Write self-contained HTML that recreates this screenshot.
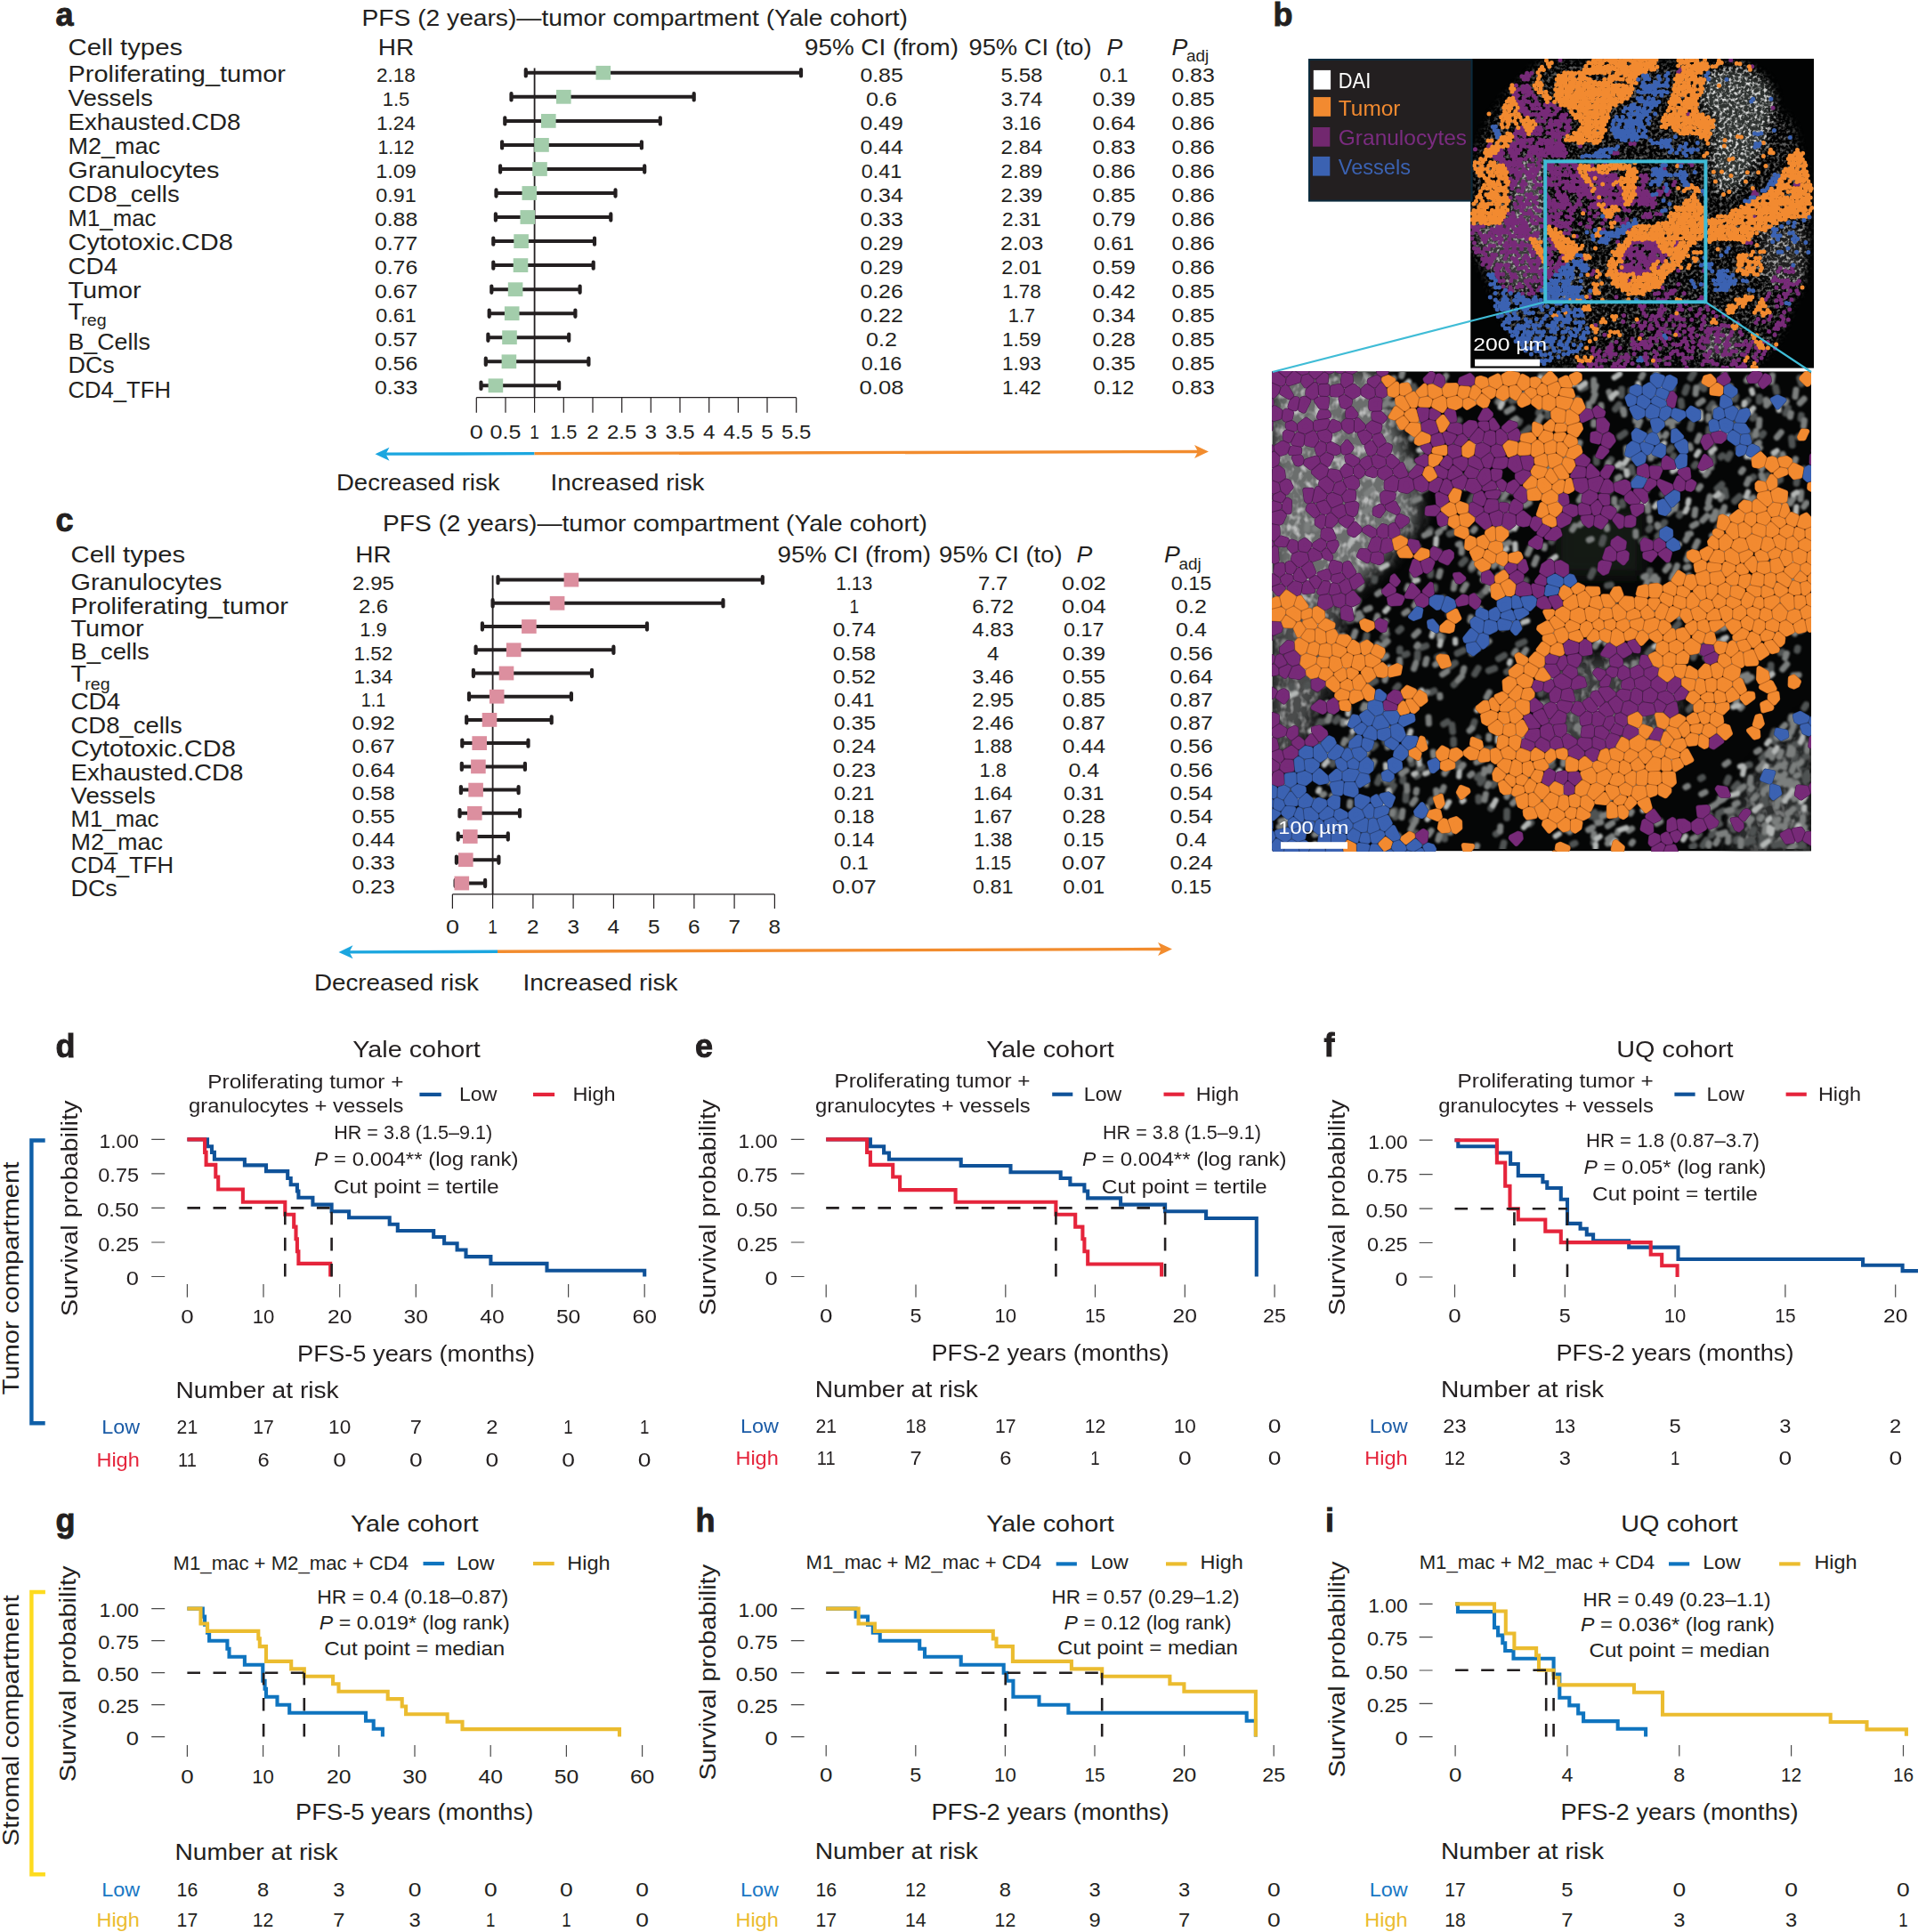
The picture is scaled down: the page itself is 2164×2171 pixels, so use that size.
<!DOCTYPE html><html><head><meta charset="utf-8"><title>Figure</title><style>html,body{margin:0;padding:0;background:#fff}svg{display:block}text{font-family:"Liberation Sans",sans-serif}</style></head><body>
<svg width="2164" height="2171" viewBox="0 0 2164 2171">
<rect width="2164" height="2171" fill="#fff"/>
<g fill="#231f20">
<g>
<text x="62.5" y="28.7" font-size="36.0" font-weight="bold" stroke="#231f20" stroke-width="0.9">a</text>
<text x="406.5" y="28.7" font-size="25.4" textLength="613.5" lengthAdjust="spacingAndGlyphs">PFS (2 years)—tumor compartment (Yale cohort)</text>
<text x="76.5" y="61.8" font-size="25.4" textLength="128.6" lengthAdjust="spacingAndGlyphs">Cell types</text>
<text x="424.8" y="61.8" font-size="25.4" textLength="40.4" lengthAdjust="spacingAndGlyphs">HR</text>
<text x="904.0" y="61.8" font-size="25.4" textLength="173.0" lengthAdjust="spacingAndGlyphs">95% CI (from)</text>
<text x="1088.5" y="61.8" font-size="25.4" textLength="138.0" lengthAdjust="spacingAndGlyphs">95% CI (to)</text>
<text x="1243.5" y="61.8" font-size="25.4" textLength="17.8" lengthAdjust="spacingAndGlyphs" font-style="italic">P</text>
<text x="1316.5" y="61.8" font-size="25.4" textLength="17.8" lengthAdjust="spacingAndGlyphs" font-style="italic">P</text>
<text x="1333.0" y="69.3" font-size="17.5" textLength="25.2" lengthAdjust="spacingAndGlyphs">adj</text>
<path d="M600.6 76.5V446.7" stroke="#231f20" stroke-width="1.8" fill="none"/>
<path d="M535.3 446.7H894.7M535.3 446.7v17.0M568.0 446.7v17.0M600.6 446.7v17.0M633.3 446.7v17.0M666.0 446.7v17.0M698.7 446.7v17.0M731.3 446.7v17.0M764.0 446.7v17.0M796.7 446.7v17.0M829.4 446.7v17.0M862.0 446.7v17.0M894.7 446.7v17.0" stroke="#231f20" stroke-width="1.2" fill="none"/>
<text x="527.8" y="492.7" font-size="22.5" textLength="15.0" lengthAdjust="spacingAndGlyphs">0</text>
<text x="550.6" y="492.7" font-size="22.5" textLength="34.8" lengthAdjust="spacingAndGlyphs">0.5</text>
<text x="595.3" y="492.7" font-size="22.5" textLength="10.6" lengthAdjust="spacingAndGlyphs">1</text>
<text x="618.1" y="492.7" font-size="22.5" textLength="30.4" lengthAdjust="spacingAndGlyphs">1.5</text>
<text x="659.2" y="492.7" font-size="22.5" textLength="13.5" lengthAdjust="spacingAndGlyphs">2</text>
<text x="682.0" y="492.7" font-size="22.5" textLength="33.3" lengthAdjust="spacingAndGlyphs">2.5</text>
<text x="724.6" y="492.7" font-size="22.5" textLength="13.5" lengthAdjust="spacingAndGlyphs">3</text>
<text x="747.4" y="492.7" font-size="22.5" textLength="33.3" lengthAdjust="spacingAndGlyphs">3.5</text>
<text x="789.9" y="492.7" font-size="22.5" textLength="13.5" lengthAdjust="spacingAndGlyphs">4</text>
<text x="812.7" y="492.7" font-size="22.5" textLength="33.3" lengthAdjust="spacingAndGlyphs">4.5</text>
<text x="855.3" y="492.7" font-size="22.5" textLength="13.5" lengthAdjust="spacingAndGlyphs">5</text>
<text x="878.1" y="492.7" font-size="22.5" textLength="33.3" lengthAdjust="spacingAndGlyphs">5.5</text>
<text x="76.5" y="91.6" font-size="25.4" textLength="244.5" lengthAdjust="spacingAndGlyphs">Proliferating_tumor</text>
<text x="423.0" y="91.6" font-size="22.5">2.18</text>
<text x="966.4" y="91.6" font-size="22.5" textLength="48.3" lengthAdjust="spacingAndGlyphs">0.85</text>
<text x="1124.6" y="91.6" font-size="22.5" textLength="46.8" lengthAdjust="spacingAndGlyphs">5.58</text>
<text x="1235.5" y="91.6" font-size="22.5" textLength="31.9" lengthAdjust="spacingAndGlyphs">0.1</text>
<text x="1316.4" y="91.6" font-size="22.5" textLength="48.3" lengthAdjust="spacingAndGlyphs">0.83</text>
<text x="76.5" y="118.6" font-size="25.4" textLength="95.3" lengthAdjust="spacingAndGlyphs">Vessels</text>
<text x="429.8" y="118.6" font-size="22.5" textLength="30.4" lengthAdjust="spacingAndGlyphs">1.5</text>
<text x="973.1" y="118.6" font-size="22.5" textLength="34.8" lengthAdjust="spacingAndGlyphs">0.6</text>
<text x="1124.6" y="118.6" font-size="22.5" textLength="46.8" lengthAdjust="spacingAndGlyphs">3.74</text>
<text x="1227.4" y="118.6" font-size="22.5" textLength="48.3" lengthAdjust="spacingAndGlyphs">0.39</text>
<text x="1316.4" y="118.6" font-size="22.5" textLength="48.3" lengthAdjust="spacingAndGlyphs">0.85</text>
<text x="76.5" y="145.7" font-size="25.4" textLength="194.0" lengthAdjust="spacingAndGlyphs">Exhausted.CD8</text>
<text x="423.0" y="145.7" font-size="22.5">1.24</text>
<text x="966.4" y="145.7" font-size="22.5" textLength="48.3" lengthAdjust="spacingAndGlyphs">0.49</text>
<text x="1126.0" y="145.7" font-size="22.5">3.16</text>
<text x="1227.4" y="145.7" font-size="22.5" textLength="48.3" lengthAdjust="spacingAndGlyphs">0.64</text>
<text x="1316.4" y="145.7" font-size="22.5" textLength="48.3" lengthAdjust="spacingAndGlyphs">0.86</text>
<text x="76.5" y="172.8" font-size="25.4" textLength="103.5" lengthAdjust="spacingAndGlyphs">M2_mac</text>
<text x="424.5" y="172.7" font-size="22.5" textLength="41.0" lengthAdjust="spacingAndGlyphs">1.12</text>
<text x="966.4" y="172.7" font-size="22.5" textLength="48.3" lengthAdjust="spacingAndGlyphs">0.44</text>
<text x="1124.6" y="172.7" font-size="22.5" textLength="46.8" lengthAdjust="spacingAndGlyphs">2.84</text>
<text x="1227.4" y="172.7" font-size="22.5" textLength="48.3" lengthAdjust="spacingAndGlyphs">0.83</text>
<text x="1316.4" y="172.7" font-size="22.5" textLength="48.3" lengthAdjust="spacingAndGlyphs">0.86</text>
<text x="76.5" y="199.8" font-size="25.4" textLength="170.0" lengthAdjust="spacingAndGlyphs">Granulocytes</text>
<text x="422.3" y="199.8" font-size="22.5" textLength="45.4" lengthAdjust="spacingAndGlyphs">1.09</text>
<text x="967.8" y="199.8" font-size="22.5" textLength="45.4" lengthAdjust="spacingAndGlyphs">0.41</text>
<text x="1124.6" y="199.8" font-size="22.5" textLength="46.8" lengthAdjust="spacingAndGlyphs">2.89</text>
<text x="1227.4" y="199.8" font-size="22.5" textLength="48.3" lengthAdjust="spacingAndGlyphs">0.86</text>
<text x="1316.4" y="199.8" font-size="22.5" textLength="48.3" lengthAdjust="spacingAndGlyphs">0.86</text>
<text x="76.5" y="226.8" font-size="25.4" textLength="125.2" lengthAdjust="spacingAndGlyphs">CD8_cells</text>
<text x="422.3" y="226.8" font-size="22.5" textLength="45.4" lengthAdjust="spacingAndGlyphs">0.91</text>
<text x="966.4" y="226.8" font-size="22.5" textLength="48.3" lengthAdjust="spacingAndGlyphs">0.34</text>
<text x="1124.6" y="226.8" font-size="22.5" textLength="46.8" lengthAdjust="spacingAndGlyphs">2.39</text>
<text x="1227.4" y="226.8" font-size="22.5" textLength="48.3" lengthAdjust="spacingAndGlyphs">0.85</text>
<text x="1316.4" y="226.8" font-size="22.5" textLength="48.3" lengthAdjust="spacingAndGlyphs">0.86</text>
<text x="76.5" y="253.9" font-size="25.4" textLength="99.0" lengthAdjust="spacingAndGlyphs">M1_mac</text>
<text x="420.9" y="253.8" font-size="22.5" textLength="48.3" lengthAdjust="spacingAndGlyphs">0.88</text>
<text x="966.4" y="253.8" font-size="22.5" textLength="48.3" lengthAdjust="spacingAndGlyphs">0.33</text>
<text x="1126.0" y="253.8" font-size="22.5">2.31</text>
<text x="1227.4" y="253.8" font-size="22.5" textLength="48.3" lengthAdjust="spacingAndGlyphs">0.79</text>
<text x="1316.4" y="253.8" font-size="22.5" textLength="48.3" lengthAdjust="spacingAndGlyphs">0.86</text>
<text x="76.5" y="280.9" font-size="25.4" textLength="185.4" lengthAdjust="spacingAndGlyphs">Cytotoxic.CD8</text>
<text x="420.9" y="280.9" font-size="22.5" textLength="48.3" lengthAdjust="spacingAndGlyphs">0.77</text>
<text x="966.4" y="280.9" font-size="22.5" textLength="48.3" lengthAdjust="spacingAndGlyphs">0.29</text>
<text x="1123.9" y="280.9" font-size="22.5" textLength="48.3" lengthAdjust="spacingAndGlyphs">2.03</text>
<text x="1228.8" y="280.9" font-size="22.5" textLength="45.4" lengthAdjust="spacingAndGlyphs">0.61</text>
<text x="1316.4" y="280.9" font-size="22.5" textLength="48.3" lengthAdjust="spacingAndGlyphs">0.86</text>
<text x="76.5" y="308.0" font-size="25.4" textLength="55.7" lengthAdjust="spacingAndGlyphs">CD4</text>
<text x="420.9" y="307.9" font-size="22.5" textLength="48.3" lengthAdjust="spacingAndGlyphs">0.76</text>
<text x="966.4" y="307.9" font-size="22.5" textLength="48.3" lengthAdjust="spacingAndGlyphs">0.29</text>
<text x="1125.3" y="307.9" font-size="22.5" textLength="45.4" lengthAdjust="spacingAndGlyphs">2.01</text>
<text x="1227.4" y="307.9" font-size="22.5" textLength="48.3" lengthAdjust="spacingAndGlyphs">0.59</text>
<text x="1316.4" y="307.9" font-size="22.5" textLength="48.3" lengthAdjust="spacingAndGlyphs">0.86</text>
<text x="76.5" y="335.1" font-size="25.4" textLength="82.2" lengthAdjust="spacingAndGlyphs">Tumor</text>
<text x="420.9" y="335.0" font-size="22.5" textLength="48.3" lengthAdjust="spacingAndGlyphs">0.67</text>
<text x="966.4" y="335.0" font-size="22.5" textLength="48.3" lengthAdjust="spacingAndGlyphs">0.26</text>
<text x="1126.0" y="335.0" font-size="22.5">1.78</text>
<text x="1227.4" y="335.0" font-size="22.5" textLength="48.3" lengthAdjust="spacingAndGlyphs">0.42</text>
<text x="1316.4" y="335.0" font-size="22.5" textLength="48.3" lengthAdjust="spacingAndGlyphs">0.85</text>
<text x="76.5" y="358.9" font-size="25.4" textLength="17.5" lengthAdjust="spacingAndGlyphs">T</text>
<text x="91.3" y="366.4" font-size="17.5" textLength="28.3" lengthAdjust="spacingAndGlyphs">reg</text>
<text x="422.3" y="362.0" font-size="22.5" textLength="45.4" lengthAdjust="spacingAndGlyphs">0.61</text>
<text x="966.4" y="362.0" font-size="22.5" textLength="48.3" lengthAdjust="spacingAndGlyphs">0.22</text>
<text x="1132.8" y="362.0" font-size="22.5" textLength="30.4" lengthAdjust="spacingAndGlyphs">1.7</text>
<text x="1227.4" y="362.0" font-size="22.5" textLength="48.3" lengthAdjust="spacingAndGlyphs">0.34</text>
<text x="1316.4" y="362.0" font-size="22.5" textLength="48.3" lengthAdjust="spacingAndGlyphs">0.85</text>
<text x="76.5" y="392.5" font-size="25.4" textLength="92.3" lengthAdjust="spacingAndGlyphs">B_Cells</text>
<text x="420.9" y="389.0" font-size="22.5" textLength="48.3" lengthAdjust="spacingAndGlyphs">0.57</text>
<text x="973.1" y="389.0" font-size="22.5" textLength="34.8" lengthAdjust="spacingAndGlyphs">0.2</text>
<text x="1126.0" y="389.0" font-size="22.5">1.59</text>
<text x="1227.4" y="389.0" font-size="22.5" textLength="48.3" lengthAdjust="spacingAndGlyphs">0.28</text>
<text x="1316.4" y="389.0" font-size="22.5" textLength="48.3" lengthAdjust="spacingAndGlyphs">0.85</text>
<text x="76.5" y="419.4" font-size="25.4" textLength="52.3" lengthAdjust="spacingAndGlyphs">DCs</text>
<text x="420.9" y="416.1" font-size="22.5" textLength="48.3" lengthAdjust="spacingAndGlyphs">0.56</text>
<text x="967.8" y="416.1" font-size="22.5" textLength="45.4" lengthAdjust="spacingAndGlyphs">0.16</text>
<text x="1126.0" y="416.1" font-size="22.5">1.93</text>
<text x="1227.4" y="416.1" font-size="22.5" textLength="48.3" lengthAdjust="spacingAndGlyphs">0.35</text>
<text x="1316.4" y="416.1" font-size="22.5" textLength="48.3" lengthAdjust="spacingAndGlyphs">0.85</text>
<text x="76.5" y="446.7" font-size="25.4" textLength="115.5" lengthAdjust="spacingAndGlyphs">CD4_TFH</text>
<text x="420.9" y="443.1" font-size="22.5" textLength="48.3" lengthAdjust="spacingAndGlyphs">0.33</text>
<text x="965.6" y="443.1" font-size="22.5" textLength="49.8" lengthAdjust="spacingAndGlyphs">0.08</text>
<text x="1126.0" y="443.1" font-size="22.5">1.42</text>
<text x="1228.8" y="443.1" font-size="22.5" textLength="45.4" lengthAdjust="spacingAndGlyphs">0.12</text>
<text x="1316.4" y="443.1" font-size="22.5" textLength="48.3" lengthAdjust="spacingAndGlyphs">0.83</text>
<path d="M590.8 81.8H900.0M574.5 108.8H779.7M567.3 135.9H741.8M564.1 162.9H720.9M562.1 190.0H724.2M557.5 217.0H691.5M556.9 244.0H686.3M554.3 271.1H668.0M554.3 298.1H666.7M552.3 325.2H651.6M549.7 352.2H646.4M548.4 379.2H639.2M545.8 406.3H661.4M540.5 433.3H628.1" stroke="#231f20" stroke-width="4" fill="none"/>
<path d="M590.8 78.2v7.2M900.0 78.2v7.2M574.5 105.2v7.2M779.7 105.2v7.2M567.3 132.3v7.2M741.8 132.3v7.2M564.1 159.3v7.2M720.9 159.3v7.2M562.1 186.4v7.2M724.2 186.4v7.2M557.5 213.4v7.2M691.5 213.4v7.2M556.9 240.4v7.2M686.3 240.4v7.2M554.3 267.5v7.2M668.0 267.5v7.2M554.3 294.5v7.2M666.7 294.5v7.2M552.3 321.6v7.2M651.6 321.6v7.2M549.7 348.6v7.2M646.4 348.6v7.2M548.4 375.6v7.2M639.2 375.6v7.2M545.8 402.7v7.2M661.4 402.7v7.2M540.5 429.7v7.2M628.1 429.7v7.2" stroke="#231f20" stroke-width="4.2" stroke-linecap="round" fill="none"/>
<g fill="#a3cdab"><rect x="669.5" y="73.9" width="16.6" height="15.8"/><rect x="625.0" y="100.9" width="16.6" height="15.8"/><rect x="608.0" y="128.0" width="16.6" height="15.8"/><rect x="600.2" y="155.0" width="16.6" height="15.8"/><rect x="598.2" y="182.1" width="16.6" height="15.8"/><rect x="586.5" y="209.1" width="16.6" height="15.8"/><rect x="584.5" y="236.1" width="16.6" height="15.8"/><rect x="577.3" y="263.2" width="16.6" height="15.8"/><rect x="576.7" y="290.2" width="16.6" height="15.8"/><rect x="570.8" y="317.3" width="16.6" height="15.8"/><rect x="566.9" y="344.3" width="16.6" height="15.8"/><rect x="564.2" y="371.3" width="16.6" height="15.8"/><rect x="563.6" y="398.4" width="16.6" height="15.8"/><rect x="548.6" y="425.4" width="16.6" height="15.8"/></g>
<g transform="rotate(-0.17 889.8 508.8)">
<path d="M429.5 508.8H600.5" stroke="#1ba6df" stroke-width="3.4"/>
<path d="M421.5 508.8l16 -7.5l-4 7.5l4 7.5z" fill="#1ba6df"/>
<path d="M600.5 508.8H1350.0" stroke="#f28c2e" stroke-width="3.4"/>
<path d="M1358.0 508.8l-16 -7.5l4 7.5l-4 7.5z" fill="#f28c2e"/>
</g>
<text x="378.0" y="551.4" font-size="25.4" textLength="183.5" lengthAdjust="spacingAndGlyphs">Decreased risk</text>
<text x="618.5" y="551.4" font-size="25.4" textLength="173.0" lengthAdjust="spacingAndGlyphs">Increased risk</text>
</g>
<g>
<text x="62.5" y="596.6" font-size="36.0" font-weight="bold" stroke="#231f20" stroke-width="0.9">c</text>
<text x="430.0" y="596.6" font-size="25.4" textLength="612.0" lengthAdjust="spacingAndGlyphs">PFS (2 years)—tumor compartment (Yale cohort)</text>
<text x="79.5" y="632.0" font-size="25.4" textLength="128.6" lengthAdjust="spacingAndGlyphs">Cell types</text>
<text x="399.3" y="632.0" font-size="25.4" textLength="40.4" lengthAdjust="spacingAndGlyphs">HR</text>
<text x="873.5" y="632.0" font-size="25.4" textLength="172.5" lengthAdjust="spacingAndGlyphs">95% CI (from)</text>
<text x="1055.0" y="632.0" font-size="25.4" textLength="138.5" lengthAdjust="spacingAndGlyphs">95% CI (to)</text>
<text x="1209.5" y="632.0" font-size="25.4" textLength="17.8" lengthAdjust="spacingAndGlyphs" font-style="italic">P</text>
<text x="1308.0" y="632.0" font-size="25.4" textLength="17.8" lengthAdjust="spacingAndGlyphs" font-style="italic">P</text>
<text x="1324.5" y="639.5" font-size="17.5" textLength="25.2" lengthAdjust="spacingAndGlyphs">adj</text>
<path d="M553.6 646.5V1004.9" stroke="#231f20" stroke-width="1.8" fill="none"/>
<path d="M508.4 1004.9H870.4M508.4 1004.9v16.0M553.6 1004.9v16.0M598.9 1004.9v16.0M644.1 1004.9v16.0M689.4 1004.9v16.0M734.6 1004.9v16.0M779.9 1004.9v16.0M825.1 1004.9v16.0M870.4 1004.9v16.0" stroke="#231f20" stroke-width="1.2" fill="none"/>
<text x="500.9" y="1049.0" font-size="22.5" textLength="15.0" lengthAdjust="spacingAndGlyphs">0</text>
<text x="548.3" y="1049.0" font-size="22.5" textLength="10.6" lengthAdjust="spacingAndGlyphs">1</text>
<text x="592.1" y="1049.0" font-size="22.5" textLength="13.5" lengthAdjust="spacingAndGlyphs">2</text>
<text x="637.4" y="1049.0" font-size="22.5" textLength="13.5" lengthAdjust="spacingAndGlyphs">3</text>
<text x="682.6" y="1049.0" font-size="22.5" textLength="13.5" lengthAdjust="spacingAndGlyphs">4</text>
<text x="727.9" y="1049.0" font-size="22.5" textLength="13.5" lengthAdjust="spacingAndGlyphs">5</text>
<text x="773.1" y="1049.0" font-size="22.5" textLength="13.5" lengthAdjust="spacingAndGlyphs">6</text>
<text x="818.4" y="1049.0" font-size="22.5" textLength="13.5" lengthAdjust="spacingAndGlyphs">7</text>
<text x="863.6" y="1049.0" font-size="22.5" textLength="13.5" lengthAdjust="spacingAndGlyphs">8</text>
<text x="79.5" y="662.8" font-size="25.4" textLength="170.0" lengthAdjust="spacingAndGlyphs">Granulocytes</text>
<text x="396.1" y="662.8" font-size="22.5" textLength="46.8" lengthAdjust="spacingAndGlyphs">2.95</text>
<text x="939.3" y="662.8" font-size="22.5" textLength="41.0" lengthAdjust="spacingAndGlyphs">1.13</text>
<text x="1099.1" y="662.8" font-size="22.5" textLength="33.3" lengthAdjust="spacingAndGlyphs">7.7</text>
<text x="1192.9" y="662.8" font-size="22.5" textLength="49.8" lengthAdjust="spacingAndGlyphs">0.02</text>
<text x="1315.8" y="662.8" font-size="22.5" textLength="45.4" lengthAdjust="spacingAndGlyphs">0.15</text>
<text x="79.5" y="689.7" font-size="25.4" textLength="244.5" lengthAdjust="spacingAndGlyphs">Proliferating_tumor</text>
<text x="402.9" y="689.0" font-size="22.5" textLength="33.3" lengthAdjust="spacingAndGlyphs">2.6</text>
<text x="954.5" y="689.0" font-size="22.5" textLength="10.6" lengthAdjust="spacingAndGlyphs">1</text>
<text x="1092.3" y="689.0" font-size="22.5" textLength="46.8" lengthAdjust="spacingAndGlyphs">6.72</text>
<text x="1192.9" y="689.0" font-size="22.5" textLength="49.8" lengthAdjust="spacingAndGlyphs">0.04</text>
<text x="1321.1" y="689.0" font-size="22.5" textLength="34.8" lengthAdjust="spacingAndGlyphs">0.2</text>
<text x="79.5" y="715.1" font-size="25.4" textLength="82.2" lengthAdjust="spacingAndGlyphs">Tumor</text>
<text x="404.3" y="715.2" font-size="22.5" textLength="30.4" lengthAdjust="spacingAndGlyphs">1.9</text>
<text x="935.7" y="715.2" font-size="22.5" textLength="48.3" lengthAdjust="spacingAndGlyphs">0.74</text>
<text x="1092.3" y="715.2" font-size="22.5" textLength="46.8" lengthAdjust="spacingAndGlyphs">4.83</text>
<text x="1195.1" y="715.2" font-size="22.5" textLength="45.4" lengthAdjust="spacingAndGlyphs">0.17</text>
<text x="1321.1" y="715.2" font-size="22.5" textLength="34.8" lengthAdjust="spacingAndGlyphs">0.4</text>
<text x="79.5" y="741.3" font-size="25.4" textLength="88.2" lengthAdjust="spacingAndGlyphs">B_cells</text>
<text x="397.5" y="741.5" font-size="22.5">1.52</text>
<text x="935.7" y="741.5" font-size="22.5" textLength="48.3" lengthAdjust="spacingAndGlyphs">0.58</text>
<text x="1108.9" y="741.5" font-size="22.5" textLength="13.5" lengthAdjust="spacingAndGlyphs">4</text>
<text x="1193.7" y="741.5" font-size="22.5" textLength="48.3" lengthAdjust="spacingAndGlyphs">0.39</text>
<text x="1314.4" y="741.5" font-size="22.5" textLength="48.3" lengthAdjust="spacingAndGlyphs">0.56</text>
<text x="79.5" y="765.6" font-size="25.4" textLength="17.5" lengthAdjust="spacingAndGlyphs">T</text>
<text x="95.3" y="774.7" font-size="17.5" textLength="28.3" lengthAdjust="spacingAndGlyphs">reg</text>
<text x="397.5" y="767.7" font-size="22.5">1.34</text>
<text x="935.7" y="767.7" font-size="22.5" textLength="48.3" lengthAdjust="spacingAndGlyphs">0.52</text>
<text x="1092.3" y="767.7" font-size="22.5" textLength="46.8" lengthAdjust="spacingAndGlyphs">3.46</text>
<text x="1193.7" y="767.7" font-size="22.5" textLength="48.3" lengthAdjust="spacingAndGlyphs">0.55</text>
<text x="1314.4" y="767.7" font-size="22.5" textLength="48.3" lengthAdjust="spacingAndGlyphs">0.64</text>
<text x="79.5" y="797.4" font-size="25.4" textLength="55.7" lengthAdjust="spacingAndGlyphs">CD4</text>
<text x="405.7" y="793.9" font-size="22.5" textLength="27.5" lengthAdjust="spacingAndGlyphs">1.1</text>
<text x="937.1" y="793.9" font-size="22.5" textLength="45.4" lengthAdjust="spacingAndGlyphs">0.41</text>
<text x="1092.3" y="793.9" font-size="22.5" textLength="46.8" lengthAdjust="spacingAndGlyphs">2.95</text>
<text x="1193.7" y="793.9" font-size="22.5" textLength="48.3" lengthAdjust="spacingAndGlyphs">0.85</text>
<text x="1314.4" y="793.9" font-size="22.5" textLength="48.3" lengthAdjust="spacingAndGlyphs">0.87</text>
<text x="79.5" y="823.6" font-size="25.4" textLength="125.2" lengthAdjust="spacingAndGlyphs">CD8_cells</text>
<text x="395.4" y="820.1" font-size="22.5" textLength="48.3" lengthAdjust="spacingAndGlyphs">0.92</text>
<text x="935.7" y="820.1" font-size="22.5" textLength="48.3" lengthAdjust="spacingAndGlyphs">0.35</text>
<text x="1092.3" y="820.1" font-size="22.5" textLength="46.8" lengthAdjust="spacingAndGlyphs">2.46</text>
<text x="1193.7" y="820.1" font-size="22.5" textLength="48.3" lengthAdjust="spacingAndGlyphs">0.87</text>
<text x="1314.4" y="820.1" font-size="22.5" textLength="48.3" lengthAdjust="spacingAndGlyphs">0.87</text>
<text x="79.5" y="849.7" font-size="25.4" textLength="185.4" lengthAdjust="spacingAndGlyphs">Cytotoxic.CD8</text>
<text x="395.4" y="846.3" font-size="22.5" textLength="48.3" lengthAdjust="spacingAndGlyphs">0.67</text>
<text x="935.7" y="846.3" font-size="22.5" textLength="48.3" lengthAdjust="spacingAndGlyphs">0.24</text>
<text x="1093.7" y="846.3" font-size="22.5">1.88</text>
<text x="1193.7" y="846.3" font-size="22.5" textLength="48.3" lengthAdjust="spacingAndGlyphs">0.44</text>
<text x="1314.4" y="846.3" font-size="22.5" textLength="48.3" lengthAdjust="spacingAndGlyphs">0.56</text>
<text x="79.5" y="877.0" font-size="25.4" textLength="194.0" lengthAdjust="spacingAndGlyphs">Exhausted.CD8</text>
<text x="395.4" y="872.6" font-size="22.5" textLength="48.3" lengthAdjust="spacingAndGlyphs">0.64</text>
<text x="935.7" y="872.6" font-size="22.5" textLength="48.3" lengthAdjust="spacingAndGlyphs">0.23</text>
<text x="1100.5" y="872.6" font-size="22.5" textLength="30.4" lengthAdjust="spacingAndGlyphs">1.8</text>
<text x="1200.4" y="872.6" font-size="22.5" textLength="34.8" lengthAdjust="spacingAndGlyphs">0.4</text>
<text x="1314.4" y="872.6" font-size="22.5" textLength="48.3" lengthAdjust="spacingAndGlyphs">0.56</text>
<text x="79.5" y="903.2" font-size="25.4" textLength="95.3" lengthAdjust="spacingAndGlyphs">Vessels</text>
<text x="395.4" y="898.8" font-size="22.5" textLength="48.3" lengthAdjust="spacingAndGlyphs">0.58</text>
<text x="937.1" y="898.8" font-size="22.5" textLength="45.4" lengthAdjust="spacingAndGlyphs">0.21</text>
<text x="1093.7" y="898.8" font-size="22.5">1.64</text>
<text x="1195.1" y="898.8" font-size="22.5" textLength="45.4" lengthAdjust="spacingAndGlyphs">0.31</text>
<text x="1314.4" y="898.8" font-size="22.5" textLength="48.3" lengthAdjust="spacingAndGlyphs">0.54</text>
<text x="79.5" y="929.3" font-size="25.4" textLength="99.0" lengthAdjust="spacingAndGlyphs">M1_mac</text>
<text x="395.4" y="925.0" font-size="22.5" textLength="48.3" lengthAdjust="spacingAndGlyphs">0.55</text>
<text x="937.1" y="925.0" font-size="22.5" textLength="45.4" lengthAdjust="spacingAndGlyphs">0.18</text>
<text x="1093.7" y="925.0" font-size="22.5">1.67</text>
<text x="1193.7" y="925.0" font-size="22.5" textLength="48.3" lengthAdjust="spacingAndGlyphs">0.28</text>
<text x="1314.4" y="925.0" font-size="22.5" textLength="48.3" lengthAdjust="spacingAndGlyphs">0.54</text>
<text x="79.5" y="955.1" font-size="25.4" textLength="103.5" lengthAdjust="spacingAndGlyphs">M2_mac</text>
<text x="395.4" y="951.2" font-size="22.5" textLength="48.3" lengthAdjust="spacingAndGlyphs">0.44</text>
<text x="937.1" y="951.2" font-size="22.5" textLength="45.4" lengthAdjust="spacingAndGlyphs">0.14</text>
<text x="1093.7" y="951.2" font-size="22.5">1.38</text>
<text x="1195.1" y="951.2" font-size="22.5" textLength="45.4" lengthAdjust="spacingAndGlyphs">0.15</text>
<text x="1321.1" y="951.2" font-size="22.5" textLength="34.8" lengthAdjust="spacingAndGlyphs">0.4</text>
<text x="79.5" y="981.3" font-size="25.4" textLength="115.5" lengthAdjust="spacingAndGlyphs">CD4_TFH</text>
<text x="395.4" y="977.4" font-size="22.5" textLength="48.3" lengthAdjust="spacingAndGlyphs">0.33</text>
<text x="943.8" y="977.4" font-size="22.5" textLength="31.9" lengthAdjust="spacingAndGlyphs">0.1</text>
<text x="1095.2" y="977.4" font-size="22.5" textLength="41.0" lengthAdjust="spacingAndGlyphs">1.15</text>
<text x="1192.9" y="977.4" font-size="22.5" textLength="49.8" lengthAdjust="spacingAndGlyphs">0.07</text>
<text x="1314.4" y="977.4" font-size="22.5" textLength="48.3" lengthAdjust="spacingAndGlyphs">0.24</text>
<text x="79.5" y="1006.7" font-size="25.4" textLength="52.3" lengthAdjust="spacingAndGlyphs">DCs</text>
<text x="395.4" y="1003.7" font-size="22.5" textLength="48.3" lengthAdjust="spacingAndGlyphs">0.23</text>
<text x="934.9" y="1003.7" font-size="22.5" textLength="49.8" lengthAdjust="spacingAndGlyphs">0.07</text>
<text x="1093.0" y="1003.7" font-size="22.5" textLength="45.4" lengthAdjust="spacingAndGlyphs">0.81</text>
<text x="1194.3" y="1003.7" font-size="22.5" textLength="46.9" lengthAdjust="spacingAndGlyphs">0.01</text>
<text x="1315.8" y="1003.7" font-size="22.5" textLength="45.4" lengthAdjust="spacingAndGlyphs">0.15</text>
<path d="M559.5 651.6H856.8M553.6 677.8H812.5M541.9 704.0H727.0M534.6 730.3H689.4M531.9 756.5H665.0M527.0 782.7H641.9M524.2 808.9H619.7M519.3 835.1H593.5M518.8 861.4H589.9M517.9 887.6H582.6M516.5 913.8H584.0M514.7 940.0H570.8M512.9 966.2H560.4M511.6 992.5H545.1" stroke="#231f20" stroke-width="4" fill="none"/>
<path d="M559.5 648.0v7.2M856.8 648.0v7.2M553.6 674.2v7.2M812.5 674.2v7.2M541.9 700.4v7.2M727.0 700.4v7.2M534.6 726.7v7.2M689.4 726.7v7.2M531.9 752.9v7.2M665.0 752.9v7.2M527.0 779.1v7.2M641.9 779.1v7.2M524.2 805.3v7.2M619.7 805.3v7.2M519.3 831.5v7.2M593.5 831.5v7.2M518.8 857.8v7.2M589.9 857.8v7.2M517.9 884.0v7.2M582.6 884.0v7.2M516.5 910.2v7.2M584.0 910.2v7.2M514.7 936.4v7.2M570.8 936.4v7.2M512.9 962.6v7.2M560.4 962.6v7.2M511.6 988.9v7.2M545.1 988.9v7.2" stroke="#231f20" stroke-width="4.2" stroke-linecap="round" fill="none"/>
<g fill="#dc8f9f"><rect x="633.6" y="643.7" width="16.6" height="15.8"/><rect x="617.8" y="669.9" width="16.6" height="15.8"/><rect x="586.1" y="696.1" width="16.6" height="15.8"/><rect x="568.9" y="722.4" width="16.6" height="15.8"/><rect x="560.7" y="748.6" width="16.6" height="15.8"/><rect x="549.9" y="774.8" width="16.6" height="15.8"/><rect x="541.7" y="801.0" width="16.6" height="15.8"/><rect x="530.4" y="827.2" width="16.6" height="15.8"/><rect x="529.1" y="853.5" width="16.6" height="15.8"/><rect x="526.3" y="879.7" width="16.6" height="15.8"/><rect x="525.0" y="905.9" width="16.6" height="15.8"/><rect x="520.0" y="932.1" width="16.6" height="15.8"/><rect x="515.0" y="958.3" width="16.6" height="15.8"/><rect x="510.5" y="984.6" width="16.6" height="15.8"/></g>
<g transform="rotate(-0.21 848.8 1068.2)">
<path d="M388.5 1068.2H559.0" stroke="#1ba6df" stroke-width="3.4"/>
<path d="M380.5 1068.2l16 -7.5l-4 7.5l4 7.5z" fill="#1ba6df"/>
<path d="M559.0 1068.2H1309.0" stroke="#f28c2e" stroke-width="3.4"/>
<path d="M1317.0 1068.2l-16 -7.5l4 7.5l-4 7.5z" fill="#f28c2e"/>
</g>
<text x="353.0" y="1113.3" font-size="25.4" textLength="185.0" lengthAdjust="spacingAndGlyphs">Decreased risk</text>
<text x="587.5" y="1113.3" font-size="25.4" textLength="174.0" lengthAdjust="spacingAndGlyphs">Increased risk</text>
</g>
<text x="1430.5" y="29.0" font-size="36.0" font-weight="bold" stroke="#231f20" stroke-width="0.9">b</text>
<g>
<defs><clipPath id="ct"><rect x="1652.3" y="66.0" width="385.7" height="347.6"/></clipPath>
<filter id="nzt" x="0" y="0" width="100%" height="100%" color-interpolation-filters="sRGB"><feTurbulence type="fractalNoise" baseFrequency="0.28" numOctaves="2" seed="2"/><feColorMatrix type="matrix" values="3.6 0 0 0 -1.65  3.6 0 0 0 -1.65  3.6 0 0 0 -1.65  0 0 0 0 1"/></filter>
<filter id="bl5" x="-20%" y="-20%" width="140%" height="140%"><feGaussianBlur stdDeviation="5"/></filter>
<mask id="mt" maskUnits="userSpaceOnUse" x="1652.3" y="66.0" width="385.7" height="347.6"><g filter="url(#bl5)"><polygon points="1734,69 1728,73 1697,102 1676,129 1662,160 1655,184 1655,288 1664,297 1664,297 1665,298 1665,298 1665,299 1679,333 1691,363 1706,383 1726,400 1726,401 1726,401 1735,411 1973,411 1992,389 2006,364 2014,338 2014,338 2014,337 2014,337 2015,337 2022,328 2025,298 2025,297 2025,297 2031,278 2028,269 2028,268 2028,268 2028,267 2028,267 2028,266 2032,248 2031,200 2022,169 2022,169 2018,149 2012,135 1999,126 1999,126 1999,126 1998,125 1998,125 1998,125 1997,124 1997,124 1993,110 1993,110 1989,97 1982,86 1972,78 1958,69 1734,69" fill="#5c5c5c"/>
<polygon points="1921,80 1954,75 1985,90 1995,111 1990,139 1983,162 1972,187 1954,214 1931,220 1923,189 1925,147 1927,133 1911,116 1913,94" fill="#d4d4d4"/>
<polygon points="1702,178 1733,178 1733,244 1697,244" fill="#a0a0a0"/>
<polygon points="1652,254 1734,236 1734,321 1704,329 1671,301" fill="#8c8c8c"/>
<polygon points="1975,252 2032,252 2027,319 1996,329 1975,309" fill="#a0a0a0"/>
<polygon points="1913,371 1954,371 1954,402 1913,402" fill="#888"/>
<polygon points="1736,298 1775,298 1785,340 1736,340" fill="#888"/>
</g></mask></defs>
<rect x="1652.3" y="66.0" width="385.7" height="347.6" fill="#020303"/>
<g clip-path="url(#ct)">
<g filter="url(#bl5)">
<polygon points="1923,82 1954,77 1983,92 1993,111 1987,139 1981,160 1970,183 1954,209 1933,215 1925,189 1927,147 1928,133 1913,116 1915,95" fill="#454847" opacity="0.7"/>
<polygon points="1704,180 1733,180 1733,244 1699,244" fill="#555" opacity="0.8"/>
<polygon points="1656,257 1733,238 1733,319 1704,327 1673,300" fill="#4a4a4a" opacity="0.8"/>
<polygon points="1980,257 2029,257 2025,315 1996,325 1980,307" fill="#262626" opacity="0.8"/>
<polygon points="1915,373 1952,373 1952,400 1915,400" fill="#444" opacity="0.8"/>
</g>
<rect x="1652.3" y="66.0" width="385.7" height="347.6" filter="url(#nzt)" mask="url(#mt)" style="mix-blend-mode:screen"/>
<path d="M0 0m1753 67.6h0m191.7-0.1h0m24 7.3h0m-80.2 3.4h0m-172.8 4.1h0m5.1-0h0m165.1-1h0m-176 4.4h0m3.5 0.4h0m4.7-0.8h0m-5.9 3.7h0m4.2-0.1h0m-12.9 7.1h0m7.9 0.9h0m4.4-0.7h0m-9.6 4.2h0m3.9 0.1h0m3.3-0.2h0m4.9-1h0m-14.9 3.5h0m8.1 0.7h0m4.1-0.7h0m4.5 0.8h0m-19.1 3.4h0m4.4 0.2h0m9.3 0.2h0m2.9-0.8h0m5.3 0.9h0m-19.8 3h0m8.9-0.3h0m13-0.2h0m-19.1 4.6h0m3.5-0h0m5.2-0.8h0m3.1 0.6h0m8.7 0h0m-18.5 2.8h0m3.6 0.2h0m9.2 0.7h0m4-0.5h0m4.3-0.2h0m7.3 0h0m5-0.3h0m3.5 0.7h0m-34.7 3.1h0m4 1.1h0m7.8-0.3h0m4.3 0.2h0m4.2-0h0m8.3-0.7h0m8.9 0h0m4.4 0.6h0m240.1-0.5h0m-284.4 3h0m3.9 1h0m4.7 0.3h0m16.9-0.7h0m3.2-0.2h0m4.2-0.1h0m8.8-0.3h0m-35.7 4.1h0m4.6 0.3h0m3.9-0.3h0m3.7 0.4h0m4.5-0.6h0m4 0.7h0m4.1 0.1h0m4.1 0.2h0m4-1.1h0m8.6 1.2h0m4.5-0.6h0m137.5-0.4h0m-168.3 3.7h0m7.5-0.2h0m17.4 0h0m3.9-0.1h0m-31.2 4.6h0m4.5-0.4h0m4 0.3h0m7.4-0.9h0m5.4 0.9h0m3-0h0m4.3-0.8h0m4.4 1.1h0m4-1.1h0m-22.1 3.4h0m3.5 1.2h0m4.7-0.5h0m3.2 0.4h0m8.8-0.2h0m-51.8 3.9h0m16.9-0.7h0m4.2 0.3h0m7.8-0.3h0m4.3-0.4h0m8.8-0.2h0m7.5 1h0m4.2 0.1h0m-59.5 3.2h0m4.3 0.1h0m2.9-0.4h0m13.4-0h0m4.6-0.1h0m2.9-0h0m12.4 0.6h0m5.4-0.5h0m11.9 1h0m-59.6 3h0m4-0.7h0m3.4 0.4h0m3.8 0.8h0m8.3-1.2h0m4.7 0.9h0m3.8-0.1h0m8.6-0.8h0m4.1 0.1h0m3.8 0.3h0m4.7-0.2h0m4.6 0.5h0m3.4 0.4h0m-56.4 3.7h0m9.6-1.3h0m32.5 0.5h0m4.1 0.4h0m3.6-0.1h0m-47.6 3.1h0m4.4 0.4h0m4.4-0h0m3.9 0.1h0m3.8-0.7h0m8.9 0.2h0m4 0.6h0m4.5 0.2h0m4.6-0.4h0m8.1 0.2h0m-77.3 3.8h0m25.2 0.2h0m4.2-0.6h0m4.4-0.2h0m4 0.3h0m7.4-0.8h0m8.4 0.4h0m4.1 0.8h0m5-0.6h0m4.2 0.2h0m3.2-0.5h0m4.6 0.6h0m4.1 0.4h0m78.7-0.1h0m4.4 0.1h0m-163.9 3h0m25.4-0.6h0m4.1 0.5h0m7.3-0.2h0m4.1 0.3h0m4.4 0.2h0m4.6 0.1h0m4-0.1h0m12.1 0.2h0m4.7-0.2h0m4.5 0h0m3.5-0.9h0m4.6-0.1h0m19.8 0.4h0m-118.1 3.5h0m29.3 0h0m9 0.5h0m3.3 0.3h0m5-0.6h0m4 0.4h0m12.5-0.5h0m4.4 0.1h0m3.4 0.1h0m3.9-0h0m5.2 0.2h0m3.6-0.7h0m4.3 0.3h0m3.8 0.4h0m4.5-0.6h0m3.9 0.2h0m-72.8 4.5h0m3.9-0.3h0m8.2-0.8h0m4.2 0.4h0m4.5 0.2h0m12.5-0.4h0m4.7 0.2h0m3.1 0.4h0m4.9-0.3h0m3.5-0.7h0m5.3 1h0m3.2-0.9h0m4.8 0.1h0m3.8 0.2h0m3.6 0.7h0m4.5-0.4h0m53.9 0.5h0m3.9-0.1h0m-138.8 3.6h0m4.9-0.4h0m3.3-0.1h0m12.1 0.1h0m4.1 0h0m13.7 0.3h0m3.5-0.3h0m8.3-0h0m3.9-0.7h0m3.9 0.3h0m8.6-0.2h0m4.6 0.3h0m4.3-0.2h0m3.6 0.6h0m-75.9 3.2h0m3.9 0.5h0m3.8-0.2h0m12 0.3h0m4.7-0h0m3.4-0.2h0m4.8-0.4h0m8.1 1h0m8.3-0.4h0m-43.7 3.8h0m4.9-0.5h0m4-0.5h0m4.4 1h0m3.3-0h0m4.5-0.7h0m20.5 0.7h0m13.2-0.9h0m3.4 0.8h0m8.5 0.3h0m3.6-0.8h0m5.1-0h0m3.8 0.6h0m3.8-0.9h0m33.9 1.1h0m65.3-1h0m17 0h0m3.9 0.2h0m8.3-0.1h0m-204.4 3.6h0m3.2-0.4h0m4.5 0.2h0m4.8 0.7h0m4.1 0h0m7.7-0.6h0m4.4-0.4h0m7.6 0.6h0m9-0.2h0m4.7 0.7h0m12.2-0.5h0m4.2-0h0m8 0.7h0m3.8-0.2h0m17-0.5h0m112.1-0.4h0m-206.2 3.9h0m4.6 0.7h0m4.7 0.1h0m8 0h0m8.5-0.1h0m3.6-0.8h0m4.5-0.4h0m8.5 0.2h0m3.3 0.6h0m4.3-0.7h0m3.8 0.1h0m4.4 0.2h0m9.3-0.3h0m7.4-0h0m100.3 0.4h0m-172.4 4.1h0m4.4-0.6h0m3.6 1h0m3.6-1h0m5.1 0.3h0m3.5 0.5h0m4.3-1.2h0m4.6 0h0m16.4 0.6h0m4.4-0.2h0m4.3 0.7h0m7.2-0.3h0m5.2-0.2h0m8.3 0.6h0m11.7-1h0m3.8-0.2h0m4.5 1.2h0m-88.9 2.4h0m4.2 1h0m8.6-1h0m3.9 1.2h0m4.5-1h0m19.8-0.1h0m4.5-0.1h0m4.8 0.4h0m3.9-0.4h0m3.3 0.5h0m5 0.8h0m3.7 0h0m4 0.1h0m13.4-1.1h0m2.9 0.6h0m4.7 0.4h0m4.2-0.1h0m3.7-0.9h0m4.9-0.1h0m3.9 0.3h0m3.5 0.1h0m29.2 0.5h0m5-0.2h0m-152.2 3.8h0m8.1-0.1h0m12.4-0.8h0m5.3-0.2h0m7.5 0.4h0m8.3 0.4h0m4.9 0.5h0m3.4-0.6h0m5-0.5h0m16.6 0.8h0m7.5-0.6h0m13.1-0.1h0m8.5 1h0m3.7-0.1h0m4.1-0.1h0m4.5-0.6h0m4.1 0h0m3.3 0.8h0m29.2-1.1h0m4.3 0.8h0m-151 2.9h0m3.1 0.5h0m8.6-0.4h0m12.7-0.1h0m13 0.5h0m4.1-0.7h0m11.7 1h0m4.3-0.4h0m3.7-0.2h0m5.4-0.1h0m4.2-0.2h0m3.2 0.5h0m4-0.2h0m12.7-0.5h0m4.7 1.3h0m3.7-0.3h0m4.1-0.5h0m4.8-0.3h0m4.2-0.2h0m33.4 0.3h0m3.7-0.3h0m32.7 1.1h0m-183.8 3.6h0m4-0.6h0m7.8-0.1h0m4.3-0.4h0m12.7 0.4h0m4.2 0.4h0m8.5-0.5h0m4 0.8h0m4.2-0.8h0m4.1-0.2h0m8 1.1h0m3.6 0.1h0m4.1-1.3h0m9.2 0.6h0m3.4 0.6h0m4.6-0.7h0m12.8-0.4h0m8 1.2h0m3.9-1.1h0m8.8 0.7h0m28.6 0.4h0m33.4-0.6h0m136.9 0.2h0m4.1-0.7h0m-322.1 4.6h0m12.3-0.6h0m12.8-0.1h0m12.5 0h0m12.4 0.6h0m8-0.3h0m4.1-0.2h0m5.1-0.1h0m3.5-0.1h0m4-0h0m4.6 0.9h0m3.4-0.8h0m5.3 0.6h0m7.6-0.5h0m4.2-0.5h0m4.9 0.1h0m2.9-0.2h0m4.7 0.6h0m7.8-0.3h0m21.6 0.6h0m4.5-0.6h0m24.7-0.1h0m-164.2 3.5h0m4.2 0.8h0m21.2 0.4h0m20-0h0m13-1h0m4.1 0.1h0m4.5 0.6h0m3.1-0.9h0m4.6 0.7h0m3.4-0.8h0m9.5 0.8h0m4.2-0.6h0m4.1-0h0m3.8 0.8h0m3.3 0h0m12.4-0.5h0m17.6 0.3h0m3.4 0.3h0m5.2-0.3h0m2.9 0.1h0m13.1 0h0m3.6 0.4h0m8.7-0.3h0m95.3-0.3h0m-255.5 3.8h0m4.6-0.5h0m17.2 0.1h0m11.9 0.7h0m3.7-0.3h0m5.1-0h0m16.1 0.4h0m4.6-0.6h0m3.9-0.5h0m3.8 0.3h0m8.1 0h0m4.6-0.6h0m3.7 1.4h0m4.7-1.1h0m4.1 0.3h0m3.4 0.1h0m4.4-0.6h0m21.3 0.4h0m4.5 0.2h0m4.3-0.5h0m3.4 1h0m12.1-0.5h0m8.7 0.2h0m96 0.3h0m4-0.8h0m-276.6 4.1h0m8-0.2h0m4.6 0.6h0m8.1-0.6h0m4.2-0h0m4.1-0.2h0m13.4-0.2h0m11.9 0.4h0m4-0.5h0m4.5 0.3h0m16-0.3h0m9.2-0h0m3.1 0.4h0m4.6 0.3h0m16.1 0.3h0m9.2 0.1h0m3.7 0.1h0m21.3-0.1h0m4.3-0.5h0m3.1 0.6h0m4.7-1.1h0m3.6 0.6h0m-151.1 3.8h0m7.7-0.3h0m8.3 0.5h0m17-0.7h0m5.1-0.5h0m8.3 0.1h0m4 0.3h0m3.1-0.2h0m12.7 0.6h0m21.7-0.2h0m2.8-0.3h0m5.4 0h0m3.4 0.1h0m3.7 0.5h0m5 0.3h0m3.4-0.7h0m4.8 0.7h0m11.9-0.3h0m4.8-0.3h0m3.7-0.4h0m4.3 0.8h0m4.3-0.1h0m3.7 0.2h0m-154.7 3.2h0m7.6-0.7h0m4.6 1h0m4.4-0.3h0m8-0.7h0m12.2 0h0m3.9 0.2h0m4.6-0h0m3.4 1.1h0m4.2-0.7h0m4.6 0.5h0m4-0.3h0m8.5-0h0m3.6 0.3h0m12.6 0h0m3.8-1h0m13.5 0.3h0m4.4 0.6h0m3.2 0.2h0m4.1-0.6h0m4.7 0.6h0m12.1-0.7h0m8.3 0.1h0m4.4-0.1h0m3.9 0.8h0m5.1-0.4h0m4.1-0.8h0m-156.8 4.5h0m4.3-0.6h0m4.8-0.2h0m12.4 1h0m15.7-1h0m5.3 0.1h0m3.8 0h0m4.6 1h0m3.3-0.1h0m8.3 0.1h0m4.7-1.3h0m15.7 1.1h0m5.2-0.3h0m3.4-0.4h0m9.2-0.3h0m20.5 0.3h0m32.7 0.1h0m-147.4 3.8h0m9.1 0.5h0m7.9-0.7h0m3.6 0.6h0m12.2-0h0m4.5-0.4h0m16.3-0.3h0m5.1-0.3h0m11.4 0.7h0m46.1-0.5h0m4.7 0.6h0m-135.8 3.2h0m5.2-0.3h0m12.6 0.1h0m3.9 0.4h0m4 0.1h0m16.7 0.2h0m11.9-0h0m4.7-0.6h0m11.8 0h0m20.6-0.2h0m9.3 0.3h0m53.6 0.5h0m4.5-0.2h0m7.5 0.1h0m4.4 0.3h0m-167.5 3.4h0m3.2-0.9h0m8.1 0.7h0m12.9-0.6h0m4 1h0m12.3-0.8h0m4.2-0.4h0m4 1h0m4.2-0.6h0m9.5 0.2h0m3.4 0.3h0m28.5-0.9h0m25 1h0m29.2-0.2h0m5 0.1h0m3.1-0.5h0m116.8 0.8h0m-279.8 3.3h0m3.8-0.5h0m4 0.4h0m3.8-0.1h0m4.9-0.6h0m4 0.7h0m8.7 0.4h0m8.1-0.7h0m4.2 0.2h0m4.1-0.7h0m4-0h0m8.2 0.8h0m17.2-0.8h0m19.4 0.3h0m17.8-0.4h0m12.1 0.9h0m3.7-0.7h0m8.4-0.2h0m-135.2 4.3h0m4.4 0.3h0m4.3-0.2h0m3.8-0.3h0m5.1-0h0m4-0h0m8.6 0.2h0m3.6 0.1h0m12.6-0.7h0m3.3 0.2h0m4.2 0.1h0m5.4-0.4h0m3.1 0.3h0m4.4-0h0m4.2 0.2h0m11.9 0.8h0m12.4-1.1h0m12.6 0.7h0m21.6 0.2h0m3.4-0.5h0m-171.5 3.9h0m3.3-0.1h0m4.8 0.2h0m4.3-0.8h0m16.4 0.7h0m3.4-0.4h0m8.4 0.1h0m5.1 0.6h0m8.3 0h0m3.7-0.2h0m3.6-0.6h0m16.7 0.1h0m17-0.4h0m4.6 1.2h0m4.4-0.7h0m3.1 0.5h0m21.8-0.3h0m3.2 0.5h0m-130.2 3.5h0m4 0h0m16.4-1h0m4.9 0.5h0m3.2-0h0m4.3 0.3h0m5-1h0m8.2 0.5h0m3.8 0h0m3.5 0.1h0m5-0.3h0m4.1 0.3h0m45.9-0.2h0m37.5 0.2h0m27.8 0.7h0m-175.4 3.4h0m8.5-0.1h0m11.3-0h0m5-0.9h0m4.2 0.9h0m4.5-0.6h0m3.6-0.2h0m4.3 1h0m7.9-1.1h0m4.5 0.8h0m4.1-0.7h0m3.8 0.1h0m9.1 1h0m2.9-0.5h0m29.9 0.4h0m4.6-0.2h0m-97.7 3.1h0m3.9-0.3h0m3.4 0.6h0m5.2 0.2h0m8.1-0.2h0m12.1-0.3h0m3.5 0.2h0m5.2 0.6h0m3-0.3h0m4.2-0.2h0m5.1-0.4h0m4.2-0.1h0m4.1 0.4h0m44.7 0.3h0m-117.6 2.6h0m12.6 1h0m3.5-0.9h0m9.1 0.3h0m3.8-0.3h0m4.7 0.7h0m8.3-0.1h0m19.6-0.2h0m20.9-0h0m4.7 0.2h0m-84.5 4.1h0m11.9-1.2h0m16.8 1.3h0m7.4-0.1h0m5.3-0.4h0m3.9-0.1h0m8.3 0.5h0m32.6-0.9h0m75-0.2h0m16.7 1.2h0m3.5-0.7h0m4.2-0.5h0m4.9 0.8h0m3.6-0.3h0m4.9-0.1h0m3.6 0.2h0m25.3-0.5h0m78.3 0.9h0m4.6-0.1h0m-293.1 3.4h0m4.3 0.2h0m12-0.4h0m4.5 0.3h0m4.8-0.5h0m3.7-0.4h0m4.7 1h0m3.7-0.8h0m3.9-0.1h0m4.3 0.9h0m25.7-0.2h0m86.3-0.1h0m17.4-0.7h0m3.6-0h0m3.5 0.9h0m5-0.3h0m20.7-0.2h0m-225.9 3.3h0m4.3 0.7h0m7.6-0.2h0m4 0.2h0m20.4 0.1h0m8.7-0.6h0m8.2 0.5h0m9.1 0.4h0m19.8-0.7h0m4.2 0.1h0m4.5 0.1h0m83.5 0.4h0m3.8-0.5h0m4.3-0.3h0m7.6 0.6h0m4.9-0.7h0m3.4-0h0m4.1 0.5h0m4.7-0.1h0m-205 3.9h0m4-0.4h0m3.7 0.4h0m21.1 0.1h0m3.3-1h0m5 1.1h0m3.8-0.9h0m4.5 0.7h0m16.4-0.3h0m4.4 0.2h0m16-0h0m86.9 0h0m4.7 0.1h0m7.9-0.1h0m4-0.4h0m13.3-0.4h0m3.2 0.1h0m4.2 0.5h0m-196.1 3h0m7.9 0.2h0m4 0.2h0m12.1 0.4h0m13.4 0.4h0m8.1-0.1h0m7.9-0.2h0m20.8-0.7h0m13.1 1h0m69.3-1h0m5.1 0.9h0m4.2-0.8h0m3.9-0.1h0m4.1 1h0m3.7-0h0m8.5-1.1h0m3.7 0.9h0m8.4-0.2h0m5.3-0.4h0m-206.6 4.4h0m4.2-1h0m4.9 0.8h0m3.6-1h0m12.7 0.9h0m8.1-0.4h0m3.9 0.7h0m9.1-0.4h0m4.5-0.6h0m11.8-0.2h0m8.9 0.1h0m2.9 0.2h0m12.8-0.3h0m25.7 0.6h0m45.3-0h0m8-0.2h0m8.6-0.1h0m4.7-0h0m3 0.1h0m5.2-0.1h0m3.5 0.1h0m4.5 0.7h0m3.9 0.1h0m3.7-0.2h0m-201.5 3.5h0m4.3-0.8h0m3.9 0.2h0m26.3 0.3h0m2.8 0.7h0m5.3-0.4h0m7.3-0.9h0m4.2 0.1h0m4.2 0.2h0m4.5 0.7h0m7.9-0.1h0m5.2 0.2h0m8.2 0h0m83.2-0.5h0m7.7-0.1h0m4.5 0.7h0m3.5-0.6h0m4.8-0.5h0m3.1 0.8h0m9.2-0.8h0m-201.8 3.9h0m8.1-0.2h0m8.4 0.4h0m4.1 0.3h0m5.1 0.1h0m2.9-0.1h0m9.5-0.7h0m15.7-0.2h0m8.5 0.2h0m8.8 0.1h0m4.4-0h0m8.4-0.3h0m3.6-0.1h0m4.3 0.5h0m65.5 0.7h0m4.8-0h0m4.2-1h0m8.9-0h0m7.7 1.1h0m3.5-0.8h0m-180.3 3.3h0m8.4 1.2h0m4.3-1h0m8.5 0.9h0m12.9 0.1h0m4.2-0.8h0m4-0.4h0m7.5-0.1h0m4.5-0h0m16.4 1.3h0m4.4-1.2h0m3.5 0.4h0m75.9 0.6h0m3.8-0.3h0m4.1-0.6h0m4.6-0.3h0m4 0.4h0m8.1 0.5h0m12.1-0.7h0m136.9 0.8h0m13.2-0.6h0m-330.9 3.9h0m12.6-0.5h0m21.1 0.4h0m4.5 0h0m3.7 0h0m4 0.6h0m3.9-1.1h0m4.8-0h0m4.5 0.3h0m7.9 0.1h0m41.3 0.3h0m28.5 0.3h0m4.8-0.1h0m4.1-0.7h0m4.5 1.1h0m4-0.6h0m3.9-0.6h0m4 0.3h0m3.9 0.4h0m4-0.6h0m33.2-0.3h0m28.9 0.3h0m83.3 0.8h0m8.1-0.5h0m4.3 0.8h0m4.2-0.1h0m-333.4 2.4h0m3.3 0.2h0m4.3 0.3h0m9.3 0.1h0m4 0.5h0m11.4 0.1h0m17.1-0.6h0m8.7-0.5h0m4.3 0.3h0m45.2 0.2h0m50.2-0.5h0m3.4-0h0m-159.5 3.6h0m16.4 0.2h0m4.5 0.2h0m20.6-0.1h0m8.7 0.5h0m7.8-0.2h0m253.2-0.2h0m-309 3.9h0m4.1-0.3h0m8.7 0.2h0m16.4 0.2h0m4.1-1h0m3.6 1.3h0m5.1-0.3h0m4.2-0.7h0m99.3 0.4h0m161.6 0.1h0m4.7-0.8h0m3.7 1.2h0m3.9-0.5h0m4.3-0.6h0m12.7 0.8h0m-313.9 3.5h0m8.4-0.4h0m17.3-0.3h0m152.7 1.1h0m29.6 0.1h0m90.6-1.3h0m5.1 0.6h0m3.5 0.7h0m4.5-1.2h0m-330.1 3.6h0m7.8 0.7h0m8.1-0.4h0m4.9-0.4h0m8.4 0.1h0m11.9 1h0m137.6 0.1h0m128.2 0.1h0m7.9-0.4h0m4.4-0.3h0m-312.4 4.1h0m2.9 0h0m22-1h0m7.5 0.4h0m149.5 0.8h0m3.8-0.5h0m129.8 0.4h0m7.5-0h0m-308.4 3.4h0m7.8-0h0m4.5-0.8h0m136.6 0.9h0m4.3-0.9h0m8.1 1.1h0m4.2-0.7h0m3.3-0.4h0m12.9 0.4h0m95.6 0h0m16.8 0.5h0m3.9-0.1h0m12-0.1h0m-234.4 3.3h0m29.9 0.3h0m57.1-0h0m38.6 0.3h0m74.7-0.9h0m12.5-0h0m7.4 0.6h0m-143.1 2.9h0m4.8 0.7h0m3 0.1h0m37.9 0h0m4.4-0.7h0m70.6-0.3h0m12 1.3h0m5-0.7h0m12.1-0.2h0m-126.4 4.3h0m7.7-0.2h0m107.5 0.2h0m-158.8 2.6h0m4.4 0.5h0m19.7-0.3h0m20.9-0.2h0m30 0.7h0m78.6-0.1h0m-151.4 3.1h0m19.8 0.8h0m5.2-0.4h0m15.6-0.1h0m4 0.4h0m9.4-0.8h0m11.3 0.3h0m8.6 0.4h0m91.6-0.2h0m-163.8 4.3h0m17.1-0.5h0m3.3-0.8h0m42 1.1h0m15.7-1.1h0m79.6 0h0m-180.1 3.7h0m24.9 0.5h0m7.2-0.1h0m5.2 0.7h0m3.8-1h0m12.3 0.9h0m4.8 0h0m2.9-0.1h0m20.8-0.8h0m8.5 0.9h0m13.4-0.1h0m8.4-0.9h0m52.6 0.7h0m12.4 0.4h0m-147.2 3.4h0m5.3-0.1h0m8.4-0.2h0m7.8 0.5h0m7.6-0.6h0m4.9-0h0m3.5 0.3h0m8.7 0.3h0m12.3-0.4h0m62.3-0.4h0m12.3 0.7h0m16.3-0.6h0m5.4 0.7h0m-185.5 2.4h0m16.7 0.1h0m8 0.9h0m12.9-0.1h0m53.5-0.2h0m37.4 0.5h0m20.6-0.3h0m8.9-1h0m16.2 1.2h0m4.8-0.4h0m-210 3.2h0m42.2 0.5h0m7.8 0.3h0m4.6-0.2h0m7-0.3h0m8.4-0.1h0m9-0.4h0m8.8 0.2h0m7.5-0h0m4.5 0.3h0m19.9-0.4h0m22.1-0h0m3.6 0.3h0m4.2 0.7h0m53.8-1.3h0m4.1 0.2h0m4.7 0.5h0m-160.4 3.2h0m8.7 0.5h0m3.2-0.2h0m9.4-0h0m3.5 0.3h0m17.3-0.5h0m11.4 0.9h0m4.3-0.8h0m9.2 0.2h0m7.7 0.2h0m4.2 0h0m4.2-0.5h0m4.5 0.1h0m62 0.1h0m3.4 0.1h0m-134.3 3.7h0m8.4-0.3h0m4.1 0.7h0m8.1-0.2h0m8.7-0.5h0m8.2 0.3h0m15.9-0.5h0m4.8 0.7h0m8.7 0.1h0m15.7-0.5h0m9.3 0.2h0m32.4-0.5h0m-184.8 3.6h0m41.8 0.1h0m17 0.5h0m4.4-0.9h0m20.8 0.5h0m12.3 0.3h0m7.6 0.2h0m12.1-0h0m8.9-0.8h0m3.7-0.2h0m4.6 0.9h0m8.8-0h0m12.1-0.7h0m37.2 0.2h0m-160 4.4h0m20.7-0.7h0m4.3 0h0m7.9 0.3h0m8.8 0.3h0m17.3-0.4h0m8-0.7h0m12 0h0m4.8 1.3h0m11.7-0.3h0m12.2-0.8h0m-125.7 4.5h0m19.6 0.2h0m9.1-0.2h0m3.7-0.4h0m5.1-0.4h0m8-0.1h0m8.1 0.5h0m20.8-0h0m4.4 0.4h0m7.4 0.2h0m8.4-1.3h0m5 0.9h0m3.5-0.1h0m9.1-0.7h0m3.4 0.5h0m8.7 0h0m21.2-0.4h0m7.4 1h0m12.5-0h0m4.7 0.1h0m-176.1 2.8h0m23.6-0.3h0m4.9 0.7h0m4.4-0.8h0m3.3 0.1h0m4.1 1.1h0m4.9-0.4h0m16.1-0.3h0m8.6-0.6h0m4.4 1.1h0m3.6-0.9h0m7.9 0.5h0m13.2 0.1h0m29.1-0.7h0m4.7 0.7h0m7.8 0.1h0m3.7 0.2h0m4.3-0.5h0m4.9 0.5h0m3.2 0h0m-176.7 3.5h0m17.3-0.9h0m3.7-0.1h0m9 0.6h0m15.9 0.7h0m5.2-0.2h0m7.4-0.8h0m3.8 0.4h0m12.6 0.6h0m29.7-0.6h0m7.8-0.6h0m9.1 0.1h0m3 0.4h0m13.8-0.4h0m11.2-0.2h0m25.1 1.2h0m8.3-1h0m21.5 0.7h0m-205.1 2.8h0m7.7 0.4h0m8.4-0h0m4.1-0.6h0m49.2 1.4h0m21.2-0.1h0m4.2-0.7h0m12.9-0.5h0m4.2 1.1h0m19.9-0h0m8.6-0.1h0m8.6-0.4h0m7.9 0.2h0m4.2 0.1h0m13-0h0m12.6-0.4h0m6.9-0.2h0m-192 4.6h0m4.3-1.1h0m7.6 1h0m4.9-1.1h0m3.5-0.1h0m3.8 0.5h0m12.4 0.6h0m8.5-0.9h0m12.9-0.2h0m12.8 0.4h0m15.8-0.3h0m8.3 0.7h0m4.5-0.2h0m25 0.7h0m4.8-1h0m16 1h0m3.7-0.7h0m4.2 0.2h0m13.3 0h0m3.3 0.5h0m12.3-0.9h0m8.7-0.2h0m-184.7 3.5h0m12.6 0.3h0m12.2 0h0m4.2-0.1h0m4 0h0m17.2 0.4h0m3.6-0.1h0m8.7-0.5h0m12.6 1h0m3.7-0.1h0m17 0.2h0m3.5 0h0m4.5-0.2h0m17.2-0.9h0m53.2 0.2h0m8 0.8h0m-184.7 2.8h0m4.9 0.3h0m4.4-0.4h0m15.8 0.6h0m9.1 0.2h0m20.4-0.8h0m12.4-0.2h0m3.5 0.1h0m26.1 0.2h0m24 0.8h0m4.1-0.1h0m4.3-0.2h0m24.5 0.2h0m5.3-1.1h0m20.5 0.6h0m-197.9 4.1h0m9.2-0.2h0m3.5 0.1h0m4.5-0h0m20.8-0.2h0m3.6-0.7h0m8.5 0.8h0m8.3-0.7h0m16.6 0.5h0m9 0.4h0m12.1-0.6h0m3.6 0.3h0m17.5-0.8h0m19.9 1.4h0m12.1-1h0m4.1 0.6h0m16.7 0.3h0m4.5-0.3h0m8.7-0.2h0m-185.2 2.9h0m4.5 0.8h0m8.5-0.4h0m7.4 0.7h0m5.1-0.8h0m12.7 0.4h0m3.4 0.3h0m5.1-0.7h0m3.9 0.7h0m16.6-0.4h0m20.7-0.7h0m33.3 1.1h0m40.9-0h0m4.4 0.3h0m11.9-0.3h0m4-0.9h0m4.6-0.2h0" fill="none" stroke="#772a78" stroke-width="5" stroke-linecap="round"/>
<path d="M0 0m1737.5 67.9h0m52.9 0.2h0m4.4-1.2h0m3.7 0.4h0m5 0.3h0m4.4 0.2h0m3.6 0h0m4.2 0h0m4.5 0.3h0m4.3-0.7h0m3.8-0.1h0m4.1 0.9h0m4.3-0.6h0m4.2-0.8h0m3.8 0.9h0m4.4-0.6h0m4.4 0.2h0m4.1 0.8h0m3.4-1.1h0m24.9 0.9h0m3.8 0.1h0m5-0.6h0m4.6 0.4h0m2.8-0.3h0m4.6 0.3h0m8.9-0.8h0m15.8 1.1h0m-192 3.3h0m3.9-0.9h0m41.6-0h0m3.3 0.6h0m4.5 0h0m4.5 0.1h0m3.2-0.5h0m9.6-0.2h0m4.2 0.2h0m3.5 1.1h0m4.3-0.8h0m3.5 0h0m9.5 0.4h0m3.9-0.1h0m3.8-0.1h0m4.7 0.5h0m3.4-0.4h0m3.7 0h0m4.7-0.6h0m29.3 0.1h0m4.2-0.3h0m3.6 0.1h0m9.2 0.4h0m3.4 0.7h0m4.1-0.8h0m4.4 0.6h0m13-0.2h0m3.9-0.8h0m16.9 0.8h0m3.8 0.4h0m-222.5 3.5h0m8.3-0.5h0m41.1-0.4h0m8.3 1h0m4.4-0h0m3.9-0.2h0m4.8 0.1h0m3.4-1h0m4.5 0.7h0m4.9-0.9h0m3.5 0.8h0m4.4-0.3h0m3.6 0.8h0m4.8-0.3h0m4.7 0.2h0m3.5 0.1h0m3.8-1.2h0m4.8 0.3h0m3.8 0.1h0m3.8-0.1h0m5.1 0.9h0m23.7-1.3h0m5.4 1.4h0m4.1-0.2h0m3.5-1h0m4.4 0.1h0m4.3 0.1h0m3.3 0.6h0m4.3-0.6h0m4.1 0.5h0m5.1-0.1h0m3.8-0.4h0m37.4 0.3h0m-235 3.5h0m4.1 0.4h0m45.8-0.4h0m4.4 0.4h0m3.5-0.5h0m4.7-0.1h0m4.7 0.4h0m3.6 0h0m4.8 0.3h0m3.4-0.7h0m4.8-0.4h0m3.4 1.3h0m4.6-1h0m3.6 0.4h0m4.6 0.4h0m4.6-0.7h0m4.2 0.7h0m3.6-0.6h0m3.7-0.1h0m3.9-0.3h0m5.2 0.6h0m3.1-0.4h0m33.2 0.7h0m5.1 0.4h0m3.9-0.7h0m4.5-0.3h0m4.4 0.1h0m3-0.3h0m4.6-0h0m49.1 0.5h0m-238.4 3.1h0m29.7 0.3h0m4.3-0h0m4 0.1h0m4 0.7h0m4.3-0.9h0m4.2 0.2h0m4.1 0h0m3.9 0.7h0m3.9-0.7h0m4.4-0.1h0m4.3-0.4h0m3.9 0.9h0m5-1h0m8.3 1.4h0m3.8-0h0m4.1-1.1h0m3.4 0.2h0m4.9 0.3h0m4.2 0.3h0m4.4 0.2h0m3.6-1.2h0m4.2 0.1h0m42 1.1h0m3.5-0.9h0m4.2 0.2h0m3.6 0.5h0m4.6-0.8h0m4.3-0h0m-181.1 4.1h0m21.3-0.6h0m3.6 0.5h0m4.2-0.3h0m5.3 0.9h0m2.9-0.6h0m8.3-0.6h0m4.1 1h0m29.4 0.1h0m4.2-0.2h0m3.8 0h0m8.8-0.8h0m4.7 0.3h0m3.7 0.6h0m3.6 0.1h0m46.9-1.2h0m3 0.2h0m4.2 0.9h0m4.1-1.1h0m4.8 0.5h0m3.8 0.7h0m-176.2 2.5h0m20.7 0.5h0m3.9 0.4h0m4.4-0.5h0m4.1 0.4h0m4.9-0h0m3.1 0.1h0m4.8-1h0m4.1 0.3h0m4.5-0.3h0m3.4 0.8h0m16.3 0h0m5.1-0.2h0m3.7 0.8h0m4.5-1.3h0m4.3 0.4h0m3-0h0m5.3 0.8h0m3.1-0.2h0m5-1.1h0m45.6 0.4h0m3.7 0.1h0m3.7-0.1h0m5.3 0.2h0m4 0.2h0m3.7-0.3h0m4.3 0.6h0m3.8-1.1h0m4 1.2h0m-187.8 3.2h0m3.8 0.5h0m20.1-0.6h0m3.9-0.3h0m4.2 0.6h0m5.3 0.3h0m3.4-0.3h0m4.8 0.3h0m3.1-0.8h0m5 0.8h0m3.9-0.2h0m4-1h0m3.7 0.1h0m4.9 0.9h0m4.3 0.1h0m4.1 0.1h0m3.9-1.3h0m20.6 0.1h0m4.2 0.7h0m4.1 0.4h0m46.2-0.8h0m3.7-0.3h0m4.2 0.8h0m4.8-0.1h0m7.5 0.1h0m4.5-0.4h0m4.2 0.6h0m-214.5 2.7h0m25.1 0.2h0m4.9-0.3h0m3.4-0.1h0m16.4-0h0m4.5 0.6h0m4.7 0.1h0m3.8 0.4h0m4.4-0.5h0m4.3 0.6h0m3.9 0h0m4.6-1h0m3.5 0.8h0m3.8-0h0m4-0.1h0m4.7-0.9h0m4.7 1.3h0m3.8-1.2h0m3.9 0.7h0m4.7-0.5h0m3.8 0.1h0m3.4-0.2h0m4.4 0.1h0m3.9 1h0m5.1-0.3h0m49.2-0.6h0m4.7 0.8h0m4.5-0.1h0m3.7-0.3h0m3.3 0.3h0m5.3-0.1h0m7.7-0.7h0m20.5 0.4h0m-233.9 3.2h0m3.4 0.6h0m24.9-0.3h0m5.1 0h0m16.7 0.6h0m3.9 0.1h0m3.3-0.7h0m5.1 0.5h0m4.2-0.4h0m3.1-0.6h0m5.2 0.7h0m3.4 0.3h0m3.8-0.9h0m5 0.1h0m4.6-0.1h0m4 1h0m3.3-0.4h0m4.7-0.4h0m4.2 0.8h0m3.6-0.3h0m4.6-0.6h0m4.4 0h0m4.2 1h0m3.8-0.9h0m4.3 0.8h0m3.7-0.6h0m46.6 0.2h0m3.6 0.2h0m4.3-0.2h0m3.9-0.7h0m4.7 0.5h0m3.1 0.6h0m4.6 0.1h0m4.8-0.1h0m3-0.8h0m-213.8 3.4h0m30.1 0.8h0m3.1-0.1h0m4.9-0.4h0m12.7 0.5h0m3.9-0.6h0m4 0h0m4.7-0.3h0m3.2-0.1h0m5.1 0.9h0m3.6-0.8h0m3.8 0.8h0m4.6-0.1h0m4.3-0.1h0m3.9 0.1h0m4.7-0.2h0m4 0.1h0m3.5 0.1h0m3.7-0.1h0m5 0.2h0m4.4-0.6h0m4-0.1h0m3.7-0h0m4.1 0.7h0m4.6 0.2h0m49.4-1.1h0m3.7 0.5h0m5.4 0.8h0m3.6-0.7h0m4.3-0.6h0m3.9 0.3h0m8.8 0.4h0m-176.9 4.2h0m3.5-0.1h0m9.6-0.5h0m3.9 0.1h0m3.2-0.3h0m5.1-0.4h0m3.9 0.7h0m4.3-0.3h0m3.8-0.1h0m4.2-0.4h0m4.2 0.7h0m4.4-0.7h0m3.6 0.8h0m4.3-0.8h0m3.8 0.7h0m4.8-0.4h0m4.4 0.8h0m3.9-0.3h0m3.4-0.8h0m5.4 0.1h0m3.3 0.3h0m3.6 0.2h0m5.4 0h0m48.9-0.3h0m4.5 0.9h0m4.8-1.1h0m3.9 0.2h0m8.2 0h0m4 0.1h0m4.5-0.3h0m-213.5 4.6h0m3.8-0.8h0m37.3 0.6h0m4.4-0.7h0m8.1 0.8h0m3.2 0.2h0m4.8-0.8h0m3.6-0.4h0m4.7 0.5h0m4.5-0.1h0m4.1-0.3h0m4.1 0.3h0m3.9 0.4h0m4.6-0.5h0m3.1-0.3h0m4.8 1.2h0m4.7 0h0m2.9-0.8h0m4.9 0.8h0m3.8 0h0m4.1-0.2h0m4.6-1h0m3.6 1.3h0m4.7-0.8h0m49.9 0.6h0m4.3-1.2h0m3.9 1.1h0m8.6-0.3h0m3.9 0.4h0m4.2-0h0m3.4-1h0m-213.3 4h0m4.2-0.2h0m3.8 0h0m37.3 0.5h0m8.1 0.1h0m5.4-0.4h0m4.2-0.1h0m3.5 0.1h0m3.6 0.1h0m4.6-0.4h0m4.1 0.3h0m4.3 0.3h0m4.1 0.1h0m4.1-0h0m4.7-0.9h0m3.6 1.1h0m4.2-1h0m3.8 0.9h0m4.5-0.5h0m4.3-0.2h0m3.9 0.3h0m3.9 0h0m4.6 0.1h0m53.8 0.4h0m4.2-0.6h0m3.9 0.1h0m3.8-0.2h0m5.3-0h0m3.9-0.1h0m4.4 0.6h0m3.6-0.6h0m-213.9 4.5h0m4.6-0h0m3.2-0.6h0m4.4-0.6h0m50.6 0.9h0m4.4 0.1h0m3.5 0.2h0m4.2-0.5h0m3.7 0.2h0m5.1 0.4h0m3.3-0.9h0m4.3-0.4h0m3.9 0.5h0m4.9 0.7h0m3.9-0.6h0m4 0.5h0m3.6-0.5h0m4.9 0.3h0m3.4-0.9h0m4.3 1.1h0m62.2-1h0m4 0.3h0m9-0.3h0m4.6 0.7h0m4.1-0.5h0m4.2-0.4h0m3.6 0.1h0m-217.2 3.8h0m3.5 0.1h0m4.5 0.5h0m7.5-0.6h0m58.1 0h0m4.3 0.1h0m4.4 0.2h0m4.6-0.5h0m4.1 0.7h0m3.5-0.1h0m3.9-0.6h0m4.3 0.8h0m4.2-0.5h0m4.5 0.6h0m4.2-0.6h0m3.6 0.3h0m67-0.4h0m4 1h0m4.8-1h0m3 0.5h0m4.7-0h0m4.8-0.6h0m3.2-0h0m4.9 0.5h0m-214.8 3.8h0m5.1-0.6h0m7.4 0.4h0m62.4 0.4h0m8.9-0.6h0m4.3-0.2h0m3.9 0.3h0m4.6 0.8h0m3.5-0h0m3.7-0.5h0m4.9-0.8h0m3.5 0.8h0m4.9-0.9h0m66.7 0h0m7.1 0.7h0m5.5 0.7h0m2.8-0.6h0m4.4-0.3h0m8.4 0h0m3.9 0h0m-233.4 3.2h0m16.5 1h0m3.8-0.4h0m4.3 0.6h0m3.8-0.6h0m4.9-0.2h0m61.4 0.2h0m4 0.5h0m4-0.4h0m5.1-0.6h0m3.4 0.6h0m4.9 0.3h0m3.9 0.1h0m3.3-0.5h0m4.2-0.2h0m5.4 0.1h0m65.5 0.6h0m5.1 0.2h0m2.9-0.9h0m4.6 0.3h0m4-0.8h0m4.3 0.8h0m8.4 0.1h0m3.8 0.5h0m4.3-0.4h0m4.1-0.2h0m-226.3 3h0m4.9 1h0m4-0.5h0m7.5-0.1h0m5-0.4h0m8.2 0.6h0m54.1 0.1h0m3.2-0.7h0m4.5-0.2h0m4.4 1.3h0m3.9-0.7h0m4.4-0.1h0m4-0.3h0m4.8 1.1h0m3.8-0.6h0m3.7-0.3h0m62.1 0.7h0m5-0.5h0m3.8 0.2h0m4.4 0.3h0m3.6-0.1h0m5-0h0m3.8-0.1h0m3.3 0.1h0m5.1 0.3h0m4.5 0.1h0m3.5-0.8h0m3.7 0.4h0m4.5-0.8h0m-230.9 3.9h0m5.3 0.8h0m3.1-0.9h0m4.9 0.7h0m8-0.8h0m3.7 0.1h0m4.4 0.3h0m4.6 0.4h0m53.4-0.8h0m5.1-0.2h0m4.2 1.1h0m3 0.1h0m4.7-0.5h0m4.6 0.5h0m3.9-0.7h0m3.4 0.3h0m63.3-0.3h0m3.2-0.5h0m4.4 0.4h0m4-0.2h0m4.5 0.6h0m3.8-0.8h0m4.7 0.7h0m3.9 0.2h0m4.1-0.2h0m4.9-0.8h0m3.4 1.3h0m4.3-0.3h0m3.9-0.2h0m4.8 0h0m3.3-0.5h0m-238 4.3h0m7.8-0.5h0m8.6-0.3h0m8.4 0.5h0m4.2 0.5h0m3.4-0.8h0m5.4 0.7h0m53.3-1h0m4.4 1h0m3.4-0.6h0m5.1 0.5h0m3.4-0.1h0m4.9 0.3h0m3.1 0.2h0m67.6-0.8h0m3.8 0.7h0m4.1-0.7h0m3.4-0.3h0m4.4 0.8h0m5-0h0m3.5-0.7h0m4.7-0.3h0m4.2-0.1h0m3.8 0.7h0m4.4 0.5h0m4.2-0.2h0m3.8-0h0m4.2-0.8h0m-235.3 4.1h0m5.2-0.4h0m12.2 1h0m8-1h0m4.4-0h0m3.9 0.9h0m54.5 0.1h0m3.8-0.1h0m4.3-0.5h0m3.9 0h0m4.9 0.5h0m2.8-0.1h0m4.2-0.6h0m66.6-0.4h0m4.5 0.9h0m8.5-0h0m3.9-0.1h0m3.8-0.6h0m5 1h0m4.4-0.7h0m3.2 0.4h0m3.8 0.1h0m5.2-1.1h0m3.4 0.5h0m4.1 0.3h0m4 0.5h0m4-1.1h0m-209.4 3.7h0m4.2 0.5h0m55-0.8h0m4.3 0.5h0m3.8 0.2h0m3.4-0.6h0m5.2 1.2h0m7.6-0.7h0m4.6-0.2h0m78.2-0.2h0m3.8 1.1h0m5.4-1.3h0m3.8 1.1h0m4.4 0.2h0m7.8-0h0m3.5-0.8h0m4.9 0.5h0m3.6-0.2h0m-225.2 3.4h0m3 0.7h0m20.8-0.4h0m51-0.8h0m3.4 0.2h0m4.1 0.8h0m4.8-0.7h0m4.2 0.7h0m4-1h0m4.3 0.5h0m2.9-0.2h0m4.2-0.4h0m87.5 0.3h0m4.1 0.4h0m4-0.4h0m5.3-0.3h0m3.9 0.4h0m4.1 0.6h0m3.7 0.3h0m3.5-0.7h0m5 0.1h0m-234.9 3.8h0m4-0.1h0m4.5 0.4h0m3.7-0.8h0m62.3-0.4h0m4.7 1.2h0m4.7-0.6h0m2.9 0.3h0m4.3-0.3h0m5.1-0.6h0m3.5 1h0m4-0.5h0m4.4-0.4h0m4.7 0.7h0m111.8 0.4h0m4.3-1.2h0m3.7 0.8h0m33-0.4h0m4.2 0.4h0m-284.5 4.1h0m4-0h0m8.9-0.4h0m4.5 0.4h0m3.3-0.2h0m4.1 0.1h0m62.7-0.7h0m4.2 0.4h0m4.2-0.3h0m4.6-0.2h0m4.1 0.3h0m3.9 0h0m4.7 0.4h0m3-0.3h0m4.8 0.2h0m4.3 0.2h0m120.1-1.1h0m20.6 0.8h0m-255.5 2.9h0m8.8 0.5h0m82.6-0.5h0m3.9-0.2h0m13.2 0.1h0m3.4-0.1h0m124.5 1h0m62.5-0.7h0m-304.6 4.3h0m4.5-0.7h0m3.1 0.9h0m4.6-0.4h0m4.8-0.8h0m243.6 0.1h0m-267.6 4.2h0m4.4 0.1h0m4.2-0.2h0m4.3 0.3h0m306.7-0.2h0m30.1 0.3h0m-350.9 3.1h0m3.7 0.1h0m4.3 0.1h0m3.6-0h0m237.7 0.4h0m70.6-0.6h0m3.7 0.2h0m25.1 0.5h0m3.3-0.2h0m5 0.2h0m-355 3h0m4.1-0.4h0m240 0.4h0m66.7 0.2h0m29.7-0.6h0m3.3-0h0m5.2 0.4h0m4.2-0.6h0m-360.1 3.9h0m4.9 0.5h0m274.3 0.1h0m4-0.9h0m62.4 0.1h0m3.7 0h0m4.3 0h0m4.3 0.5h0m3.8 0.4h0m-368 3.2h0m4.1 0.6h0m4.6-1.1h0m8.6 0.4h0m4.2 0.4h0m132-0.9h0m4.7 1.2h0m4.9-0.7h0m3.6-0.4h0m12.8 1h0m173.7-0h0m4.4-0.4h0m4.7 0.2h0m2.8-0.7h0m5.1 0.7h0m-371.1 3.3h0m8.2 0.3h0m8.1-0.1h0m4.2-0.2h0m3.4 0.4h0m4.2-0.6h0m4-0h0m87.3-0.2h0m4.9 0.9h0m4.1 0.1h0m11.6-0h0m4.4-0.2h0m4.1-0h0m4-1h0m4.8 0.5h0m3.4 0.2h0m4.1 0.2h0m5.1 0h0m4.2 0h0m54 0.1h0m99.4 0.1h0m29.4-0.7h0m2.9-0.4h0m5 0.9h0m4.1 0.1h0m3.4-0.7h0m-371 3.7h0m4.6 0h0m4 0.6h0m4.5-0.4h0m7.2 0.6h0m4.9-0.2h0m4.1-0.6h0m3.8-0h0m83.4 0.1h0m3.7-0.5h0m4.5 0.3h0m3.5 1h0m4.5-0.3h0m5 0.1h0m3.1-1.1h0m4.1 0.3h0m5.2 1h0m3.9-1.2h0m3.4-0.1h0m5.3 0.2h0m3.1 0.2h0m5-0.4h0m3.3 1.3h0m4.3-0.7h0m170 0.2h0m4.7-0.5h0m3.3 0.7h0m5.2-0.7h0m7.4-0.2h0m-366.7 4.4h0m4.1 0h0m7.8-0.6h0m4.4 0.1h0m4.9 0.8h0m3.4-1.3h0m3.9 0.8h0m4.4 0.1h0m82.7 0.1h0m5-0.9h0m16.4 0.2h0m3.5 1h0m4.9-0.2h0m24-0.4h0m4.5 0.1h0m4.7-0.5h0m86.6 0.4h0m9.2-0.4h0m28.8 0.8h0m12.3 0.1h0m28.6-1.1h0m5 0.1h0m3.5 1.1h0m4.3-0.8h0m4.3 0.8h0m3.9-1.1h0m4.4 0.2h0m-367.2 4.2h0m4 0h0m8-0.3h0m3.7 0.6h0m5.4 0.1h0m3-0.8h0m4.9-0h0m86.9 0.6h0m3.8-0.6h0m46.1-0.3h0m3.9-0.1h0m3.6 0.3h0m109.2 0.8h0m57.6-0.3h0m4.2-0.3h0m3.5 0.5h0m4.4-0.3h0m4.1 0.4h0m3.8-0.5h0m4.8-0.5h0m3.7 0.7h0m-362.7 2.9h0m3.9 0.9h0m12.7-0.9h0m3.7 0.3h0m4.3-0.4h0m87.8-0.1h0m3.8 0.8h0m7.6-0.4h0m29.9-0.2h0m4.4 0.8h0m3.5-0.5h0m5 0h0m3.9-0.5h0m161.6 0.6h0m4.6-0.4h0m7.9 0.7h0m4.1-0.9h0m3.6 0.3h0m4.5 0.9h0m4.4-0.7h0m-358.8 3.2h0m3.8 0.5h0m3.6 0.6h0m5.3-0.7h0m8.4 0.2h0m2.9 0h0m87.9-0.1h0m3.3-0.3h0m29.9 0.9h0m4.5-1.1h0m4.3 1h0m3.3-0.8h0m4.5 0.3h0m4.3-0.6h0m90.7 0.5h0m34 0.1h0m36.8-0.2h0m3.8 0.4h0m9-0.7h0m7.9 0.8h0m3.6-0.9h0m4.1-0.1h0m5.2 0.3h0m-364.1 4.4h0m4.7-1h0m4.5 1.2h0m4.2-0.9h0m3.8-0.2h0m8.9 0.1h0m94.4 0.5h0m12.5-0.8h0m12.3 0.3h0m8.7-0h0m8-0.1h0m4.9 0.9h0m65.9 0.1h0m96.1-1.2h0m4.1 1.1h0m4.3 0.2h0m3.4-1h0m16.5 0.8h0m4.4 0h0m4.5-0.4h0m-367.6 3.5h0m4.7 0.5h0m3.1-0.5h0m5.3-0.4h0m3.3 1.1h0m4-1.2h0m4.6-0.1h0m99.9 1.3h0m33.3-0.9h0m3.8-0.3h0m3.8 0.4h0m4.7-0.4h0m49 0.8h0m9.3-0.1h0m3-0.1h0m4.7-0.6h0m3.9 0.7h0m62.7 0.1h0m21 0.4h0m8-0.5h0m4.1 0.4h0m4.1-0.5h0m4.3-0.7h0m4.6 1h0m3.9 0.1h0m3.3-0.3h0m5.4-0.7h0m3.4 0.1h0m3.8 1h0m-371.7 3.2h0m12.5 0.3h0m4.5 0.1h0m3.8-1.2h0m4.5 0.1h0m4.4 0.6h0m96.1-0.3h0m36.7 0.7h0m3.7-0.3h0m5.3-0.3h0m57.2-0.1h0m13-0.1h0m4.1 0.2h0m33.5 0.7h0m45.8-0.6h0m2.8-0.5h0m4.6 0.2h0m3.8 1h0m9.3-0h0m4-0.4h0m3.8-0.8h0m4.5 1.2h0m3.7-0.3h0m3.7-1h0m5.2 0.1h0m-371.4 4.7h0m7.2-0.3h0m4.3-0.6h0m3.9 1h0m4.4-0.1h0m8.5-0.3h0m133.3-0.2h0m3.6 0.6h0m5.1-1.3h0m4 0.8h0m66.4 0.2h0m33.2-0.3h0m45.7 0.6h0m3.2-0.6h0m4.4-0.6h0m3.7 0.7h0m4.4-0.8h0m4.6 0.4h0m12.7 0.6h0m3.3-0.3h0m4.9-0.3h0m4.5-0.3h0m4 1.1h0m-372.2 2.5h0m4.2 0.8h0m8.6-0.3h0m3.5 0.5h0m4.7-0.9h0m4.5 0.9h0m4.2-0.2h0m3.3-0h0m104-0.5h0m28.9 0.7h0m5.1-1.1h0m3.4 0.5h0m67.1-0.4h0m3 0.6h0m71.3 0.6h0m4.1-0.8h0m4 0.1h0m4.7 0.4h0m3.2-0.2h0m4.8-0.6h0m3.7 0.8h0m4.8-0.1h0m3.4-0.1h0m5.1-0.5h0m4.1 0.1h0m3.1-0.2h0m4.5 0.8h0m4.4-0.2h0m4.8-0.1h0m-375.7 4h0m7.3 0.1h0m12.8-0.6h0m4.6-0.3h0m3.3 0.7h0m4-0.1h0m4.3-0.4h0m133.1 0h0m4.1 0.2h0m62.5-0.1h0m3.5-0.4h0m4.9 0.8h0m4-0.1h0m61.9-0.2h0m4.7-0.1h0m7.6 0.4h0m9.1-1h0m4.5 0.7h0m3.3 0.6h0m4.5-1.1h0m3.4-0h0m4.1 0.1h0m4.3 0.7h0m5-0.1h0m4.4 0.1h0m3.9-1h0m4.2 0.2h0m-375.9 3.8h0m7.8 0.6h0m4.6 0.2h0m4-0.7h0m3.7-0.1h0m5.1 0.5h0m3.3 0.1h0m8.6-0.8h0m103.4 1h0m5.3-0h0m24.6-0.2h0m3.4-0.1h0m62.8-0.8h0m4.3 1h0m4.5-0.1h0m2.9 0.1h0m5.1 0.1h0m53.8-1.1h0m4.2 0.7h0m3.9 0.3h0m3.8-0.7h0m4.6 0.1h0m4.4 0h0m4.5 0h0m4.1-0.2h0m3.4 0.9h0m4.6-0.5h0m4.3-0h0m4.1-0.7h0m3.8 0.6h0m4.4 0.6h0m4-0.3h0m4.2-0.3h0m4.3-0.1h0m3.7-0.3h0m-371.7 3.6h0m4.3 0.2h0m4.6-0.1h0m11.8 0.5h0m5.3 0.5h0m3.1-1.1h0m108.7-0.1h0m12.1 0.3h0m3.8-0.2h0m67.3 0.7h0m3.3 0.4h0m4.5-0.2h0m4.3 0h0m3.8-1h0m4.6-0h0m4.3 0.9h0m3.7-0.3h0m4.6-0.1h0m40.8-0.6h0m4.3 1.2h0m3.6-0.9h0m9.3-0.3h0m3.3 1h0m4.9-0.9h0m4 1h0m4.6-1h0m3.3 0.2h0m3.8 0.9h0m9.3 0.1h0m4.2-0.4h0m4.1-0.1h0m3.1-0.8h0m4.2 0.9h0m4.8 0.1h0m8.3 0.2h0m-379.7 3.1h0m4.2 0.3h0m3.4 0.1h0m4.1-0.7h0m8.8 0h0m4.9 0.3h0m3.5 0.4h0m3.9 0.1h0m4.9-1h0m107.1-0.1h0m4.8 0.7h0m3.3-0.4h0m4.9 0.2h0m4.6-0.3h0m66-0.3h0m4 0h0m4.1 0.9h0m4.6-1h0m3.7 0.1h0m3.5 0.9h0m5 0.3h0m3.7-0.3h0m33.7 0.2h0m3.7-1.1h0m3.9 1.2h0m4.3-0.8h0m4.2 0.4h0m4.2-0.6h0m3.8-0.1h0m5.3 1.2h0m2.8-1.1h0m4.5 0.1h0m4.3-0.2h0m4.2 0.7h0m3.6 0.3h0m5.2-0.9h0m3.8 0.5h0m4.5-0.3h0m3.8 0.1h0m4 0.7h0m4.6-1h0m3.9 0.6h0m3.4-0.5h0m5 0.5h0m-379.5 3.3h0m3.2-0h0m5-0.4h0m4.1 0.2h0m4.6-0.1h0m2.9 0.2h0m4.9 0.3h0m3.7 0.5h0m3.9 0h0m4-1.1h0m88.1 0.2h0m24.9-0.4h0m4 1.2h0m3.7-0.1h0m66.3-0.8h0m4.5 0.7h0m4.1-0h0m4.9 0.2h0m3.9-0.1h0m3.6-0.5h0m5 0.4h0m3 0.4h0m3.9-1.2h0m5.4 0.1h0m29 0.7h0m3.3-0.1h0m4.9-0.4h0m3.4 0.7h0m4.3-1.2h0m3.7 0.2h0m4.4 0.1h0m4.5-0.2h0m3.6 0.9h0m4.5-0.8h0m4-0.1h0m4.7 0.6h0m3.5-0h0m4.8 0.5h0m4.1-0.1h0m3.9-1h0m4.4 0.2h0m4.5-0.2h0m3.6 0.2h0m8.2 0.2h0m4.6 0.5h0m-375.7 3.9h0m4.3-0.4h0m3.9-0.6h0m4 0.6h0m4.9-0.1h0m3.9-0.2h0m3.3-0h0m5 0.4h0m4.2-0.5h0m116.1-0.1h0m4 0.1h0m65.8-0.2h0m5.1-0.2h0m4.1 0.1h0m4.2 0.8h0m3.9 0.2h0m3.8-0.5h0m4 0.5h0m4.8-0.9h0m3.1 0.7h0m5.2 0.1h0m16.7-0.8h0m3.7-0.1h0m4.4 0.1h0m4.5-0h0m2.8 0.4h0m5.2-0.6h0m4.3 0.1h0m3.3 1h0m4.8-0h0m4-1.2h0m8.7 1.3h0m3.2-0.8h0m4.8 0.7h0m4.1 0.1h0m4-0.3h0m3.6-0.1h0m4 0.3h0m5.2-0.9h0m3.7-0.2h0m4.4 1.1h0m3.5 0h0m4.7-0.8h0m4.4-0.1h0m3.4 0.2h0m-375.4 3.4h0m4 0.8h0m3.9-0.5h0m4.3 0.3h0m4.1-0.5h0m4.7 0.8h0m3.8-0.6h0m4.3-0.5h0m4 0.3h0m190.6 0.1h0m4.2-0.4h0m5 0.3h0m3.3 0.9h0m4.7-0.7h0m4.6 0.8h0m3.7-0.1h0m3.7-1.3h0m4.5 0.4h0m4.5 0.9h0m3.8 0.1h0m4.6-1.2h0m3.5 1.1h0m4.7-0.1h0m4.1 0.2h0m3.5-0.8h0m4.2 0.6h0m5-1h0m3.5 0.2h0m4.5 0.8h0m8.8-0.8h0m4.1-0h0m3.8-0.3h0m4.5 0.7h0m3.8-0.6h0m4.5 0.2h0m3.4 1h0m3.7-0.6h0m5.3-0.7h0m2.9 0.1h0m4.5 0.1h0m-350.3 4.2h0m8.1-0.4h0m4.9 0.1h0m3.7 0.7h0m3.8-1.1h0m4 0h0m4.4 0.1h0m125.3 0.4h0m3.7-0.5h0m49.4 0.6h0m5 0h0m3.8-0.7h0m4.4 0.1h0m3.2 0.5h0m5.1-0.2h0m4.1 0.5h0m3.6 0.2h0m4.6-0.9h0m4 1.1h0m3.2-0.5h0m5.3-0.1h0m3.9-0h0m7.6-0.2h0m4-0.2h0m4.3-0h0m4.2-0.3h0m8.7-0.1h0m4.6 0.2h0m3.5 0.9h0m3.7-0.9h0m4.6 1h0m5-0.9h0m3.4 0.2h0m3.7 0h0m5.1 0.5h0m3.1-0.3h0m4.6-0.1h0m8.8-0.3h0m3.8 0.3h0m-255.5 4.1h0m70.5 0.2h0m25.3-1.2h0m4.5 0.2h0m4.3-0.1h0m3.3 0.6h0m4.1-0.5h0m4.9 0.9h0m3.1-0.8h0m4.4 0.6h0m5.1-0.1h0m3.5-0.7h0m4.6 1.1h0m4.4-0.8h0m2.9 0.3h0m4.8 0.3h0m4.3 0.2h0m4-1.2h0m4.4 0.8h0m3.5-0.5h0m4.9 0.9h0m4.3-0.6h0m7.3 0.5h0m4.2-0.6h0m5.3 0.5h0m3.2-0.1h0m4.3-0.8h0m4.5 0.6h0m3.3 0.6h0m9.3-0.2h0m3.2-0.3h0m4.3-0.3h0m8.2 0.1h0m4.2-0.1h0m5.2 0.6h0m3.9 0h0m3.6-0.1h0m-250.2 3.2h0m3 0.2h0m5.2-0.6h0m49.3-0.3h0m37.7 0.5h0m3.2 0.5h0m5-0.2h0m3.2-0.8h0m4.2 0.4h0m5.3 0.8h0m4.1-0.1h0m3.6-0.7h0m3.7 0.6h0m5-0.7h0m3.6 0.8h0m4.4-0.3h0m4.2 0.5h0m3.6-0.1h0m4.7-0.7h0m3.5 0.4h0m5.1-0.3h0m3.2 0.1h0m4.2 0.5h0m4.2-0.1h0m8.4 0.1h0m4.5-0.7h0m3.5 0.2h0m4.4-0.2h0m4 0.6h0m4.3-0.9h0m5.1-0.1h0m3.4 0.2h0m4.5 0.1h0m3.5 0h0m4.8 0h0m4.4-0.4h0m3.2 0.4h0m4.6-0.4h0m4 0.5h0m3.9 0.9h0m-246.7 3.6h0m4.9-0h0m3.9-0.5h0m4 0.3h0m4-0.9h0m41.3 0.3h0m33.7-0.5h0m4.4 0.6h0m3.9-0.2h0m4.4 0.2h0m3.3-0.3h0m4.1 0.9h0m5.2-0.1h0m2.9 0.1h0m4.5-0.1h0m4.5-0.5h0m3.4 0.2h0m4.9-0.4h0m3.5-0.1h0m5.1 0.5h0m3.6-0.3h0m4.5 0.3h0m4-0.3h0m4.6 0.4h0m3.8-0.9h0m3.5 0h0m4 0.1h0m4.9 0.5h0m4-0.4h0m4.2 0.7h0m4.7-0.2h0m3.6-0.1h0m3.6-0.5h0m5.4 0.9h0m3.2-0.4h0m4.5-0.2h0m3.4-0.1h0m5.4-0h0m3.6-0.2h0m4.3 0.6h0m3.5 0.3h0m5.1 0.1h0m-230.8 2.6h0m3.8 0.7h0m4.1 0.4h0m4.5-0h0m13-0.6h0m24.2-0.5h0m4.5 0.1h0m33.8 0.5h0m4.1-0.7h0m4.1 0.8h0m4.2 0.4h0m3.7-0.2h0m3.7-0.5h0m5 0.3h0m3.4 0.4h0m4.2-0.6h0m4.5-0.3h0m7.5 0.1h0m5.1 0.9h0m3.7-1.1h0m8.7 0.7h0m3.3 0.1h0m4.3 0.1h0m3.9-0.5h0m5.3 0.4h0m4.1-0.3h0m7.7 0.4h0m3.9-0.4h0m4.4-0.5h0m4.3 0.8h0m3.5-0.2h0m5.1-0.7h0m4.3-0h0m3.7 0.3h0m3.9 0.4h0m4.2 0.1h0m4.6-0.6h0m4 0.1h0m-247.3 3.6h0m4.1 0.3h0m21.1 0.2h0m3.4-0.4h0m5.1-0.1h0m4.4 0.2h0m3.6-0.1h0m66.5 0.3h0m4-0.2h0m4.4 0.2h0m3.9-0.4h0m4.7 0.8h0m3.2-1.2h0m4.6 0.1h0m4 1h0m3.9-1.1h0m4.7 1.1h0m4.5-0.7h0m3.7-0.3h0m4.1-0.2h0m3.7 0.5h0m4.1-0.5h0m4-0h0m5.3 0h0m3.7 1h0m4.4-0.2h0m4.2-0.3h0m3.2-0.3h0m9.2 1.1h0m3.7-0.1h0m3.7-0.7h0m5-0.2h0m3.5-0.1h0m3.9 0.4h0m4.7-0.1h0m4.6-0.2h0m3.6 0.5h0m4.2 0.5h0m3.8-0.1h0m4.8-0.2h0m-242.9 3.6h0m4.2-0.8h0m4.6 0.2h0m16.6 0.2h0m4 0.1h0m4.2 0.5h0m4.3-1.2h0m3.4 0h0m3.8 0.9h0m58.8-0.7h0m4.5 1.1h0m32.4-1h0m4.7 0.5h0m3.9 0.4h0m4.1-0.4h0m4.8 0.1h0m7.6 0.4h0m3.7-0.5h0m5.2 0.5h0m3.2-0.3h0m3.9 0.2h0m16.7-1.2h0m38 0.3h0m-234.9 4.4h0m4.4-0.1h0m20.7-0.1h0m4.4-0.2h0m3.5 0.5h0m4.9-0.3h0m3.7 0.3h0m5-0.4h0m7.3 0.2h0m41.5-0.7h0m4.4 0.3h0m5 0h0m36 0.6h0m4.1-0.3h0m4.5-0.7h0m5.1-0.1h0m8.2 0.5h0m4.2 0.3h0m4 0.4h0m3.7-1h0m75.4 0h0m-247.5 4.2h0m4.7 0h0m20.5-1h0m3.8 0.5h0m4.4 0.2h0m4.1-0.1h0m4.3 0.3h0m4.4 0.3h0m3.5-0.7h0m16.3-0.4h0m25.6 0.9h0m3.9-0.9h0m3.6 0.3h0m41.5 0.1h0m4.5 0.3h0m4.5 0.5h0m4.2-0h0m3.6-1.1h0m3.7 0h0m5.4 0.4h0m3 0.4h0m34.2 0.3h0m-202.1 3.6h0m4.3-0.9h0m21.5-0.4h0m3.4 0.8h0m4.8-0.3h0m4.2 0.5h0m4.3 0.2h0m41.3-0.5h0m4.3 0.2h0m3.3-0.3h0m4-0.5h0m45.5 0.2h0m4.3-0.2h0m4.2 0.5h0m5.2-0.1h0m3.3 0h0m4.2 0.4h0m4-0.5h0m9.2 0.6h0m3.4 0.4h0m4.2-0.3h0m58.5-0.4h0m8.3-0h0m4.1-0.3h0m-250.9 3.9h0m29.2 0.1h0m4.2 0.2h0m3-0.9h0m13 0.9h0m4 0.4h0m29.7-0.9h0m4.1 0.4h0m3.6-0.2h0m53.8-0.5h0m4.9 0.4h0m4.3 0.4h0m3.2-0h0m4.3-0.8h0m4.3 1.2h0m57.6-0.1h0m4.1-0.9h0m4.1 0.4h0m5.2-0.2h0m-234.4 3.1h0m23.8 0.4h0m4.5 0.4h0m4.8 0h0m15.5 0.1h0m4.3-1h0m25.2 1.4h0m8.5-0h0m58.7-0.2h0m4-1h0m4 0.9h0m4.4-1.1h0m12.2 0.7h0m3.2 0.7h0m46.8-1.3h0m3.8 0.7h0m3.5-0.4h0m12.5-0h0m4.4-0.3h0m-243.1 4.2h0m25.9-0.6h0m48.7 0.8h0m4.1-0.4h0m5.2 0.1h0m3.9 0h0m40.7 0.1h0m9.1-0.5h0m7.9 1h0m4.8-0.5h0m3.5-0.7h0m16.6 0.1h0m49.4 0.2h0m4.2 0h0m5.1-0.2h0m3.4 1.3h0m4.4-0.4h0m4.6 0h0m-168.1 3.5h0m4.5-0.1h0m3.5-0.7h0m42.1 0.6h0m3.1-0.7h0m9.2 1.2h0m4-0.6h0m3.4 0.5h0m4 0.1h0m4.2-0.4h0m12.5 0.4h0m54.9-0.6h0m4.1 0.1h0m8-0.1h0m7.8-0.3h0m5.2 0.7h0m-168.5 3.6h0m4.7-0.9h0m7.7 0.1h0m33.7 1h0m3.5-0.6h0m8.3-0.2h0m3.6 0.3h0m4.1-0.2h0m5 0.5h0m8.6-0.7h0m8.2 0.2h0m57.3 0.6h0m8.9-0.8h0m3.8 0.8h0m3.7-0.4h0m8.7 0.1h0m-184.6 3.3h0m13.1 0.5h0m3-0.1h0m4.7-0.6h0m42.2 0h0m2.9 0.7h0m4.1-0.2h0m4.2-0.2h0m5.1 0.8h0m3.4-1.4h0m74.7 0.3h0m5.1-0.3h0m3.5 1.1h0m4.8-0.2h0m4.1 0.5h0m8.4-1.3h0m-194.2 4.6h0m13.5-0.8h0m8.2 0.8h0m4.2-0.1h0m3.8 0.1h0m3.6-0.8h0m4.4 0h0m4.1 0.9h0m4.7-0h0m4.4-1h0m12.6 0.5h0m3.6-0.3h0m3.6 0.8h0m4.2-0.9h0m5 0h0m4.3-0.1h0m4-0.1h0m86.6 0h0m4 0.6h0m8.5-0.4h0m3.6 0.5h0m-180.5 2.9h0m17.8 0.5h0m3.7-0.1h0m4.4 0.6h0m3.3-0h0m4.4-0.8h0m8.1-0.2h0m5.2 0.4h0m3.4 0.5h0m4-1h0m4.1 0.5h0m4.3 0.7h0m4-0.2h0m5.1-0.3h0m3.5-0.1h0m-56 4.3h0m3.8-0.7h0m4.8 0.7h0m4.3-0.5h0m8.1-0.3h0m3.5-0.1h0m4.5 0.8h0m4.3-1.1h0m4.3 0.3h0m3.2 0.2h0m4.4-0.5h0m4 1.1h0m4.8-0.1h0m-77 3h0m4 0.8h0m5-1.3h0m12.3 0.2h0m4 0.9h0m4.4-0.1h0m3.8-0.1h0m4.2 0.4h0m3.7-0.6h0m4.9 0.7h0m4.2-0.7h0m3.3 0.6h0m4.7-0.2h0m3.3-0.1h0m5-0.4h0m3.2 0.2h0m4.3-0.1h0m-72.4 4.1h0m24.9-1.2h0m5.1 0.4h0m2.8 0.9h0m4.5-0.6h0m5-0.4h0m3.9 0.4h0m4.1-0.7h0m3.8 0.9h0m4.8 0.4h0m3.8-0.4h0m4-0.3h0m4.4-0.1h0m161.4 0.5h0m-233.9 3.4h0m3.1 0.1h0m29.1-0.6h0m4.6 0.2h0m4-0.5h0m4.8 0.1h0m3.7 1h0m4.8-0.1h0m3.1-0.1h0m5-0.7h0m-61 3.7h0m4.1-0.2h0m33.3 1.1h0m4.5-0.8h0m3.9 0.1h0m4.3-0.4h0m3.9 1.1h0m-63.8 3.2h0m178.7-0.7h0m4.1 1.2h0m3.5-0.3h0m-205.5 3.1h0m8.6-0.4h0m3.7-0h0m24.8 0.6h0m29.3-0.6h0m54.5 0.1h0m3.6 0.6h0m62.9-0.4h0m3.7-0.2h0m4 0.4h0m4 0.3h0m4.4-0.7h0m13-0h0m-26.5 4.3h0m3.7-0.7h0m3.5 0.9h0m16.9-0.9h0m3.7 0.1h0m-200.9 4.6h0m4.6-0.7h0m157.8-0.5h0m3.5-0.1h0m4.3 1.2h0m7.9-0.6h0m17 0.6h0m4.7-1.1h0m3.3 0.3h0m-204.6 4.3h0m3.5-0.9h0m3.7 0.3h0m154.9 0.5h0m3.5-0.7h0m3.6-0.3h0m25.6 1.1h0m3.8-0.7h0m8.8 0.9h0m-227.1 2.8h0m124.8 0.7h0m58.6-0.5h0m4.3-0.4h0m24.7 0.1h0m8.6 0.1h0m3.6 0.8h0m4.6-1.1h0m-242.9 3.6h0m3.9-0.3h0m62.4 1.3h0m4.1-0h0m165.3-1h0m-180 4.1h0m12.8 0.3h0m25.3 0.1h0m86.4 0.1h0m-126.4 2.9h0m4.5-0.2h0m119.9 0.3h0m4.6 0.5h0m-139.6 3.7h0m158.4 0h0m4.2-0h0m-160.2 2.8h0m3.3 0.9h0m154.8-1.1h0m-156.1 4.3h0m16.6-0.6h0m4.6 0.7h0m3.7-0.4h0m-9.8 4.2h0m12-0.6h0m62.6-0.4h0m86.7-0.1h0m4.5 0.7h0m-181.1 4h0m49.6-0.4h0m128.3-0.7h0m-184.3 3.7h0m186.9 0.6h0m4.8 0.4h0m-2.2 3.1h0m4 0.5h0m15.9-1h0m-213.2 4h0m194.9-0.4h0m3.6 0.5h0m5.4-0h0m-214.6 10.1h0m9 0.2h0m7.5 0.3h0m175-0h0m-189.2 3h0m3.6 1h0m5-0.6h0m3.7 0.1h0m71-0h0m103.6 0h0m10.1 3.1h0m-2.1 3.9h0m4.2 0.8h0" fill="none" stroke="#f28a30" stroke-width="5" stroke-linecap="round"/>
<path d="M0 0m1874.1 82.2h0m45.1-0.2h0m-72.9 3h0m4.4-0.1h0m12.8 0.9h0m8.2-0.8h0m45.3 0h0m-76.2 4.3h0m7.7-0.6h0m4.4 0.3h0m11.9 0.3h0m9.1 0.3h0m45.8-0.6h0m20.3 0.3h0m-93.8 3.6h0m13.4-0.7h0m3.5 1h0m9.1-0.1h0m-27 3.6h0m4 0h0m4.1-0.5h0m4.1 0.3h0m3.3 0.3h0m4.3-0.6h0m3.9-0.1h0m4.7 0.4h0m-26.2 3.1h0m3.1 0.6h0m4.2-0.8h0m4.7 0.6h0m-18.7 2.7h0m4 1.2h0m3.8-0.3h0m4.2-0.4h0m4.5 0.5h0m4.4-0.3h0m3.2-0.4h0m4.3-0.2h0m4.1 1h0m-13.8 2.5h0m7.6 0.9h0m-26.9 3.4h0m4.1-0.5h0m8.3 0.1h0m4.9 1.1h0m112.3-0h0m20.2-0h0m-147.2 2.5h0m3.8 0.2h0m3.9 0.5h0m4.8 0.3h0m4.1-0h0m4.6-0.2h0m103.8-0.5h0m-134.8 4.4h0m3.1-1.1h0m12.4 0.7h0m4.5-0.8h0m4.9 0.4h0m2.9 0.3h0m-34.4 3.5h0m4.5 0.5h0m4.1-0.1h0m3.8-0.3h0m3.2-0.2h0m5.5 0.7h0m8.1-1.3h0m-31.4 4.3h0m8.6-0.6h0m7.6 0.6h0m5-0.3h0m4.1 0.9h0m3.8-1.3h0m-23.5 4h0m4.9-0.3h0m3.6 0.1h0m4.1 0.7h0m3.9 0.4h0m4.2-0.9h0m9.3-0.3h0m-43.5 3.5h0m7.2-0.1h0m8.2 0.6h0m9.1 0.2h0m4.2-0.1h0m8.4 0.2h0m-39.9 3.2h0m5-0.5h0m3.5 0.3h0m4.6 0.6h0m3.3-0.2h0m4.4-0.1h0m4.7-0.1h0m4.3 0.8h0m7.6-1.3h0m-38.8 4.5h0m7.6 0.2h0m8.7-0.6h0m4-0.5h0m3.7 0h0m4 0.7h0m4.4-0h0m8.3-0.6h0m-175.5 3.6h0m3.2-0.1h0m132.6 1.3h0m4.7-0.4h0m8.8-0.5h0m3.8-0.3h0m4.3 0.1h0m7.6 0h0m4.5 0.7h0m-167.4 3.1h0m3.7 0.8h0m128.3-1h0m4.5 0.5h0m4.1 0.5h0m3.6 0h0m4.4-0.1h0m3.8-0.4h0m4 0.2h0m5.5-0.1h0m7.9 0.4h0m144.4-0.5h0m-312.1 4h0m3 0.1h0m129.8-0.6h0m3.6 0.2h0m4 0.5h0m4-0.7h0m4.5 0.6h0m4.5-0.5h0m3.4 0.6h0m8.4-0.8h0m124.8 0h0m3.8 0.8h0m3.7-1.1h0m-296.7 4.5h0m133.4-0.4h0m3.8-0.2h0m4.7-0h0m3.6 0.6h0m4.6-0.8h0m4.1 0.9h0m4.2-0.3h0m4.5-0.8h0m4.2 0.6h0m33.1-0.1h0m129 0.7h0m-189.2 2.7h0m4 0.6h0m7.5-0.6h0m5.1 0h0m16 0.7h0m12.4 0.1h0m4.7-0.1h0m4.4-0.4h0m-19.1 3.3h0m4.4-0.2h0m3.6 0.6h0m4.8 0h0m4.4-0.7h0m19.9 1h0m13-0.9h0m65.5 0.9h0m4.3 0h0m-159.5 3.3h0m49.4 0.3h0m5.3-0.2h0m3.9-0.2h0m11.7-0.2h0m5 0.5h0m79 0.3h0m4.1-1.3h0m-177.4 4.8h0m4.6-0.5h0m4.2-0.6h0m3.8-0h0m4.3-0h0m63.1 1h0m8-0.8h0m8 0.7h0m4.2-0h0m3.6-0.7h0m5 0.4h0m-113.9 4.1h0m3.2-1h0m4.8 0.1h0m8.1-0.3h0m66.7-0.1h0m7.5 0.8h0m8-0.1h0m8.7-0.7h0m-122.5 4.9h0m4.2-1.2h0m3.7 0.5h0m4.7 0h0m4.6 0.7h0m3.8-0.2h0m4.5-0.5h0m3.9 0.8h0m87.1-1.3h0m-26.6 11.2h0m3.6-0.3h0m17.3 1.1h0m-31.4 3.7h0m3.6-0.6h0m5 0.2h0m-7.1 3.7h0m4.2-0.9h0m4.1-0.2h0m4.2 0.9h0m17-0.6h0m4.1 0.9h0m11.8-0.4h0m-47.4 3.1h0m4.9 0.2h0m4.1 0.1h0m3.2-0.4h0m4.2 0.2h0m4 0.5h0m5.2-0.8h0m3.3 0.1h0m4.9-0.1h0m4 0.5h0m99.4-0.5h0m4 1.1h0m-134.4 3.4h0m3.2 0.3h0m21.6-1.1h0m4.1-0.1h0m99.1 0.8h0m4.1-0.6h0m-139 4.2h0m4.1-0.6h0m4 0.5h0m25.8-0.5h0m3.5 0.7h0m95.4-0.7h0m5.2 0.6h0m-139.8 2.8h0m8.5 0.4h0m8.5-0.2h0m20.8 0.7h0m3.9-0.2h0m91.1-0.8h0m4.2 0.3h0m-118.8 4.6h0m112.5-0.6h0m-113.5 3.1h0m40.9 0.2h0m67-0.4h0m3-0h0m-126.2 4.5h0m4-0.6h0m54.5 0.4h0m51.9 3.6h0m3.5-0.3h0m-101.8 3.5h0m91.7 0.4h0m4.3 0.6h0m-89.1 3h0m-8.3 7.7h0m3.7-0.8h0m-70.7 6.8h0m232.4 1.1h0m-196.1 2.7h0m190 0.7h0m-197.3 3.7h0m5.4 0.1h0m3.2-0.9h0m171-0.1h0m7.1-0.1h0m-192.5 4.1h0m4.7 0.2h0m3.1-0.5h0m170.2 0.5h0m13.4-0.2h0m-223 4.3h0m25.4-0.6h0m4.4 0.3h0m3.6-0.4h0m166.8-0.3h0m3.7 0.4h0m-213.1 2.9h0m16.4 0.6h0m4.2-0.6h0m4.2 1h0m3.4-0.3h0m5.1 0.2h0m3.1 0.3h0m4.7-0.4h0m169.5 0.1h0m17.1 0.2h0m3.5-0.4h0m-224.9 3.3h0m15.8 0.7h0m4.9-0.6h0m3.1-0.1h0m4.7 0.8h0m174.3-1.1h0m4.6 0.6h0m3.4-0.4h0m16.6 0.9h0m-226.4 3.2h0m9.3-0.5h0m3.7 0.1h0m3.9 0.8h0m190.4-0.4h0m16.8-0.2h0m5.3-0.2h0m-222.3 3.3h0m4.2-0.1h0m3.4 1.2h0m186.7-1.2h0m24.8 0.1h0m12.4 0.7h0m-86.8 6.5h0m66.8 0.1h0m-69.1 3.6h0m58.3 0.6h0m3.7-0.1h0m16.9 0.1h0m13.1 0.1h0m-259.4 3.3h0m3.9 0.3h0m157.5-0.1h0m-18.9 2.8h0m-146.6 3.9h0m3.6 0.6h0m4.5-0.9h0m-15 4.3h0m8.2-0.3h0m4 0.2h0m4.6 0h0m3.9 0.5h0m129.3 0h0m3.6-0.9h0m4.7-0h0m3.3-0.3h0m91.8 1.3h0m-259 2.7h0m3.5-0.2h0m4.4 0.8h0m3.5-0.4h0m9.1-0.3h0m3.5-0h0m4.4 1h0m136.6-0.5h0m-167.9 2.9h0m5.3 0.8h0m3.6 0.5h0m4-0.3h0m12.2-1h0m3.8 0.1h0m142 0.5h0m7.9 0.3h0m4.2-0.7h0m4.7-0.1h0m-267.8 4.5h0m4.3-0.3h0m70.6 0.5h0m4.1 0.1h0m3.4-1.2h0m4.5 0.6h0m3.9-0.5h0m3.7 0.5h0m9.3 0.5h0m153.8-0.5h0m3.9-0.1h0m3.8 0.7h0m8.8-0.1h0m-271.7 2.8h0m3 0.5h0m74.6-0.6h0m8.3-0.4h0m5.3 1.2h0m165.1-0.8h0m4.2 0.7h0m5.1-1.1h0m3.2 0.5h0m-263.5 3.5h0m62.7-0.1h0m4.3 0.1h0m3.7 0.1h0m4.9 0.6h0m3.4 0.1h0m3.9-0.7h0m12.9 0.4h0m124.4-0.1h0m24.7-0.6h0m4.7-0h0m3.3 0.3h0m4.5 0.2h0m4.7 0.5h0m3.6-0.1h0m3.8-0.6h0m8.4 0h0m4.1 0.6h0m-287.7 3.6h0m3.8-0.5h0m58-0h0m3.9 0.3h0m4.7-0.9h0m3.5 0.3h0m8.8 0.9h0m4.7-1.2h0m140.5 0.7h0m8.5 0.5h0m16.2-0.1h0m4.1-0.6h0m4.6 0.5h0m4.4 0.2h0m3.2-0.3h0m5-0.5h0m-268.3 4.2h0m4.1-0.1h0m53.9-0.3h0m4 0.4h0m4.8 0h0m3.5 0.3h0m5.4-1h0m3.3-0.3h0m4.8 0.8h0m3.4 0h0m4.1 0.1h0m4.6 0.2h0m128.1-0.7h0m29.8 0.4h0m4.3-0.6h0m3.1 0.4h0m-250 3.3h0m40.5 0.4h0m4.7-0.6h0m4.6 0.4h0m3.6-0.1h0m4.5 0.4h0m3.4-0.5h0m5.1 0.3h0m4.2-0.4h0m3.3 1.1h0m3.9-1h0m4.4 0.8h0m13-0h0m141-0.9h0m4.4-0.2h0m4.4-0h0m3.2 0.5h0m25.4-0.5h0m4.6 1.2h0m-289.7 2.8h0m8.8-0.2h0m8.4 0.2h0m9 0.8h0m33.1-0.3h0m4-0.6h0m3.7 0.6h0m4.2 0.4h0m4.4-0h0m3.7-0.6h0m4.6-0.6h0m3.3 0.5h0m5-0.1h0m-98 4.3h0m16.7-0.5h0m12.7-0.5h0m3.7 0.9h0m3.9 0.2h0m13.6-0.2h0m12.1 0.1h0m3.3-0h0m5.2-0.5h0m3.4 0.6h0m12.5-0.7h0m4.9-0.2h0m3 0.3h0m4.4 0.1h0m4-0.2h0m-97.4 3.5h0m8.7-0.4h0m4.4 0.3h0m8.1 0.6h0m4 0.3h0m4.3-0.5h0m4.8 0h0m2.9 0.4h0m5.4-0.6h0m3.4 0.4h0m5-0.2h0m7.1 0.3h0m4.1-0.1h0m4.6-0.7h0m4.7 1h0m3.3-1.2h0m4.9-0h0m7.9 0.1h0m11.9 0.8h0m58.8-0.2h0m-155.9 2.8h0m4.8 0.2h0m4 0.2h0m3.7 0.6h0m9.1-0.3h0m7.9-0.5h0m4.4 0.1h0m3.7 0.2h0m4.5 0.7h0m4.3-0.3h0m3.5 0.1h0m16.3 0.2h0m4.4 0.1h0m253.8-0.8h0m3 0.7h0m-330 2.9h0m5.1 0.1h0m4.1 0.1h0m4.5-0.7h0m15.8 0.5h0m4.7-0.1h0m3.7 0.5h0m4.9-0.5h0m2.9-0.4h0m5.1 1.2h0m7.8-0.2h0m21.4-0h0m-77.9 3.1h0m5.3-0h0m3.4-0.4h0m4 0.7h0m8.8-0.3h0m7.9-0.4h0m4.1-0h0m17.1 0.9h0m11.9-1h0m12.3 1.3h0m4.6-0.7h0m8.5 0.1h0m4.1 0.3h0m-80.6 3.5h0m7.7 0.2h0m12.6-0.7h0m4.2 0.9h0m4.3-0.6h0m20.1 0h0m8.6-0.3h0m12.8-0.3h0m4.6 0h0m8.1-0.1h0m-93.3 4.9h0m4.1-1.3h0m8.4 0.9h0m7.2 0.2h0m34.5-0.6h0m15.8 0.2h0m8.4-0.1h0m7.7-0.6h0m4.1 0.3h0m4.7-0.1h0m-84.9 4.1h0m4.7-0.1h0m3.9-0.7h0m4.2 0.1h0m8.2 0.7h0m12-0.2h0m8.8-0.4h0m12.6-0h0m3.8 0.4h0m3.9 0.1h0m4.5 0.5h0m4.1-0.1h0m-73.4 3.3h0m4.9 0.3h0m20.5-0.9h0m3.5-0.1h0m12.7 0.5h0m12.4 0.3h0m4.2-0.5h0m8.7-0.1h0m4.6 0.2h0m8.3 0.5h0m4.1-0.6h0m4.4 0.1h0m-90.4 3.2h0m17.3 0.6h0m4.2 0.6h0m4.4-1h0m3 1h0m5.4-0.8h0m2.9-0.2h0m4.2 0.4h0m8.8-0h0m3.7 0.1h0m4.5-0.1h0m8.2-0h0m20.4 0.3h0m-84.1 2.8h0m3.8 0.2h0m8.4 0.1h0m4.5 0.1h0m4.2 0.3h0m12.2 0.1h0m20.1-0.4h0m5.1 0.3h0m12-0.7h0m7.8 1.2h0m5.1-0.4h0m8.5-0.9h0m-85.8 3.6h0m4.6 0.3h0m3.2 0.9h0m8.2-0.5h0m4.3 0h0m4.1 0.5h0m5.4-0.7h0m2.9 0h0m4.5-0.2h0m8.2-0.1h0m4.3 0.6h0m8.8 0.1h0m3.3-0.9h0m5.3 1h0m7.4-0.5h0m8.1 0.6h0m4.5 0.1h0m-85.2 3.7h0m4.8-0.9h0m7.3 0.2h0m5.3-0h0m2.9-0h0m13.6 0.1h0m33.1-0.3h0m3.9 0.8h0m8.9-1h0m91 0.9h0m-164.7 3.5h0m4.2-0.8h0m4.1 0.7h0m4.4-0.2h0m7.9-0.3h0m4.4-0.1h0m8.5-0h0m3.9-0.4h0m4.4 0.4h0m9-0.3h0m7.4 0.9h0m12.6-1h0m4 1.1h0m91.6-1.1h0m-168.6 3.9h0m4.4 0.2h0m4.9-0.4h0m3.3 0.6h0m8.8-0.5h0m3.9-0.2h0m8.4 0.7h0m4.4-0.1h0m3.6-0.2h0m8.3 0.3h0m9-0.4h0m-52 3.8h0m16.8 0.4h0m4.2-0.4h0m12.2 0h0m8.3-0.1h0m3.4 0.4h0m5.3-0.8h0m8.1 0.9h0m8.1-0h0m-65.2 3.8h0m5.1-0.2h0m3.7 0.3h0m4.6-0.8h0m12.6 0.2h0m8.3 0.5h0m12.4-0.3h0m3.6 0.5h0m12.7-0.2h0m-60.2 2.6h0m11.7 0.4h0m4.4 0.6h0m16.4-0.8h0m5.1 0.5h0m12 0.5h0m3.9-0.2h0m4.1-0.4h0m-51.3 3.5h0m11.6 0.5h0m4.2 0.2h0m5.3-1.2h0m15.4 0.3h0m4.9-0.3h0m-18.8 4.5h0m8-0.8h0m92.1 0.9h0m-111 3.3h0m4.6-0.4h0m4.7-0h0m99.3-0.1h0m3.7 0.1h0m-109.7 3.6h0" fill="none" stroke="#3b62b2" stroke-width="5" stroke-linecap="round"/>
</g>
<rect x="1657.1" y="403.7" width="73" height="7.8" fill="#fff"/>
<text x="1655.2" y="394.4" font-size="21.0" textLength="83.0" lengthAdjust="spacingAndGlyphs" fill="#fff">200 µm</text>
</g>
<rect x="1471" y="67" width="182.6" height="158.6" fill="#231f20" stroke="#0b2b3d" stroke-width="2"/>
<rect x="1475.8" y="78.9" width="19.3" height="21.7" fill="#fff"/>
<text x="1503.8" y="99.1" font-size="23.8" textLength="36.4" lengthAdjust="spacingAndGlyphs" fill="#fff">DAI</text>
<rect x="1475.8" y="109.1" width="19.3" height="21.7" fill="#f28a30"/>
<text x="1503.8" y="130.1" font-size="23.8" textLength="69.7" lengthAdjust="spacingAndGlyphs" fill="#f28a30">Tumor</text>
<rect x="1475.0" y="143.0" width="19.3" height="21.7" fill="#72286f"/>
<text x="1503.8" y="163.4" font-size="23.8" textLength="144.3" lengthAdjust="spacingAndGlyphs" fill="#7b2c80">Granulocytes</text>
<rect x="1475.0" y="175.9" width="19.3" height="21.7" fill="#3b62b2"/>
<text x="1503.8" y="195.6" font-size="23.8" textLength="81.1" lengthAdjust="spacingAndGlyphs" fill="#3b62b2">Vessels</text>
<g>
<defs><clipPath id="cb"><rect x="1429.7" y="417.5" width="605.3" height="538.7"/></clipPath>
<filter id="nzb" x="0" y="0" width="100%" height="100%" color-interpolation-filters="sRGB"><feTurbulence type="fractalNoise" baseFrequency="0.13 0.1" numOctaves="2" seed="5"/><feColorMatrix type="matrix" values="3.4 0 0 0 -1.55  3.4 0 0 0 -1.55  3.4 0 0 0 -1.55  0 0 0 0 1"/></filter>
<filter id="bl8" x="-20%" y="-20%" width="140%" height="140%"><feGaussianBlur stdDeviation="9"/></filter>
</defs>
<rect x="1429.7" y="417.5" width="605.3" height="538.7" fill="#050606"/>
<g clip-path="url(#cb)">
<g filter="url(#bl8)">
<polygon points="1430,417 1547,417 1582,516 1594,585 1547,639 1509,670 1430,670" fill="#777a79" opacity="0.9"/>
<polygon points="1430,670 1509,670 1497,748 1466,825 1430,875" fill="#5c5f5e" opacity="0.8"/>
<polygon points="1748,570 1845,570 1845,647 1748,647" fill="#1c241f" opacity="0.7"/>
<polygon points="1737,740 1883,740 1883,844 1737,844" fill="#4a4d4c" opacity="0.8"/>
<polygon points="1941,956 1961,883 2035,806 2035,956" fill="#3a3c3c" opacity="0.8"/>
</g>
<mask id="mbm" maskUnits="userSpaceOnUse" x="1429.7" y="417.5" width="605.3" height="538.7"><g filter="url(#bl8)">
<polygon points="1430,417 1547,417 1582,516 1594,585 1547,639 1509,670 1430,670" fill="#8a8a8a"/>
<polygon points="1430,670 1509,670 1497,748 1466,825 1430,875" fill="#777"/>
<polygon points="1737,740 1883,740 1883,844 1737,844" fill="#666"/>
<polygon points="1941,956 1961,883 2035,806 2035,956" fill="#555"/>
</g></mask>
<rect x="1429.7" y="417.5" width="605.3" height="538.7" filter="url(#nzb)" mask="url(#mbm)" style="mix-blend-mode:screen"/>
<filter id="bl1" x="0" y="0" width="100%" height="100%"><feGaussianBlur stdDeviation="1.3"/></filter>
<g filter="url(#bl1)" fill="none" stroke-linecap="round">
<path d="M0 0m1731.6 422.2l4.2-0.9m163.7 3.6l3.5-5.5m-295.8 16.9l3.4-5.7m252.5-0.8l3-3.4m44.2 8.1l4.7-4.8m109.1 1.6l-2-6.6m-435.9 10.6l2.2-1.2m0.8 6l4.5-0.9m60.5-1.5l2.9-6.1m-0.6 4.4l3.5-1.3m116.1 2.1l5.1-1.8m40.6 9.3l0.2-6.9m10.6 3.8l-0.2-2.5m24.9 5.1l-1-2.9m20.4 4.9l-1.9-7.2m4.4-1.2l-0-2.8m14 6.5l2.1-6m19.3 1.8l0.5-5.5m81.1 9.3l-1.2-5.3m-528.2 17.5l0.5-5.2m113.5-2.1l1.4-2.3m18.1 5.5l2.1-4.5m37.1 9.5l3.4-4.4m39.7 2.3l2.2-3.3m13.7 2l7.7-1.9m12.6-0.3l3.5-3.4m6.4 7.1l1.2-1.6m103.7-1l2.6-3.8m113.1 3.2l1.1-3.6m12.1 6.7l1.5-1.9m12.6 1.1l0.2-4.7m-248.1 17.9l2.5-6.1m83.7 1.6l4.2-5.1m70.3 1.6l-0.7-5.6m31.7 8.3l3.8-5.1m82.1 10.7l2.7-6.2m-497.7 11.2l-0.1-3.4m227.7 1.5l0.2-2.4m230.2 4.8l1.5-2.7m52.6 3.2l0.5-3.8m-389.2 9.2l4.7-3.6m62.7 5.1l1.8-4.8m2.3 2.7l1.2-2.1m191.8 8.2l1.2-5.3m48.5-0.1l6.2-3.8m-360.2 18.9l1.4-7.7m45 0.5l1.9-2.1m28.5 6.4l1.5-1.4m33.9 3.1l4.9-3.2m2.1-2.2l4.2-3.5m101.7 9.5l5.7-3.9m29-0.5l1.5-1.5m63.7 1.9l0.4-4.6m39 5.6l4.2-2.9m16 4.7l1.8-2.3m39.4 4l5-3.4m-428.5 9.6l1.9-2.5m19.3 0.3l3.5-3.4m10.4 10.9l3.3-4.5m61.9-0.6l6.4-4.6m6 7.2l3.7-5.2m1.3 4.2l1.6-1.5m207.8-0.9l0.8-2.5m40.6 0.5l3.4-5m44.6 10.5l-0.8-7.9m-353.1 10.8l1-1.9m9.1 7.5l7.7-1.4m178.6 1.9l1.6-2.1m2.1 4.6l1.3-3m13.9-2.5l2.8-2.7m-394.7 14.2l1-7.6m119.4 9.9l6.1-2.2m52.5 2.7l2.5-5.3m42.1 3.7l1.7-3.2m85.3 4.1l-0.1-4.9m14.9 4.9l1.6-3.3m68.6 0l1.6-4.4m44.1 6.8l-0.9-6.7m9.9 1.5l1.9-1.6m5.9 3.2l2.5-5.1m49.1 5.1l2.8-2.2m-345.1 10.4l3.4-2m100.5 7.6l3-4.4m76.7 6.3l-1.2-5.9m29 1.8l4-3.4m37.6 0.1l1.7-1.9m122.3 9.3l-0.9-4m-534.2 5.6l5-2.5m126.4 3.9l7-2.3m80.6 0.2l0.3-2.2m256.3 7.7l2-1.4m15.7 4l0-5.5m14.4 4.8l-1.2-6.7m-413.4 18.2l-0.8-5.5m57.6-0.1l1.1-4.5m117.4 5.2l4.7-3.7m51.7 5.7l-0.7-4.8m112.8 6.1l5.2-4.8m59-0.1l5.8-5.4m19 4.4l0.5-3.5m-318.6 12.9l5.2-3.7m25.3 7.5l2.5-4m73 1.1l2.6-2.1m59.1 3.8l4-4.4m10.1 5.1l0.4-2.2m56.6 4l-1.2-6.8m-286.1 12.4l3.2-5.6m28.2 12.3l2-6.1m5.2 3.9l3.6-2.6m44.6 3.9l4.1-6.2m80.5 4.7l-0.6-3.7m126.4-0.8l5.4-5m-324.6 15.6l6.5-3.4m9.1 5.9l3.3-5.2m1.3 2.9l1.8-3.4m29.1 3.7l5.1-1.5m244.7 5l2.9-2.3m68.9-5.4l3-1.2m-274.7 16.7l3.6-6.1m1.6 5.8l1.8-4m149-1.9l1.2-1.9m117.5 3.7l0.9-4.4m-401.3 20.8l1.9-2m245.5-0.4l1.5-2m14-2.7l2.3-3.5m59.4 6.7l3.3-5.1m-304.5 11.5l4.6-1.3m110.2 10.1l2.1-5.7m117-0.3l2.4-2.4m-201.9 14.2l3.2-6.6m133.7 2.9l1.9-6.4m42.6 3.6l4.2-2.2m10.4 5.6l1.1-1.7m157.9 2.4l6.5-4.3m-345 15l3.3-1.7m-40.5 12.1l3.9-4m54.9 3.3l6.3-2.6m282.8 8.6l1-7m1-0.9l5-2.6m-389.8 18l0.1-3.8m45.8-2.6l2.4-2.1m131.6 10.2l2.9-6.5m63.3 6.4l0.4-6.5m-334.4 6.9l2.6-2m22.2 6.5l0.4-2.3m140.9-3.4l2.5-2.5m20.3 11.4l6.2-3.5m211.8-5l5.7-3.8m-320.1 18.4l0.1-2.6m193.9-1.4l4.2-0.6m-296.5 16.8l3.2-1.6m101.5 1.1l3.4-1.6m41.6-2.6l4.4-4.7m19.9 1.4l1-2.3m257.6 9l7-2.1m-243.6 4.9l7.7-1.4m92.8 8.4l3.8-5.4m-185.9 13.3l2.6-3.2m167.7 1.1l1.5-4m95.6 0.9l5-1.3m124.6 5.4l0.8-2.4m-510.4 10.4l3.3-0.6m346.7-2.5l3.3-0.7m-433.4 18.9l4-2.9m132.1-0.6l2.6-2.4m132.4-1.9l0-2.2m175.2 3.2l4.3-4.7m42.3 7.2l4.2-1.6m45 0.8l2.2-2.7m10.1 5.1l4.3-3.6m-520.5 16.8l4.5-5.5m56.2 3.4l1.3-7.1m18.7 2.9l3.9-4.2m61.5 5.5l1.1-2.4m34.8 7.1l2.1-2.5m5.5-1.3l-0.4-6m82.8 6.9l1.6-2m39.1-2.9l0.2-4.3m-213.8 21.1l0.2-2.5m24.8-1.7l4.9-1.8m103.6-1.7l6.5-2.9m199.5 3.3l1.3-4m48.9 5.5l6.1-4.4m50.9 9.3l0.5-2.5m-486.6 10.5l5.2-2.8m2.9 5.5l4.1-2.1m33-3.7l2.6-1m11.5 5.1l0.2-5.7m22.1 4.3l7.2-2m15.4-2.2l6.8-3.4m39.6 9.4l6.4-3.7m57.3-1.2l2.6-5m65 10.6l0.7-5.2m35.5-1.3l3.6-4.6m47.6 9l1.4-4.6m52.6 1.8l2.4-4.8m41.6 2.3l2-0.8m-493.3 19.9l2.4-4.4m118.3 0.4l5.3-3.7m206 2l0.2-2.1m28.5 6.8l2.3-3.3m67.8 1.6l0.5-6m49 9.6l0.2-6.3m-332.8 10.4l4-6.7m11.7 2.7l6.8-2.4m13.4 3.8l2.3-1.3m36.7-0.5l3.6-3.6m25.3 9.7l1.7-5.6m-222.1 12.3l2-6.8m-1.9 8.8l5.2-2.8m87.9 4.3l1.9-1.9m66.9-3.1l4.8-1.1m69.5-0l4.8-1.2m47 3.6l0.5-5.1m7.9 4l1.8-1.7m9.6 0.6l5.4-3.9m93.9 9.7l0.2-7.8m-496.3 12.1l-0.5-3m17.2 0.9l1.1-1.8m60.5 4.8l0.2-2.5m2.3-0.5l3.5-0.7m32.5 2.7l2.8-2.8m36.8 7.2l3.8-1.9m119.4 3.6l0.5-3.6m27.5 3.3l1-2m20.7-5l0-3.5m113.7 5.7l2.3-0.7m40.5-0.6l2.9-1.8m-365.8 12.9l0.4-2.2m144.6 7l1.3-6.5m37.3-0.4l0-3m8.4 9.5l3.7-5.6m151 5.7l0.2-2.3m-184.3 6.2l1.2-3.4m76.8 11.5l4.4-5.9m54.5-1.7l5-4.9m18.8 9l4.3-4.5m125.2 2.8l2.3-3.7m-285.4 10.4l4.2-3.9m21.9 9.1l1-2.4m90.3-0.2l4-5.1m52 1.1l0.3-3.7m94.2 11.2l0.5-2.6m-531.6 10.1l2.5-5.4m4 0.3l4.8-1.7m8.5 1.3l2.5-3.5m118.8 6.7l4.3-2.7m28.4 6.6l2.1-6.7m46.5 5.6l0.2-5.8m39.5-0.5l4.6-3m11.8 11.7l3.8-3.7m38.3 2.9l6.1-4.5m30.4 5l2.8-2m85 0.9l1.8-4.9m-455.6 9.3l2.3-1.7m63.7 1l-0.1-2.4m94.4 3.4l-0.8-7.6m121.7 11.3l1.3-4.2m171 1.2l0.4-7.3m-0.4 8.7l3.9-1m62.4 3.9l1.9-5.6m14.4 3.9l2-1.7m-527.8 13l2.1-0.6m33.1-4l1.1-4.3m15.2 7l2.9-6m19.7 5.1l-0.6-4.5m77.5 6.8l-0.1-5m25.1 2.5l2.6-4.6m63.4 3.2l5.3-2.6m164.3 5.1l3.2-2m96.1 0.3l5.5-4.3m17.6 7.7l5.5-1.3m-513.2 10.7l5.7-3m27.8-2.7l3.2-2.9m37.3 3.7l0.4-4.7m9.9 10.2l-0.2-5m75.5 1.2l6.6-1.2m26.9 6l1.9-5.3m109.2 0.3l2.7-1m66.7-0.5l1.6-2.3m-417.4 15.1l1.6-7.5m50.9 8.3l2.4-6.9m2.2 8.5l0.4-2.4m163.2-1.5l4.3-2.2m162.8 3.1l1.7-4.4m15.9 5l5.1-5m102.7 3.4l5.1-5m31.9 3.9l0.6-2.3m11.1 1.6l2.3-1.1m-533.3 9.7l1.2-2.9m87.8 1.9l-0.4-2.4m9 8l3.1-1.6m11.1 2.3l-0.7-6m26.3 2.4l3.7-4.4m102.2 6.7l4-3.4m219.4 0.1l2-0.5m-438.8 8.8l5.8-2m58.4 6.1l1.8-0.9m66.8 2.8l2.5-3m23.2 2.5l3.6-2.5m35.4 0.1l2.2-2.4m48.9 4.8l3.8-1.8m131.3 3.1l2.2-1.2m115.8 1.2l2.3-6.9m-581.5 17.7l2.2-4.3m96-1.9l2.5-6.4m7.7 6.4l1.2-6.5m2.2 5.6l2.7-2.4m12.1 1.6l0.3-3.1m86.8 5l3-4.6m10.9 7.3l2.4-2.5m61.6 4l3.5-3.6m1.1 5.8l3.4-6.8m78.3 1l3.9-5.7m6.7 10l6.7-4m10.7 2.2l1.9-3m82.7-0.6l2-4.9m6.2 10.8l3.9-4m28.4 4.6l1.1-3.8m46.9-4.5l2.2-1m-577.3 19.1l1.7-3.8m107.7-3.4l3.2-5.4m75.2 11.5l-0.1-2.8m60.4 0.4l1.5-3.9m17 0.8l4.9-3.4m56.4 5.8l2.6-4.5m65.3 4.6l3.3-4.5m159.8 2.3l2.7-1.4m11.3 3l5.4-5.3m-486.1 14.3l2.3-2.9m31.4 2.1l0.5-7.7m27.5 9.7l1.2-2.1m52.8 1.1l-0.2-4m64 7.8l6.2-5m22.1 1.3l0.3-3.2m229.2 6.3l0.4-6.5m-519.4 17.5l0.4-3.3m64.2 0.2l3.7-5.5m142.8 2.9l1.6-2.8m89.8 6.1l3.2-7.2m161.3 9.1l4.8-2.4m8.7 4.4l4.1-6.6m5.4 4.7l5.8-2.6m61.2-3.6l0.1-2.1m-549.9 17.9l5.6-2.1m41.5 1.3l5.5-2m18.3 2l3.6-5.2m21.9 0.7l-0.3-7.4m19.5 12l3.4-3.6m102.8 0l0.1-7.9m94.4 5.9l4.3-4.4m1.4 8.3l5.1-6m17.8 3.9l1.3-3m93.6 5.8l4.5-2.5m1.6 0.3l4.2-3.8m8.8 6l0-4.8m-211.4 8.9l1.6-1.4m204.9 3.9l7.1-2.5m12 1.2l0.4-4.7m2.8 9.8l0.8-5.3m-508.5 8.3l2.3-3.3m3.7 6.7l4-1.7m97.7 4.9l0.5-7.5m43.4 4.5l-0.1-2.6m31.9 6.5l-0.7-7.1m58.2 1.7l4.3-2.8m222.6 4.7l1.5-1.7m13.6 1.2l3-4m43.4 1.4l1.6-3.9m8.4 7.9l4.2-1.6m-485.7 14.7l2.3-5.9m188.3 6.3l1.5-6.4m77.2 1.7l2.9-1.2m20.8-0.5l0.9-2m109.6 6.3l2.6-1.2m9.4 0l4.3-6.3m33.5-0.1l1.9-1.1m9.3 4l6.1-1.4m10.5 6.4l1-6.6m13.7 5l6.9-1.6m2.1 0.4l3.2-5m16.3 7.2l3.5-1.5" stroke="#505352" stroke-width="7.6"/>
<path d="M0 0m1574.7 422.7l1-3.8m268.2 5.3l2-3.4m14 1.2l1.5-2.2m77.9 7.7l-1.9-7.1m-374.4 6l3-1.2m46.9 3.5l2.3-1.8m5.7 1.1l3.9-5.7m47.2 10.9l1.8-2.6m67.6 0.9l5.6-4.4m43.7 7.6l0-7.7m171.8 0.5l1.4-2.2m11.8 6.4l-0.3-5m14.9 2.4l1.2-7.2m-373.2 17.1l5.4-5.8m167.2 6.8l2.2-6.7m112 9.3l0.7-6.9m111.2 10.1l1-7.7m-459.6 8.6l3-2.2m30.7 7.9l2.4-4.8m33.4 3l5-2.6m19 3.7l2.9-1.1m29.7 1.7l6.2-4.3m76.9 4l4.8-3.5m16.9 2.1l3-7.3m18.1 4.3l-2.6-7.3m53.8 7.2l-1-4.9m13.4 10.3l-1.5-4.4m35.9 5l4.7-3.3m29 1.4l0.7-7.2m42.1 10.6l-0.8-5.6m20.9 3.4l2.2-1.8m15.1 2l4.7-4.8m-471.8 6.8l3.6-2m5.4 1.5l6.2-1.9m122.7 9.9l6.1-3.6m38-0l3.6-1.1m21.1 1.6l4.5-5.9m18.9 5.4l-0.1-5.1m13.9 4l-0.2-2.6m24.6 6.9l0.2-2m41.9 0.4l-1.5-5.6m6.1 8.8l-0-7.4m56.7 7.4l0.3-5.3m13.2 4.9l2.2-2.5m9.8 1.1l-1-3.1m33.3-3.2l3.3-3.9m-515.4 18.6l1.6-2m90-3.2l3.9-1.4m131.7 9.3l3.7-2.5m24.4 2.5l3.3-4.6m93.5-2.7l-0.1-3.8m13 11.2l1.2-4.7m14.5 0.7l-0.5-2.3m31.5 6l1.9-4.9m33.5 4.2l0-4.6m91.8 0.8l0.8-3.9m-470.9 12.7l2.3-1.4m47.4 2.4l2.2-3.6m27.6 4.7l5.1-5m100.5 6.1l2-7.2m62.1 4.1l0.2-2.9m49.4 4.5l2.5-5.7m30.5 2.2l2.3-1.9m3.4 6.2l-0.1-6m97.5 5.3l0.5-7.2m49.7 7.3l0.9-6.5m-441.6 20l3.6-5.2m22.3 4.1l1.7-1.7m36.2 0l7.3-2.9m35.2 0.1l1.6-3.4m170 7.5l-1.9-5.7m8.8 4.7l1.5-2.5m79.4 5.4l0.9-4.7m20 1l0.6-4.8m23.4 7.1l4.8-5.8m-442.2 12.2l1.4-6.3m41.6 6.2l0.6-4m37.2 3.2l0.2-4.4m44.3 11l0.4-6.6m60.6 1l0-3.3m28.7 5.3l1-2.7m71.3 3.1l1.2-5.3m2 6.8l1.4-2.6m56.1-3.8l2.5-5.9m64.5 9.3l2.4-1.4m-492 12.6l2.8-1.9m8.1 2.7l2-1.2m222.6-3.5l1.8-3.9m106 8.1l-0.4-6.9m72.1 0.3l-0.9-3.3m54.9 3.8l0.5-2.7m22 2.8l1.6-1.3m-529.4 10l5.5-2.9m127.4 10.3l4-2.3m12.2-0.1l0.6-5m35.6-0.9l0.3-2m105.2 4.9l3.9-4.2m15.9 3.7l1.3-4.4m75.5 4.3l2.8-1.7m16.4 2.3l-0.2-3.9m149.1 1.9l-0.6-2.7m13.3 8.5l1.2-3.1m-432.7 10l4.5-2.1m147.3 7.3l4.5-5.3m64.5 2.3l1.2-7.8m15.4 4.8l-0.8-2.8m34.3 5.9l3-2.2m63.9-0.6l-0.6-2.7m34.4 7.8l2-2.7m20.8-1l1.8-4m18.3 7.1l2.3-2.1m7.8-3.2l5.6-3.4m-571.4 15.9l-0.6-7.7m126.5 10.3l1-4.8m44-2.9l3.2-1.6m131.1 9.3l2.7-3.6m65.7 1.4l2.6-1.5m16.7 4.6l3.2-3.7m76.6-3.2l2.6-3.2m60.9 6.5l-0.8-3.3m-415.8 17.6l3.2-5.1m114.2-0l6-2.4m29.5 6l1.4-2m38.7 1.5l2.3-1.5m39.4 2.2l1.5-4.4m49.6-3.4l-0.1-2.5m59.6 9.5l2-2.7m52-2.6l2.4-5.4m17.3 9.8l-0.6-7.5m-446.1 14.1l5.8-4.7m54.9 1.5l5.9-3m87 10.5l4-5.9m21 1.2l0.8-2m-1 2.3l3.9-4.6m23.3 7.6l0.7-5m7.5 6.6l1.4-2.5m36.8-4.4l0.9-3.4m38.1 4.1l1.9-1.5m21.8-0.8l0.7-2.2m132.6 3.8l-0.3-2.1m39.8 10.6l0.7-7.9m-434.9 9.6l6.1-2.4m118.7 7.7l4.8-3.1m37.6 4.1l0.7-2.8m17.6-3.8l3.3-5.1m36.1 7.3l0.1-3.8m105.5 4.8l1.8-7.7m12.2 3l1-3.1m32.5 4l3.2-2.4m19.1 5.4l6.8-2.3m6 1.4l4.2-3.5m5.3 5.3l3.6-6m11.8 9.7l2.9-4m-495.2 9.3l5.2-3.3m85.1 4.7l3.9-0.7m61.6 1.7l4-3.2m2.6-0.1l0.6-6.1m116.7 5.5l2.5-2.6m19.7 0.7l2.9-1.2m12.2 4l-0.3-6.2m23.3 8.8l5.2-4.6m2.4-0.2l0.9-4.9m20.9 12.1l0.9-6.3m13.2-1.2l3-1.9m14.5 7.1l2-6.8m33.9 4.6l1-1.8m16 4.2l0.9-3.8m-331.9 6l7.6-1.6m19.8 4.7l6.6-2.9m162.3 5.7l-0.2-3.1m59.5 3l5-5.3m6.1 4.2l1.2-4.6m0.8 3.1l1.3-7.6m28 5.4l1.3-2.9m37.6 7.9l4.6-3.2m-530.5 13l0.5-5m8.8 4l3.6-2.1m141.3 0.7l0.6-7.7m13.9 8.8l0.6-3m17.7 5.8l1.7-2.1m26.4-0.5l4.2-2.3m4.7 5.2l4.5-1.7m69.7 0.3l2.8-4.4m5.4-1.1l2.6-1.9m28.2 6.6l-0.4-2.9m57.6 0.6l-0.7-2.5m39.4 1.3l4.4-2.6m37 8.7l1.4-1.7m4.4-5.9l4.9-2.3m-414.9 14.6l4.4-1.9m57.2 1.7l6.1-2.7m9.1 0.1l2.4-2.1m28.6 4l0.5-3.5m138.2 9.5l3-1.1m49.7-3.5l-0.1-4.8m56.3 9.5l2.3-4.4m0-2.2l3.2-0.7m23.9 2.5l3.3-1.6m42.2 3.5l0.3-2.8m30.7 5.4l3.7-2.1m10.2-5.5l1.1-2.4m-423.5 19.7l1.4-2.3m45.4-2.4l2.1-0.7m35.3 0.4l1-5.1m8.6 4.9l-0.1-3.9m6.6 4.1l3.7-1.6m39.6 6.2l0.3-2.7m168.8 1.7l3.2-6.6m29.7 9.8l1.7-5.4m41.9-1.3l0.6-7.4m21 5.9l2.1-1.2m-465.4 16l1.4-6.1m74.3 6.3l2-5.1m25.5 1.2l0.2-4.9m32 5.5l0.8-3.3m41.2 4l3.1-7.1m175.7 13.6l2.5-6.7m34.3 0.5l4.1-2.5m-1.1 5.2l4.4-1m22.1-1.3l0.7-4.8m22.3 6.1l2.4-3m9.5-1.8l4.9-6m7.8 11.2l5.7-3.1m-361.6 15.3l3.1-5.1m21.9 4.1l3.3-4.4m6 5l2.2-3m34.1 0.3l2.7-7m168.7 1.5l7-1.7m74.6 7.3l1.6-6.3m-516.7 9.7l5.9-2.2m54.5 9.2l0-6.6m94.6 9.8l1.5-5.8m45.4 1.6l1.4-4m206.2 1.3l3.8-4.9m7.3 5.6l2.1-5.8m9.8 2.3l2.9-1m11.8 3.4l7.2-2.6m6.8 1.7l0.7-6.8m11.8 9.7l2.3-0.9m78.5-2.9l6.5-3.1m-0 7.8l2.2-5.8m-437.3 10l-0.2-3.1m112.6 9.8l5.1-5.9m141.5 0.2l2.4-1.3m8 4.4l2.6-3.9m1.4 9.7l1.4-6.4m16.1-0.7l1.4-4.3m13.8 4.1l4.1-3.3m23.2 2.7l0.7-2.4m43.7 9.6l1.1-4.5m12.5 1.2l4.1-2.4m6.8-0.7l0.8-6.4m23.7 8.5l3.3-2.4m5.4 2l2.7-1.1m-497.7 10.6l1.8-3.4m51 4.2l1.2-3.5m51.2 2.6l1.1-6.7m9.2 8.5l3.7-6.2m22 7.6l2.7-6m18.9 7.1l-0.4-7.9m158.1 3.4l2.1-7.5m59.7 8.9l1.8-1.2m27.6 1.3l4.4-3.3m2.4 5.1l3.3-2.3m25.1 2.9l1-5.2m14-0.9l2.6-4.3m-445.1 12.9l3.1-2.2m104.8 7.6l1.7-2.3m188.5-1.3l3.1-1.1m56.2 2.3l3.1-0.6m0.5 2.5l1.9-3.3m32.5 5.1l1.4-3.8m26.7 4.6l2.4-4.6m25.1 3.2l2.9-4.6m-0.4 3.4l4.5-1.3m-492 10.6l3.3-0.6m6.8-1.6l2.5-4.6m63 5.7l3.5-5.7m206.9 2.5l5.2-2.1m49.9 9.1l3.3-2.7m50.8-3.7l3.6-3.6m83.9 7.7l1.3-4.5m-472 12.5l1.9-0.9m7.4-4.2l4.4-1.6m38.7 5.7l3.6-2.3m185.3 5.7l3.4-6m54.2 6l2.1-1.5m21.2 2.2l0.5-3.2m4.9-1.3l2.9-0.6m30.4 5.1l0.2-4.4m69.8-1.3l3.1-3.7m29.4 7.9l2.4-1.5m21.2-2.7l2-6.7m-489.5 15l4.5-2.7m16.9 3.4l1.2-4.3m5.1 11.4l4.3-5.7m94.9-0.7l0.7-3.4m39.8 5.7l2.3-0.8m1.4 1.8l2-4.7m105.7 7.1l4.1-5.7m115.9-2.7l1.8-1.8m16.2 6.1l3.7-1.2m26.5 3.9l1.5-3.4m17.3 1.8l0.3-7.4m18.4 4.3l2.4-2.2m-530.4 14l0.2-2.2m74.9 3.8l0.6-2.5m31.8 6.4l4.5-4.4m95-4l3.5-2.6m52 9.9l4.6-5.2m14 5.8l3-3.4m77.1-2.9l3-1m16.8 6.4l2.2-4.2m37.8-0.9l3.7-1.7m14.6 7l1.1-3m14.8-4.1l5.1-4.1m74.7 10.3l3.1-6.8m3.3 3.7l3.9-2.6m-506.1 9.1l2.1-5.6m95.1 8.3l-0.3-4m52.3 8.6l3.3-2.3m179-6.7l0.8-1.9m58.4 3.5l1.9-2.7m18.1 8.4l5.6-1.3m12.4 1.5l2.5-2.3m-510.5 5.7l1.2-3.2m51.2 7.1l2.1-2.9m51.4 0.5l0.5-2.4m5.3 1.9l5.9-5m32.7 5.8l1.3-1.9m68.1 3l3.4-6m70.7 7.6l0.7-5.1m56.2 2.4l3.2-5.6m8.6 2.2l2.2-0.9m6.4 8.2l1.5-7.2m109.2 6.8l1.4-2.3m-461.5 11.6l6.3-4.3m54.9-1.5l1.3-1.9m28.8 7.7l3.3-2.2m95.7-2.7l0.5-2.2m47.3 2.3l1.9-2.9m7.5 5l4-6.3m15.3 10.7l5.9-4.7m29.6-2.5l2.2-0.8m38.7 4l3.9-0.9m106.2 3.4l5.2-4.4m84.1 4.4l1.8-5m-434.7 11.2l-0.2-4.4m16 10.3l2.2-6.4m10.7 1.2l1.4-5.8m9.8 6.3l6-3.7m89.3 6.1l1.8-1.1m112.4 4.5l4.2-4.5m9.5 2.1l0.2-5.3m15.6 3l2.3-2.2m91.4 2l3.1-5.8m54.3 10.2l5-5.8m-387.2 11.5l5.3-3.5m17.9 0.8l1.1-4.1m100.4 9.6l0.1-2.9m47.9 3.4l0.6-4.9m14.7 0.7l1.7-1.3m8 1.9l3.1-2.2m118.6 0.3l0.4-2.5m16 7.4l6.9-2.4m18.5-2.2l1.7-1.5m31.6 4.6l6-0.6m-528.4 8.3l0.7-7.7m62.6 5.3l2-6.8m80.2 6.9l4.3-4.6m226.5 4l3.1-2.2m17 4.4l0.1-5.5m13.9 5.4l4.3-2.4m55.2 1.4l5.4-3.7m-458.9 12.4l5.1-2m309.7-0.1l5.9-1.1m1.6 3.3l3.8-2.6m36.6 6.1l1.3-2.9m32.2 5.9l2.3-5m-365.4 13.8l7.1-1.7m49.7-3.9l4.4-5.5m14.6 5.7l-0.2-2.3m52.4 2.3l3.1-5.7m15.8 4.1l2.6-0.8m101.5 8.7l2.6-4.8m82.3 0.4l1.6-1.3m70.7 5.2l1.3-3.8m-420.4 10.7l1.8-4.2m3.9 7.7l0.6-7.1m16.7 5l0.9-2.5m147.2-1.2l2.1-7.4m26.1 5.6l1.9-1.3m44.9 8.5l5-4.8m53.6 3.2l1.7-6m117.7 4l1.7-1.8m-464.9 15.8l1.8-5.8m50.1 2.9l3.2-1.7m6.5 4.3l1.2-4.6m14.6-2.1l0.2-4.1m99.5 5.7l2.3-2.2m54.4 5.1l2.1-0.6m79.1-0.6l3.4-2.4m97.9 1.9l4.3-2.4m100.1 4.7l0.3-2.7m-504.2 7.9l0.5-2.7m37.3 6.9l-0.6-4.9m59.2 0.6l-0.4-7.1m166 12.4l2-2.5m17.9 0.3l2.2-0.9m47.3-3.1l2.3-0.8m159.8 6.6l3.2-3.2m8.3-1.1l2.1-1m11.2 5.1l1.7-2.8m-595.9 8.8l0.8-5.8m121.6 5.2l4.7-4.4m3.5 1.3l2.9-1.8m84.5 2.9l2.5-2.4m46.5 10.1l3.1-3.3m7.9 4.1l2.2-5.7m30.9 4.9l0.4-3.7m31.3-2.1l6.9-3.6m26.6 8.1l5.6-2.8m10-2.8l3-3.7m19.1 9.9l5.1-6m31.3 0.1l2-0.4m22.7 1l1-5.7m87 11.5l5.3-3.7m11.3-2.2l2.4-7.2m9.5 7.1l2.7-2.8m-517.8 15.8l1.6-4.1m161.6-1.3l0.1-3.1m66.3 2.7l5.4-3.4m11.6 5.1l1.9-1.5m44.3 5l3.7-3.6m7.3 4l0.7-2.1m44.3 3.8l3.3-6.2m6.1 5.7l2.2-0.4m13.5-0.1l1.1-5.4m118.9-1.1l6.9-1.7m-518.7 21.7l1.7-6.9m2.1-1.2l3.3-2.9m20.3 0.7l2.7-2.7m1.5 9.3l3.9-3m4.7 3.2l4.2-0.8m23-5.7l3.2-1.9m152.5 1.1l2-1.1m119.4 3.7l3.3-2.2m134.1 5.5l3.1-1.8m9.7 5.3l3-5.9m20.8 5.5l1.5-7.4m1.7 7.1l1.1-4.8m15.9 0.7l0.7-6.2m-520 16l2.3-1.1m20.1 1.7l0.3-2.3m50.6 1.4l2.7-5.4m23.6 1.8l-0.4-4.3m48.6 11.6l6.6-2.7m72.6 3.3l6-3.4m12.4 5l1-7.2m82.7 4.1l0.6-2.3m150.2-2.1l1-3.6m7.6 2.8l1.8-5.8m-564 15.4l2.4-3.1m25.6 4l2.5-1.9m73.1 2.4l2.9-5.8m97.3 7.4l2.9-3.6m29.6 6.8l0.7-4.3m30.8 2.8l3.9-2.1m79.6-2.6l2.9-3m12.4 2.7l5-5.9m33.1 12.2l0.6-4.7m95.3-2.3l3.7-2.6m34.2 7.3l5.5-5.8m14.9 4.5l3.3-2.6m3 1.2l3.1-3.2m7.6 8.1l2.6-6.2m6.2-1.8l2-2m-468.2 20l3.5-2.6m15.1-4.3l5.7-3.3m42.8 3.4l3.6-5.8m25 8l2.3-2m13.6-0.5l0.5-4.5m45.5 11.8l1.2-3.6m122.9 3.6l2.3-6.9m148.4 2.6l2.2-6.3m5.6 7.9l2.9-1.4m2.5 1.2l3.9-3.5m12.3 2.3l3.2-1.5m-578.6 13.7l0.2-6.3m51.4 1.1l3.9-5m37.3 7.3l0.6-8m135.2 10.2l1.6-3.2m157.3 5l5.8-2.3m58.4 1.4l2.3-1.2m69.7-2.9l1-6.6m19.6 12.6l2.5-3.5m9.6-2.4l7.1-3.3m0.1 4.3l5.3-3.7m0.4 5l7.4-2.8m-574.1 14.6l0.4-4.4m40.7 3.2l1.7-1.2m8.8 2.1l2.1-0.8m82.4-5.5l-0.4-5m10.5 7.6l0.5-2.9m22.7 6.8l-0.8-6.3m7 0.4l1.6-4m70.9 10.7l0.8-2.7m84.5-0.4l5.3-1.7m62.8 1.5l2-5.3m63.3 5.6l4.4-2.1m38.2-2.2l4.9-4m7.5 3.2l1.7-2m12.5 6.2l1.7-3.5m1.1-0.3l2.5-2m-548.8 11.4l5.9-2.5m28.7 6.7l4.5-1.2m40 5.6l0.4-4.4m70 1.8l3.3-4.6m77.9 0.5l1.3-6.6m30.2 10.5l2.9-2.9m67.2 2.5l3.6-1.5m8.2-2.3l3.3-1.4m146.1 3.6l5.7-3m-4.1-0.8l7.1-1.6m9.4 8.4l3.4-1.5m17.2-4.3l2.8-2.6m23.8 6.8l3.4-3.8m16.3-1l3.4-2.7m-542.2 16.2l2-0.4m16.7-0.5l1.4-3.4m53.3 2.8l1-4.6m12.6 9.9l0.4-2.7m38.7-2.8l-0.3-2.1m229.2 7l1.1-2.1m88.5-4.6l6.5-4m12.2 7.7l5-1.1m50.7-3.2l1.1-2.6m11.9 10.1l5.8-5.3m-575.9 13.7l5.7-1.3m13.3 2.9l2.8-2.4m114.1-3.4l1-7.3m14.6 12.4l0.7-3.1m209.3-3.3l5.3-2.4m138.7 7.5l2.8-1.8m11.9-0.1l3.8-3.5m2.2 6.4l2.9-3.1m9.7 0.1l1.7-2.3m14.6 5.9l4-3.3m9.2 1.4l1-1.7m16.6 4.9l0.8-6.5m-588.5 10.5l6.2-2.5m11.7 4.9l5.3-1.4m46.1-5l0.8-2.3m13.3 12.8l3.2-6.6m61.3 3.3l3.1-5.7m41.4 8.8l-1.2-6.9m57.1 5.3l0.3-5.1m64.6-2.8l0.1-2.6m8.8 8.9l5.9-1.5m19.4 1.8l5-2.8m5.4-4.9l3.8-0.8m7.6 4.2l5.2-3.4m18.5 8.5l3.5-2.3m27.9-5.6l4.2-2.5m57.5 7.5l0.6-5.8m59.1 10.2l0.8-6.8m13.2 1.8l3.6-1.9m4.8 2.4l0.3-2.8m21.5 5.9l0.5-3.7m-550.5 8.1l4.5-2m49.8 3.5l5.3-2.1m32.1 4.4l2.3-2.6m34.1-1l3-4.6m7.6 10.4l1.5-5.6m146.3-3.4l1.5-2m25.5 7.5l0.3-3.7m15.7 6.1l4.5-3m6.2-3.7l0.8-2.5m83.7 8.8l2.5-1.3m26.8-3.6l5.7-1.5m-2.7 1.8l4.6-2.3m91 2.6l2.5-1.1m-580 8.2l4.2-1.5m4 2.8l0.3-3.8m87.1 10.3l5.8-2.8m43.1-3.4l3.7-6.4m58.3 12.2l0.9-2.3m146.7-2.4l4.3-3.3m22.5 3.2l1.4-1.9m85.4 4.7l0.3-2.8m7.7 0.1l2-3.9m11.7 2.2l0.3-6.1m13.8 10.9l0.2-6.9m54.7 9.2l5.5-2.7" stroke="#7c7f7e" stroke-width="7"/>
<path d="M0 0m1813.7 424.3l6.2-4m-242.6 13.7l5.6-5.2m101.4 1l2.7-2.2m41.8-0.8l1.8-2.3m36.5 7.5l2.1-0.5m5.6 3.4l6.3-4.4m59.6 2.7l-0.1-2.4m-360.3 13.6l5.7-3.5m379.6-4l0.5-4.9m78.4 5.7l-0.2-3.7m24.8 8l-1-3.8m-310.6 12.7l2.5-5.5m51.6-0.4l0.7-2m98.4 3.2l5-4.6m-129.9 16.1l2.1-4.2m271.7 1.7l0.3-2.9m6.5 10.5l3.6-4m28.7 2l-0.4-7.1m-372 18.4l2.1-1.3m282.7-0.4l-0.6-7.2m-337.2 16.9l3.3-3.2m180.4 0.7l2.2-1.9m38.3 11.3l0.2-6.4m136.6 7.3l-1.8-7.6m8.3 8.1l-1.5-7.7m-281.9 18.8l3.4-2.6m5.2 2.2l3.6-2.7m69.7 0.3l3.8-0.7m121.4 7.2l5.4-5.2m-338 7.9l2.3-2.4m60.1 2.4l6.2-1.1m237.5 3.2l0.7-2.3m67.4 5.8l2.5-4.1m13.6 0.3l4.2-3.3m36.1 8.8l1.8-7.7m28.4 3.4l3.8-2.4m-171.1 14l3-4.4m138.9-2.6l2.8-3.6m-461.4 13l0.5-3.2m146.5 12.2l5.3-5.9m87.3-1.7l4.3-5.7m64.4 4.7l2.9-2.4m59.3 8.7l6.9-4m26.5 3.1l1.8-3.5m-274.7 12.5l2.8-2.2m13.7 0.5l0.6-4.3m58.1 5.3l3.2-1.8m109.9-1.3l-0.8-5.1m18.9 9.6l2.3-6.7m-202.2 16.2l5.5-2.8m16.3-0.8l3.1-3.1m57 5.9l6.2-1.8m52.7 1.4l0.5-5.3m-103.6 11.4l1.5-1.5m242.3 6.1l3.4-2.5m30.8 3.4l2.1-5.5m51.2 2.8l3.7-2.4m-398.7 15.9l1-2.8m129.8 0.3l1.1-5.2m93.3 4.8l4-4.3m9.9 7.4l2.6-3.3m34.7-0.2l0.7-3.9m-3.6 13.1l1.8-3.7m65.1 7.2l0.4-5.7m56.6 4l0.8-7.2m-80 13.5l3.9-3.3m-240.4 14.4l1.9-4.3m33.8-0.5l4.5-1.9m239.2 7.6l5.5-5.1m-306.4 13.3l4.4-4.2m-167.7 11.8l2.4-5.1m93.7 6.1l0.5-6.5m88.9 12.9l-0.3-7.2m180.8 2.3l3.4-1.6m-195.8 6.2l2.4-1.2m257.6 10l5.2-3.6m-213.6 6.3l5.6-4m266 7.9l4.2-4.2m-514.8 9.5l1.9-1.4m46.7 1l6.5-3.6m188.3 3.2l4.3-0.5m209.2 1.3l5.8-3.7m-376.7 18.1l3.6-1.2m73.1 0.1l0.6-1.9m17.1 3.2l-0.3-6.2m279.6 8.8l0.9-5.1m-287.4 12.2l2.4-1m213.9 14.9l7.1-2m-382.1 15.1l2.5-6.3m36 3.1l3-3.2m102.5 5.6l1.4-5.1m339.3 7.2l4.4-2m-295.4 10l4.8-1.6m109.8 3.1l2.5-3.5m-219.9 17.5l2-6m191.2 2.7l1.6-1.9m-298.7 6.5l4.4-1.5m126 8.1l-0.1-3.9m161.9 0.9l3.3-6.9m136 4.8l3.4-1.2m-414.1 11.7l5.3-4.1m86.9 1.2l0.9-4.3m240.2 5.4l6.3-2.8m127.7 1.6l4-2.9m-85.1 10.7l2.3-0.4m-218.2 13l0.8-2.7m-192.6 10.8l6.4-3.6m47 3.8l3.3-3.9m337 11.2l3-4.2m87.9 2.7l2.7-2.1m-473.6 17.1l3.6-4.6m73.6 8.5l2.3-2.8m285.2 3.3l3.7-1.8m65.4-2.2l3-1m-504.7 7.7l6.4-2.9m292.4 6.5l3.4-3.4m-262.3 9.9l1.5-1.9m168.1 8.2l1.7-1.4m84.9-2.1l1.6-4.9m16.2 6.2l2.7-2.1m28.8 7.4l1.6-6.5m133.3-2.6l4.4-1.4m12.5 3.7l6.3-1.7m-438.8 9.7l0.5-6.3m175 8.9l3.8-1.6m-180.4 8.7l5.2-2.4m169.5 6.9l4.2-1.2m189-0.7l3.9-0.9m-412.8 7.5l5.6-1.2m41.6 1.6l1.5-1.5m61.5 8.4l2.3-7.1m254.3 2.5l1.9-4.1m-275.1 11.4l-0.1-2.6m34.1 8.2l1.4-2.5m81.2-1.3l0.3-4.6m302.3 7.3l2.3-3.2m35.7 1.3l2.2-5.7m-283.3 17.1l0.5-6.1m251.4 5.2l2.5-4.5m-520.7 17.7l4.4-3.7m114.3 4.4l-0.3-5.2m118.4-3.5l5.5-2.6m68.5 9.8l2.6-3.6m89 3.4l1.4-2.1m-391.8 5l3.1-3.8m37.8 10.2l5.6-1.7m22.8-1l-0.2-3.8m397.9 1.9l2.9-0.7m25.5 4l1.7-3.8m-478.3 10.7l0.4-2m81.3 0.3l1.8-0.8m10.8 0.4l2.6-1.1m35.6 4.3l0.4-4.9m108.4 3.6l4.3-5.4m205.8 4.3l1.3-6.9m-164.2 16.3l5.8-5m-319.8 14.6l1.1-2.2m78.6 5.5l-0.8-4.7m196.7 2.7l0.5-7.1m65.2 11.4l0-6.1m123.1 4.8l6.6-1.8m57.8 2.6l4-6m-559.5 13.2l6.1-4.2m164.2 9.2l3.3-5.3m14.7-0.7l1.8-1.1m32.9 5.8l3.1-5.9m128.1-1.8l2-3.9m194.8 6.4l4.1-6.7m14 7.5l4.7-5.8m-474.7 12l1.3-1.9m164.9 6.6l2.1-2.7m124 1.7l2.5-1.5m122.9 1.3l6.4-4.8m49.5 4l0.2-2.8m-580.1 12.5l0.3-3.7m90.3 1.6l5.3-5.8m60.5 9.2l2.9-3.9m379.8 4.9l2.3-2.2m-276.7 10.4l5-5.1m103.6 7.6l6.6-2.2m160.6 4.2l0.3-4.8m30.6 0.8l2.1-2.6m-273.1 11.8l4.1-2.6m42.3 5.6l3.6-2.7m93.4 3.7l2.5-4.1m96.6-2.4l0.8-5.8m25.8 12.7l2.7-6.3m-542.2 13.4l0.2-2.7m13.2-3.5l1.6-1.9m12.4 7.5l6.2-4.3m281.8 6.7l0.2-3.9m19.1-0.5l3.2-3.9m165.9 5.1l6-4.7" stroke="#b4b7b6" stroke-width="6.2"/>
</g>
<g stroke-linejoin="round">



</g>
<path d="M1428.3 398.9l-7 -2.9l-4.5 1.4l-0.2 0.8l4.2 7.4l7.6 -2.8zM1434.3 398.6l0.1 5.5l1.8 3.3l7.6 -1.6l-2.9 -7.4l-5.7 -0.2zM1430 408.6l-7.9 2.9l-0.8 4.2l4.3 1.9l5.3 -3.8l0.5 -2.5zM1444.8 420.9l5.7 -6.2l-0.2 -2.2l-2.8 -1.4l-10.4 2.3l-0.2 1zM1463.2 418.6l4.8 -1.2l1.6 -5l-11.5 -2.7l-1.8 2l0.2 2.4zM1473.7 419.1l3.8 3.8l6.9 -6.2l-2.4 -6.5l-2.9 -1l-3 2.7zM1495.3 408l-4.2 -0.1l-3 1.5l2.2 6.1l3.2 1.8l3.1 -0.9zM1501.2 406.6l1.4 9.5l4.1 1l1 -0.6l-0.1 -6.8l-5.2 -3.8zM1524.3 414.5l1.4 -4.3l-5.6 -5l-6.5 4.5l0.1 6.2l5.9 1.6zM1558.9 410.9l-9.8 -2.6l-1.4 1.5l2 9.1l2.5 1.5l5 -1.9zM1416.9 432.9l1.6 0.8l5.6 -5.4l-0.8 -5.2l-5.6 -2.4l-2.9 0.9zM1441.9 426.3l-8.4 -7l-4.2 3.1l0.7 4.9l9.3 3.9l2.2 -1.2zM1459.4 423.3l-5.3 -3.6l-6.2 6.6l-0.4 3.9l1.1 0.6l10 -3.1zM1465.3 424.3l-0.9 5l2.8 3.9l6.5 -5.6l-4.3 -4.3zM1481.2 427.6l0.9 0.9l7.7 -0.2l0.3 -6l-1.8 -1.1zM1517.3 423l-6.1 -1.6l-1.3 0.8l-0.9 7.5l2.2 3l6.6 -4zM1548.9 425.5l-2 -1.3l-7.8 3.5l-0.3 1.3l5.5 3.9l4.7 -6zM1601.6 426.2l0.8 1.7l1.8 0.9l3.3 -0.3l2.4 -7.4l-1.8 -1.2zM1619.1 432.7l2.1 -3.1l-0.6 -4.4l-3.4 -2.8l-1.5 0.2l-2.3 7.2zM1652.6 431.1l1.3 -1l0.5 -5.2l-2.9 -2.9l-9.8 4.3l-0.9 3.4l0.3 0.6zM1931.4 426.3l0.3 1l5.2 3.4l4.3 -2.5l0.7 -1.6l-3.7 -5.6zM1966.2 428.1l6.6 -0.1l4.7 -7.2l-6 -2l-6.3 6.2zM1983.7 422.4l-5.6 8.4l2.7 3.3l6.9 -5.8l-0.4 -4zM1422.8 439.8l7.9 5l3.4 -3.8l1.7 -4.8l-7.8 -3.3l-5.6 5.4zM1446.1 436.3l-1.8 -1l-2.3 1.3l-1.6 4.7l8.1 4.9l2.2 -1.9zM1474.6 446.3l4 -2.6l-0.6 -10.8l-0.6 -0.6l-7.8 6.8l-0.2 3.9zM1491.1 442.5l0.2 -8.2l-0 -0l-7.2 0.1l0.5 7.9zM1497.1 443.1l5.3 0.4l4.8 -2.5l0.2 -3.4l-2.7 -3.7l-7.4 1.7zM1513.2 441.2l7.1 4.3l5.6 -2.9l-0.1 -4.6l-5 -4l-7.5 4.4zM1542.4 443.6l-0.4 -5l-6.3 -4.4l-3.9 3.7l0.1 4.7l5.7 3.1zM1555.9 443.2l-0.6 -5.6l-3.4 -4.7l-4 5l0.5 5.2l4.8 1.3zM1416.9 450.7l1.2 2.9l8.2 1.8l2.3 -1.8l-0.2 -3.2l-7.5 -4.8zM1449.6 456.9l5 2.3l0.6 -0.1l2.1 -10.6l-1.9 -0.3l-4 3.4zM1463.4 448.6l-2.2 11.2l3.6 1.6l5.3 -10.8l-4.3 -2.7zM1490.1 457.2l1 -8.7l-8.5 -0.2l-3.3 2.1l4.5 6.5zM1516.4 453.6l0.5 -3.2l-6.9 -4.1l-3.5 1.8l2.1 7.8l2.7 1.1zM1541.3 459.2l8.6 -0.1l0.5 -9.3l-4.6 -1.1l-5.3 2.3l0 7.6zM1878.5 442.3l-3.4 7.9l0.7 3.6l3.6 2l0.2 -0.1l2.2 -9.8l-2.8 -3.7zM1411.5 468.5l2.8 1.5l7.5 -2.7l1.6 -6.4l-6.1 -1.3zM1438.1 461.9l-6.1 -3.4l-2.3 1.8l-1.9 7.9l3.6 2.4l5.9 -1.7zM1449.8 469.7l1.1 -5.6l-5.2 -2.3l-1.6 0.6l-0.9 7.7l1.2 1.3zM1492.8 467.1l-0.2 -1.7l-1.5 -2.2l-6.9 -0.2l-2.2 5.5zM1523.1 466.4l0.2 -1l-4.8 -6l-4 2.6l-0.2 5.4l6.5 0.6zM1543.4 465.2l0.3 4.7l9 3.5l3.1 -3.7l-4.3 -4.7zM1594.8 460.6l2.8 11l4.7 -2.4l0.8 -8.2zM1608.4 468.8l3.5 0.7l4.1 -4.1l-7 -3.9zM1633.1 463.4l-5.8 -1.6l-1.8 2.7l5.3 7.8l3.6 -0.5zM1663.3 470.3l8.2 -0.4l3.4 -3.7l0 -1.1l-4 -4l-3 0.6zM1778.1 472.2l9.8 -4.5l-1.8 -5.2l-3.2 -0.7l-5.7 5.8zM1794 467l6.5 -1l0.7 -2.6l-6.8 -4.9l-2.5 2.3zM1418.8 479.5l5.7 5l2.7 -2.2l0.5 -6.9l-3.7 -2.5l-6.3 2.3zM1454.8 482.2l-0.3 -4.6l-2.7 -2.2l-5 1.5l0.3 3.1zM1460.8 482.9l5.3 1.8l6.6 -3.3l-0.3 -6l-4.9 -3.6l-7 5.6zM1488.8 479.6l2.6 -6.2l-12.8 1.5l-0.2 0.2l0.3 6.4l0.6 0.4zM1497.8 484l7 -3.1l-0.9 -4.3l-6.2 -2.7l-3.1 7.4zM1510.9 481.1l4.2 3.6l3.2 -0.9l0.3 -10l-6.3 -0.5l-2.5 2.3zM1524.3 483.3l7 -3.1l0.2 -1.7l-6.2 -6.4l-0.7 0.5zM1541.4 475.5l-3.9 3.4l-0.2 2l5.8 4.5l6.3 -2l0.8 -4.6zM1605.6 474.3l-6.3 3.2l0.5 4.6l8.3 3.8l5.5 -1.9l-3 -8.7zM1628.5 482.4l9.8 3.4l2.3 -0.9l-0.3 -6.2l-2.9 -1.2l-6.2 0.8zM1656.8 475.5l-5.7 -0.7l-4.8 3.4l0.3 7.3l3.3 3.2l8 -9.8zM1668.8 482l2 -0.6l-0.6 -5.4l-6.8 0.3l0.5 1.5zM1677.4 472.3l-1.4 1.6l0.8 6.9l3 0.5l2.5 -1.7zM1689.9 480.5l3.6 3.2l9 -5.6l-0 -1.3l-6.3 -1.9zM1796.7 482.3l4.2 2.3l3.9 -2l1.2 -5.8l-4.2 -4.9l-5.5 0.8zM1410.9 490.6l1.4 3.7l2.4 1.5l6.4 -2.8l0.2 -3.3l-5.1 -4.4zM1451.7 487.6l-6.4 -1.9l-1.5 1.7l0.2 5.3l4.1 2.1zM1453.4 497.7l8.7 1.5l-0 -0l1 -9.2l-5 -1.7zM1476.3 487.1l-0.7 -0.4l-6.5 3.2l-0.9 8.4l7 1.7l4 -5.7zM1494.1 488.7l-3.9 -3.3l-7.4 1.8l2.2 5.3l5.4 2.4l2.9 -1.1zM1532.3 496.7l6.2 -5.2l0.5 -1.7l-5.3 -4.1l-5.5 2.4zM1548.9 499.6l5.6 -3.6l-3.9 -6.7l-5.7 1.9l-0.5 1.6zM1617.8 489.1l-0.3 -0.1l-6.7 2.3l-0.4 5.2l1 2.5l9.3 -2zM1623.7 487.8l3.5 9.6l2.9 -1.1l3.7 -5.7l-9.4 -3.3zM1646.5 493.7l-3.5 -3.4l-2.5 1.1l-3.8 5.7l4.7 1.5zM1654.1 493l4.3 3.1l4.7 -1.6l1.7 -8l-3.2 -2.7zM1670.7 487.7l-1.7 7.5l6.2 3.1l2.7 -1.3l-0.4 -10l-3.2 -0.5zM1690.5 489.1l-4.9 -4.4l-2.1 1.3l0.4 10.5l3 0.7l4.5 -4.1zM1704.1 484.1l-7.5 4.8l0.6 2.7l7.4 1.6l1.1 -5.6zM1795.9 496.6l1.5 -7l-4.2 -2.3l-3.7 0.5l-0.3 7.2zM1803.5 490.1l-1.8 8l6.1 3.2l4.9 -6.1l-1.8 -4.7l-3.6 -2.4zM1919.2 490.1l-3.7 1.4l-2 4.7l3.4 6.8l5.9 -5.6zM1937.1 492.6l0.5 -3.4l-4.9 -2.4l-7.6 1.7l3.4 6.8l5.1 0.5zM1416.5 506.1l5.5 2.8l6.4 -4l-0.4 -2.6l-4.5 -3.8l-6.4 2.8zM1446.6 500.8l-5.4 -2.8l-7.1 4.3l0.4 2.7l4.7 4.7l4.9 -1.9zM1450.1 508.9l0.1 0.1l9.8 -1.1l0 -3l-8 -1.4zM1479.7 503.9l1.8 5.6l0.6 0.4l5 -3.6l0.2 -6.2l-3.7 -1.6zM1503.2 503.1l-7.4 -3.9l-2.5 1l-0.2 5.7l7 3.1l3.6 -1.4zM1509.1 502.1l0.7 5.8l0.6 0.4l5.7 -1.7l2.3 -3.6l-5 -6.3zM1539.9 509.7l3.5 -1.6l1.4 -4l-4.4 -6.4l-4.8 4l3 7.6zM1549.6 508.5l6.8 2.6l4.2 -3.7l1.2 -5.5l-3.1 -1.5l-8.1 5.3zM1605.6 500.7l-6.7 2.1l3.9 4.5l1.7 0.8l0.4 -0.3l1.5 -5.2zM1629.4 503l0.1 6.6l3.2 2.6l6.7 -2l-0.2 -6l-7 -2.3zM1663.3 512.2l8.4 -6.1l0.3 -2.7l-6.6 -3.3l-4.8 1.6l-1 8.1zM1680.6 511.2l8.4 -0.7l-3.4 -7.4l-4.3 -1.1l-3.3 1.6l-0.3 3.3zM1795.3 512.2l4 1.2l6 -6.6l-6.1 -3.3zM2037.6 506.6l10.3 2.7l2.1 -1.7l-0.3 -1.4l-4.7 -6.6l-6.7 3.6zM1435.3 514.3l-4.1 -4l-6.1 3.8l-0.1 7.1l4.2 1.7l5.1 -2.6zM1454 514.6l3 6.3l1.6 0.4l2.9 -1.2l0.8 -3.8l-1.2 -2.5zM1468.1 518.3l-0.7 2.8l5.3 4.2l7.7 -6.4l-0.8 -3.5l-1.1 -0.6zM1495.9 513.7l-5.5 -2.4l-4.8 3.5l0.8 3.4l5.5 3.4zM1514.3 518.1l6 3.5l4.1 -2.9l0.6 -1.5l-7.4 -4.7l-4.2 1.2zM1537.5 515.3l-0.8 -0.3l-5.5 3.2l-0.8 1.9l4.5 5l4.2 -3zM1543.6 514.7l1.6 7l3 2.3l6.4 -3l-0.4 -4.3l-8.2 -3.1zM1560.6 521.3l3.5 2.6l5.6 -5.1l-6.4 -5.8l-3.1 2.8zM1600.7 522l1.2 -0.7l0 -7.7l-1 -0.5l-8.6 4.1l1.2 1.7zM1626.6 524.6l2.6 -3.8l-0.1 -3.8l-3.1 -2.5l-0.5 0.3l-4.8 6.5zM1643.8 526.5l2.5 -4.5l0.2 -5l-4.1 -1.4l-7.3 2.2l0.1 2.3zM1663.8 524.5l-2.8 -6.7l-4.8 -3l-3.7 2l-0.1 4l10.5 4.4zM1673 523.5l2.8 -8.7l-1.9 -2.9l-6.8 4.9l2.5 6zM1679.3 523.7l9 0.6l2.5 -1.3l1 -6.8l-10.5 0.9zM1707.8 525.9l-3 -11.7l-0.1 -0.1l-6.9 2.5l-1.1 7.1l5.6 4.7zM1717.8 526.1l2.9 -5l-0.3 -5.4l-1.4 -1.1l-7.8 0.3l2.6 10.2zM1784.2 517.2l-5.6 -4.5l-6.5 4.9l1 2.8l8.2 1.3l2.7 -3.6zM1872.2 514.6l-2.2 2.2l-0.9 6.3l1.2 2l10 -0.5l-1.7 -5.8zM1915.6 513.1l-5.4 11.2l2.4 1.9l9.8 -4.8l-1.2 -3.7zM2035.9 512.4l-0.3 7.6l5.5 2l1.7 -0.3l2.1 -7zM1418.5 527.5l-1.2 6.2l8.5 3.3l0.4 -8.8l-4.4 -1.8zM1436.7 525.9l-4.5 2.2l-0.4 9.4l5 1.8l5 -3.4l-0.9 -6.8zM1482.1 536.5l6.2 -3.7l1.5 -5.5l-5.8 -3.6l-8 6.7l0 0.3zM1500.4 539.4l5.5 -2.1l-2.9 -6.6l-7.6 -1.1l-1.2 4.2zM1508.6 528.5l2.4 5.5l6.7 -2.2l-0.2 -4.9l-5.2 -3zM1530.5 532.5l0.7 -2.6l-4.8 -5.3l-2.9 2.1l0.2 5.6l3.6 2.7zM1543.4 534.2l1.3 -0.7l0.1 -4.5l-2.4 -1.9l-5.3 3.8l-0.3 1.3zM1557.4 526.3l-6.6 3.1l-0.1 4.4l4.2 2.8l7.2 -4.5l-0.5 -2.6zM1567.6 528.9l0.6 2.9l4.3 3l6.8 -1.9l-0 -0.4l-4.3 -10.4zM1597.1 527l-4.7 -2l-7.2 8.1l0 0.5l2.4 1.5l7.8 -3.9zM1623.2 535.1l1 -5l-8.1 -4.4l-1.8 0.8l3.5 7.1l4.4 1.7zM1629.1 536.2l0.7 0.4l10.7 -5l-7.5 -5.7l-2.7 3.8zM1647.9 531.6l2.6 2.8l6.4 0.1l2.3 -4.3l-8.6 -3.6zM1671.8 529.3l-3.6 -0.7l-2.4 2l-3.6 6.7l3.7 5.6l7 -4.8zM1677.9 529.6l0.9 8l1.2 0.5l4.7 -2.6l0.8 -5.3zM1709.2 541.7l8.1 -8.8l-0.3 -0.8l-5.4 -1.3l-6.8 3.1l0.1 2.8zM1767.1 534.6l11.9 -0.8l0.4 -6.3l-7.1 -1.2zM1784.9 534.9l10.1 -2.4l-0.1 -0.8l-7.8 -7.8l-1.6 2.2zM1803.5 535.2l2.5 -0.1l5.3 -9.3l-5.8 -0.9l-4.6 6.3l0.2 2zM1841.9 526.8l-0.1 4.8l8.9 2.8l-1.1 -9.9l-1.1 -1zM1864.2 526.6l-8.4 -0.4l1 8.6l4.4 1.6l1 -0.7l3.1 -7.3zM1897.3 535.8l-0.8 -7.9l-0.9 -0.4l-7.7 2.5l-0 0.9l6.6 6.4zM1420 547.8l2.8 -5.5l-8.4 -3.3l-1.7 1.2l-0.7 6.1l4.6 3.1zM1429.1 542.9l-3 6.2l4.6 3.1l5 -2.1l-1.1 -5.2zM1445.5 553.3l5 -6l-2.6 -5.5l-2.6 -1.1l-4.7 3.3l1.2 6.3zM1496.4 543.8l-5.9 -5.3l-6 3.5l-0.3 2.1l8.1 7.7l2 -1zM1502.2 545.1l-1.8 6.1l5.7 2.3l3.9 -4.7l-2.9 -5.5zM1512.1 540l3.4 6.4l7.2 1l2.1 -2.2l-0.4 -4.9l-4.1 -3.1zM1567.4 549.8l1.3 -10.3l-3.3 -2.3l-7.6 4.6l0 6.4zM1581.7 538.5l-7.1 1.9l-1.2 9.9l7.7 1.6l5.1 -3.2l-1.5 -8.3zM1597 537.1l-6.2 3.2l1.4 7.7l5.5 2.5l3.9 -1.7l0.9 -5.5zM1618 540.1l-2 -0.8l-7.6 4.8l-0.8 4.9l4.5 1.9l2 -0.8zM1625.2 540.8l-1.1 0.3l-3.8 9.7l5.6 2.5l3.7 -5.9l-2.3 -5.3zM1642.8 547.6l3 -9.4l-1.6 -1.7l-10.6 5l1.6 3.7zM1655.5 551.9l6.5 -3.1l0.1 -0.9l-5 -7.4l-5.7 -0.1l-2.6 8.1zM1668 549.1l11.4 -1.8l-1.6 -3.6l-1.5 -0.7l-8.2 5.7zM1684 542.8l2.2 5.1l2 1.9l0.2 -0l1.8 -6.1l-3.1 -2.7zM1696.2 544.7l-1.8 5.8l4.5 1.9l5.6 -7l-3.3 -3.7zM1782 548.5l-1.3 -8.7l-0 -0.1l-10.8 0.7l2.2 8.7l5 2.7zM1794.2 550.6l4.7 -11.4l-1.4 -1.2l-10.6 2.6l1.1 7.3zM1800.3 551.5l8 0.3l2.3 -1.2l-0.9 -6.5l-3.1 -3l-2.1 0.1zM1816.6 550.1l7.7 3.5l5.7 -5.3l-0.8 -4.8l-3.3 -2l-10.1 3.2zM1853.5 540.2l-3.8 7.8l2 1.7l6.9 -5.9l0 -2l-4.6 -1.7zM1876.9 546.1l-11.9 -5l-0.4 0.2l-0 3l6.3 9.3l6.7 -4.8zM1890.9 542.1l-5 -4.8l-3.2 7l0.8 3.5l4.6 1.8l2.1 -0.7zM1903.4 543.3l-3.2 -2.2l-3.3 1.8l-0.7 6l3.4 0.9l1.7 -1.3zM1426.7 560.9l0.4 -3.8l-5.1 -3.6l-2.8 1.3l-0.2 3.9l4.9 4.7zM1432.8 560.2l6.5 1.7l2.6 -3.8l-3.3 -2.7l-5.5 2.3zM1466.5 550.9l1.4 10.7l1.4 1.6l1.9 -0.6l2.5 -11.8zM1477.4 562.4l10 -3.4l0.9 -2.7l-7.6 -7.2l-0.6 0.5zM1504.7 559.4l-7.8 -3.2l-2.7 1.4l-1.2 3.4l4.1 6.5l9.1 -4.1zM1512 561.8l8.8 -1.5l-0 -7.1l-6 -0.8l-4.3 5.3zM1555.3 564.5l9.8 -4.9l0.7 -3.9l-10.1 -1.8l-2.5 2l0.8 7.7zM1625.2 562.6l-0.8 -3.4l-8 -3.5l-1.1 0.4l0.8 9.1l2.7 2.1zM1664.2 554.4l-6 2.9l-0.9 4.5l7.9 4.3l2.1 -5.5zM1681.3 558l2.3 -4.3l-0.9 -0.8l-11.6 1.8l1.4 2.8zM1709.3 549l-6.1 7.6l0.5 1.1l7.9 4.9l1.6 -1.2l-0.8 -9.7zM1756.5 556.6l-2.7 1.2l-0.3 4.7l3.1 3.4l4 -1.8l-0.9 -6.5zM1792.5 556.4l-6.9 -3l-5.5 3.7l-0.6 5.2l6.4 2.2l6.5 -5.6zM1798.5 557.4l-0.1 2l4.1 6.1l3.8 -0.4l-0.2 -7.4zM1827.8 560.9l3.6 3.1l8.6 -0.8l-7.7 -8.9l-4.4 4.1zM1837.9 551.7l9.6 11.1l1.9 -1.6l-0.6 -6l-4 -3.5zM1410.3 574l10.8 -3l-0.1 -2.1l-5.4 -5.1l-6.8 4.6zM1430.4 565.7l-3.4 3.1l0.2 3.1l0.7 0.7l9.4 -2.4l0.1 -2.6zM1448.4 575l0.5 -11.7l-2.2 -1.5l-3.2 4.5l-0.2 5l4 3.9zM1474 568l-3.2 1l-1.1 3.4l7.3 6.8l3.2 -2.4l-4.6 -8.5zM1481.9 567.2l4.1 7.7l3.6 0.5l3.1 -1.9l0.2 -1.5l-4.4 -7zM1508 569.2l-9.3 4.2l-0.1 0.7l5.7 5.4l5.3 -2.8zM1520.9 577.9l1.9 -2.2l1.5 -8.2l-1.5 -1.5l-9.1 1.5l1.9 8.5zM1554 573.2l-1.4 -3.2l-1.6 -1.2l-5.9 3.4l-0.3 4.9l4.9 2zM1570.3 574.9l0.3 -2.1l-4 -7.2l-7.7 3.8l0.9 1.9l9.1 4.4zM1615.7 572.9l-0 -0.4l-3.3 -2.5l-8.4 1.3l-0.5 5.6l8.7 0.4zM1664.2 573.5l-0.1 -1.2l-9.8 -5.3l-1 0.8l-0.2 6.7l4.6 3.5zM1670.2 572.9l2.5 1.1l8.5 -3l-0.3 -6.6l-0.1 -0.4l-8.2 -0.5l-2.7 7.3zM1687 567.1l0.2 4.3l2.7 1.8l2 -0.4l1.2 -5.1zM1702.9 575.4l5.4 -4.3l0.3 -3.3l-6.7 -4.1l-2.3 2.8l-1.7 7zM1770.2 576.9l-0.4 -6.6l-5.6 -1.3l-5.6 2.6l-0.3 1.8l9.1 4.9zM1776.2 576.3l9.2 -0.8l-1.4 -5.3l-7 -2.4l-1.2 1.2zM1789.9 569l1.9 7.4l0.3 0.2l3.4 -1.1l2.2 -6.3l-2.9 -4.4zM1803.3 571.5l-1.8 5l7.7 4.7l4.3 -6.2l-0.1 -1.7l-4.6 -2.5zM1844.3 573.8l0.3 -5l-10.4 1l1.7 6.4l2.7 1.6zM1424.1 577.3l-0.8 -0.7l-10.1 2.8l2.4 8.7l5.3 2.2l4 -3.3zM1442.7 579.2l-3.4 -3.3l-9.1 2.3l0.6 7.6l7 1.4l1.6 -0.7zM1484.8 580.8l-5 3.8l0.1 3.9l4.3 3l1.6 -0.8l1.1 -9.6zM1500.7 584.4l-5.6 -5.4l-2.1 1.3l-1.1 9.5l4.4 0.4l4.3 -4.4zM1518.9 583.5l-5.6 -2l-6.6 3.6l-0 0.7l6.2 4.8zM1573.3 580.1l-1.7 1l-1.5 4.5l3.8 5.5l6.9 -5l-0.3 -2.8zM1617.8 587.8l1.3 1.2l4.6 -1.5l0.7 -5.1l-5.2 -4.2l-2.4 3zM1667.8 578.4l-7.4 5l-0.2 1.2l8.8 7.7l4.2 -2.7l-3.1 -10.2zM1676.3 579.1l2.9 9.4l1.1 0.3l4.3 -0.6l1.5 -10.3l-2.2 -1.5zM1700.4 580.9l-6.3 -2.4l-2.1 0.4l-1.5 10.6l4.9 3.2l5.2 -3.9zM1706.4 580.2l0.2 7.8l5.1 1.5l4.2 -0.8l2 -6.6l-6.8 -5.6zM1721.6 590.5l3.8 3.8l4.6 -6.9l-0.6 -2.8l-4.3 -1.6l-1.3 0.5zM1752.3 589.3l1.6 1.3l8.2 -4.4l1.3 -3.2l-7.8 -4.3l-4.1 4.1zM1788.3 581.3l-9.7 0.9l1.7 4.6l4.9 3.6l2.2 -1.4l1 -7.6zM1797.5 581.1l-3.1 1.1l-0.9 7l5.4 2.8l5.4 -6.8zM1817.6 579.6l-3.2 4.6l5.6 7.3l1.7 -0.7l0.6 -9.1zM1835.3 588.7l0.4 -5.7l-2.9 -1.6l-4.5 0.9l-0.5 7.5l5.2 0.1zM1431.3 604.9l4.3 -4.9l-0.3 -7.2l-6.5 -1.2l-4.2 3.5l0.1 3.1zM1486.9 596.9l-0.4 5.7l4.9 3l7.1 -1.5l-3.1 -7.9l-6.2 -0.6zM1527.1 596.1l0.3 -2l-5.1 -5.3l-5.9 6.9l0.4 3.2l4.6 2.2zM1543.8 596.2l-6.4 -3.6l-4.1 2.3l-0.1 1.3l7.8 5.3l3 -1.2zM1557 601.7l-0.1 -9.6l-3.4 -0.9l-3.7 4.2l0.3 5l3.4 1.8zM1563 602.2l0.5 0.3l6.9 -3.4l-0.2 -2.8l-4.3 -6.3l-3 1.6zM1729.5 599l3.2 1.8l6.2 -6.8l-4.6 -2.2zM1738.2 603.7l8.2 1.4l6.1 -4.3l-1.5 -4.8l-2.1 -1.7l-3.4 1.3zM1424.2 615.6l4.4 -4.2l-0.1 -0.7l-6.7 -7l-5 5l1.7 5.5zM1434.6 610.5l2.5 1.2l6.2 0.4l2.3 -5.4l-6 -2.1l-5.1 5.6zM1448.7 614.8l3.5 4.3l3.5 -1.6l-0.2 -7.3l-4.2 -1.6zM1466 607.1l-4.5 2.7l0.2 7l6.2 1l3 -4.2l0.3 -2.2zM1487.6 613.1l0.1 -2.6l-4.3 -2.8l-6.2 4.2l-0.2 1.2l6.7 3.6zM1497.8 619.1l3.9 -6.6l-0.7 -2.8l-7.3 1.6l-0.1 2.2zM1547.8 617l1.8 -10l-2.6 -1.5l-4 1.7l-3.4 8.4l2.2 2.2zM1559.7 607.3l-4.2 0.7l-1.8 10.3l1.7 1.2l7.6 -3.1l-1.9 -8.5zM1584.8 608.3l-0.4 2.9l4.4 7.9l4.4 -4.9l-1.1 -4.4zM1731 606.7l-4.3 -2.4l-6.8 5.6l-0.1 1.1l8.1 3.9l2.3 -0.8zM1817.5 604.9l-4.9 3.6l-0.4 3l5.4 5.4l6.6 -1.6l0.7 -5.6zM1846.1 616.9l8.6 -1.7l0 -5.5l-6.9 -2.9l-2.3 3.2zM1869 613.2l-0.1 -2.1l-5 -3.8l-3.2 2l-0 6.9l1.9 1.4zM1410.4 625.3l3.2 4.7l9 -2.8l-0.4 -5.9l-5.4 -1.4zM1428.7 627.9l3.4 2.9l2.4 -1l-1 -13.1l-1.1 -0.6l-4.3 4zM1460.4 634.6l7.5 -5.7l-1.2 -5.2l-7.5 -1.2l-5.3 2.4l-0.8 3.4l6.1 6.3zM1482.8 625.9l-1.2 -3.4l-6.9 -3.8l-2.3 3l1.5 6.4l1 0.5zM1494 627.6l1 -0.6l0.1 -1.5l-4.9 -6.6l-2.6 2.4l1.4 4.2zM1536.2 630.1l1.3 -8.1l-2.7 -2.7l-5.3 -0.2l-2.5 5.6zM1552.1 624.5l-2.5 -1.7l-6.3 0.8l-1 6.2l7.2 2.2l2.9 -2.1zM1613.3 627.2l4.2 -7.2l-6.5 -3.1l-1.5 1.7l0.2 5.8zM1619 629.2l7.2 3.1l4.7 -6.4l0.1 -3.8l-2.5 -2.1l-4.8 1.3zM1803.2 626.6l8.7 1.5l1.4 -0.6l0.3 -6.2l-5 -4.9l-2.6 1.6zM1824 632.3l3.4 -4.4l0.5 -5.5l-1.7 -1.4l-6.6 1.6l-0.4 5.7zM1859.7 622.9l-2.8 -2l-8.7 1.7l0.2 3.1l6.4 3.3l4.9 -6zM1865.9 622.6l7.4 6.8l0.6 -0.1l2.1 -7.9l-4.1 -2.9zM1433.4 642.5l4.3 2.9l3.7 -2.6l-0.5 -7.9l-2.7 -0.1l-3.9 1.6zM1451.2 642.5l2.9 -4.6l-5 -5.1l-2.2 1l0.4 7.9zM1470.5 647l5.5 -3.5l0.1 -0.1l-3.9 -9.4l-0.7 -0.4l-6.2 4.8zM1505.1 640.8l0.5 -6.5l-7.3 -2.3l-1.5 0.9l-1.3 4.9l2.2 4.8zM1514.7 647.5l6.3 -4.6l-6 -9.8l-0.6 -0l-2.8 1.1l-0.6 8.1l3.6 5.1zM1589.3 630.9l-3.3 9.8l3.6 5.4l6.3 -3.6l-3 -9.7zM1609.5 631.9l-3.2 -2.5l-7.3 3l2.8 9l1.5 0.4l3.4 -2.4zM1693.1 637.9l2.9 4.2l5.9 -4l0.1 -1.8l-6.5 -1.3zM1712.3 631l-4.2 4.2l-0.2 3.1l4.6 3.4l2.3 -2.3zM1732.3 642.2l5.7 3.4l6.1 -3.2l-0.8 -10.3l-1.8 -1.4l-7.2 4.8zM1749.4 632.9l0.7 9.4l6.4 3.4l3.7 -2.7l-0.2 -6.8l-6.7 -4.1zM1798.3 633.5l-0.8 6.6l4.2 3.7l3.6 -1.5l2.9 -8.8l-8.2 -1.3zM1426.5 657l9.6 -3.5l-0.9 -2.5l-5.2 -3.5l-4.9 2.8l-1.1 5.9zM1442.4 653.7l2.6 2.6l5.4 -5.2l-0.4 -2.7l-4.8 -1l-3.9 2.8zM1465.5 650.2l-6 -9.6l-0 -0l-3.7 5.9l0.5 3.3l7 2zM1473.9 651.9l4.9 7.1l3.3 -5.9l-3.9 -3.8zM1482.6 645.2l4.5 4.4l5.1 0.3l0.7 -3.5l-2.1 -4.5zM1498 651.7l5.3 1l5.2 -3.5l-1.8 -2.6l-8.1 1.9zM1521.6 659.8l8.7 -6.2l-3.6 -6.7l-0.8 -0.1l-7 5.1zM1564 652.9l4.3 3.6l2.5 -3.2l-4.5 -5.7l-1.5 1.2zM1635 646.2l2.6 6.9l2.5 0.5l4.3 -3.3l-0 -0.5l-4.9 -4.1zM1667 652.3l7 2.5l2.3 -1.5l-0.1 -5.3l-3.6 -4.7l-5.5 2.2zM1709.7 647l-4.9 -3.5l-6.4 4.2l0 0.6l5.7 5l5.1 -2.5zM1730.7 648.2l-3.7 5.1l7.9 2l0 0l0 -4.6zM1431.6 661.5l4.6 5.6l0.2 0l5.1 -5.8l-2.5 -2.5zM1448.9 660.9l8.5 5.9l1.6 -0.6l1.4 -9l-5.9 -1.7zM1465.3 665l9.6 -1.1l-6 -8.7l-2.3 1.6zM1482.3 665.2l0.7 0.7l7.1 -1.3l1.9 -8.7l-4.4 -0.3zM1501.6 658.5l-3.8 -0.8l-1.8 8.2l0.2 0.2l7.4 -1.8zM1513.1 653.4l-5.6 3.7l2.4 7.1l1.7 0.7l4.3 -3zM1555 664.8l3.1 2.8l7.8 -3.7l-0.1 -1.6l-4.8 -4.1l-6 6zM1586.6 657.8l-5.9 11.8l0.1 0.2l6.5 0.7l5.8 -5.5zM1600.8 664.4l5.2 3.7l2.8 -1.6l-1 -9.7l-0.2 -0.1zM1717 658.6l-5 -2.4l-5.6 2.7l-1.2 7.4l2.6 1l10.8 -1zM1723.1 658.5l1.9 8.7l2.5 2.1l4.6 -2.1l0.9 -6.1zM1495.2 679.5l-2.2 -8.4l-1.1 -0.7l-7.5 1.4l-1.3 7.3l5.7 3.9zM1505.4 680.2l3.4 -2.3l0.1 -7.6l-1.7 -0.8l-7.9 2l1.8 7.2zM1520 666.4l-5.1 3.5l-0.1 7.6l4.5 1.6l6.2 -3l0.8 -2.2zM1561.9 677.6l1.2 0.8l10 -0.6l2.4 -5.3l-0.4 -0.8l-6 -2.7l-8.1 3.9zM1597.2 669.3l-5.3 5.1l1.7 4l5.7 1.6l3.2 -2.1l0.2 -4.8zM1638 675.1l1.1 3.7l8.1 -1.5l-0 -6.1l-3.4 -0.7zM1661.5 675.6l-5.6 -6.4l-2.7 1.4l-0 7.7l4.7 3.7l2.1 -2zM1734.9 672.5l-5.1 2.3l-0.7 4.6l3.4 2.3l8 -0.3l-4.6 -8.6zM1742.6 672.5l5.1 9.6l5.4 -3l-0.1 -2.7l-3.6 -5.1zM1508.8 685.1l0.4 8.5l7.4 2.2l2 -0.8l-1.8 -10.5l-4.6 -1.6zM1430.8 711.3l6.9 -2.9l0.9 -2.7l-1.5 -4.3l-7.5 -0.4l-2.4 7.5zM1556.5 700l-6.5 -2.7l-2.6 2.5l0.4 4.8l4.6 3.4l2.9 -0.3zM1427.3 717.8l-0 -1.6l-4.3 -3.4l-6.5 1.4l-1.6 5.2l7 2.6zM1451.8 728.2l-0.3 -5.2l-4.5 -0.8l-6.8 6.7l0.1 3.2l0.6 0.2zM1760.9 733l10.1 -1.6l0.4 -7l-8.5 -2.8l-3.7 3.2zM1780.9 720.9l-3.5 2.8l-0.5 9.1l1.9 1.7l7.9 -1.3l-1 -9.3zM1807.5 736.8l6.1 -4.5l-0.3 -3.7l-5.2 -3.3l-0.9 0.1l-6 9.5zM1824.1 736.8l6.9 -4l-5.5 -8l-6.2 3.6l0.3 4zM1840.6 731.5l0.2 -3.2l-5.1 -7.1l-4.4 1.5l5.7 8.3zM1914.1 726.4l-1.4 6.9l1.3 1.1l9.5 -4.2l-0.6 -2.8zM1429.9 738.6l-4.7 -1.5l-5.6 2.8l-1.3 6.7l2.7 1.3l7.7 -4.7zM1443.1 744.8l-4.1 -6.8l-1.3 -0.4l-1.6 0.9l-1.5 5.8l2.8 3zM1449.6 743.9l2.9 1.6l5.1 -1.3l0.8 -6.2l-4.3 -4.3l-8.7 3.3zM1738.8 743.2l7.9 0.1l1.9 -3.7l-7.4 -2l-2.5 1.9zM1752 746.3l2.4 4.3l4.2 -5.4l-1.3 -6.1l-2.1 0.9zM1774.1 742.7l0.5 -3.8l-1.8 -1.7l-9.4 1.5l1.1 5.2l6.8 3.3zM1821.1 745.4l-0.4 -3.4l-4.2 -4.3l-5.3 3.9l0.3 4.5l6.6 1.2zM1853.3 746.6l-4.2 -7.8l-3.2 -0.3l-1.4 6.7l3.4 3.5zM1921.4 744l5.5 -2.2l1.2 -5l-1.7 -1.4l-9.4 4.3l0.9 2.8zM1434.1 756.3l-0.3 -4.1l-3 -3.2l-5.8 3.5l2 4.9zM1443.9 759.8l4.3 -9.8l-0.9 -0.5l-7.5 3.3l0.4 4.4zM1464.4 757.6l-0.7 -3.5l-4.3 -4.2l-5.2 1.4l-3.6 8.2l8.8 1.4zM1738.3 749.2l6.7 9.6l5.1 -3.7l-3.3 -5.8zM1769.9 757.2l-0.4 -4.1l-6.8 -3.4l-4.2 5.5l7.8 4.8zM1792.8 755l-0.5 1l4.8 5.9l4.6 -5.4l-0.2 -0.9l-6.7 -2.4zM1815.2 752.9l-5.5 -1l-2.4 2.3l0.4 1.3l4 3.1l2.4 -0.4zM1824.2 750.5l-2.8 1.8l-1.4 7.2l2.5 1.9l6.4 -2.6l-0.7 -5.5zM1844 753.4l-3.3 -3.5l-6.4 3.4l0.7 5.8l1.4 1.2l7.6 -3.1zM1857.5 751.4l-7.5 2.9l-0 3.4l5 3.7l4.8 -4.1l0.9 -4.7zM1486.5 769.4l-0 -2l-5.9 -2.8l-4.9 1.1l0.2 6.5l4.3 2.5zM1730.7 774l0.8 -5.6l-6.1 -1.5l-1.5 4.8l2.3 3.4zM1736.7 774.5l2.7 1.1l4.5 -5.3l-1.3 -3.9l-5 1.9zM1762.2 770.1l0.9 -5l-8.9 -5.5l-6.1 4.4l1.7 4.9l5.5 2.8zM1768.6 772.3l11.6 -2.6l-1.9 -6.4l-4.6 -1.4l-4.5 3.4l-1.2 6.4zM1806 768.7l1.6 -5.7l-2.1 -1.7l-5.4 6.4l0.1 1.4zM1834 771.2l-0.9 -5.9l-1.5 -1.2l-6.8 2.9l-0.7 4.3l8.2 1.3zM1839.9 770.4l5.9 2.8l6 -3.1l0.2 -3.5l-5.4 -4l-7.4 3zM1862.6 762.8l-4.6 3.9l-0.2 3.9l5.9 4.8l6 -2.1l0.6 -4.7zM1886 764.8l-3.4 -1.5l-6.3 5.4l-0.6 5.4l3.7 2.5l6.7 -7.5zM1430.1 782l2.3 -5l-4.3 -2.6l-3.8 4l3.1 5.2l-0 -0zM1436.1 783.3l6.4 5.1l3.7 -5.2l-0.6 -4.6l-3.1 -2.3l-4 1.7zM1571.1 778.9l-4.3 -1.2l-5.5 4.7l-0.8 2l9.5 4.2l3.6 -3.8zM1747.5 787.2l2.6 -2.3l1.5 -8.3l-3.6 -1.9l-4.6 5.4l0.9 6.1zM1767.2 786l-2.5 -8.9l-1 -1.2l-6.2 1.5l-1.1 6.7zM1799.9 788.1l-6.3 -9.5l-2.7 0.7l-1.5 2.7l7.1 9.2zM1805.5 785.6l7.5 -5.9l-0 -0.2l-5.7 -4.9l-8.5 0.6l-0.1 0.2zM1825 785.3l3.6 -0.8l1.1 -6.3l-8 -1.2l-2.7 2.5l-0 0.4zM1834.5 785.6l5.7 3.5l2.2 -1.9l0.3 -8.8l-5 -2.4l-1.8 1.4zM1856.6 787.1l2.4 -3.3l0.8 -3.9l-5.5 -4.4l-5.6 2.9l-0.3 7.6zM1865.2 783.6l8 5l5.7 -2.8l-1.5 -3.3l-5.3 -3.6l-6.4 2.1zM1885 784.9l6 -1.6l3.2 -5.3l-4.7 -3.7l-6.1 6.8zM1425.1 789.5l-9.5 3.7l1.1 3.4l7.4 2.5l1.8 -0.9zM1483.1 788.8l-7.5 6.2l0 0.2l10.7 4.7l1.7 -1.1l-0.7 -8.2zM1502.3 797.1l-1.4 -8l-2.4 -2.3l-5.2 3.3l0.7 8.2l4.4 1.6zM1557.5 795.9l9.8 -0.2l0.2 -1.7l-10.3 -4.5l-0.4 0.4zM1722 797.7l9.3 -4.4l0 -0.1l-7 -6l-2.4 2zM1741.2 804.4l6.2 -7.6l-1.5 -3.8l-4 -1.3l-4.6 2.6l-0.4 1zM1760.4 798.6l1.4 -0.9l2.6 -6.1l-10.6 -1.9l-2.1 1.7l1.5 3.8zM1771.2 791.2l-3.2 7.3l5.9 3.5l4.8 -4.3l-3.6 -6.3l-3.5 -0.6zM1780.9 789.6l3.8 6.4l4.4 2.1l3.5 -1.9l0.1 -0.2l-7.4 -9.6zM1798.6 797.4l6.4 5.2l5.6 -1.4l-5.8 -9.4l-6.2 5.5zM1816.1 798.8l2.4 -0.8l2.2 -8.5l-4.9 -4.4l-5.5 4.3zM1828.6 801.3l8.7 -4.1l0.2 -2.7l-6.9 -4.2l-4.1 0.8l-2 7.9zM1846.9 802.2l10.2 -2.2l0.1 -0.1l-1.7 -6.8l-9.2 -1.4l-2.8 2.6l-0.2 3.8zM1861.2 791l1.6 6.7l4.1 0l2.3 -4.5l-6.6 -4.2zM1875.3 794.3l-2.8 5.7l4.1 3.7l6.6 -3.8l-1.5 -8.9zM1420.2 812.2l1 -7.7l-5.6 -1.9l-3.3 4.9l-0.9 4.9l0.9 0.6zM1428.4 815.4l6.3 -4.3l0.2 -6.3l-5.5 -1.7l-2.2 1.2l-1.1 9.3zM1714.3 806.6l5.2 9.6l8.4 -0.7l-8.9 -10.8zM1737.4 810.2l-5.1 -10.7l-7.1 3.3l7.7 9.4zM1743.7 810.8l1 0.6l11.8 -1.2l0.9 -6.4l-5.8 -2.7zM1777.5 806.9l0.7 5.9l7.4 -1.5l0.5 -8l-3 -1.4zM1792.2 803.3l-0.6 9.1l1 1l5.8 -0.6l2.3 -6l-6 -4.9zM1806.5 808.4l-2.3 6.1l3.4 2.8l4.1 -6.3l-0.5 -3.7zM1817 804.8l0.6 5.1l6.8 3.6l1.4 -1.2l-0.3 -5.9l-4.9 -2.7zM1425.4 820.7l-3.4 -2.7l-6.9 0.7l0.8 5l9.8 -0.1zM1431.4 820.5l0.6 5l3.1 1.3l7.1 -2.1l1.2 -4.7l-5.8 -3.7zM1449.4 820.7l-1.4 5.4l2.8 2.9l5.3 -4.2l0 -6.1l-1.5 -0.7zM1483.2 830.6l6.2 -5.6l-0.6 -2.3l-6.4 -5.2l-6.4 1.5l0.2 2.6zM1723.8 831l3.9 -4.3l-0.3 -5.1l-7.9 0.6l-3.8 5.3zM1740.1 815.6l-6.1 2.6l-0.7 1l0.4 6.7l6.7 3.5l3.5 -3.5l-2.5 -9.5zM1747.8 817.1l2 7.3l3.8 1.1l4.1 -3.4l-0.2 -6zM1787.6 817l-7.9 1.6l-1 7.1l9.2 0.6l0.4 -0.4l0.3 -8.1zM1794.6 819.2l-0.2 6l7.7 2.9l3.2 -5l-5.6 -4.4zM1812.3 821.1l7.8 2.6l1.3 -5l-5.6 -3zM1827.6 818.8l-1.8 6.9l4.5 2.5l8.2 -4.8l-0.2 -2.6l-8.8 -3.7zM1856 828.4l7.4 1.2l2.8 -8l-4.2 -1.6l-0.9 0.4zM1413.2 834.8l8.6 -1.3l2.8 -3.9l-9.3 0.1zM1430.7 831.4l-3.7 5.1l2.5 5l4.7 -1.8l-1.8 -7.5zM1462.9 833.3l-3.8 -3.2l-5.2 4.1l0.2 0.8l5.1 4.3l3.9 -3.2zM1468.9 832.7l0.1 2.3l5.8 1.1l3.5 -2.1l-5.1 -6.5zM1712.4 832.6l-1 5.5l7.8 2.9l2.7 -2.9l-0.1 -1.5zM1738.9 839.8l-0.7 -4.7l-6.7 -3.6l-3.8 4.1l0.2 1.8l7.9 5zM1744.7 838.6l2.5 0.6l6.3 -1.3l-1.7 -6.6l-3.7 -1.1l-4 4zM1759.7 838.1l1.6 0.9l7.9 -4.7l0.2 -1.7l-8.4 -5.5l-3.3 2.9zM1781.1 840.6l4.9 -2.7l-0 -5.7l-9.6 -0.6l-0.9 0.9l-0.4 2.5zM1800.7 833.9l-8.7 -3.2l-0 0l-0 6.9l6.1 2.4l3.2 -1.5zM1806.5 832.4l0.9 6.1l0.4 0.2l4.5 -1.2l4.9 -8.5l-7.1 -2.3zM1928.5 827.7l-5.1 3.5l-0.4 7.2l2.3 1l9 -6.4zM2043.3 834.2l-7.4 -5.1l-0.4 0.3l-1.2 8.8l4.5 1.3l4.6 -3.9zM1421.8 839.5l-6.2 1l1.4 7.3l3.3 1.9l3.5 -1.6l1 -2.6zM1437.4 844.8l-7 2.8l-0.6 1.5l8.1 5.2l2 -2.1l-1.8 -6.9zM1456 847.5l0.1 -3l-5 -4.2l-7 4.4l1.4 5.4l6.9 0.2zM1777.6 845.7l-6.1 -5.8l-7 4.2l0.2 3l8.8 3.6l4.2 -3.4zM1783.7 846.1l-0 1.2l6.5 5.8l1.4 -0.8l2.7 -7.4l-5.1 -1.9zM1435.1 859.6l-9.2 -5.9l-2.7 1.3l0 5l7.4 4.5l4.1 -2.1zM1451.6 864.6l-0.9 -8.4l-6.3 -0.1l-3.2 3.4l-0.5 3.7l2.9 2.5zM1422.3 878.4l1.2 -0.5l3.2 -8.7l-6.3 -3.9l-5 3.9zM1437 868l-4.2 2.1l-3.1 8.4l5.9 2.5l4.8 -1.3l-0.6 -9.4zM1745.1 868.9l-4.3 -2.7l-3 2.3l-2.8 9.3l4.6 2.5l4.1 -4.3zM1758.7 868.9l-0.7 -0.4l-7 1.4l-1.1 5.9l6 2.8l2.6 -3zM1764.7 870.2l-0.2 5.3l5 4.1l4.8 -4.6l-2.2 -5.4zM1761.8 881l-2.2 2.4l0.1 7l2.4 0.6l4.2 -1.3l0.3 -4.7zM1929.7 886.5l4.4 7.2l7.5 -0.1l-2.6 -7.1l-8.4 -1.3zM2019 892.8l4.5 3.6l7.7 -5.2l-1.7 -5.7l-9 -0.9zM2037.1 890.3l0.7 0.3l7.7 -0.2l1 -6.9l-9 -3.1l-2.3 3zM1857.7 911.9l-6.1 4.9l-0.3 1.1l6.9 4.5l5.4 -2.5zM1912.7 916.8l5.7 -4.6l0.3 -4.5l-1 -0.7l-9.3 0.7l1 8.6zM1959.2 920.2l5.4 -7.3l-0.1 -0.7l-2.1 -1l-2.2 0.9l-3.8 5.3zM1848 922.9l-0.7 0.5l-1.8 8.1l6.8 3.9l3.1 -1.8l-0.3 -6.1zM1875.5 923.4l-0.3 8.8l0.2 0.1l6.4 -2.1l-1.3 -8.4l-1.4 -0.8zM1891.9 922.7l-5.2 0.1l1.2 8l3 2.9l6.4 -2.8l-0.3 -5.1zM1911.6 922.7l-4.1 -0.6l-4.5 3.4l0.3 5.9l4 3.6l7.7 -4.4zM1917.3 920.8l3.7 8.3l0.5 0.2l6 -2.9l1 -2.6l-7.2 -6.2zM1956.8 929.2l-0.2 -3.1l-5.2 -5.2l-4.7 0.4l4.4 9.7l2.6 1.3zM1602.4 936.1l-3.2 -2.2l-6.3 4.3l0.3 1.7l6.1 6l2.1 -1.3zM1698.1 940.4l-0.4 1.2l6 6.4l5.1 -5.8l-0.6 -4.7l-2.7 -0.8zM1855.7 948.5l7.4 -4.3l-0.6 -4.1l-3.7 -1.5l-3.6 2.1l-0.7 6.3zM1872.8 937.7l-0.6 -0.4l-3.7 2.2l0.7 4.6l3.3 2.4l4.4 -0.6zM1879.3 937.3l3.5 6.9l2.5 -2.5l1.5 -3.7l-2.5 -2.3zM2003 939l4.4 6.8l6.4 -0.9l-3.9 -10.9l-7.2 3.9zM2015.9 933l3.9 10.8l2.4 -1.1l3.1 -8l-2.3 -2.9zM2030.8 937.1l-2.5 6.5l9.3 5.3l2.7 -3.3l0.7 -5.7l-7.2 -3zM1864.4 959.8l0.2 -0.1l3.5 -8.9l-1.9 -1.4l-8.2 4.7l0.1 1.3zM1880.6 951.4l-6.7 1l-2.9 7.5l7.5 1.6l4.3 -4.6zM1869 973.6l7.7 -6.3l-0 -0l-9.5 -2.1l-0.5 0.2l-0.2 1.5zM2015.2 967.2l9.5 0.8l1.4 -1.7l-5.8 -4.5l-4.9 3.5z" fill="#4e1a50" stroke="#4e1a50" stroke-width="6.2" stroke-linejoin="round"/>
<path d="M1428.3 398.9l-7 -2.9l-4.5 1.4l-0.2 0.8l4.2 7.4l7.6 -2.8zM1434.3 398.6l0.1 5.5l1.8 3.3l7.6 -1.6l-2.9 -7.4l-5.7 -0.2zM1430 408.6l-7.9 2.9l-0.8 4.2l4.3 1.9l5.3 -3.8l0.5 -2.5zM1444.8 420.9l5.7 -6.2l-0.2 -2.2l-2.8 -1.4l-10.4 2.3l-0.2 1zM1463.2 418.6l4.8 -1.2l1.6 -5l-11.5 -2.7l-1.8 2l0.2 2.4zM1473.7 419.1l3.8 3.8l6.9 -6.2l-2.4 -6.5l-2.9 -1l-3 2.7zM1495.3 408l-4.2 -0.1l-3 1.5l2.2 6.1l3.2 1.8l3.1 -0.9zM1501.2 406.6l1.4 9.5l4.1 1l1 -0.6l-0.1 -6.8l-5.2 -3.8zM1524.3 414.5l1.4 -4.3l-5.6 -5l-6.5 4.5l0.1 6.2l5.9 1.6zM1558.9 410.9l-9.8 -2.6l-1.4 1.5l2 9.1l2.5 1.5l5 -1.9zM1416.9 432.9l1.6 0.8l5.6 -5.4l-0.8 -5.2l-5.6 -2.4l-2.9 0.9zM1441.9 426.3l-8.4 -7l-4.2 3.1l0.7 4.9l9.3 3.9l2.2 -1.2zM1459.4 423.3l-5.3 -3.6l-6.2 6.6l-0.4 3.9l1.1 0.6l10 -3.1zM1465.3 424.3l-0.9 5l2.8 3.9l6.5 -5.6l-4.3 -4.3zM1481.2 427.6l0.9 0.9l7.7 -0.2l0.3 -6l-1.8 -1.1zM1517.3 423l-6.1 -1.6l-1.3 0.8l-0.9 7.5l2.2 3l6.6 -4zM1548.9 425.5l-2 -1.3l-7.8 3.5l-0.3 1.3l5.5 3.9l4.7 -6zM1601.6 426.2l0.8 1.7l1.8 0.9l3.3 -0.3l2.4 -7.4l-1.8 -1.2zM1619.1 432.7l2.1 -3.1l-0.6 -4.4l-3.4 -2.8l-1.5 0.2l-2.3 7.2zM1652.6 431.1l1.3 -1l0.5 -5.2l-2.9 -2.9l-9.8 4.3l-0.9 3.4l0.3 0.6zM1931.4 426.3l0.3 1l5.2 3.4l4.3 -2.5l0.7 -1.6l-3.7 -5.6zM1966.2 428.1l6.6 -0.1l4.7 -7.2l-6 -2l-6.3 6.2zM1983.7 422.4l-5.6 8.4l2.7 3.3l6.9 -5.8l-0.4 -4zM1422.8 439.8l7.9 5l3.4 -3.8l1.7 -4.8l-7.8 -3.3l-5.6 5.4zM1446.1 436.3l-1.8 -1l-2.3 1.3l-1.6 4.7l8.1 4.9l2.2 -1.9zM1474.6 446.3l4 -2.6l-0.6 -10.8l-0.6 -0.6l-7.8 6.8l-0.2 3.9zM1491.1 442.5l0.2 -8.2l-0 -0l-7.2 0.1l0.5 7.9zM1497.1 443.1l5.3 0.4l4.8 -2.5l0.2 -3.4l-2.7 -3.7l-7.4 1.7zM1513.2 441.2l7.1 4.3l5.6 -2.9l-0.1 -4.6l-5 -4l-7.5 4.4zM1542.4 443.6l-0.4 -5l-6.3 -4.4l-3.9 3.7l0.1 4.7l5.7 3.1zM1555.9 443.2l-0.6 -5.6l-3.4 -4.7l-4 5l0.5 5.2l4.8 1.3zM1416.9 450.7l1.2 2.9l8.2 1.8l2.3 -1.8l-0.2 -3.2l-7.5 -4.8zM1449.6 456.9l5 2.3l0.6 -0.1l2.1 -10.6l-1.9 -0.3l-4 3.4zM1463.4 448.6l-2.2 11.2l3.6 1.6l5.3 -10.8l-4.3 -2.7zM1490.1 457.2l1 -8.7l-8.5 -0.2l-3.3 2.1l4.5 6.5zM1516.4 453.6l0.5 -3.2l-6.9 -4.1l-3.5 1.8l2.1 7.8l2.7 1.1zM1541.3 459.2l8.6 -0.1l0.5 -9.3l-4.6 -1.1l-5.3 2.3l0 7.6zM1878.5 442.3l-3.4 7.9l0.7 3.6l3.6 2l0.2 -0.1l2.2 -9.8l-2.8 -3.7zM1411.5 468.5l2.8 1.5l7.5 -2.7l1.6 -6.4l-6.1 -1.3zM1438.1 461.9l-6.1 -3.4l-2.3 1.8l-1.9 7.9l3.6 2.4l5.9 -1.7zM1449.8 469.7l1.1 -5.6l-5.2 -2.3l-1.6 0.6l-0.9 7.7l1.2 1.3zM1492.8 467.1l-0.2 -1.7l-1.5 -2.2l-6.9 -0.2l-2.2 5.5zM1523.1 466.4l0.2 -1l-4.8 -6l-4 2.6l-0.2 5.4l6.5 0.6zM1543.4 465.2l0.3 4.7l9 3.5l3.1 -3.7l-4.3 -4.7zM1594.8 460.6l2.8 11l4.7 -2.4l0.8 -8.2zM1608.4 468.8l3.5 0.7l4.1 -4.1l-7 -3.9zM1633.1 463.4l-5.8 -1.6l-1.8 2.7l5.3 7.8l3.6 -0.5zM1663.3 470.3l8.2 -0.4l3.4 -3.7l0 -1.1l-4 -4l-3 0.6zM1778.1 472.2l9.8 -4.5l-1.8 -5.2l-3.2 -0.7l-5.7 5.8zM1794 467l6.5 -1l0.7 -2.6l-6.8 -4.9l-2.5 2.3zM1418.8 479.5l5.7 5l2.7 -2.2l0.5 -6.9l-3.7 -2.5l-6.3 2.3zM1454.8 482.2l-0.3 -4.6l-2.7 -2.2l-5 1.5l0.3 3.1zM1460.8 482.9l5.3 1.8l6.6 -3.3l-0.3 -6l-4.9 -3.6l-7 5.6zM1488.8 479.6l2.6 -6.2l-12.8 1.5l-0.2 0.2l0.3 6.4l0.6 0.4zM1497.8 484l7 -3.1l-0.9 -4.3l-6.2 -2.7l-3.1 7.4zM1510.9 481.1l4.2 3.6l3.2 -0.9l0.3 -10l-6.3 -0.5l-2.5 2.3zM1524.3 483.3l7 -3.1l0.2 -1.7l-6.2 -6.4l-0.7 0.5zM1541.4 475.5l-3.9 3.4l-0.2 2l5.8 4.5l6.3 -2l0.8 -4.6zM1605.6 474.3l-6.3 3.2l0.5 4.6l8.3 3.8l5.5 -1.9l-3 -8.7zM1628.5 482.4l9.8 3.4l2.3 -0.9l-0.3 -6.2l-2.9 -1.2l-6.2 0.8zM1656.8 475.5l-5.7 -0.7l-4.8 3.4l0.3 7.3l3.3 3.2l8 -9.8zM1668.8 482l2 -0.6l-0.6 -5.4l-6.8 0.3l0.5 1.5zM1677.4 472.3l-1.4 1.6l0.8 6.9l3 0.5l2.5 -1.7zM1689.9 480.5l3.6 3.2l9 -5.6l-0 -1.3l-6.3 -1.9zM1796.7 482.3l4.2 2.3l3.9 -2l1.2 -5.8l-4.2 -4.9l-5.5 0.8zM1410.9 490.6l1.4 3.7l2.4 1.5l6.4 -2.8l0.2 -3.3l-5.1 -4.4zM1451.7 487.6l-6.4 -1.9l-1.5 1.7l0.2 5.3l4.1 2.1zM1453.4 497.7l8.7 1.5l-0 -0l1 -9.2l-5 -1.7zM1476.3 487.1l-0.7 -0.4l-6.5 3.2l-0.9 8.4l7 1.7l4 -5.7zM1494.1 488.7l-3.9 -3.3l-7.4 1.8l2.2 5.3l5.4 2.4l2.9 -1.1zM1532.3 496.7l6.2 -5.2l0.5 -1.7l-5.3 -4.1l-5.5 2.4zM1548.9 499.6l5.6 -3.6l-3.9 -6.7l-5.7 1.9l-0.5 1.6zM1617.8 489.1l-0.3 -0.1l-6.7 2.3l-0.4 5.2l1 2.5l9.3 -2zM1623.7 487.8l3.5 9.6l2.9 -1.1l3.7 -5.7l-9.4 -3.3zM1646.5 493.7l-3.5 -3.4l-2.5 1.1l-3.8 5.7l4.7 1.5zM1654.1 493l4.3 3.1l4.7 -1.6l1.7 -8l-3.2 -2.7zM1670.7 487.7l-1.7 7.5l6.2 3.1l2.7 -1.3l-0.4 -10l-3.2 -0.5zM1690.5 489.1l-4.9 -4.4l-2.1 1.3l0.4 10.5l3 0.7l4.5 -4.1zM1704.1 484.1l-7.5 4.8l0.6 2.7l7.4 1.6l1.1 -5.6zM1795.9 496.6l1.5 -7l-4.2 -2.3l-3.7 0.5l-0.3 7.2zM1803.5 490.1l-1.8 8l6.1 3.2l4.9 -6.1l-1.8 -4.7l-3.6 -2.4zM1919.2 490.1l-3.7 1.4l-2 4.7l3.4 6.8l5.9 -5.6zM1937.1 492.6l0.5 -3.4l-4.9 -2.4l-7.6 1.7l3.4 6.8l5.1 0.5zM1416.5 506.1l5.5 2.8l6.4 -4l-0.4 -2.6l-4.5 -3.8l-6.4 2.8zM1446.6 500.8l-5.4 -2.8l-7.1 4.3l0.4 2.7l4.7 4.7l4.9 -1.9zM1450.1 508.9l0.1 0.1l9.8 -1.1l0 -3l-8 -1.4zM1479.7 503.9l1.8 5.6l0.6 0.4l5 -3.6l0.2 -6.2l-3.7 -1.6zM1503.2 503.1l-7.4 -3.9l-2.5 1l-0.2 5.7l7 3.1l3.6 -1.4zM1509.1 502.1l0.7 5.8l0.6 0.4l5.7 -1.7l2.3 -3.6l-5 -6.3zM1539.9 509.7l3.5 -1.6l1.4 -4l-4.4 -6.4l-4.8 4l3 7.6zM1549.6 508.5l6.8 2.6l4.2 -3.7l1.2 -5.5l-3.1 -1.5l-8.1 5.3zM1605.6 500.7l-6.7 2.1l3.9 4.5l1.7 0.8l0.4 -0.3l1.5 -5.2zM1629.4 503l0.1 6.6l3.2 2.6l6.7 -2l-0.2 -6l-7 -2.3zM1663.3 512.2l8.4 -6.1l0.3 -2.7l-6.6 -3.3l-4.8 1.6l-1 8.1zM1680.6 511.2l8.4 -0.7l-3.4 -7.4l-4.3 -1.1l-3.3 1.6l-0.3 3.3zM1795.3 512.2l4 1.2l6 -6.6l-6.1 -3.3zM2037.6 506.6l10.3 2.7l2.1 -1.7l-0.3 -1.4l-4.7 -6.6l-6.7 3.6zM1435.3 514.3l-4.1 -4l-6.1 3.8l-0.1 7.1l4.2 1.7l5.1 -2.6zM1454 514.6l3 6.3l1.6 0.4l2.9 -1.2l0.8 -3.8l-1.2 -2.5zM1468.1 518.3l-0.7 2.8l5.3 4.2l7.7 -6.4l-0.8 -3.5l-1.1 -0.6zM1495.9 513.7l-5.5 -2.4l-4.8 3.5l0.8 3.4l5.5 3.4zM1514.3 518.1l6 3.5l4.1 -2.9l0.6 -1.5l-7.4 -4.7l-4.2 1.2zM1537.5 515.3l-0.8 -0.3l-5.5 3.2l-0.8 1.9l4.5 5l4.2 -3zM1543.6 514.7l1.6 7l3 2.3l6.4 -3l-0.4 -4.3l-8.2 -3.1zM1560.6 521.3l3.5 2.6l5.6 -5.1l-6.4 -5.8l-3.1 2.8zM1600.7 522l1.2 -0.7l0 -7.7l-1 -0.5l-8.6 4.1l1.2 1.7zM1626.6 524.6l2.6 -3.8l-0.1 -3.8l-3.1 -2.5l-0.5 0.3l-4.8 6.5zM1643.8 526.5l2.5 -4.5l0.2 -5l-4.1 -1.4l-7.3 2.2l0.1 2.3zM1663.8 524.5l-2.8 -6.7l-4.8 -3l-3.7 2l-0.1 4l10.5 4.4zM1673 523.5l2.8 -8.7l-1.9 -2.9l-6.8 4.9l2.5 6zM1679.3 523.7l9 0.6l2.5 -1.3l1 -6.8l-10.5 0.9zM1707.8 525.9l-3 -11.7l-0.1 -0.1l-6.9 2.5l-1.1 7.1l5.6 4.7zM1717.8 526.1l2.9 -5l-0.3 -5.4l-1.4 -1.1l-7.8 0.3l2.6 10.2zM1784.2 517.2l-5.6 -4.5l-6.5 4.9l1 2.8l8.2 1.3l2.7 -3.6zM1872.2 514.6l-2.2 2.2l-0.9 6.3l1.2 2l10 -0.5l-1.7 -5.8zM1915.6 513.1l-5.4 11.2l2.4 1.9l9.8 -4.8l-1.2 -3.7zM2035.9 512.4l-0.3 7.6l5.5 2l1.7 -0.3l2.1 -7zM1418.5 527.5l-1.2 6.2l8.5 3.3l0.4 -8.8l-4.4 -1.8zM1436.7 525.9l-4.5 2.2l-0.4 9.4l5 1.8l5 -3.4l-0.9 -6.8zM1482.1 536.5l6.2 -3.7l1.5 -5.5l-5.8 -3.6l-8 6.7l0 0.3zM1500.4 539.4l5.5 -2.1l-2.9 -6.6l-7.6 -1.1l-1.2 4.2zM1508.6 528.5l2.4 5.5l6.7 -2.2l-0.2 -4.9l-5.2 -3zM1530.5 532.5l0.7 -2.6l-4.8 -5.3l-2.9 2.1l0.2 5.6l3.6 2.7zM1543.4 534.2l1.3 -0.7l0.1 -4.5l-2.4 -1.9l-5.3 3.8l-0.3 1.3zM1557.4 526.3l-6.6 3.1l-0.1 4.4l4.2 2.8l7.2 -4.5l-0.5 -2.6zM1567.6 528.9l0.6 2.9l4.3 3l6.8 -1.9l-0 -0.4l-4.3 -10.4zM1597.1 527l-4.7 -2l-7.2 8.1l0 0.5l2.4 1.5l7.8 -3.9zM1623.2 535.1l1 -5l-8.1 -4.4l-1.8 0.8l3.5 7.1l4.4 1.7zM1629.1 536.2l0.7 0.4l10.7 -5l-7.5 -5.7l-2.7 3.8zM1647.9 531.6l2.6 2.8l6.4 0.1l2.3 -4.3l-8.6 -3.6zM1671.8 529.3l-3.6 -0.7l-2.4 2l-3.6 6.7l3.7 5.6l7 -4.8zM1677.9 529.6l0.9 8l1.2 0.5l4.7 -2.6l0.8 -5.3zM1709.2 541.7l8.1 -8.8l-0.3 -0.8l-5.4 -1.3l-6.8 3.1l0.1 2.8zM1767.1 534.6l11.9 -0.8l0.4 -6.3l-7.1 -1.2zM1784.9 534.9l10.1 -2.4l-0.1 -0.8l-7.8 -7.8l-1.6 2.2zM1803.5 535.2l2.5 -0.1l5.3 -9.3l-5.8 -0.9l-4.6 6.3l0.2 2zM1841.9 526.8l-0.1 4.8l8.9 2.8l-1.1 -9.9l-1.1 -1zM1864.2 526.6l-8.4 -0.4l1 8.6l4.4 1.6l1 -0.7l3.1 -7.3zM1897.3 535.8l-0.8 -7.9l-0.9 -0.4l-7.7 2.5l-0 0.9l6.6 6.4zM1420 547.8l2.8 -5.5l-8.4 -3.3l-1.7 1.2l-0.7 6.1l4.6 3.1zM1429.1 542.9l-3 6.2l4.6 3.1l5 -2.1l-1.1 -5.2zM1445.5 553.3l5 -6l-2.6 -5.5l-2.6 -1.1l-4.7 3.3l1.2 6.3zM1496.4 543.8l-5.9 -5.3l-6 3.5l-0.3 2.1l8.1 7.7l2 -1zM1502.2 545.1l-1.8 6.1l5.7 2.3l3.9 -4.7l-2.9 -5.5zM1512.1 540l3.4 6.4l7.2 1l2.1 -2.2l-0.4 -4.9l-4.1 -3.1zM1567.4 549.8l1.3 -10.3l-3.3 -2.3l-7.6 4.6l0 6.4zM1581.7 538.5l-7.1 1.9l-1.2 9.9l7.7 1.6l5.1 -3.2l-1.5 -8.3zM1597 537.1l-6.2 3.2l1.4 7.7l5.5 2.5l3.9 -1.7l0.9 -5.5zM1618 540.1l-2 -0.8l-7.6 4.8l-0.8 4.9l4.5 1.9l2 -0.8zM1625.2 540.8l-1.1 0.3l-3.8 9.7l5.6 2.5l3.7 -5.9l-2.3 -5.3zM1642.8 547.6l3 -9.4l-1.6 -1.7l-10.6 5l1.6 3.7zM1655.5 551.9l6.5 -3.1l0.1 -0.9l-5 -7.4l-5.7 -0.1l-2.6 8.1zM1668 549.1l11.4 -1.8l-1.6 -3.6l-1.5 -0.7l-8.2 5.7zM1684 542.8l2.2 5.1l2 1.9l0.2 -0l1.8 -6.1l-3.1 -2.7zM1696.2 544.7l-1.8 5.8l4.5 1.9l5.6 -7l-3.3 -3.7zM1782 548.5l-1.3 -8.7l-0 -0.1l-10.8 0.7l2.2 8.7l5 2.7zM1794.2 550.6l4.7 -11.4l-1.4 -1.2l-10.6 2.6l1.1 7.3zM1800.3 551.5l8 0.3l2.3 -1.2l-0.9 -6.5l-3.1 -3l-2.1 0.1zM1816.6 550.1l7.7 3.5l5.7 -5.3l-0.8 -4.8l-3.3 -2l-10.1 3.2zM1853.5 540.2l-3.8 7.8l2 1.7l6.9 -5.9l0 -2l-4.6 -1.7zM1876.9 546.1l-11.9 -5l-0.4 0.2l-0 3l6.3 9.3l6.7 -4.8zM1890.9 542.1l-5 -4.8l-3.2 7l0.8 3.5l4.6 1.8l2.1 -0.7zM1903.4 543.3l-3.2 -2.2l-3.3 1.8l-0.7 6l3.4 0.9l1.7 -1.3zM1426.7 560.9l0.4 -3.8l-5.1 -3.6l-2.8 1.3l-0.2 3.9l4.9 4.7zM1432.8 560.2l6.5 1.7l2.6 -3.8l-3.3 -2.7l-5.5 2.3zM1466.5 550.9l1.4 10.7l1.4 1.6l1.9 -0.6l2.5 -11.8zM1477.4 562.4l10 -3.4l0.9 -2.7l-7.6 -7.2l-0.6 0.5zM1504.7 559.4l-7.8 -3.2l-2.7 1.4l-1.2 3.4l4.1 6.5l9.1 -4.1zM1512 561.8l8.8 -1.5l-0 -7.1l-6 -0.8l-4.3 5.3zM1555.3 564.5l9.8 -4.9l0.7 -3.9l-10.1 -1.8l-2.5 2l0.8 7.7zM1625.2 562.6l-0.8 -3.4l-8 -3.5l-1.1 0.4l0.8 9.1l2.7 2.1zM1664.2 554.4l-6 2.9l-0.9 4.5l7.9 4.3l2.1 -5.5zM1681.3 558l2.3 -4.3l-0.9 -0.8l-11.6 1.8l1.4 2.8zM1709.3 549l-6.1 7.6l0.5 1.1l7.9 4.9l1.6 -1.2l-0.8 -9.7zM1756.5 556.6l-2.7 1.2l-0.3 4.7l3.1 3.4l4 -1.8l-0.9 -6.5zM1792.5 556.4l-6.9 -3l-5.5 3.7l-0.6 5.2l6.4 2.2l6.5 -5.6zM1798.5 557.4l-0.1 2l4.1 6.1l3.8 -0.4l-0.2 -7.4zM1827.8 560.9l3.6 3.1l8.6 -0.8l-7.7 -8.9l-4.4 4.1zM1837.9 551.7l9.6 11.1l1.9 -1.6l-0.6 -6l-4 -3.5zM1410.3 574l10.8 -3l-0.1 -2.1l-5.4 -5.1l-6.8 4.6zM1430.4 565.7l-3.4 3.1l0.2 3.1l0.7 0.7l9.4 -2.4l0.1 -2.6zM1448.4 575l0.5 -11.7l-2.2 -1.5l-3.2 4.5l-0.2 5l4 3.9zM1474 568l-3.2 1l-1.1 3.4l7.3 6.8l3.2 -2.4l-4.6 -8.5zM1481.9 567.2l4.1 7.7l3.6 0.5l3.1 -1.9l0.2 -1.5l-4.4 -7zM1508 569.2l-9.3 4.2l-0.1 0.7l5.7 5.4l5.3 -2.8zM1520.9 577.9l1.9 -2.2l1.5 -8.2l-1.5 -1.5l-9.1 1.5l1.9 8.5zM1554 573.2l-1.4 -3.2l-1.6 -1.2l-5.9 3.4l-0.3 4.9l4.9 2zM1570.3 574.9l0.3 -2.1l-4 -7.2l-7.7 3.8l0.9 1.9l9.1 4.4zM1615.7 572.9l-0 -0.4l-3.3 -2.5l-8.4 1.3l-0.5 5.6l8.7 0.4zM1664.2 573.5l-0.1 -1.2l-9.8 -5.3l-1 0.8l-0.2 6.7l4.6 3.5zM1670.2 572.9l2.5 1.1l8.5 -3l-0.3 -6.6l-0.1 -0.4l-8.2 -0.5l-2.7 7.3zM1687 567.1l0.2 4.3l2.7 1.8l2 -0.4l1.2 -5.1zM1702.9 575.4l5.4 -4.3l0.3 -3.3l-6.7 -4.1l-2.3 2.8l-1.7 7zM1770.2 576.9l-0.4 -6.6l-5.6 -1.3l-5.6 2.6l-0.3 1.8l9.1 4.9zM1776.2 576.3l9.2 -0.8l-1.4 -5.3l-7 -2.4l-1.2 1.2zM1789.9 569l1.9 7.4l0.3 0.2l3.4 -1.1l2.2 -6.3l-2.9 -4.4zM1803.3 571.5l-1.8 5l7.7 4.7l4.3 -6.2l-0.1 -1.7l-4.6 -2.5zM1844.3 573.8l0.3 -5l-10.4 1l1.7 6.4l2.7 1.6zM1424.1 577.3l-0.8 -0.7l-10.1 2.8l2.4 8.7l5.3 2.2l4 -3.3zM1442.7 579.2l-3.4 -3.3l-9.1 2.3l0.6 7.6l7 1.4l1.6 -0.7zM1484.8 580.8l-5 3.8l0.1 3.9l4.3 3l1.6 -0.8l1.1 -9.6zM1500.7 584.4l-5.6 -5.4l-2.1 1.3l-1.1 9.5l4.4 0.4l4.3 -4.4zM1518.9 583.5l-5.6 -2l-6.6 3.6l-0 0.7l6.2 4.8zM1573.3 580.1l-1.7 1l-1.5 4.5l3.8 5.5l6.9 -5l-0.3 -2.8zM1617.8 587.8l1.3 1.2l4.6 -1.5l0.7 -5.1l-5.2 -4.2l-2.4 3zM1667.8 578.4l-7.4 5l-0.2 1.2l8.8 7.7l4.2 -2.7l-3.1 -10.2zM1676.3 579.1l2.9 9.4l1.1 0.3l4.3 -0.6l1.5 -10.3l-2.2 -1.5zM1700.4 580.9l-6.3 -2.4l-2.1 0.4l-1.5 10.6l4.9 3.2l5.2 -3.9zM1706.4 580.2l0.2 7.8l5.1 1.5l4.2 -0.8l2 -6.6l-6.8 -5.6zM1721.6 590.5l3.8 3.8l4.6 -6.9l-0.6 -2.8l-4.3 -1.6l-1.3 0.5zM1752.3 589.3l1.6 1.3l8.2 -4.4l1.3 -3.2l-7.8 -4.3l-4.1 4.1zM1788.3 581.3l-9.7 0.9l1.7 4.6l4.9 3.6l2.2 -1.4l1 -7.6zM1797.5 581.1l-3.1 1.1l-0.9 7l5.4 2.8l5.4 -6.8zM1817.6 579.6l-3.2 4.6l5.6 7.3l1.7 -0.7l0.6 -9.1zM1835.3 588.7l0.4 -5.7l-2.9 -1.6l-4.5 0.9l-0.5 7.5l5.2 0.1zM1431.3 604.9l4.3 -4.9l-0.3 -7.2l-6.5 -1.2l-4.2 3.5l0.1 3.1zM1486.9 596.9l-0.4 5.7l4.9 3l7.1 -1.5l-3.1 -7.9l-6.2 -0.6zM1527.1 596.1l0.3 -2l-5.1 -5.3l-5.9 6.9l0.4 3.2l4.6 2.2zM1543.8 596.2l-6.4 -3.6l-4.1 2.3l-0.1 1.3l7.8 5.3l3 -1.2zM1557 601.7l-0.1 -9.6l-3.4 -0.9l-3.7 4.2l0.3 5l3.4 1.8zM1563 602.2l0.5 0.3l6.9 -3.4l-0.2 -2.8l-4.3 -6.3l-3 1.6zM1729.5 599l3.2 1.8l6.2 -6.8l-4.6 -2.2zM1738.2 603.7l8.2 1.4l6.1 -4.3l-1.5 -4.8l-2.1 -1.7l-3.4 1.3zM1424.2 615.6l4.4 -4.2l-0.1 -0.7l-6.7 -7l-5 5l1.7 5.5zM1434.6 610.5l2.5 1.2l6.2 0.4l2.3 -5.4l-6 -2.1l-5.1 5.6zM1448.7 614.8l3.5 4.3l3.5 -1.6l-0.2 -7.3l-4.2 -1.6zM1466 607.1l-4.5 2.7l0.2 7l6.2 1l3 -4.2l0.3 -2.2zM1487.6 613.1l0.1 -2.6l-4.3 -2.8l-6.2 4.2l-0.2 1.2l6.7 3.6zM1497.8 619.1l3.9 -6.6l-0.7 -2.8l-7.3 1.6l-0.1 2.2zM1547.8 617l1.8 -10l-2.6 -1.5l-4 1.7l-3.4 8.4l2.2 2.2zM1559.7 607.3l-4.2 0.7l-1.8 10.3l1.7 1.2l7.6 -3.1l-1.9 -8.5zM1584.8 608.3l-0.4 2.9l4.4 7.9l4.4 -4.9l-1.1 -4.4zM1731 606.7l-4.3 -2.4l-6.8 5.6l-0.1 1.1l8.1 3.9l2.3 -0.8zM1817.5 604.9l-4.9 3.6l-0.4 3l5.4 5.4l6.6 -1.6l0.7 -5.6zM1846.1 616.9l8.6 -1.7l0 -5.5l-6.9 -2.9l-2.3 3.2zM1869 613.2l-0.1 -2.1l-5 -3.8l-3.2 2l-0 6.9l1.9 1.4zM1410.4 625.3l3.2 4.7l9 -2.8l-0.4 -5.9l-5.4 -1.4zM1428.7 627.9l3.4 2.9l2.4 -1l-1 -13.1l-1.1 -0.6l-4.3 4zM1460.4 634.6l7.5 -5.7l-1.2 -5.2l-7.5 -1.2l-5.3 2.4l-0.8 3.4l6.1 6.3zM1482.8 625.9l-1.2 -3.4l-6.9 -3.8l-2.3 3l1.5 6.4l1 0.5zM1494 627.6l1 -0.6l0.1 -1.5l-4.9 -6.6l-2.6 2.4l1.4 4.2zM1536.2 630.1l1.3 -8.1l-2.7 -2.7l-5.3 -0.2l-2.5 5.6zM1552.1 624.5l-2.5 -1.7l-6.3 0.8l-1 6.2l7.2 2.2l2.9 -2.1zM1613.3 627.2l4.2 -7.2l-6.5 -3.1l-1.5 1.7l0.2 5.8zM1619 629.2l7.2 3.1l4.7 -6.4l0.1 -3.8l-2.5 -2.1l-4.8 1.3zM1803.2 626.6l8.7 1.5l1.4 -0.6l0.3 -6.2l-5 -4.9l-2.6 1.6zM1824 632.3l3.4 -4.4l0.5 -5.5l-1.7 -1.4l-6.6 1.6l-0.4 5.7zM1859.7 622.9l-2.8 -2l-8.7 1.7l0.2 3.1l6.4 3.3l4.9 -6zM1865.9 622.6l7.4 6.8l0.6 -0.1l2.1 -7.9l-4.1 -2.9zM1433.4 642.5l4.3 2.9l3.7 -2.6l-0.5 -7.9l-2.7 -0.1l-3.9 1.6zM1451.2 642.5l2.9 -4.6l-5 -5.1l-2.2 1l0.4 7.9zM1470.5 647l5.5 -3.5l0.1 -0.1l-3.9 -9.4l-0.7 -0.4l-6.2 4.8zM1505.1 640.8l0.5 -6.5l-7.3 -2.3l-1.5 0.9l-1.3 4.9l2.2 4.8zM1514.7 647.5l6.3 -4.6l-6 -9.8l-0.6 -0l-2.8 1.1l-0.6 8.1l3.6 5.1zM1589.3 630.9l-3.3 9.8l3.6 5.4l6.3 -3.6l-3 -9.7zM1609.5 631.9l-3.2 -2.5l-7.3 3l2.8 9l1.5 0.4l3.4 -2.4zM1693.1 637.9l2.9 4.2l5.9 -4l0.1 -1.8l-6.5 -1.3zM1712.3 631l-4.2 4.2l-0.2 3.1l4.6 3.4l2.3 -2.3zM1732.3 642.2l5.7 3.4l6.1 -3.2l-0.8 -10.3l-1.8 -1.4l-7.2 4.8zM1749.4 632.9l0.7 9.4l6.4 3.4l3.7 -2.7l-0.2 -6.8l-6.7 -4.1zM1798.3 633.5l-0.8 6.6l4.2 3.7l3.6 -1.5l2.9 -8.8l-8.2 -1.3zM1426.5 657l9.6 -3.5l-0.9 -2.5l-5.2 -3.5l-4.9 2.8l-1.1 5.9zM1442.4 653.7l2.6 2.6l5.4 -5.2l-0.4 -2.7l-4.8 -1l-3.9 2.8zM1465.5 650.2l-6 -9.6l-0 -0l-3.7 5.9l0.5 3.3l7 2zM1473.9 651.9l4.9 7.1l3.3 -5.9l-3.9 -3.8zM1482.6 645.2l4.5 4.4l5.1 0.3l0.7 -3.5l-2.1 -4.5zM1498 651.7l5.3 1l5.2 -3.5l-1.8 -2.6l-8.1 1.9zM1521.6 659.8l8.7 -6.2l-3.6 -6.7l-0.8 -0.1l-7 5.1zM1564 652.9l4.3 3.6l2.5 -3.2l-4.5 -5.7l-1.5 1.2zM1635 646.2l2.6 6.9l2.5 0.5l4.3 -3.3l-0 -0.5l-4.9 -4.1zM1667 652.3l7 2.5l2.3 -1.5l-0.1 -5.3l-3.6 -4.7l-5.5 2.2zM1709.7 647l-4.9 -3.5l-6.4 4.2l0 0.6l5.7 5l5.1 -2.5zM1730.7 648.2l-3.7 5.1l7.9 2l0 0l0 -4.6zM1431.6 661.5l4.6 5.6l0.2 0l5.1 -5.8l-2.5 -2.5zM1448.9 660.9l8.5 5.9l1.6 -0.6l1.4 -9l-5.9 -1.7zM1465.3 665l9.6 -1.1l-6 -8.7l-2.3 1.6zM1482.3 665.2l0.7 0.7l7.1 -1.3l1.9 -8.7l-4.4 -0.3zM1501.6 658.5l-3.8 -0.8l-1.8 8.2l0.2 0.2l7.4 -1.8zM1513.1 653.4l-5.6 3.7l2.4 7.1l1.7 0.7l4.3 -3zM1555 664.8l3.1 2.8l7.8 -3.7l-0.1 -1.6l-4.8 -4.1l-6 6zM1586.6 657.8l-5.9 11.8l0.1 0.2l6.5 0.7l5.8 -5.5zM1600.8 664.4l5.2 3.7l2.8 -1.6l-1 -9.7l-0.2 -0.1zM1717 658.6l-5 -2.4l-5.6 2.7l-1.2 7.4l2.6 1l10.8 -1zM1723.1 658.5l1.9 8.7l2.5 2.1l4.6 -2.1l0.9 -6.1zM1495.2 679.5l-2.2 -8.4l-1.1 -0.7l-7.5 1.4l-1.3 7.3l5.7 3.9zM1505.4 680.2l3.4 -2.3l0.1 -7.6l-1.7 -0.8l-7.9 2l1.8 7.2zM1520 666.4l-5.1 3.5l-0.1 7.6l4.5 1.6l6.2 -3l0.8 -2.2zM1561.9 677.6l1.2 0.8l10 -0.6l2.4 -5.3l-0.4 -0.8l-6 -2.7l-8.1 3.9zM1597.2 669.3l-5.3 5.1l1.7 4l5.7 1.6l3.2 -2.1l0.2 -4.8zM1638 675.1l1.1 3.7l8.1 -1.5l-0 -6.1l-3.4 -0.7zM1661.5 675.6l-5.6 -6.4l-2.7 1.4l-0 7.7l4.7 3.7l2.1 -2zM1734.9 672.5l-5.1 2.3l-0.7 4.6l3.4 2.3l8 -0.3l-4.6 -8.6zM1742.6 672.5l5.1 9.6l5.4 -3l-0.1 -2.7l-3.6 -5.1zM1508.8 685.1l0.4 8.5l7.4 2.2l2 -0.8l-1.8 -10.5l-4.6 -1.6zM1430.8 711.3l6.9 -2.9l0.9 -2.7l-1.5 -4.3l-7.5 -0.4l-2.4 7.5zM1556.5 700l-6.5 -2.7l-2.6 2.5l0.4 4.8l4.6 3.4l2.9 -0.3zM1427.3 717.8l-0 -1.6l-4.3 -3.4l-6.5 1.4l-1.6 5.2l7 2.6zM1451.8 728.2l-0.3 -5.2l-4.5 -0.8l-6.8 6.7l0.1 3.2l0.6 0.2zM1760.9 733l10.1 -1.6l0.4 -7l-8.5 -2.8l-3.7 3.2zM1780.9 720.9l-3.5 2.8l-0.5 9.1l1.9 1.7l7.9 -1.3l-1 -9.3zM1807.5 736.8l6.1 -4.5l-0.3 -3.7l-5.2 -3.3l-0.9 0.1l-6 9.5zM1824.1 736.8l6.9 -4l-5.5 -8l-6.2 3.6l0.3 4zM1840.6 731.5l0.2 -3.2l-5.1 -7.1l-4.4 1.5l5.7 8.3zM1914.1 726.4l-1.4 6.9l1.3 1.1l9.5 -4.2l-0.6 -2.8zM1429.9 738.6l-4.7 -1.5l-5.6 2.8l-1.3 6.7l2.7 1.3l7.7 -4.7zM1443.1 744.8l-4.1 -6.8l-1.3 -0.4l-1.6 0.9l-1.5 5.8l2.8 3zM1449.6 743.9l2.9 1.6l5.1 -1.3l0.8 -6.2l-4.3 -4.3l-8.7 3.3zM1738.8 743.2l7.9 0.1l1.9 -3.7l-7.4 -2l-2.5 1.9zM1752 746.3l2.4 4.3l4.2 -5.4l-1.3 -6.1l-2.1 0.9zM1774.1 742.7l0.5 -3.8l-1.8 -1.7l-9.4 1.5l1.1 5.2l6.8 3.3zM1821.1 745.4l-0.4 -3.4l-4.2 -4.3l-5.3 3.9l0.3 4.5l6.6 1.2zM1853.3 746.6l-4.2 -7.8l-3.2 -0.3l-1.4 6.7l3.4 3.5zM1921.4 744l5.5 -2.2l1.2 -5l-1.7 -1.4l-9.4 4.3l0.9 2.8zM1434.1 756.3l-0.3 -4.1l-3 -3.2l-5.8 3.5l2 4.9zM1443.9 759.8l4.3 -9.8l-0.9 -0.5l-7.5 3.3l0.4 4.4zM1464.4 757.6l-0.7 -3.5l-4.3 -4.2l-5.2 1.4l-3.6 8.2l8.8 1.4zM1738.3 749.2l6.7 9.6l5.1 -3.7l-3.3 -5.8zM1769.9 757.2l-0.4 -4.1l-6.8 -3.4l-4.2 5.5l7.8 4.8zM1792.8 755l-0.5 1l4.8 5.9l4.6 -5.4l-0.2 -0.9l-6.7 -2.4zM1815.2 752.9l-5.5 -1l-2.4 2.3l0.4 1.3l4 3.1l2.4 -0.4zM1824.2 750.5l-2.8 1.8l-1.4 7.2l2.5 1.9l6.4 -2.6l-0.7 -5.5zM1844 753.4l-3.3 -3.5l-6.4 3.4l0.7 5.8l1.4 1.2l7.6 -3.1zM1857.5 751.4l-7.5 2.9l-0 3.4l5 3.7l4.8 -4.1l0.9 -4.7zM1486.5 769.4l-0 -2l-5.9 -2.8l-4.9 1.1l0.2 6.5l4.3 2.5zM1730.7 774l0.8 -5.6l-6.1 -1.5l-1.5 4.8l2.3 3.4zM1736.7 774.5l2.7 1.1l4.5 -5.3l-1.3 -3.9l-5 1.9zM1762.2 770.1l0.9 -5l-8.9 -5.5l-6.1 4.4l1.7 4.9l5.5 2.8zM1768.6 772.3l11.6 -2.6l-1.9 -6.4l-4.6 -1.4l-4.5 3.4l-1.2 6.4zM1806 768.7l1.6 -5.7l-2.1 -1.7l-5.4 6.4l0.1 1.4zM1834 771.2l-0.9 -5.9l-1.5 -1.2l-6.8 2.9l-0.7 4.3l8.2 1.3zM1839.9 770.4l5.9 2.8l6 -3.1l0.2 -3.5l-5.4 -4l-7.4 3zM1862.6 762.8l-4.6 3.9l-0.2 3.9l5.9 4.8l6 -2.1l0.6 -4.7zM1886 764.8l-3.4 -1.5l-6.3 5.4l-0.6 5.4l3.7 2.5l6.7 -7.5zM1430.1 782l2.3 -5l-4.3 -2.6l-3.8 4l3.1 5.2l-0 -0zM1436.1 783.3l6.4 5.1l3.7 -5.2l-0.6 -4.6l-3.1 -2.3l-4 1.7zM1571.1 778.9l-4.3 -1.2l-5.5 4.7l-0.8 2l9.5 4.2l3.6 -3.8zM1747.5 787.2l2.6 -2.3l1.5 -8.3l-3.6 -1.9l-4.6 5.4l0.9 6.1zM1767.2 786l-2.5 -8.9l-1 -1.2l-6.2 1.5l-1.1 6.7zM1799.9 788.1l-6.3 -9.5l-2.7 0.7l-1.5 2.7l7.1 9.2zM1805.5 785.6l7.5 -5.9l-0 -0.2l-5.7 -4.9l-8.5 0.6l-0.1 0.2zM1825 785.3l3.6 -0.8l1.1 -6.3l-8 -1.2l-2.7 2.5l-0 0.4zM1834.5 785.6l5.7 3.5l2.2 -1.9l0.3 -8.8l-5 -2.4l-1.8 1.4zM1856.6 787.1l2.4 -3.3l0.8 -3.9l-5.5 -4.4l-5.6 2.9l-0.3 7.6zM1865.2 783.6l8 5l5.7 -2.8l-1.5 -3.3l-5.3 -3.6l-6.4 2.1zM1885 784.9l6 -1.6l3.2 -5.3l-4.7 -3.7l-6.1 6.8zM1425.1 789.5l-9.5 3.7l1.1 3.4l7.4 2.5l1.8 -0.9zM1483.1 788.8l-7.5 6.2l0 0.2l10.7 4.7l1.7 -1.1l-0.7 -8.2zM1502.3 797.1l-1.4 -8l-2.4 -2.3l-5.2 3.3l0.7 8.2l4.4 1.6zM1557.5 795.9l9.8 -0.2l0.2 -1.7l-10.3 -4.5l-0.4 0.4zM1722 797.7l9.3 -4.4l0 -0.1l-7 -6l-2.4 2zM1741.2 804.4l6.2 -7.6l-1.5 -3.8l-4 -1.3l-4.6 2.6l-0.4 1zM1760.4 798.6l1.4 -0.9l2.6 -6.1l-10.6 -1.9l-2.1 1.7l1.5 3.8zM1771.2 791.2l-3.2 7.3l5.9 3.5l4.8 -4.3l-3.6 -6.3l-3.5 -0.6zM1780.9 789.6l3.8 6.4l4.4 2.1l3.5 -1.9l0.1 -0.2l-7.4 -9.6zM1798.6 797.4l6.4 5.2l5.6 -1.4l-5.8 -9.4l-6.2 5.5zM1816.1 798.8l2.4 -0.8l2.2 -8.5l-4.9 -4.4l-5.5 4.3zM1828.6 801.3l8.7 -4.1l0.2 -2.7l-6.9 -4.2l-4.1 0.8l-2 7.9zM1846.9 802.2l10.2 -2.2l0.1 -0.1l-1.7 -6.8l-9.2 -1.4l-2.8 2.6l-0.2 3.8zM1861.2 791l1.6 6.7l4.1 0l2.3 -4.5l-6.6 -4.2zM1875.3 794.3l-2.8 5.7l4.1 3.7l6.6 -3.8l-1.5 -8.9zM1420.2 812.2l1 -7.7l-5.6 -1.9l-3.3 4.9l-0.9 4.9l0.9 0.6zM1428.4 815.4l6.3 -4.3l0.2 -6.3l-5.5 -1.7l-2.2 1.2l-1.1 9.3zM1714.3 806.6l5.2 9.6l8.4 -0.7l-8.9 -10.8zM1737.4 810.2l-5.1 -10.7l-7.1 3.3l7.7 9.4zM1743.7 810.8l1 0.6l11.8 -1.2l0.9 -6.4l-5.8 -2.7zM1777.5 806.9l0.7 5.9l7.4 -1.5l0.5 -8l-3 -1.4zM1792.2 803.3l-0.6 9.1l1 1l5.8 -0.6l2.3 -6l-6 -4.9zM1806.5 808.4l-2.3 6.1l3.4 2.8l4.1 -6.3l-0.5 -3.7zM1817 804.8l0.6 5.1l6.8 3.6l1.4 -1.2l-0.3 -5.9l-4.9 -2.7zM1425.4 820.7l-3.4 -2.7l-6.9 0.7l0.8 5l9.8 -0.1zM1431.4 820.5l0.6 5l3.1 1.3l7.1 -2.1l1.2 -4.7l-5.8 -3.7zM1449.4 820.7l-1.4 5.4l2.8 2.9l5.3 -4.2l0 -6.1l-1.5 -0.7zM1483.2 830.6l6.2 -5.6l-0.6 -2.3l-6.4 -5.2l-6.4 1.5l0.2 2.6zM1723.8 831l3.9 -4.3l-0.3 -5.1l-7.9 0.6l-3.8 5.3zM1740.1 815.6l-6.1 2.6l-0.7 1l0.4 6.7l6.7 3.5l3.5 -3.5l-2.5 -9.5zM1747.8 817.1l2 7.3l3.8 1.1l4.1 -3.4l-0.2 -6zM1787.6 817l-7.9 1.6l-1 7.1l9.2 0.6l0.4 -0.4l0.3 -8.1zM1794.6 819.2l-0.2 6l7.7 2.9l3.2 -5l-5.6 -4.4zM1812.3 821.1l7.8 2.6l1.3 -5l-5.6 -3zM1827.6 818.8l-1.8 6.9l4.5 2.5l8.2 -4.8l-0.2 -2.6l-8.8 -3.7zM1856 828.4l7.4 1.2l2.8 -8l-4.2 -1.6l-0.9 0.4zM1413.2 834.8l8.6 -1.3l2.8 -3.9l-9.3 0.1zM1430.7 831.4l-3.7 5.1l2.5 5l4.7 -1.8l-1.8 -7.5zM1462.9 833.3l-3.8 -3.2l-5.2 4.1l0.2 0.8l5.1 4.3l3.9 -3.2zM1468.9 832.7l0.1 2.3l5.8 1.1l3.5 -2.1l-5.1 -6.5zM1712.4 832.6l-1 5.5l7.8 2.9l2.7 -2.9l-0.1 -1.5zM1738.9 839.8l-0.7 -4.7l-6.7 -3.6l-3.8 4.1l0.2 1.8l7.9 5zM1744.7 838.6l2.5 0.6l6.3 -1.3l-1.7 -6.6l-3.7 -1.1l-4 4zM1759.7 838.1l1.6 0.9l7.9 -4.7l0.2 -1.7l-8.4 -5.5l-3.3 2.9zM1781.1 840.6l4.9 -2.7l-0 -5.7l-9.6 -0.6l-0.9 0.9l-0.4 2.5zM1800.7 833.9l-8.7 -3.2l-0 0l-0 6.9l6.1 2.4l3.2 -1.5zM1806.5 832.4l0.9 6.1l0.4 0.2l4.5 -1.2l4.9 -8.5l-7.1 -2.3zM1928.5 827.7l-5.1 3.5l-0.4 7.2l2.3 1l9 -6.4zM2043.3 834.2l-7.4 -5.1l-0.4 0.3l-1.2 8.8l4.5 1.3l4.6 -3.9zM1421.8 839.5l-6.2 1l1.4 7.3l3.3 1.9l3.5 -1.6l1 -2.6zM1437.4 844.8l-7 2.8l-0.6 1.5l8.1 5.2l2 -2.1l-1.8 -6.9zM1456 847.5l0.1 -3l-5 -4.2l-7 4.4l1.4 5.4l6.9 0.2zM1777.6 845.7l-6.1 -5.8l-7 4.2l0.2 3l8.8 3.6l4.2 -3.4zM1783.7 846.1l-0 1.2l6.5 5.8l1.4 -0.8l2.7 -7.4l-5.1 -1.9zM1435.1 859.6l-9.2 -5.9l-2.7 1.3l0 5l7.4 4.5l4.1 -2.1zM1451.6 864.6l-0.9 -8.4l-6.3 -0.1l-3.2 3.4l-0.5 3.7l2.9 2.5zM1422.3 878.4l1.2 -0.5l3.2 -8.7l-6.3 -3.9l-5 3.9zM1437 868l-4.2 2.1l-3.1 8.4l5.9 2.5l4.8 -1.3l-0.6 -9.4zM1745.1 868.9l-4.3 -2.7l-3 2.3l-2.8 9.3l4.6 2.5l4.1 -4.3zM1758.7 868.9l-0.7 -0.4l-7 1.4l-1.1 5.9l6 2.8l2.6 -3zM1764.7 870.2l-0.2 5.3l5 4.1l4.8 -4.6l-2.2 -5.4zM1761.8 881l-2.2 2.4l0.1 7l2.4 0.6l4.2 -1.3l0.3 -4.7zM1929.7 886.5l4.4 7.2l7.5 -0.1l-2.6 -7.1l-8.4 -1.3zM2019 892.8l4.5 3.6l7.7 -5.2l-1.7 -5.7l-9 -0.9zM2037.1 890.3l0.7 0.3l7.7 -0.2l1 -6.9l-9 -3.1l-2.3 3zM1857.7 911.9l-6.1 4.9l-0.3 1.1l6.9 4.5l5.4 -2.5zM1912.7 916.8l5.7 -4.6l0.3 -4.5l-1 -0.7l-9.3 0.7l1 8.6zM1959.2 920.2l5.4 -7.3l-0.1 -0.7l-2.1 -1l-2.2 0.9l-3.8 5.3zM1848 922.9l-0.7 0.5l-1.8 8.1l6.8 3.9l3.1 -1.8l-0.3 -6.1zM1875.5 923.4l-0.3 8.8l0.2 0.1l6.4 -2.1l-1.3 -8.4l-1.4 -0.8zM1891.9 922.7l-5.2 0.1l1.2 8l3 2.9l6.4 -2.8l-0.3 -5.1zM1911.6 922.7l-4.1 -0.6l-4.5 3.4l0.3 5.9l4 3.6l7.7 -4.4zM1917.3 920.8l3.7 8.3l0.5 0.2l6 -2.9l1 -2.6l-7.2 -6.2zM1956.8 929.2l-0.2 -3.1l-5.2 -5.2l-4.7 0.4l4.4 9.7l2.6 1.3zM1602.4 936.1l-3.2 -2.2l-6.3 4.3l0.3 1.7l6.1 6l2.1 -1.3zM1698.1 940.4l-0.4 1.2l6 6.4l5.1 -5.8l-0.6 -4.7l-2.7 -0.8zM1855.7 948.5l7.4 -4.3l-0.6 -4.1l-3.7 -1.5l-3.6 2.1l-0.7 6.3zM1872.8 937.7l-0.6 -0.4l-3.7 2.2l0.7 4.6l3.3 2.4l4.4 -0.6zM1879.3 937.3l3.5 6.9l2.5 -2.5l1.5 -3.7l-2.5 -2.3zM2003 939l4.4 6.8l6.4 -0.9l-3.9 -10.9l-7.2 3.9zM2015.9 933l3.9 10.8l2.4 -1.1l3.1 -8l-2.3 -2.9zM2030.8 937.1l-2.5 6.5l9.3 5.3l2.7 -3.3l0.7 -5.7l-7.2 -3zM1864.4 959.8l0.2 -0.1l3.5 -8.9l-1.9 -1.4l-8.2 4.7l0.1 1.3zM1880.6 951.4l-6.7 1l-2.9 7.5l7.5 1.6l4.3 -4.6zM1869 973.6l7.7 -6.3l-0 -0l-9.5 -2.1l-0.5 0.2l-0.2 1.5zM2015.2 967.2l9.5 0.8l1.4 -1.7l-5.8 -4.5l-4.9 3.5z" fill="#772a78" stroke="#772a78" stroke-width="5" stroke-linejoin="round"/>
<path d="M1565.2 426.9l-5.6 -2.8l-4.6 1.7l-0 1.1l3.8 5.3zM1659.9 430.3l4.6 3.7l5.5 -2.3l-0.9 -5l-5.5 -1.7l-3.2 1zM1682.8 422.5l-7.7 3.7l0.9 5.3l5.5 2.7l4 -3.2l-2.2 -8.1zM1689.5 422.6l1.9 7.2l3.5 1.3l6.6 -1.6l3.6 -8.3l-9.5 -2zM1707.2 431.4l4.2 4.6l4.6 -2.7l-0.1 -7.6l-5.1 -2.7zM1725.6 426.2l-3.7 0.4l0.1 6.1l3 1l3.9 -4.8l-0.3 -1.2zM1741.7 419.5l-7.2 7l0.3 1.2l3.6 2.3l9.1 -4.1zM1755.9 432.5l8.1 0.5l-4.1 -8.5l-0.6 -0l-5.5 2.8l0 0.1zM1771.5 420.4l-5.6 2.7l3.4 7.2l5.5 -4.4l-0.1 -4.1zM1925.2 426.9l-3.7 -4l-5.4 1.6l-1.5 4.6l5.7 3.1l5.4 -4zM2030.7 431.7l1.1 -0.5l3.8 -7.8l-5.7 -3.8l-5.5 5.3l-0.1 0.6zM2045.9 434l2.7 -3.4l-0.2 -3.9l-3.3 -1.9l-3.7 0.4l-3.1 6.5zM1569.1 431.5l-7.7 6.3l0.5 4.9l4.4 1.1l3 -1.6l-0 -10.5zM1575.3 433.3l-0 8.2l1.9 0.4l6.5 -3.7l-2.5 -5.6zM1593.7 440.3l2.3 3.3l5.3 -1l-0.6 -8.8l-0.1 -0.1zM1617.3 438.5l-8.1 -4.2l-2.4 0.3l0.6 8.8l3 2l7.5 -3.1zM1634.4 441.8l1.7 -8.2l-0.3 -0.5l-9.9 0.2l-2.7 4l0.8 5.3l1.7 1.2zM1643.9 445.3l3.6 -1.3l2.1 -7.1l-7.9 -0.6l-1.4 6.6zM1656.2 436l-2.7 8.8l3.4 1.8l4.6 -6.2l-0.2 -1.2l-4.5 -3.7zM1667.5 439.4l7.7 6.1l2.1 -1.5l1.1 -4.7l-5.1 -2.4l-5.9 2.4zM1692 436.4l-2.5 -0.9l-4.9 3.9l-1.2 4.9l5.5 3.3l4.1 -2.6zM1702.6 435.4l-4.5 1.1l0.9 8.1l4 2.4l4.1 -7zM1719.4 438.2l-3.5 2.1l4.7 4.7l3.5 -2.8l-0.6 -2.7zM1729.3 437.9l0.7 3.2l2.9 1.1l3.5 -1.3l-1 -5.7l-2.5 -1.6zM1748 442.7l2.7 -7.3l-1.6 -3.6l-7.6 3.4l1 5.7l4.9 2.5zM1767.1 444.5l-1.7 -5.4l-9.5 -0.6l-1.3 3.6zM1929.3 432.9l-5.7 4.4l-0.1 4.2l8.4 1l1.5 -1.3l0.3 -5.4zM1572.8 447.1l-2.8 1.6l0.5 4.4l7.9 6.2l2.6 -1.9l-5.3 -9.7zM1586.7 455.4l3.1 0.2l1.7 -8l-3.4 -4.9l-6.4 3.5zM1605.1 455.1l1.5 -5l-2.7 -1.8l-6.7 1.2l-1.1 5.2zM1620.6 461.1l2.4 -3.5l-0.9 -8.9l-1.3 -1.1l-8.3 3.5l-1.3 4.7zM1640.5 450.2l-4.1 -2.7l-8.2 1.9l0.7 6.6l6.5 1.9l4.9 -2.5zM1646.5 450.8l-0.2 5.2l2 1.8l7.5 -4.4l-0.3 -0.7l-5.8 -3.2zM1665.3 445.4l-4.1 5.5l0.8 1.7l4.6 3.2l3.1 -0.6l1.9 -4.9zM1707.3 451.5l0.5 2l2.2 1.7l7 -3.1l0.3 -2l-5.8 -5.8zM1727.9 446.7l-4.7 3.9l-0.2 2.2l6.2 4.8l0.5 -0.1l0.2 -10zM1745 448.9l-5.5 -2.8l-3.6 1.4l-0.2 10.1l5.5 1.4l3.9 -3.2zM1764.6 450.1l-13 -2.5l-0.7 0.7l0.2 6.7l8.3 2.7l2 -0.7zM1778.5 457.8l-3.3 -7.8l-3.5 -0.6l-0.3 0.3l-4 8.7l6.2 4.3zM1562.8 468.2l4 1.3l7.9 -5.1l0.1 -0.3l-6.4 -5zM1585.8 461.3l-4.9 3.6l-0.3 0.8l5 5.9l5.9 0.2l-2.7 -10.3zM1755.6 472.4l0.7 -9.4l-7.5 -2.5l-3.7 3.1l0.3 5l3.5 3.7zM1763.2 462.8l-0.9 0.3l-0.8 11.2l0.5 0.6l9.9 -3l-0.6 -3.6zM1580.2 474.6l-3.6 -4.3l-5.4 3.6l3.3 6.3l1.1 -0zM1593.4 477.9l-7.9 -0.3l-4.1 5l7.6 5.5l4.8 -5zM1616.3 473.5l3.4 9.8l2.1 -1.4l4 -6.4l-4.7 -6.8zM1724.3 476.7l-0.2 7.5l3.1 3.6l4.1 -5.8l-0.3 -2.3zM1743.2 482.5l1.2 -6.2l-2.1 -2.2l-5.4 4.7l0.3 1.7zM1749.2 483.1l8.6 -0.9l0.2 -2.8l-0.9 -1l-7 -0zM1763.6 484.5l0.1 0.1l7.6 4l4.7 -7l-1.2 -4.1l-0.1 -0.1l-10.8 3.2zM1597.7 487.8l-5.5 5.7l-0.6 3.2l2.3 1.3l10.6 -3.2l0.3 -3.9zM1711.4 489.9l-0.7 3.5l9.2 1.8l3.5 -2.6l-3.5 -4.1zM1731.4 492.3l3.6 2.7l7.4 -3l0.1 -3.5l-6.9 -2.2zM1756.9 488.4l-8.4 0.8l-0.2 3.4l1.7 1.2l4 -0.3zM1762.5 490.7l-3 5.2l3.7 4.1l6.9 -2.9l-0.5 -2.6zM2025.4 484.4l-3.3 6.7l0.5 1.4l3.9 -0l3.6 -7.7zM1623.4 502.6l-11.5 2.4l-0.5 2.1l11.9 2.1l0.2 -0.1zM1654.7 500.8l-3.9 -2.8l-5.6 5.3l0.2 7l3.9 1.4l4.3 -2.3zM1695.8 510.9l6.2 -2.2l1 -9.7l-7.4 -1.6l-4.2 3.8zM1708 509.1l9.1 -0.5l0.4 -7.7l-8.5 -1.7zM1723.8 510.7l8.6 -3.5l-0.7 -7.2l-4.2 -3l-3.9 3l-0.6 10.1zM1746 498.3l-1.2 -0.9l-7 2.9l0.7 7.2l0.2 0.2l7 -1.1zM1754.5 499.4l-2.5 0.2l-0.3 7.9l4.7 3l2.5 -6.3zM1774.1 503.2l-1.1 -0.8l-8.3 3.4l-2.2 5.7l5.5 1.7l7.3 -5.5zM1614.2 519.9l4.1 -5.5l-9.9 -1.7l-0.5 0.4l0 7.9l2.2 0.9zM1726.7 519.5l10 2.6l-1.4 -9.5l-0.1 -0.1l-8.8 3.6zM1743 523.1l0.4 0l8.7 -4.3l1 -3.2l-5.2 -3.3l-6.5 1zM1759.1 516.7l-1.2 3.7l5.7 8.5l3.9 -6.2l-1.3 -3.8zM1977.9 510.3l-7.4 5.5l0.8 7l4.7 0.8l3.9 -1.4l2.2 -7.6zM1990.7 528.2l5.7 -4.5l-2.5 -7.4l-2.6 -1l-3.5 0.9l-2.1 7.4zM2011 517.4l-3.9 -2.4l-6.8 1.4l1.9 5.7l5.5 1l3.5 -4.9zM1603.3 527.4l-2.1 5.4l5 5.6l5.6 -3.5l-3.8 -7.4l-2.9 -1.2zM1722.6 529.8l0.7 1.9l4.6 3.3l5.2 -1.7l2.6 -5.2l-10.5 -2.8zM1741.9 529l-3.1 6.2l5.6 5.7l3.4 -2.7l-5.6 -9.1zM1753.4 535.8l4.8 -0.1l2.1 -1l-6.7 -9.9l-5.4 2.6zM2000.7 527.9l-5.2 4.2l2.4 2.5l8.4 -3.3l-0.2 -2.3zM2015.4 522.7l-3.4 4.6l0.4 4.7l3.5 4.1l6.5 -1.2l1.4 -8.2zM1724 544.8l0.3 -5l-3.1 -2.2l-7.1 7.6l2 1.7zM1740.9 545.9l-6.6 -6.7l-4.1 1.4l-0.3 5.7l3.8 5.2l7 -3.8zM1746.9 546.5l-0.3 1.9l4.8 3.8l2.3 -0.9l1.7 -9.5l-2.6 0.1zM1759.8 551.4l2.2 0.6l4.1 -2.3l-2.6 -9.9l-1.9 0.9zM1976.1 542.7l-1.6 1.6l0.1 4.4l1.3 1.7l7.1 -1.5l-1.5 -5zM1987.1 541.7l2 6.7l5.3 -3.1l-0.2 -5.9l-3.6 -3.8zM2033.4 544.7l-0.2 3.8l3.3 1.9l8.6 -1.4l-1.3 -3.9l-5.7 -1.9zM1639.6 552.9l-5.3 -1.7l-4.1 6.4l1 4l3.3 1.2l3.2 -1.9zM1728.6 559.6l0.9 -3.6l-3.8 -5.4l-7.2 1.9l0.5 7.3zM1743.1 553.2l-7.7 4.2l-1 3.8l4.1 2.8l9.1 -2.7l0.2 -4.2zM1977.2 556.3l-0.5 2.2l9.1 7.8l2.8 -2.9l-2.1 -9.2zM2005.5 561.8l0.6 -8.1l-8.4 -3.3l-5.2 3l1.8 8.2l8.1 1zM1621.7 572.6l6.5 5.1l6 -2.1l-1.9 -7.2l-3.2 -1.2zM1640.2 574.8l6.9 -1.3l0.2 -5l-6.7 -2.4l-2.3 1.5zM1732.5 567.2l-3.6 10.8l2.8 1l5.6 -2.9l-1.9 -7zM1747.8 578l4.4 -4.4l0.5 -3.1l-3.2 -3.5l-7.9 2.3l1.8 6.3zM1965.7 565.8l-5.7 -1.4l-4 3.6l0.1 1.7l5.5 4.1l3.9 -1.4zM1973.3 563.5l-1.6 1.4l-0.2 7.9l2.5 1.4l8.6 -2.7zM1993 567.5l-4.3 4.4l-0.3 1.4l3 4.8l4.8 -0.9l2.6 -9zM2005.1 568.1l-3 10l2.7 1.1l3.6 -5.2l-2.1 -6.2zM1629.7 588.3l4.3 2.8l3.4 -2.2l-1.1 -7.7l-6 2.1zM1654.4 583.1l-5.1 -4l-7.1 1.5l1.1 7.4l5.7 1.7l5.2 -5.3zM1746.2 588.9l-0.6 -5.3l-4.8 -2.6l-5.4 2.9l0.4 2l8.1 3.8zM1941.4 586l-1.6 -3.3l-4.6 -2.1l-2 0.7l-1.6 10l5.5 2.1zM1952.5 585.8l4 -1.9l1.2 -5.5l-4.4 -3.3l-7.6 6.1l1.2 2.5zM1967.7 588.6l2.9 -2.7l0.1 -6.7l-2.5 -1.3l-4.6 1.6l-1.1 5.2zM1976.6 585l7 2.3l3.1 -3.4l0.2 -1.8l-3 -4.7l-7.2 2.2zM1992.7 584l-0 0l7.4 6.5l3.9 -2.9l-0.6 -2.5l-5.2 -2.2zM2009.1 583.5l0.9 3.1l6 2.5l2.6 -8.4l-5.8 -2.5zM2035.7 588.4l-0.3 -2.8l-6 -6.9l-4.6 2.4l-2.7 8.6l5.7 1.9zM1647.8 599.9l-0.7 -4.5l-6 -1.8l-4.3 2.8l-0.2 3l8.4 3.4zM1677.2 594.2l-5.9 3.7l-0.4 1.4l4.5 6.5l2.2 -0.5zM1692.5 600.9l-0 -2.9l-6 -4l-3.3 0.5l0.4 10.7l3.8 0.9zM1930.8 602.3l3.6 -3.5l-5.9 -2.3l-1.6 0.9l-0.2 1.7zM1941.8 597.2l6.4 6.4l2.6 -1.3l-1 -11.1l-3.7 -1.4zM1956.7 601.4l3.6 0.4l4.9 -3.7l-0.1 -4l-6.3 -4.6l-3 1.4zM1971.2 597.5l9.3 3.5l0.5 -0.2l0.4 -7.9l-7 -2.3l-3.4 3.2zM1987 600.3l3.8 0.9l5.2 -3.1l0.6 -2.6l-6.9 -6.1l-2.3 2.5zM2007.9 592.3l-5.3 3.8l-0.5 2.5l5.3 3.3l4.5 -2.1l1.1 -5.4zM2019 595l-1.2 6l3.5 3.8l3.8 -2.3l-0.1 -5.5zM2040.4 603.2l-1.1 -8.1l-1.2 -1.2l-7.1 2.9l0.1 5.5l6.7 3.4zM1567.1 607.4l1.9 8.2l9.5 -5.7l0.5 -2.7l-5.6 -2.9zM1649.9 615.8l6.5 -4.2l-0.5 -5.2l-4.3 -1.9l-3 3.1l-0.5 7.4zM1668.8 614.2l1.9 -4.6l-4 -5.8l-4.8 2.3l0.5 5zM1674.7 615.5l6.8 4.1l4.6 -2.5l-0.5 -5.3l-4.9 -1.2l-4.4 1.2zM1921.1 608.8l0.5 2.5l5.6 3.5l1.3 -0.1l-0.4 -6.9l-4 -3.1zM1934.6 615.4l2.4 1l5 -3l2.1 -5.5l-5.2 -5.1l-4.8 4.6zM1953.9 618.2l7.8 -2.7l-2.8 -7.8l-4.4 -0.6l-4.5 2.3l-1.9 4.9zM1971.3 617.7l3.8 -2.3l2.1 -9.2l-8.4 -3.2l-4.1 3l3.3 9.5zM1981.3 615.6l4 1.8l6.3 -3.9l-2.5 -6.6l-4.8 -1.1l-0.9 0.5zM1997.6 612.6l5 2.6l0.4 -0.1l1 -8.2l-5.4 -3.4l-3.6 2.2zM2013.8 605.5l-3.9 1.8l-0.9 8.1l4 1.4l4.7 -2.5l0.1 -4.5zM2034.8 610.9l-6.6 -3.3l-4.4 2.7l-0.1 3.9l6.8 3l3.2 -1.8zM2044.3 607.8l-3.3 3.1l-1.2 5l6.4 4l3.1 -3.9l-2.4 -7.3zM1574.2 624.1l10.7 0.2l-4.8 -8.4l-7.7 4.7zM1591.3 625.3l4.2 2.1l8.1 -3.4l-0.1 -4.1l-6 -1.6zM1665.3 619.2l-5.5 -2.7l-5.9 3.9l3.3 7.3l6 -3.3zM1671.2 620.4l-2 5.1l7.3 5.1l0.9 -0.4l0.8 -5.6zM1689 633.4l2.3 -2.8l0.2 -6.9l-2.3 -1.5l-5 2.8l-0.8 5.5zM1708.5 626.3l-1.5 -3.5l-1.3 -0.6l-8.2 2.2l-0.1 4.8l6.8 1.4zM1901.7 619.9l-3.9 2.1l0 3.6l5 4l5.7 -2.9l-2 -5.3zM1912.5 620.3l2.2 5.9l2.4 1.4l5.2 -8.8l-3.4 -2.2zM1928.1 620.7l-4.8 8.3l10.8 1.4l0.8 -1.2l-0.5 -7.3l-3.2 -1.3zM1950.8 623.3l-6.4 -4.3l-4 2.4l0.5 6.6l9.5 4.1l1.7 -1zM1958 629.9l9 -7.8l-2 -1.4l-8.1 2.8zM1974.4 622.8l2.2 5.2l8.4 -0.6l-1.7 -4.3l-5.3 -2.4zM1989.3 622l1.4 3.6l6.3 -1.7l1.6 -4l-3.2 -1.7zM2006.3 633.6l5.1 -3.4l-1 -7.9l-4.7 -1.8l-1.1 0.4l-2.1 5.3zM2016.4 621.8l1 7.7l5.3 2.1l4 -2.1l0.8 -7.1l-6.7 -3zM2043.3 625.2l-7 -4.4l-2.8 1.6l-0.8 7.5l5.9 3.9zM1659.2 633.5l0.2 0.8l5.5 5.6l6.5 -2.5l1 -2.3l-7 -5zM1906.7 640.8l7.8 -2.6l0.4 -5l-2.7 -1.6l-6.5 3.2zM1920.8 634.7l-0.4 4.5l1.2 1.1l9.8 -1.6l0.5 -2.6zM1937.2 640.7l2.6 4.5l7.2 -5.2l0.4 -2.7l-8.4 -3.5l-0.7 1zM1962.1 642l-5 -6l-1.2 -0.2l-2.5 1.5l-0.4 3.3l2.6 2.6zM1969.2 641.1l1.6 -0.7l0.8 -8.8l-1.7 -4l-7 6zM1976.8 640.4l5.6 1.9l4 -1.4l-0.6 -7.5l-8.4 0.6zM1991.7 631.5l0.7 9.3l3 1l5.9 -2.1l0.6 -1.5l-4.2 -8.3zM2007.2 641.3l6.3 5.7l6.1 -7.4l0.2 -2.7l-4.8 -1.9l-7.3 5zM2029.3 634.9l-3.5 1.9l-0.2 2.6l4.9 4.3l4.7 -5zM2043.6 637.3l0.9 0.7l7 -0.8l1.4 -5.7l-4.7 -2.9zM1692.4 647.2l-2.9 -3.9l-7.3 5.2l0.1 3.9l2.2 0.3l7.9 -4.6zM1880.6 651.9l4.8 3.7l3.3 -0.5l2.4 -8.2l-5 -3.3zM1900.3 660.4l3.7 -3.9l-2.2 -8.4l-4.9 0.3l-2.3 8.1zM1907.7 646.8l2 7.9l5.5 0.9l3.3 -1.7l-0.8 -9l-1.2 -1.1zM1923.8 646l0.7 7.5l5.3 1.9l6 -3.3l0 -1.7l-3.3 -5.8zM1945.6 655l4.7 -0.1l1.1 -7.4l-1.9 -1.9l-7.7 5.6l-0 1.1zM1964.9 647.6l-7.6 1.4l-1.2 7.1l4.5 2.3l2.5 -2.7zM1971.3 646.7l-1.9 8.1l8.8 1.6l0.6 -0.6l0.5 -8.2l-5.6 -1.9zM1989.6 646.2l-4.3 1.4l-0.4 7.6l5.9 2.6l2 -5.3l-0.3 -5.3zM1998.5 647.1l0.3 4.1l9.3 5.8l2.2 -4.8l-7.3 -6.7zM2018.7 650.1l3.8 1.4l5.2 -1.3l0 -1l-4.8 -4.2zM2037.8 655l3.6 -1.1l-0.6 -11.2l-0.7 -0.5l-6.4 7l-0.1 2.1zM1681.7 671.6l6.4 -3l-4.9 -10.1l-3.2 -0.4l-2.5 1.6l0.6 9.6zM1700.4 658l-5.2 -4.6l-6.1 3.6l5 10.2l3.3 0.3l1.7 -1.1zM1757.5 660.2l-1.7 1.8l-1.7 5.5l2.6 3.8l7.5 -4.9l-2.1 -3.4zM1768.2 661.4l2.2 3.4l0.7 0.3l7 -4.1l0.2 -1l-5.2 -2.5zM1795 661.9l-10.9 -0.2l-0.1 0.4l4.8 5.7l6.7 -1.7zM1811.6 667.2l5.2 6.9l4.7 -5.5l-2.6 -7.1l-4.3 0.5zM1849.2 659.3l-6.8 1.7l-1.6 6.3l8.9 1.6zM1855.7 668.9l6.5 0.1l2.8 -4.9l-0 -4.7l-2.8 -1.5l-7.1 0.8zM1880.4 666.7l1 -6.6l-4.8 -3.8l-5.6 3.1l-0 3.4zM1886.5 666.3l7.1 2.2l2.6 -3.6l-5.8 -3.9l-3.2 0.4zM1911.5 671.4l2.8 -1l-1.2 -9.1l-4.7 -0.7l-3.3 3.5zM1920.3 670.2l2.1 0.8l4.5 -5.3l0.2 -5l-5.2 -1.8l-2.9 1.5zM1940.8 668.3l0.8 -8.8l-3 -2.1l-5.5 3l-0.1 4.8l6.5 4.1zM1946.8 667.7l7.9 3l3.4 -6.8l-6 -3.1l-4.6 0.2zM1965.1 662.4l8 5.5l2.8 -0.4l0.2 -5.4l-9.2 -1.7zM1982.4 660.7l-0.3 0.3l-0.2 7.7l0.3 0.2l8.5 -2.5l-0.7 -2.4zM1997.3 657.4l-1.7 4.5l1.4 4.5l2.8 1.8l6.4 -4.1l0.1 -1.1zM2012.4 662.2l-0.2 1.9l3.9 1.9l4.8 -0.4l-1.2 -8.7l-4.2 -1.6zM2033.5 659.2l-3.8 -3.4l-4 1.1l1.3 9.3l0.9 0.4l3.8 -3zM2039.3 660.8l-1.4 3.6l5.6 4l3.7 -3.5l-2.8 -5.6zM1424.3 677.1l4.4 4.2l7.8 -1.9l-1.5 -6.4l-0.2 -0.1zM1445.1 681.7l5.9 -3l2.5 -7.4l-8 -5.5l-4.7 5.4l2 8.7zM1460.8 671.9l-1.4 0.5l-2.4 7.2l5.4 3.5l4.9 -1.9zM1768.7 670.6l-9.7 6.4l0.1 2.2l5.7 3.6l5.8 -2.5zM1780.1 666.8l-5.4 3.1l1.9 10l3 1l2.8 -1.6l2 -7.4zM1798.3 681.3l-2.6 -9l-5.5 1.3l-1.6 5.6l8.8 2.7zM1801.4 670.3l2.7 9.4l5.6 0.3l2.4 -2.1l-5.6 -7.5zM1821.6 677.8l6.8 6.2l5.5 -2.6l-0.7 -8.2l-7 -0.8zM1839.2 673.1l0.7 8.4l2.4 1.5l6 -5.2l0.5 -3zM1854.8 674.9l-0.5 3.5l4.3 4.5l4.1 -6.6l-0.6 -1.3zM1877.7 672.1l-8.4 -3.5l-1.9 3.5l1.1 2.3l7.4 4.4l0.7 -0.2zM1883.9 671.7l-0.1 0.1l-1.1 7.1l6.4 2.6l2.6 -0.9l0.1 -6.4zM1901 668.5l-3.2 4.5l-0.1 7.9l1.5 0.7l6.6 -3l1.3 -3.1zM1912.9 677.3l-1.1 2.7l6.5 5.5l4.6 -3.6l-1.9 -5.1l-3.5 -1.2zM1930.5 670.8l-3.8 4.3l2.1 5.4l1.8 0.6l5.6 -2.9l0.4 -3.6zM1944.3 673.2l-1.7 1.4l-0.4 3.8l4.8 2.6l6.4 -3.3l-0.1 -1.2zM1968.8 672.2l-6.1 -4.2l-3.5 7l0.2 3l3.2 2.6l3.8 -1.6zM1978.7 673.8l-0.6 -0.5l-3.5 0.4l-2.1 5.8l5.4 2.1l1.1 -0.8zM1997 675.6l-0.1 -2.1l-2.9 -1.8l-9.2 2.6l0.2 6l4.9 2zM2003 675.7l6.9 7.7l3.3 -1.2l-0.6 -11.2l-3.3 -1.7l-6.4 4.1zM2019.2 681.7l2.1 0.4l5.4 -4.1l-1 -5.8l-1.9 -0.8l-5.1 0.4zM2034.3 669.2l-2.7 2.1l1 6.1l3.3 1.6l4.9 -1.5l-0.1 -3.7zM2046.7 673.5l0.1 4.3l4.1 2l11.3 -5.2l-10.8 -5.4zM1415.4 686.5l0.5 4.5l7.3 1l1.3 -6.4l-4.2 -4zM1441.7 686.6l-2.3 -1.7l-9.1 2.2l-1.6 7.5l0.3 0.4l8.7 0.4l3.9 -6.1zM1458.8 695.4l0.3 -7.4l-5.8 -3.7l-5.6 2.8l-0.1 1.6l10.1 7zM1471.5 686l-6.5 2.5l-0.1 4.9l6.4 -2zM1486.1 692.7l-0.4 -4.6l-6.1 -4.1l-2 0.9l-0.4 7.7l3.9 5.1zM1635.3 697.8l4 -3l-3.7 -8.2l-7.5 4.3l0.4 2.8zM1739.3 693.9l4.3 -4.2l0.5 -2.4l-7.8 0.3zM1756 684.3l-5.9 3.3l-0.4 2.3l8.9 6.8l2.1 -2.1l0.7 -6.9zM1774.1 685.4l-6.8 2.8l-0.5 5.9l8.8 3.8l3.4 -2.2l-1.7 -9.2zM1794.6 687.3l-9.3 -2.8l-2 1.2l1.7 9.3l3.2 1.4l5.6 -3.8zM1808.2 685.9l-5.6 -0.3l-1.9 1.4l-0.9 5.9l2.4 1.4l7 -1.8zM1816.9 681.6l-2.9 2.6l1.4 9.2l1.6 1.8l7.1 -2.8l0.5 -3.7zM1840.9 691.6l-0.9 -2.9l-3.2 -2.1l-6.2 2.9l-0.6 3.9l0.9 0.8zM1850.8 683.5l-4.8 4.2l1.4 4.4l1.4 1.5l7.5 -2.2l-0.2 -2.3zM1862.1 688.6l0.2 3.2l3.6 1.8l2.3 -0.3l3.7 -9.9l-4.8 -2.8zM1879.2 684l-1.3 0.5l-3.9 10.4l2.5 1.7l7.8 -6.1l1.1 -4zM1894.5 686.1l-3.1 0.9l-1.2 4.6l4.5 6l4.4 -2.7l-2.4 -7.8zM1914.2 693l0.6 -2.5l-7.2 -6.2l-4.8 2.3l2.4 7.7l1.9 1zM1920.3 694.6l10.6 -0.6l-2.4 -7.3l-1.4 -0.4l-6.3 4.8l-0.8 3.3zM1938.9 696.5l4.6 -3l0.4 -7.3l-4.9 -2.7l-4.5 2.3l3.1 9.3zM1954.5 694.3l5.1 -4.5l-0.4 -4.2l-3 -2.6l-6.3 3.3l-0.3 6.6zM1968.8 684.5l-3.5 1.5l0.3 3.4l6.1 4l2 -0.7l1.1 -5.9zM1982.4 685.7l-1.4 1l-1.3 6.6l4.1 2.1l4.8 -2.2l-0.8 -5.3zM1999.8 681.2l-6 5.7l0.8 6.2l5.5 2.9l4 -1.9l1.6 -6.3zM2011.5 689.2l-1.4 5.8l4.2 2.8l7.1 -4.3l-1.7 -5.6l-3.1 -0.6zM2032.8 684.1l-2.6 -1.2l-4.7 3.5l1.9 6.4l0.5 0.3l5.6 -2.2zM2043.6 682.9l-4.8 1.4l0.7 6.9l4.7 3.2l2.1 -2.4l1.3 -7.2zM1453.1 699.7l-7.7 -5.2l-2.8 4.3l1.4 4l7 0.3zM1459.1 713.4l5 -6.8l-3.7 -5.4l-1.4 0.3l-3 4.9zM1466.3 699.3l3.1 4.4l7.2 0.3l0.8 -0.8l0.1 -0.3l-4.4 -5.8zM1483.8 703.3l6 3.2l7.5 -2.7l0.3 -2.1l-7.9 -4.1zM1533.3 697.8l-3.1 1.8l1.5 5.3l4.7 2.8l5.4 -3.2l-0.3 -3.7zM1631.3 707.8l0.8 -4.9l-6 -3.6l-5.9 5.4l-0.2 2.9l8.4 1.4zM1733.5 710.8l9.8 -2.4l0.1 -0.1l-4.9 -8.1l-0.3 -0l-8.6 4.8l-0.4 1.6zM1746.7 695.1l-2.7 2.6l4.1 6.8l7.2 -2.8zM1761.4 702.2l-0.3 1.3l2.5 4.1l8.5 -2.7l0.4 -1.8l-8.3 -3.5zM1781.1 713.3l6 -7.9l-1.1 -3.4l-3.4 -1.5l-4 2.6l-0.7 3.7zM1793 703.9l3.5 2l3.2 -1.4l-0.8 -5.2l-2.2 -1.4l-4.7 3.1zM1812.6 703.9l0.4 -4.1l-1.5 -1.7l-6.4 1.7l0.6 4.3l4.7 1.6zM1818.6 703.9l5.3 3.2l4.7 -3.3l-1.2 -4.7l-1.2 -1.1l-7.3 2.9zM1841.5 706.2l1.6 -0.6l1.5 -7.7l-0.8 -0.8l-10 2.6l0.7 3.2zM1852.1 709.1l7.8 -4l1.9 -6.8l-2.7 -1.4l-8.6 2.4l-1.5 7.3zM1875.2 704.1l-0.9 -1.8l-4.6 -3.1l-2 0.3l-2 7l3 3.5zM1900.5 710.7l3.8 -4.1l-0.4 -6.2l-1.1 -0.6l-6.6 3.8l-0.3 0.5zM1910.2 705.6l6.5 2.8l2 -0.9l-2.3 -8.3l-0.5 -0.5l-6 2zM1923 700.5l1.8 6.4l1.2 0.4l9.2 -6l-1.4 -1.5zM1953.8 704l-1 -3.9l-5.9 -1.7l-5.6 3.7l-0 0.1l5.5 7.7zM1959.8 703l6.2 3l1.9 -7.9l-4.9 -3.2l-4.3 3.8zM1976.1 698.2l-2.3 0.8l-2 8.5l4.7 2.4l3.8 -4.1l0.3 -5.3zM1996.6 701l-4.8 -2.7l-5.2 2.4l-0.2 4.2l8.3 2.5l0.8 -0.5zM2002.6 701.4l-1.1 6.3l5.5 4.7l6.7 -3.2l-2 -5.9l-5.3 -3.6zM2017.8 702.7l2 5.9l1.2 0.6l6.1 -1.4l-2 -9.5l-0.1 -0zM2033.2 707.7l0.5 0.2l8.1 -6.6l-0 -1.3l-5.5 -3.8l-5.1 2zM1474.6 709.9l-5.4 -0.2l-4.3 5.9l6.5 3.8l3 -1zM1480.6 708.5l-0.2 10.4l3.2 2l3.8 -0.8l-0.7 -8.4zM1493.4 720.4l2.4 0.9l2.1 -1.2l2.8 -7.1l-1.9 -3.3l-6 2.1zM1504.1 720.6l7.6 3.5l4 -6l-2.6 -2.4l-7 0zM1735.7 718.2l6.7 4.4l3.9 -2.2l-2.6 -5.9l-8.1 2zM1756.6 707.7l-7.6 2.8l-0.2 0.5l3.5 8.2l3 1l4 -3.3l-0 -4.9zM1773.9 718.9l2.3 -1.9l-3 -6.1l-7.9 2.5l-0 2.7zM1788.8 718.9l5.6 -2.1l-0.8 -5.7l-2.3 -1.3l-5.4 7.2zM1805.9 719.6l0.3 -0.1l1.4 -8.5l-4.5 -1.5l-3.5 1.6l0.8 5.7zM1812.1 720.7l4.1 2.6l6.6 -3.8l-1.5 -6.9l-5.7 -3.5l-1.9 1.6zM1828.4 717.3l6.4 -2.1l2.4 -4.4l-4.9 -2.3l-5 3.5zM1849.8 716.8l-0.7 -2.4l-3.9 -3.2l-1.7 0.6l-3.1 5.6l3.8 5.4zM1855.8 715.7l5.4 4l4.1 -2.1l0.1 -2.2l-3.7 -4.5l-6.4 3.3zM1879 708.7l-7.6 7l-0.1 1.9l3.5 1.7l5.8 -2.7l-1.1 -7.6zM1896.4 715.5l-5.2 -7.7l-5.6 1.7l1 7l4.8 2.9zM1904.1 715.6l6.8 4.6l2.2 -6.8l-5 -2.1zM1919.2 713.9l-2.1 6.8l6.9 0.8l1.6 -2.3l-1.7 -6.3l-1.5 -0.5zM1957.7 708.6l-8.4 7l0.1 1.5l1.2 0.7l9.3 -2.4l2.5 -4.5zM1968.4 712.5l-3 5.3l4.8 7.4l5.9 -5.2l-1.4 -4.3zM1981.7 717.7l7.7 -1.8l1.5 -3.3l-6.8 -2.1l-3.5 3.8zM2000.3 724.2l2.4 -2.4l0.6 -4.6l-5.4 -4.7l-0.5 0.3l-2.4 5.2zM1462.2 733.3l2.8 -1.5l2.5 -7.7l-7.5 -4.4l-0.9 0.2l-1.6 1.7l0.3 7.3zM1478.3 734.1l1.4 -8.5l-2.7 -1.7l-3.5 1.2l-2.2 6.8zM1490.4 725.6l-4.8 1l-1.3 8l8.9 1.1l0.6 -0.5l-0.6 -8.5zM1499.2 726.2l0.5 8l5.9 1.7l4.9 -4.3l-0.3 -1.6l-9.8 -4.5zM1520.5 721.7l-4.5 6.9l0.4 2.1l5 2.5l4.7 -0.8l-1.2 -7.9zM1540.4 725.1l-4.5 -3.5l-4.9 2.6l1.3 8.7l1 0.6l3.6 -1.7zM1553.5 730.5l-7.2 -3.7l-0 0l-3.2 6l8.5 4.5l2.1 -4.6zM1728.7 730.1l6.7 4.4l2.5 -1.9l1.1 -5.1l-5.5 -3.6zM1744.1 732.2l8.7 2.3l2.1 -0.9l-1.6 -7.7l-2.9 -1l-5.4 3.2zM1872.2 730.7l-0.3 -6.2l-3.6 -1.7l-4.6 2.3l-0.5 4.9l4.8 3.7zM1878.2 730.1l4.8 1.9l5.9 -3.6l-0.2 -3.6l-5 -3l-5.8 2.6zM1900.1 720.2l-5.4 4.2l0.2 4.3l4.9 4.4l7.1 -1.4l1.3 -6.1zM1928.6 725.3l1.1 5l2.4 2.1l3.6 -1l2.3 -7.2l-7.7 -1.2zM1944.4 723.7l-2.8 9.1l3.1 2.4l6.1 -5l-3 -7.1l-1.3 -0.8zM1958.6 729.8l6 -2.3l-4 -6.1l-6.3 1.7l2.5 5.8zM1979.3 725.2l-5.5 4.8l4 9.3l7.4 -5.1zM1996.8 729.4l-6.4 -7.6l-5.3 1.3l5.9 9l0.7 0l4.8 -1.4zM1476.1 743.8l0.7 -3.9l-9 -2.7l-3.4 1.7l-1 6.6l3.5 3.4zM1482.8 740.4l-0.7 4.2l3.5 3.1l4.7 -0.3l0.6 -5.9zM1499.1 752.4l6.3 -3.9l-1.6 -6.8l-6.2 -1.9l-0.6 0.5l-0.8 8.9zM1509.6 740.3l1.8 7.3l1 0.3l3.1 -0.6l2.1 -9.3l-3.4 -1.7zM1521.4 748.1l6.3 3l3.4 -3.7l-0.8 -8.7l-1.3 -0.7l-5.5 0.9zM1536.3 738.7l0.7 7.4l4.6 1.2l7.1 -4.7l-9.7 -5.2zM1616.3 740.3l4.5 8.4l7.1 -2.1l-2.5 -8.2l-7.4 -0.7l-1.7 1.2zM1706.3 736l-1.8 1.2l2 5.7l5.1 1.9l2.6 -2.4l0.2 -1.4zM1732.9 745.6l-0.2 -5.8l-7.2 -4.6l-5.1 5.5l-0.1 1.5l9.6 5.5l2.4 -1zM1865.4 746.2l-0.4 -7.3l-5.2 -4l-4.7 2.4l4.5 8.5l4.1 1.5zM1879.8 745.3l0.4 -8l-4.5 -1.7l-4.6 3.3l0.2 6.4l6.7 1.7zM1885.9 743.6l8.3 -0.1l1.4 -6.1l-4 -3.6l-5.4 3.3zM1937.6 747.3l5.1 -2.9l-0.7 -3.7l-4.6 -3.5l-3.5 0.9l-1.1 4.8zM1956.4 747.8l0.7 -0.4l-1.4 -12.4l-0.8 -0.4l-6.9 5.7l0.7 3.6zM1968.4 732.5l-6.7 2.6l1.2 10.7l9.7 -0.3l0.4 -0.2l0.3 -1.2zM1481.1 751.7l-2.6 -2.3l-8.7 4.8l0.6 3.2l3 2.6l5.3 -1.1zM1495.2 757l-3.4 -3.7l-5 0.3l-2.2 6.3l4.4 2.1zM1501.6 757.9l4.6 5.5l4.4 -2.7l-1.1 -7.4l-0.3 -0.1zM1518.4 760.9l5.4 -5.1l-6.2 -2.9l-2 0.5l1 6.7zM1531.8 755.5l5.1 8.9l6.3 -4.6l-3.2 -6.7l-4.8 -1.3zM1554.2 758.9l2.1 -0.7l0.5 -7.6l-3.8 -3.6l-7.1 4.6l3.2 6.5zM1562.3 758.3l9.4 -2l1.3 -6.8l-3 -1.4l-7.3 3.3zM1704.7 748.6l-7 5.8l0.3 2.8l4.6 1.9l6.4 -4.4l0.2 -4.4zM1715.3 749.7l-0.3 4.9l7 3.8l3.6 -6.3l-8.1 -4.6zM1727.3 761.2l7.4 1.8l4.7 -1.8l-6 -8.4l-1.6 0.6zM1878.6 758.8l-2 -5.9l-7.6 -1.9l-2.2 1.5l-1 5.2l7.5 5.7zM1889.7 759.2l2.6 -9.7l-8.4 0.1l-1.6 1.6l2.2 6.4l4.4 1.9zM1898.2 750.7l-2.2 8.2l9 1.5l0.1 -0.1l-0.2 -5.5zM1920.8 759.1l-2 -9.7l-2.6 -1.1l-5.4 5.9l0.3 5.1l4.3 1.1zM1929.1 760.1l3.5 -1.7l1.4 -6.3l-5.1 -4.7l-4 1.7l2 10.1zM1938.7 758.8l7.8 3.7l5.6 -3.7l1.1 -5.9l-7.1 -3.6l-6.2 3.6zM1976.5 751.2l-0.5 11.8l1.6 3l8.3 -4.1l-1.2 -6zM1499.5 775.1l3.4 -3.1l-0.3 -3.6l-4.8 -5.8l-5.3 4.3l0 2.5zM1508.8 771.1l8 2.6l0.7 -0.4l-1.2 -6.8l-2.2 -0.9l-5.4 3.3zM1523.4 772.3l4.6 0.6l3.9 -5.2l-4.2 -7.3l-5.5 5zM1695.5 762.7l-4.9 3.2l0.7 9l2.7 1.8l7.6 -8.5l-1.1 -3.5zM1718.3 769.4l1.7 -5.2l-7.9 -4.4l-5.6 3.9l1 3.3l4.6 3.3zM1892.6 764.5l-0.6 0.2l0.1 4.1l6.6 5.1l2.3 -0.7l1.3 -7.2zM1908.9 765l-0.4 0.2l-1.6 9.2l3.9 3.4l3.3 -1.8l-1.4 -10.1zM1926.1 765.3l-2.1 -0.8l-5.3 1.3l1.2 9l4.4 0.3l1.7 -1.6zM1932.1 765.3l-0.1 7.5l5.5 2.2l6.2 -5.4l0 -1.8l-8.4 -4zM1949.7 769.9l6.1 7.9l4 -2.6l-4.1 -10l-1.1 -0.9l-4.9 3.2zM1993.6 773.9l-3.5 -6.4l-0.9 -0.5l-10.3 5.1l-0 0.1l7.4 4zM2011.9 762.1l-0.3 7.9l4.2 1.6l3.5 -1.8l1.6 -3.8l-5.5 -5.3zM1502.3 780.6l-0.2 1.4l2.5 2.4l8.3 -1.1l0.8 -4.3l-7 -2.3zM1519.9 788.1l9.3 -4.4l-2 -4.9l-5.8 -0.7l-1.6 0.8l-1.2 6.7zM1535.5 783.3l2.1 1.8l3.7 -1.1l1 -7.9l-5.6 -4.8l-4 5.2zM1579.1 782.4l5.9 -0.4l4.1 -5.6l-8 -3.7l-4.3 4.3zM1595.3 778.1l-4.9 6.6l5.6 6.5l5.6 -4.2l-1.1 -5.4zM1681.6 782.6l4.1 5.8l6.1 -5.8l-3.7 -2.7zM1697.9 781.3l4.9 3.7l2.9 -1.6l2.2 -8.7l-2.5 -1.8zM1711.9 783.1l6.2 1.4l3.3 -2.7l0.3 -2.6l-2.5 -3.8l-5.5 0.8zM1907.5 782.9l-4.6 -4l-2.8 0.9l-3.1 5.2l5 3.5l5.5 -5.1zM1918 780.6l-4.5 2.7l-0 0.1l3 3.1l6.7 -0.1l-0.5 -5.4zM1929.4 787.5l7.5 -1.3l-1.3 -5.5l-5.9 -2.4l-1.1 1.1zM1941.5 779.5l1.8 7.2l0.2 0.1l8.2 -3.9l0.1 -0.5l-5.6 -7.1zM1961.8 789.6l7.7 -5.9l-0.4 -3.8l-4.8 -0.4l-6.6 4.2l-0.2 0.6zM1996.4 779.3l-7.6 2.4l-0.2 3l4.9 4.8l3.6 -4.2zM1508.2 795.7l6.7 0.9l0.5 -4.1l-1.7 -3.2l-6.5 0.8zM1576.6 790.4l-3 3.2l-0.6 4.5l1.6 2.9l6.4 -1.6zM1585.3 788l-3.1 0.2l5.2 10.6l1.3 0.3l3.4 -3.2zM1671.5 796l-1.5 -6.2l-2.3 -0l-7 5.4l0 0.7l2.9 2.9zM1681.7 796.9l0.5 -3.2l-5.1 -7.1l-1.4 1.2l1.9 7.7zM1694 797.1l5.7 -3.4l-0.1 -3.5l-3.9 -3l-7.6 7.2l-0.4 2.5zM1712.6 800.8l3.5 -1.4l-0.2 -9.2l-7.1 -1.7l-3.2 1.8l0.1 3.8zM1910.4 788.9l-5 4.7l0.1 4.2l1.3 0.4l4.9 -1.4l0.4 -6.2zM1924.6 792.4l-6.6 0.1l-0.3 4.9l3.8 2l2.4 -1.7zM1940.7 795.5l-0.3 -3.5l-0.4 -0.3l-9.5 1.6l-0.6 4.4l5.7 2.8zM1981.3 798.4l8.8 -2.6l0.3 -1l-5.6 -5.4l-4.6 2.2zM1667.2 810.8l3.6 2l9 -6.6l0.3 -3.5l-5 -1.7l-8.9 3.3zM1686.1 802.8l-0.4 3.8l4.6 4.4l3.5 -1l-1.4 -6.9zM1708.4 805.2l-6.1 -6.1l-4.1 2.5l1.7 8.1l2.1 0.7zM1831.8 811.5l8.3 3.5l2 -2.9l0.6 -5.6l-3.2 -3.6l-8 3.6zM1862 803.6l2.5 10.9l5.2 1.9l2.3 -2.4l1 -5.5l-5.4 -4.8zM1884.1 815l7.4 -7.3l-0 -0.1l-4.9 -2.7l-7.6 4.3l-0.8 4.1zM1907 810.2l-2.6 -6.5l-1.3 -0.4l-5.6 3.8l0 0.6l2.5 3.8zM1913.6 810.5l1.2 0.8l3.2 -1.3l0.6 -5.4l-4.4 -2.3l-3.5 1zM1934.2 811l-0.7 -4.9l-6.5 -3.2l-2.4 1.7l-0.6 6.1l5 3.5zM1974.3 805.6l-2.5 8.5l5.2 2.1l2.8 -3l-2.3 -8.4zM1682.9 824l2.4 -0.9l1 -7.6l-3.9 -3.8l-7.8 5.8l1.1 3zM1699.8 816l-2.5 -0.8l-5.1 1.5l-0.9 6.6l4.3 1.7l4.8 -1.4zM1709.7 825.6l4.6 -6.5l-4.2 -7.6l-4.4 3.5l0.7 8.9zM1846.2 816.7l-1.9 2.9l0.2 3.9l5.1 3.7l4.9 -7.6zM1875 819.5l7.4 8.2l3.7 -0.8l-3.2 -6l-7.2 -2.1zM1892.3 825.8l3.7 -3.7l-0.4 -6.4l-1.4 -2.2l-5.5 5.4zM1902 820.8l6.9 1.2l0.2 -0.1l1.8 -6l-0.4 -0.2l-8.8 1.5zM1925.8 822.3l0.1 -3l-5.5 -3.7l-3.5 1.3l-1.8 5.9l5.3 3.2zM1941.5 817.2l-3.7 -1.4l-5.9 3.7l-0.1 3.1l6.8 6.3l5.3 -4.7zM1965.1 820.9l6.3 7.6l3.9 -1.1l-0.4 -5.6l-6.5 -2.6zM1597 829.7l-2.9 8.3l4.2 4.1l3.1 -1.8l-2.8 -9.9zM1654.8 830.8l-0.8 5.4l8.5 3.7l1.4 -1.2l-0.7 -4.3zM1684.3 838.5l1.3 0.9l6.4 -3.5l0.3 -5.7l-4.3 -1.7l-2.5 1zM1703.4 840.7l1.8 -2l1.4 -7.9l-3.3 -1.8l-5 1.5l-0.3 5.8zM1823 830.9l-4.5 7.9l6.5 3.4l3.1 -2.5l-0.6 -6.2zM1833.5 833.3l0.5 5.7l6.5 3.1l5.3 -3.6l0.8 -6l-5.2 -3.9zM1852.4 833.9l-0.6 4.9l2.9 2.3l7.9 -5.5zM1871.5 824.6l-2.9 8.2l0.8 1.6l3.5 3.1l0.5 -0.2l4.1 -6zM1887.7 842.2l4.6 -4.1l-2 -5.9l-7.2 1.5l-3.3 4.9zM1904.9 835.2l1 -7.6l-5.8 -1.1l-4 4l1.7 5.3zM1911.9 827.8l-1.1 8.6l4.1 2.5l2.1 -0.8l0.4 -6.9zM1593.3 851.7l1.3 -4.9l-4.4 -4.2l-4.8 2.7l0 2zM1615.9 846.1l0.5 3.5l2.5 2.8l5.7 -2.1l1.3 -7l-5.3 -2.8zM1640.7 845.9l-4.3 -3.1l-4.5 1.3l-1.3 6.8l4.2 2.2l6.3 -5.3zM1646.7 845.4l0.4 1.9l5.5 4.2l4.9 -0.4l1.9 -6.1l-8.2 -3.4zM1671.6 853.2l-0.4 -8.9l-3.4 -1l-2.2 1.8l-2.4 7.9l0.9 1zM1685.3 851.3l-2.4 -6.4l-2.3 -1.7l-3.4 1l0.5 9.9l2.7 1.7zM1699 851l0.9 -0.4l0.6 -4.5l-5.9 -4.8l-5.5 3l1.9 5.2zM1705.9 851.1l4.7 2.7l5.8 -1.5l0.4 -5.8l-7.9 -3l-2.3 2.7zM1722.4 852.5l10.1 -2.7l0.3 -2.2l-7.3 -4.6l-2.6 2.8zM1742.8 844.3l-4 3.4l-0.4 3.7l2.3 3.6l5.1 -4l-1.3 -6.3zM1750.6 844.6l1.1 5.2l5.6 1.4l1.5 -2.7l-0.3 -4.2l-1.9 -1zM1804.5 843.7l-4 1.7l-2.6 7.1l6.5 2.3l2.4 -2.7l-2 -8.2zM1822 847.4l-8 -4.1l-2.9 0.8l1.5 6.5l7.1 2.2l1.4 -0.9zM1828.1 847.4l-0.9 4.7l3.8 2l6.9 -5.1l-0.1 -1.5l-6.2 -3zM1853.6 849.5l-1.4 -2.8l-3.7 -2.8l-4.7 3.2l0.1 2.3l4.6 6.1zM1865.8 849l1.5 -1.2l1.5 -5.9l-2.1 -1.9l-8.2 5.7l0.7 1.6zM1878 850.4l6.8 -1.7l0.1 -1.1l-9.7 -4.5l-0.5 0.1l-1.2 4.7zM1894 857.2l6.3 -3.3l-5.4 -10l-3.9 3.3l-0.4 3.3zM1620.7 862.3l3.5 1.7l8.2 -2.7l-0.1 -2.7l-5.2 -2.8l-6.2 2.3zM1684.9 859.8l8.1 6.5l2.6 -9.8l-5.9 -1.1zM1701.8 856.3l-3 11.6l4.1 1.9l4.6 -2.3l-0.3 -8.7l-4.8 -2.7zM1713.3 859.3l0.2 8.4l4.1 2.4l3.6 -6.1l-2.1 -6.1l-0.2 -0.1zM1737.2 860.5l-3.3 -4.9l-8.5 2.3l1.4 3.8l7.7 1.7l2.8 -2.1zM1770.9 856.1l-7.7 -3.1l-1.4 2.4l-0.1 8.3l0.9 0.6l7.7 -0.5zM1776.3 863.4l10 -4l0.3 -1.5l-6 -5.3l-3.7 3.1zM1802.4 860.4l-8 -2.8l-1.9 1.1l-0.4 2.3l2.8 4.3l7.5 -3.6zM1808.3 859.3l0.1 3l4.1 4.3l3.5 -1.2l0.8 -7.2l-5.8 -1.9zM1830.5 864.3l-1.6 -4.6l-4.9 -2.5l-1.1 0.7l-0.9 8.2l2.8 1.7zM1838.7 863.8l6.7 -2.2l0 -0.3l-5.1 -6.7l-5.4 4.1l1.6 4.4zM1863.2 863.4l0.3 -8.8l-5.2 -1.3l-6.9 8.1l0 1l1.6 1.5zM1869.2 863.7l6.7 -0.2l-1 -8l-4.6 -2.4l-0.8 0.7zM1882.1 864.3l0.3 0.2l6.5 -4.1l-2.9 -5.8l-5 1.3zM1689.1 870.9l-7.3 -5.9l-2.5 4.7l0.6 5.3l2.5 1.2l5 -2.9zM1700 875.1l-4.9 -2.3l-0 0l-1.8 2.5l5.8 6l1 -1.3zM1710.4 872.8l-4.4 2.2l0 3.6l4.7 1.2l3.2 -4.9zM1722.7 873.2l5.2 3.8l1.2 -0.2l2.3 -7.9l-5.4 -1.2zM1780.2 873.7l7.7 4.4l2.9 -1l0.1 -7l-3.1 -4.8l-9.4 3.8zM1804.8 867.2l-8 3.9l-0 6.2l6 2.7l1.9 -1.1l3.5 -8.2zM1814 872.4l-2.8 6.6l6.6 1.7l5.1 -3.4l-0.8 -4.1l-3.7 -2.3zM1835.6 869.2l-1 -0.4l-6.4 4l0.7 4.1l6 3.8l0.2 -0.1zM1841.6 869.2l-0.4 10.3l6.6 0.4l0.2 -0.2l0.8 -11.5l-1 -1zM1863.7 869.4l-9 0.4l-0.6 8.6l7.8 1l2.2 -1.4zM1869.8 869.7l0.3 8l8 4.1l2.8 -2.7l-1 -9.2l-1.1 -0.4zM1649.4 889.4l-0.3 -1.5l-7.5 -2.9l-2.7 5.3l3.3 5.4zM1688.9 879.4l-2.9 1.7l1.8 7.3l2.5 2.1l5 -0.5l0.7 -3.2zM1709.6 885.8l-5.3 -1.4l-2.2 2.8l-1 4.3l1 0.7l8.4 -3.2zM1719.1 877.9l-3.9 5.9l1.4 4.7l0.5 0.2l3.7 -1.1l2.7 -6.4zM1737.6 886.1l-6.6 -3.6l-1.6 0.3l-2.8 6.5l6 6.1l5.8 -6.5zM1743.5 884.9l0.8 2.6l8 3.8l1.4 -0.6l-0.1 -6.6l-6.4 -3zM1772.6 885l-0.3 5.1l4 1.9l4.2 -1.4l3.3 -7.9l-5.5 -3.2zM1793.6 882.4l-3.8 1.4l-3.5 8.4l4.3 3.8l9.7 -9l-0.1 -1.6zM1806.3 887.3l4.9 8.7l5.9 -4.6l-1.3 -5l-8.2 -2.2l-1.4 0.9zM1826.3 882.3l-4.6 3l1.3 4.8l6.4 1.8l0.7 -0.3l1.3 -6zM1846.4 885.8l-7.7 -0.4l-1.3 0.8l-1.5 6.8l4.1 3.9l7.7 -3.6zM1852.2 884.3l1.5 8.9l0.4 0.2l5.6 -2.1l-0.1 -6.1zM1875.3 889.5l0.1 -2.3l-8.1 -4.2l-1.7 1.1l0.1 7.4l5.6 2.7zM1617.8 906.2l2.9 -3.4l-1.8 -8.1l-5.9 2.7l3 8.4zM1707.4 905l3 1.5l3.9 -1.9l-0.2 -10.6l-8.8 3.5zM1720.1 894.1l0.2 9.6l2.4 0.3l5.6 -4.3l-6.1 -6.3zM1736.6 899.9l6 6.6l4.1 -1.6l2 -8.7l-6.2 -2.9zM1756.9 895.9l-2.2 0.8l-2 9l4.6 2.9l3.1 -3.1l-1 -9zM1765.4 896.2l0.9 7.8l5.2 0.7l0.8 -0.5l0.7 -7.2l-4 -1.9zM1788.1 901.7l-6.1 -5.3l-3 1.1l-0.6 6.9l7.5 4.9l2.7 -5.8zM1802.6 893l-8.5 7.9l0 0.1l9.7 1l2.5 -2.5zM1817.9 902.1l4.5 -0.8l2.6 -4.4l-3.9 -1.1l-5.5 4.3zM1830.9 907.3l5.4 -5.3l0 -0.3l-4.4 -4.3l-0.4 0.1l-3.5 6.2zM1842.5 902.3l6.9 8.5l4.2 -3.3l-2.4 -8.8l-0.3 -0.3zM1617.8 917.9l-1.4 -5.8l-2.6 -0.7l-6.3 1.7l-1.5 3.2l9.4 3.9zM1713.7 911.6l0.5 4.1l2.1 2.8l8.3 -1.4l-3.1 -7.2l-3.6 -0.4zM1731.2 917.4l1.9 1.2l3.2 -1.6l2.1 -6.2l-6.1 -6.6l-5.1 3.9zM1744.2 912.3l-1.9 5.6l6.7 4.1l6.7 -5.2l-0.6 -2.5l-6.1 -3.8zM1761 913.3l0.7 2.7l3.1 1.8l2.9 -0.8l1.1 -6.6l-4.2 -0.6zM1784.5 916.2l-0.1 -0.8l-9.2 -5.9l-0.2 0.1l-1.3 7.9l5 1.9zM1810.5 903.7l-2.6 2.7l-0 10.5l0.4 0.2l6.8 -0.9l-0.9 -9.4zM1826.6 916.1l0.8 -3.6l-4.3 -5.2l-2.8 0.5l0.9 9l2.6 1.3zM1623.9 922.8l-2 -0.5l-3.1 2.9l-1 5.3l3 2.9l6.4 -0.5zM1635.4 934.3l4.9 -3.9l-0.2 -7l-4 -3.3l-6.1 2.1l3.7 11.3zM1735.6 924.1l-0.5 2.5l5.5 6.9l6 -5.1l-0.2 -1l-7.8 -4.8zM1761.4 922.8l-2.1 -1.2l-6.9 5.3l0.2 1.3l4.3 4.1l4.5 -1zM1774.5 930.2l1 -5.6l-5.3 -2l-2.8 0.7l0 8.8l2.4 1.5zM1583.7 937l-7.2 5l-0.3 0.8l3.5 3.4l7.5 -6l-0.3 -1.4zM1513.1 959.2l8.2 -1.8l-0.2 -7.5l-6.5 -3.1l-3.4 5.2zM1551.5 948.3l4.5 5.4l4.3 -2.3l1.5 -4.4l-5 -3.9zM1649.9 956.1l3.8 -4.1l0.3 -1.2l-9.2 -0.8l1.1 4.6zM1761.6 952.6l-8.5 -3.8l-2.7 1.3l-0.6 3.6l6.9 5.5l4.9 -5.6zM1815.5 946.2l-0.9 0.6l-1.9 7.7l4.4 4.7l5 -3.3l0.7 -3.8zM1522.3 972.9l3.9 -1l-1 -8.3l-1.2 -0.6l-9.8 2.1l0.1 3.7zM1754.2 965.8l-0 -1l-7.9 -6.2l-0.2 0.2l-1.8 10.9l1.6 0.4zM1930.7 962.1l-4.4 8.7l1.8 1.5l8.3 -3.9l0.1 -2.5z" fill="#b9631f" stroke="#b9631f" stroke-width="6.2" stroke-linejoin="round"/>
<path d="M1565.2 426.9l-5.6 -2.8l-4.6 1.7l-0 1.1l3.8 5.3zM1659.9 430.3l4.6 3.7l5.5 -2.3l-0.9 -5l-5.5 -1.7l-3.2 1zM1682.8 422.5l-7.7 3.7l0.9 5.3l5.5 2.7l4 -3.2l-2.2 -8.1zM1689.5 422.6l1.9 7.2l3.5 1.3l6.6 -1.6l3.6 -8.3l-9.5 -2zM1707.2 431.4l4.2 4.6l4.6 -2.7l-0.1 -7.6l-5.1 -2.7zM1725.6 426.2l-3.7 0.4l0.1 6.1l3 1l3.9 -4.8l-0.3 -1.2zM1741.7 419.5l-7.2 7l0.3 1.2l3.6 2.3l9.1 -4.1zM1755.9 432.5l8.1 0.5l-4.1 -8.5l-0.6 -0l-5.5 2.8l0 0.1zM1771.5 420.4l-5.6 2.7l3.4 7.2l5.5 -4.4l-0.1 -4.1zM1925.2 426.9l-3.7 -4l-5.4 1.6l-1.5 4.6l5.7 3.1l5.4 -4zM2030.7 431.7l1.1 -0.5l3.8 -7.8l-5.7 -3.8l-5.5 5.3l-0.1 0.6zM2045.9 434l2.7 -3.4l-0.2 -3.9l-3.3 -1.9l-3.7 0.4l-3.1 6.5zM1569.1 431.5l-7.7 6.3l0.5 4.9l4.4 1.1l3 -1.6l-0 -10.5zM1575.3 433.3l-0 8.2l1.9 0.4l6.5 -3.7l-2.5 -5.6zM1593.7 440.3l2.3 3.3l5.3 -1l-0.6 -8.8l-0.1 -0.1zM1617.3 438.5l-8.1 -4.2l-2.4 0.3l0.6 8.8l3 2l7.5 -3.1zM1634.4 441.8l1.7 -8.2l-0.3 -0.5l-9.9 0.2l-2.7 4l0.8 5.3l1.7 1.2zM1643.9 445.3l3.6 -1.3l2.1 -7.1l-7.9 -0.6l-1.4 6.6zM1656.2 436l-2.7 8.8l3.4 1.8l4.6 -6.2l-0.2 -1.2l-4.5 -3.7zM1667.5 439.4l7.7 6.1l2.1 -1.5l1.1 -4.7l-5.1 -2.4l-5.9 2.4zM1692 436.4l-2.5 -0.9l-4.9 3.9l-1.2 4.9l5.5 3.3l4.1 -2.6zM1702.6 435.4l-4.5 1.1l0.9 8.1l4 2.4l4.1 -7zM1719.4 438.2l-3.5 2.1l4.7 4.7l3.5 -2.8l-0.6 -2.7zM1729.3 437.9l0.7 3.2l2.9 1.1l3.5 -1.3l-1 -5.7l-2.5 -1.6zM1748 442.7l2.7 -7.3l-1.6 -3.6l-7.6 3.4l1 5.7l4.9 2.5zM1767.1 444.5l-1.7 -5.4l-9.5 -0.6l-1.3 3.6zM1929.3 432.9l-5.7 4.4l-0.1 4.2l8.4 1l1.5 -1.3l0.3 -5.4zM1572.8 447.1l-2.8 1.6l0.5 4.4l7.9 6.2l2.6 -1.9l-5.3 -9.7zM1586.7 455.4l3.1 0.2l1.7 -8l-3.4 -4.9l-6.4 3.5zM1605.1 455.1l1.5 -5l-2.7 -1.8l-6.7 1.2l-1.1 5.2zM1620.6 461.1l2.4 -3.5l-0.9 -8.9l-1.3 -1.1l-8.3 3.5l-1.3 4.7zM1640.5 450.2l-4.1 -2.7l-8.2 1.9l0.7 6.6l6.5 1.9l4.9 -2.5zM1646.5 450.8l-0.2 5.2l2 1.8l7.5 -4.4l-0.3 -0.7l-5.8 -3.2zM1665.3 445.4l-4.1 5.5l0.8 1.7l4.6 3.2l3.1 -0.6l1.9 -4.9zM1707.3 451.5l0.5 2l2.2 1.7l7 -3.1l0.3 -2l-5.8 -5.8zM1727.9 446.7l-4.7 3.9l-0.2 2.2l6.2 4.8l0.5 -0.1l0.2 -10zM1745 448.9l-5.5 -2.8l-3.6 1.4l-0.2 10.1l5.5 1.4l3.9 -3.2zM1764.6 450.1l-13 -2.5l-0.7 0.7l0.2 6.7l8.3 2.7l2 -0.7zM1778.5 457.8l-3.3 -7.8l-3.5 -0.6l-0.3 0.3l-4 8.7l6.2 4.3zM1562.8 468.2l4 1.3l7.9 -5.1l0.1 -0.3l-6.4 -5zM1585.8 461.3l-4.9 3.6l-0.3 0.8l5 5.9l5.9 0.2l-2.7 -10.3zM1755.6 472.4l0.7 -9.4l-7.5 -2.5l-3.7 3.1l0.3 5l3.5 3.7zM1763.2 462.8l-0.9 0.3l-0.8 11.2l0.5 0.6l9.9 -3l-0.6 -3.6zM1580.2 474.6l-3.6 -4.3l-5.4 3.6l3.3 6.3l1.1 -0zM1593.4 477.9l-7.9 -0.3l-4.1 5l7.6 5.5l4.8 -5zM1616.3 473.5l3.4 9.8l2.1 -1.4l4 -6.4l-4.7 -6.8zM1724.3 476.7l-0.2 7.5l3.1 3.6l4.1 -5.8l-0.3 -2.3zM1743.2 482.5l1.2 -6.2l-2.1 -2.2l-5.4 4.7l0.3 1.7zM1749.2 483.1l8.6 -0.9l0.2 -2.8l-0.9 -1l-7 -0zM1763.6 484.5l0.1 0.1l7.6 4l4.7 -7l-1.2 -4.1l-0.1 -0.1l-10.8 3.2zM1597.7 487.8l-5.5 5.7l-0.6 3.2l2.3 1.3l10.6 -3.2l0.3 -3.9zM1711.4 489.9l-0.7 3.5l9.2 1.8l3.5 -2.6l-3.5 -4.1zM1731.4 492.3l3.6 2.7l7.4 -3l0.1 -3.5l-6.9 -2.2zM1756.9 488.4l-8.4 0.8l-0.2 3.4l1.7 1.2l4 -0.3zM1762.5 490.7l-3 5.2l3.7 4.1l6.9 -2.9l-0.5 -2.6zM2025.4 484.4l-3.3 6.7l0.5 1.4l3.9 -0l3.6 -7.7zM1623.4 502.6l-11.5 2.4l-0.5 2.1l11.9 2.1l0.2 -0.1zM1654.7 500.8l-3.9 -2.8l-5.6 5.3l0.2 7l3.9 1.4l4.3 -2.3zM1695.8 510.9l6.2 -2.2l1 -9.7l-7.4 -1.6l-4.2 3.8zM1708 509.1l9.1 -0.5l0.4 -7.7l-8.5 -1.7zM1723.8 510.7l8.6 -3.5l-0.7 -7.2l-4.2 -3l-3.9 3l-0.6 10.1zM1746 498.3l-1.2 -0.9l-7 2.9l0.7 7.2l0.2 0.2l7 -1.1zM1754.5 499.4l-2.5 0.2l-0.3 7.9l4.7 3l2.5 -6.3zM1774.1 503.2l-1.1 -0.8l-8.3 3.4l-2.2 5.7l5.5 1.7l7.3 -5.5zM1614.2 519.9l4.1 -5.5l-9.9 -1.7l-0.5 0.4l0 7.9l2.2 0.9zM1726.7 519.5l10 2.6l-1.4 -9.5l-0.1 -0.1l-8.8 3.6zM1743 523.1l0.4 0l8.7 -4.3l1 -3.2l-5.2 -3.3l-6.5 1zM1759.1 516.7l-1.2 3.7l5.7 8.5l3.9 -6.2l-1.3 -3.8zM1977.9 510.3l-7.4 5.5l0.8 7l4.7 0.8l3.9 -1.4l2.2 -7.6zM1990.7 528.2l5.7 -4.5l-2.5 -7.4l-2.6 -1l-3.5 0.9l-2.1 7.4zM2011 517.4l-3.9 -2.4l-6.8 1.4l1.9 5.7l5.5 1l3.5 -4.9zM1603.3 527.4l-2.1 5.4l5 5.6l5.6 -3.5l-3.8 -7.4l-2.9 -1.2zM1722.6 529.8l0.7 1.9l4.6 3.3l5.2 -1.7l2.6 -5.2l-10.5 -2.8zM1741.9 529l-3.1 6.2l5.6 5.7l3.4 -2.7l-5.6 -9.1zM1753.4 535.8l4.8 -0.1l2.1 -1l-6.7 -9.9l-5.4 2.6zM2000.7 527.9l-5.2 4.2l2.4 2.5l8.4 -3.3l-0.2 -2.3zM2015.4 522.7l-3.4 4.6l0.4 4.7l3.5 4.1l6.5 -1.2l1.4 -8.2zM1724 544.8l0.3 -5l-3.1 -2.2l-7.1 7.6l2 1.7zM1740.9 545.9l-6.6 -6.7l-4.1 1.4l-0.3 5.7l3.8 5.2l7 -3.8zM1746.9 546.5l-0.3 1.9l4.8 3.8l2.3 -0.9l1.7 -9.5l-2.6 0.1zM1759.8 551.4l2.2 0.6l4.1 -2.3l-2.6 -9.9l-1.9 0.9zM1976.1 542.7l-1.6 1.6l0.1 4.4l1.3 1.7l7.1 -1.5l-1.5 -5zM1987.1 541.7l2 6.7l5.3 -3.1l-0.2 -5.9l-3.6 -3.8zM2033.4 544.7l-0.2 3.8l3.3 1.9l8.6 -1.4l-1.3 -3.9l-5.7 -1.9zM1639.6 552.9l-5.3 -1.7l-4.1 6.4l1 4l3.3 1.2l3.2 -1.9zM1728.6 559.6l0.9 -3.6l-3.8 -5.4l-7.2 1.9l0.5 7.3zM1743.1 553.2l-7.7 4.2l-1 3.8l4.1 2.8l9.1 -2.7l0.2 -4.2zM1977.2 556.3l-0.5 2.2l9.1 7.8l2.8 -2.9l-2.1 -9.2zM2005.5 561.8l0.6 -8.1l-8.4 -3.3l-5.2 3l1.8 8.2l8.1 1zM1621.7 572.6l6.5 5.1l6 -2.1l-1.9 -7.2l-3.2 -1.2zM1640.2 574.8l6.9 -1.3l0.2 -5l-6.7 -2.4l-2.3 1.5zM1732.5 567.2l-3.6 10.8l2.8 1l5.6 -2.9l-1.9 -7zM1747.8 578l4.4 -4.4l0.5 -3.1l-3.2 -3.5l-7.9 2.3l1.8 6.3zM1965.7 565.8l-5.7 -1.4l-4 3.6l0.1 1.7l5.5 4.1l3.9 -1.4zM1973.3 563.5l-1.6 1.4l-0.2 7.9l2.5 1.4l8.6 -2.7zM1993 567.5l-4.3 4.4l-0.3 1.4l3 4.8l4.8 -0.9l2.6 -9zM2005.1 568.1l-3 10l2.7 1.1l3.6 -5.2l-2.1 -6.2zM1629.7 588.3l4.3 2.8l3.4 -2.2l-1.1 -7.7l-6 2.1zM1654.4 583.1l-5.1 -4l-7.1 1.5l1.1 7.4l5.7 1.7l5.2 -5.3zM1746.2 588.9l-0.6 -5.3l-4.8 -2.6l-5.4 2.9l0.4 2l8.1 3.8zM1941.4 586l-1.6 -3.3l-4.6 -2.1l-2 0.7l-1.6 10l5.5 2.1zM1952.5 585.8l4 -1.9l1.2 -5.5l-4.4 -3.3l-7.6 6.1l1.2 2.5zM1967.7 588.6l2.9 -2.7l0.1 -6.7l-2.5 -1.3l-4.6 1.6l-1.1 5.2zM1976.6 585l7 2.3l3.1 -3.4l0.2 -1.8l-3 -4.7l-7.2 2.2zM1992.7 584l-0 0l7.4 6.5l3.9 -2.9l-0.6 -2.5l-5.2 -2.2zM2009.1 583.5l0.9 3.1l6 2.5l2.6 -8.4l-5.8 -2.5zM2035.7 588.4l-0.3 -2.8l-6 -6.9l-4.6 2.4l-2.7 8.6l5.7 1.9zM1647.8 599.9l-0.7 -4.5l-6 -1.8l-4.3 2.8l-0.2 3l8.4 3.4zM1677.2 594.2l-5.9 3.7l-0.4 1.4l4.5 6.5l2.2 -0.5zM1692.5 600.9l-0 -2.9l-6 -4l-3.3 0.5l0.4 10.7l3.8 0.9zM1930.8 602.3l3.6 -3.5l-5.9 -2.3l-1.6 0.9l-0.2 1.7zM1941.8 597.2l6.4 6.4l2.6 -1.3l-1 -11.1l-3.7 -1.4zM1956.7 601.4l3.6 0.4l4.9 -3.7l-0.1 -4l-6.3 -4.6l-3 1.4zM1971.2 597.5l9.3 3.5l0.5 -0.2l0.4 -7.9l-7 -2.3l-3.4 3.2zM1987 600.3l3.8 0.9l5.2 -3.1l0.6 -2.6l-6.9 -6.1l-2.3 2.5zM2007.9 592.3l-5.3 3.8l-0.5 2.5l5.3 3.3l4.5 -2.1l1.1 -5.4zM2019 595l-1.2 6l3.5 3.8l3.8 -2.3l-0.1 -5.5zM2040.4 603.2l-1.1 -8.1l-1.2 -1.2l-7.1 2.9l0.1 5.5l6.7 3.4zM1567.1 607.4l1.9 8.2l9.5 -5.7l0.5 -2.7l-5.6 -2.9zM1649.9 615.8l6.5 -4.2l-0.5 -5.2l-4.3 -1.9l-3 3.1l-0.5 7.4zM1668.8 614.2l1.9 -4.6l-4 -5.8l-4.8 2.3l0.5 5zM1674.7 615.5l6.8 4.1l4.6 -2.5l-0.5 -5.3l-4.9 -1.2l-4.4 1.2zM1921.1 608.8l0.5 2.5l5.6 3.5l1.3 -0.1l-0.4 -6.9l-4 -3.1zM1934.6 615.4l2.4 1l5 -3l2.1 -5.5l-5.2 -5.1l-4.8 4.6zM1953.9 618.2l7.8 -2.7l-2.8 -7.8l-4.4 -0.6l-4.5 2.3l-1.9 4.9zM1971.3 617.7l3.8 -2.3l2.1 -9.2l-8.4 -3.2l-4.1 3l3.3 9.5zM1981.3 615.6l4 1.8l6.3 -3.9l-2.5 -6.6l-4.8 -1.1l-0.9 0.5zM1997.6 612.6l5 2.6l0.4 -0.1l1 -8.2l-5.4 -3.4l-3.6 2.2zM2013.8 605.5l-3.9 1.8l-0.9 8.1l4 1.4l4.7 -2.5l0.1 -4.5zM2034.8 610.9l-6.6 -3.3l-4.4 2.7l-0.1 3.9l6.8 3l3.2 -1.8zM2044.3 607.8l-3.3 3.1l-1.2 5l6.4 4l3.1 -3.9l-2.4 -7.3zM1574.2 624.1l10.7 0.2l-4.8 -8.4l-7.7 4.7zM1591.3 625.3l4.2 2.1l8.1 -3.4l-0.1 -4.1l-6 -1.6zM1665.3 619.2l-5.5 -2.7l-5.9 3.9l3.3 7.3l6 -3.3zM1671.2 620.4l-2 5.1l7.3 5.1l0.9 -0.4l0.8 -5.6zM1689 633.4l2.3 -2.8l0.2 -6.9l-2.3 -1.5l-5 2.8l-0.8 5.5zM1708.5 626.3l-1.5 -3.5l-1.3 -0.6l-8.2 2.2l-0.1 4.8l6.8 1.4zM1901.7 619.9l-3.9 2.1l0 3.6l5 4l5.7 -2.9l-2 -5.3zM1912.5 620.3l2.2 5.9l2.4 1.4l5.2 -8.8l-3.4 -2.2zM1928.1 620.7l-4.8 8.3l10.8 1.4l0.8 -1.2l-0.5 -7.3l-3.2 -1.3zM1950.8 623.3l-6.4 -4.3l-4 2.4l0.5 6.6l9.5 4.1l1.7 -1zM1958 629.9l9 -7.8l-2 -1.4l-8.1 2.8zM1974.4 622.8l2.2 5.2l8.4 -0.6l-1.7 -4.3l-5.3 -2.4zM1989.3 622l1.4 3.6l6.3 -1.7l1.6 -4l-3.2 -1.7zM2006.3 633.6l5.1 -3.4l-1 -7.9l-4.7 -1.8l-1.1 0.4l-2.1 5.3zM2016.4 621.8l1 7.7l5.3 2.1l4 -2.1l0.8 -7.1l-6.7 -3zM2043.3 625.2l-7 -4.4l-2.8 1.6l-0.8 7.5l5.9 3.9zM1659.2 633.5l0.2 0.8l5.5 5.6l6.5 -2.5l1 -2.3l-7 -5zM1906.7 640.8l7.8 -2.6l0.4 -5l-2.7 -1.6l-6.5 3.2zM1920.8 634.7l-0.4 4.5l1.2 1.1l9.8 -1.6l0.5 -2.6zM1937.2 640.7l2.6 4.5l7.2 -5.2l0.4 -2.7l-8.4 -3.5l-0.7 1zM1962.1 642l-5 -6l-1.2 -0.2l-2.5 1.5l-0.4 3.3l2.6 2.6zM1969.2 641.1l1.6 -0.7l0.8 -8.8l-1.7 -4l-7 6zM1976.8 640.4l5.6 1.9l4 -1.4l-0.6 -7.5l-8.4 0.6zM1991.7 631.5l0.7 9.3l3 1l5.9 -2.1l0.6 -1.5l-4.2 -8.3zM2007.2 641.3l6.3 5.7l6.1 -7.4l0.2 -2.7l-4.8 -1.9l-7.3 5zM2029.3 634.9l-3.5 1.9l-0.2 2.6l4.9 4.3l4.7 -5zM2043.6 637.3l0.9 0.7l7 -0.8l1.4 -5.7l-4.7 -2.9zM1692.4 647.2l-2.9 -3.9l-7.3 5.2l0.1 3.9l2.2 0.3l7.9 -4.6zM1880.6 651.9l4.8 3.7l3.3 -0.5l2.4 -8.2l-5 -3.3zM1900.3 660.4l3.7 -3.9l-2.2 -8.4l-4.9 0.3l-2.3 8.1zM1907.7 646.8l2 7.9l5.5 0.9l3.3 -1.7l-0.8 -9l-1.2 -1.1zM1923.8 646l0.7 7.5l5.3 1.9l6 -3.3l0 -1.7l-3.3 -5.8zM1945.6 655l4.7 -0.1l1.1 -7.4l-1.9 -1.9l-7.7 5.6l-0 1.1zM1964.9 647.6l-7.6 1.4l-1.2 7.1l4.5 2.3l2.5 -2.7zM1971.3 646.7l-1.9 8.1l8.8 1.6l0.6 -0.6l0.5 -8.2l-5.6 -1.9zM1989.6 646.2l-4.3 1.4l-0.4 7.6l5.9 2.6l2 -5.3l-0.3 -5.3zM1998.5 647.1l0.3 4.1l9.3 5.8l2.2 -4.8l-7.3 -6.7zM2018.7 650.1l3.8 1.4l5.2 -1.3l0 -1l-4.8 -4.2zM2037.8 655l3.6 -1.1l-0.6 -11.2l-0.7 -0.5l-6.4 7l-0.1 2.1zM1681.7 671.6l6.4 -3l-4.9 -10.1l-3.2 -0.4l-2.5 1.6l0.6 9.6zM1700.4 658l-5.2 -4.6l-6.1 3.6l5 10.2l3.3 0.3l1.7 -1.1zM1757.5 660.2l-1.7 1.8l-1.7 5.5l2.6 3.8l7.5 -4.9l-2.1 -3.4zM1768.2 661.4l2.2 3.4l0.7 0.3l7 -4.1l0.2 -1l-5.2 -2.5zM1795 661.9l-10.9 -0.2l-0.1 0.4l4.8 5.7l6.7 -1.7zM1811.6 667.2l5.2 6.9l4.7 -5.5l-2.6 -7.1l-4.3 0.5zM1849.2 659.3l-6.8 1.7l-1.6 6.3l8.9 1.6zM1855.7 668.9l6.5 0.1l2.8 -4.9l-0 -4.7l-2.8 -1.5l-7.1 0.8zM1880.4 666.7l1 -6.6l-4.8 -3.8l-5.6 3.1l-0 3.4zM1886.5 666.3l7.1 2.2l2.6 -3.6l-5.8 -3.9l-3.2 0.4zM1911.5 671.4l2.8 -1l-1.2 -9.1l-4.7 -0.7l-3.3 3.5zM1920.3 670.2l2.1 0.8l4.5 -5.3l0.2 -5l-5.2 -1.8l-2.9 1.5zM1940.8 668.3l0.8 -8.8l-3 -2.1l-5.5 3l-0.1 4.8l6.5 4.1zM1946.8 667.7l7.9 3l3.4 -6.8l-6 -3.1l-4.6 0.2zM1965.1 662.4l8 5.5l2.8 -0.4l0.2 -5.4l-9.2 -1.7zM1982.4 660.7l-0.3 0.3l-0.2 7.7l0.3 0.2l8.5 -2.5l-0.7 -2.4zM1997.3 657.4l-1.7 4.5l1.4 4.5l2.8 1.8l6.4 -4.1l0.1 -1.1zM2012.4 662.2l-0.2 1.9l3.9 1.9l4.8 -0.4l-1.2 -8.7l-4.2 -1.6zM2033.5 659.2l-3.8 -3.4l-4 1.1l1.3 9.3l0.9 0.4l3.8 -3zM2039.3 660.8l-1.4 3.6l5.6 4l3.7 -3.5l-2.8 -5.6zM1424.3 677.1l4.4 4.2l7.8 -1.9l-1.5 -6.4l-0.2 -0.1zM1445.1 681.7l5.9 -3l2.5 -7.4l-8 -5.5l-4.7 5.4l2 8.7zM1460.8 671.9l-1.4 0.5l-2.4 7.2l5.4 3.5l4.9 -1.9zM1768.7 670.6l-9.7 6.4l0.1 2.2l5.7 3.6l5.8 -2.5zM1780.1 666.8l-5.4 3.1l1.9 10l3 1l2.8 -1.6l2 -7.4zM1798.3 681.3l-2.6 -9l-5.5 1.3l-1.6 5.6l8.8 2.7zM1801.4 670.3l2.7 9.4l5.6 0.3l2.4 -2.1l-5.6 -7.5zM1821.6 677.8l6.8 6.2l5.5 -2.6l-0.7 -8.2l-7 -0.8zM1839.2 673.1l0.7 8.4l2.4 1.5l6 -5.2l0.5 -3zM1854.8 674.9l-0.5 3.5l4.3 4.5l4.1 -6.6l-0.6 -1.3zM1877.7 672.1l-8.4 -3.5l-1.9 3.5l1.1 2.3l7.4 4.4l0.7 -0.2zM1883.9 671.7l-0.1 0.1l-1.1 7.1l6.4 2.6l2.6 -0.9l0.1 -6.4zM1901 668.5l-3.2 4.5l-0.1 7.9l1.5 0.7l6.6 -3l1.3 -3.1zM1912.9 677.3l-1.1 2.7l6.5 5.5l4.6 -3.6l-1.9 -5.1l-3.5 -1.2zM1930.5 670.8l-3.8 4.3l2.1 5.4l1.8 0.6l5.6 -2.9l0.4 -3.6zM1944.3 673.2l-1.7 1.4l-0.4 3.8l4.8 2.6l6.4 -3.3l-0.1 -1.2zM1968.8 672.2l-6.1 -4.2l-3.5 7l0.2 3l3.2 2.6l3.8 -1.6zM1978.7 673.8l-0.6 -0.5l-3.5 0.4l-2.1 5.8l5.4 2.1l1.1 -0.8zM1997 675.6l-0.1 -2.1l-2.9 -1.8l-9.2 2.6l0.2 6l4.9 2zM2003 675.7l6.9 7.7l3.3 -1.2l-0.6 -11.2l-3.3 -1.7l-6.4 4.1zM2019.2 681.7l2.1 0.4l5.4 -4.1l-1 -5.8l-1.9 -0.8l-5.1 0.4zM2034.3 669.2l-2.7 2.1l1 6.1l3.3 1.6l4.9 -1.5l-0.1 -3.7zM2046.7 673.5l0.1 4.3l4.1 2l11.3 -5.2l-10.8 -5.4zM1415.4 686.5l0.5 4.5l7.3 1l1.3 -6.4l-4.2 -4zM1441.7 686.6l-2.3 -1.7l-9.1 2.2l-1.6 7.5l0.3 0.4l8.7 0.4l3.9 -6.1zM1458.8 695.4l0.3 -7.4l-5.8 -3.7l-5.6 2.8l-0.1 1.6l10.1 7zM1471.5 686l-6.5 2.5l-0.1 4.9l6.4 -2zM1486.1 692.7l-0.4 -4.6l-6.1 -4.1l-2 0.9l-0.4 7.7l3.9 5.1zM1635.3 697.8l4 -3l-3.7 -8.2l-7.5 4.3l0.4 2.8zM1739.3 693.9l4.3 -4.2l0.5 -2.4l-7.8 0.3zM1756 684.3l-5.9 3.3l-0.4 2.3l8.9 6.8l2.1 -2.1l0.7 -6.9zM1774.1 685.4l-6.8 2.8l-0.5 5.9l8.8 3.8l3.4 -2.2l-1.7 -9.2zM1794.6 687.3l-9.3 -2.8l-2 1.2l1.7 9.3l3.2 1.4l5.6 -3.8zM1808.2 685.9l-5.6 -0.3l-1.9 1.4l-0.9 5.9l2.4 1.4l7 -1.8zM1816.9 681.6l-2.9 2.6l1.4 9.2l1.6 1.8l7.1 -2.8l0.5 -3.7zM1840.9 691.6l-0.9 -2.9l-3.2 -2.1l-6.2 2.9l-0.6 3.9l0.9 0.8zM1850.8 683.5l-4.8 4.2l1.4 4.4l1.4 1.5l7.5 -2.2l-0.2 -2.3zM1862.1 688.6l0.2 3.2l3.6 1.8l2.3 -0.3l3.7 -9.9l-4.8 -2.8zM1879.2 684l-1.3 0.5l-3.9 10.4l2.5 1.7l7.8 -6.1l1.1 -4zM1894.5 686.1l-3.1 0.9l-1.2 4.6l4.5 6l4.4 -2.7l-2.4 -7.8zM1914.2 693l0.6 -2.5l-7.2 -6.2l-4.8 2.3l2.4 7.7l1.9 1zM1920.3 694.6l10.6 -0.6l-2.4 -7.3l-1.4 -0.4l-6.3 4.8l-0.8 3.3zM1938.9 696.5l4.6 -3l0.4 -7.3l-4.9 -2.7l-4.5 2.3l3.1 9.3zM1954.5 694.3l5.1 -4.5l-0.4 -4.2l-3 -2.6l-6.3 3.3l-0.3 6.6zM1968.8 684.5l-3.5 1.5l0.3 3.4l6.1 4l2 -0.7l1.1 -5.9zM1982.4 685.7l-1.4 1l-1.3 6.6l4.1 2.1l4.8 -2.2l-0.8 -5.3zM1999.8 681.2l-6 5.7l0.8 6.2l5.5 2.9l4 -1.9l1.6 -6.3zM2011.5 689.2l-1.4 5.8l4.2 2.8l7.1 -4.3l-1.7 -5.6l-3.1 -0.6zM2032.8 684.1l-2.6 -1.2l-4.7 3.5l1.9 6.4l0.5 0.3l5.6 -2.2zM2043.6 682.9l-4.8 1.4l0.7 6.9l4.7 3.2l2.1 -2.4l1.3 -7.2zM1453.1 699.7l-7.7 -5.2l-2.8 4.3l1.4 4l7 0.3zM1459.1 713.4l5 -6.8l-3.7 -5.4l-1.4 0.3l-3 4.9zM1466.3 699.3l3.1 4.4l7.2 0.3l0.8 -0.8l0.1 -0.3l-4.4 -5.8zM1483.8 703.3l6 3.2l7.5 -2.7l0.3 -2.1l-7.9 -4.1zM1533.3 697.8l-3.1 1.8l1.5 5.3l4.7 2.8l5.4 -3.2l-0.3 -3.7zM1631.3 707.8l0.8 -4.9l-6 -3.6l-5.9 5.4l-0.2 2.9l8.4 1.4zM1733.5 710.8l9.8 -2.4l0.1 -0.1l-4.9 -8.1l-0.3 -0l-8.6 4.8l-0.4 1.6zM1746.7 695.1l-2.7 2.6l4.1 6.8l7.2 -2.8zM1761.4 702.2l-0.3 1.3l2.5 4.1l8.5 -2.7l0.4 -1.8l-8.3 -3.5zM1781.1 713.3l6 -7.9l-1.1 -3.4l-3.4 -1.5l-4 2.6l-0.7 3.7zM1793 703.9l3.5 2l3.2 -1.4l-0.8 -5.2l-2.2 -1.4l-4.7 3.1zM1812.6 703.9l0.4 -4.1l-1.5 -1.7l-6.4 1.7l0.6 4.3l4.7 1.6zM1818.6 703.9l5.3 3.2l4.7 -3.3l-1.2 -4.7l-1.2 -1.1l-7.3 2.9zM1841.5 706.2l1.6 -0.6l1.5 -7.7l-0.8 -0.8l-10 2.6l0.7 3.2zM1852.1 709.1l7.8 -4l1.9 -6.8l-2.7 -1.4l-8.6 2.4l-1.5 7.3zM1875.2 704.1l-0.9 -1.8l-4.6 -3.1l-2 0.3l-2 7l3 3.5zM1900.5 710.7l3.8 -4.1l-0.4 -6.2l-1.1 -0.6l-6.6 3.8l-0.3 0.5zM1910.2 705.6l6.5 2.8l2 -0.9l-2.3 -8.3l-0.5 -0.5l-6 2zM1923 700.5l1.8 6.4l1.2 0.4l9.2 -6l-1.4 -1.5zM1953.8 704l-1 -3.9l-5.9 -1.7l-5.6 3.7l-0 0.1l5.5 7.7zM1959.8 703l6.2 3l1.9 -7.9l-4.9 -3.2l-4.3 3.8zM1976.1 698.2l-2.3 0.8l-2 8.5l4.7 2.4l3.8 -4.1l0.3 -5.3zM1996.6 701l-4.8 -2.7l-5.2 2.4l-0.2 4.2l8.3 2.5l0.8 -0.5zM2002.6 701.4l-1.1 6.3l5.5 4.7l6.7 -3.2l-2 -5.9l-5.3 -3.6zM2017.8 702.7l2 5.9l1.2 0.6l6.1 -1.4l-2 -9.5l-0.1 -0zM2033.2 707.7l0.5 0.2l8.1 -6.6l-0 -1.3l-5.5 -3.8l-5.1 2zM1474.6 709.9l-5.4 -0.2l-4.3 5.9l6.5 3.8l3 -1zM1480.6 708.5l-0.2 10.4l3.2 2l3.8 -0.8l-0.7 -8.4zM1493.4 720.4l2.4 0.9l2.1 -1.2l2.8 -7.1l-1.9 -3.3l-6 2.1zM1504.1 720.6l7.6 3.5l4 -6l-2.6 -2.4l-7 0zM1735.7 718.2l6.7 4.4l3.9 -2.2l-2.6 -5.9l-8.1 2zM1756.6 707.7l-7.6 2.8l-0.2 0.5l3.5 8.2l3 1l4 -3.3l-0 -4.9zM1773.9 718.9l2.3 -1.9l-3 -6.1l-7.9 2.5l-0 2.7zM1788.8 718.9l5.6 -2.1l-0.8 -5.7l-2.3 -1.3l-5.4 7.2zM1805.9 719.6l0.3 -0.1l1.4 -8.5l-4.5 -1.5l-3.5 1.6l0.8 5.7zM1812.1 720.7l4.1 2.6l6.6 -3.8l-1.5 -6.9l-5.7 -3.5l-1.9 1.6zM1828.4 717.3l6.4 -2.1l2.4 -4.4l-4.9 -2.3l-5 3.5zM1849.8 716.8l-0.7 -2.4l-3.9 -3.2l-1.7 0.6l-3.1 5.6l3.8 5.4zM1855.8 715.7l5.4 4l4.1 -2.1l0.1 -2.2l-3.7 -4.5l-6.4 3.3zM1879 708.7l-7.6 7l-0.1 1.9l3.5 1.7l5.8 -2.7l-1.1 -7.6zM1896.4 715.5l-5.2 -7.7l-5.6 1.7l1 7l4.8 2.9zM1904.1 715.6l6.8 4.6l2.2 -6.8l-5 -2.1zM1919.2 713.9l-2.1 6.8l6.9 0.8l1.6 -2.3l-1.7 -6.3l-1.5 -0.5zM1957.7 708.6l-8.4 7l0.1 1.5l1.2 0.7l9.3 -2.4l2.5 -4.5zM1968.4 712.5l-3 5.3l4.8 7.4l5.9 -5.2l-1.4 -4.3zM1981.7 717.7l7.7 -1.8l1.5 -3.3l-6.8 -2.1l-3.5 3.8zM2000.3 724.2l2.4 -2.4l0.6 -4.6l-5.4 -4.7l-0.5 0.3l-2.4 5.2zM1462.2 733.3l2.8 -1.5l2.5 -7.7l-7.5 -4.4l-0.9 0.2l-1.6 1.7l0.3 7.3zM1478.3 734.1l1.4 -8.5l-2.7 -1.7l-3.5 1.2l-2.2 6.8zM1490.4 725.6l-4.8 1l-1.3 8l8.9 1.1l0.6 -0.5l-0.6 -8.5zM1499.2 726.2l0.5 8l5.9 1.7l4.9 -4.3l-0.3 -1.6l-9.8 -4.5zM1520.5 721.7l-4.5 6.9l0.4 2.1l5 2.5l4.7 -0.8l-1.2 -7.9zM1540.4 725.1l-4.5 -3.5l-4.9 2.6l1.3 8.7l1 0.6l3.6 -1.7zM1553.5 730.5l-7.2 -3.7l-0 0l-3.2 6l8.5 4.5l2.1 -4.6zM1728.7 730.1l6.7 4.4l2.5 -1.9l1.1 -5.1l-5.5 -3.6zM1744.1 732.2l8.7 2.3l2.1 -0.9l-1.6 -7.7l-2.9 -1l-5.4 3.2zM1872.2 730.7l-0.3 -6.2l-3.6 -1.7l-4.6 2.3l-0.5 4.9l4.8 3.7zM1878.2 730.1l4.8 1.9l5.9 -3.6l-0.2 -3.6l-5 -3l-5.8 2.6zM1900.1 720.2l-5.4 4.2l0.2 4.3l4.9 4.4l7.1 -1.4l1.3 -6.1zM1928.6 725.3l1.1 5l2.4 2.1l3.6 -1l2.3 -7.2l-7.7 -1.2zM1944.4 723.7l-2.8 9.1l3.1 2.4l6.1 -5l-3 -7.1l-1.3 -0.8zM1958.6 729.8l6 -2.3l-4 -6.1l-6.3 1.7l2.5 5.8zM1979.3 725.2l-5.5 4.8l4 9.3l7.4 -5.1zM1996.8 729.4l-6.4 -7.6l-5.3 1.3l5.9 9l0.7 0l4.8 -1.4zM1476.1 743.8l0.7 -3.9l-9 -2.7l-3.4 1.7l-1 6.6l3.5 3.4zM1482.8 740.4l-0.7 4.2l3.5 3.1l4.7 -0.3l0.6 -5.9zM1499.1 752.4l6.3 -3.9l-1.6 -6.8l-6.2 -1.9l-0.6 0.5l-0.8 8.9zM1509.6 740.3l1.8 7.3l1 0.3l3.1 -0.6l2.1 -9.3l-3.4 -1.7zM1521.4 748.1l6.3 3l3.4 -3.7l-0.8 -8.7l-1.3 -0.7l-5.5 0.9zM1536.3 738.7l0.7 7.4l4.6 1.2l7.1 -4.7l-9.7 -5.2zM1616.3 740.3l4.5 8.4l7.1 -2.1l-2.5 -8.2l-7.4 -0.7l-1.7 1.2zM1706.3 736l-1.8 1.2l2 5.7l5.1 1.9l2.6 -2.4l0.2 -1.4zM1732.9 745.6l-0.2 -5.8l-7.2 -4.6l-5.1 5.5l-0.1 1.5l9.6 5.5l2.4 -1zM1865.4 746.2l-0.4 -7.3l-5.2 -4l-4.7 2.4l4.5 8.5l4.1 1.5zM1879.8 745.3l0.4 -8l-4.5 -1.7l-4.6 3.3l0.2 6.4l6.7 1.7zM1885.9 743.6l8.3 -0.1l1.4 -6.1l-4 -3.6l-5.4 3.3zM1937.6 747.3l5.1 -2.9l-0.7 -3.7l-4.6 -3.5l-3.5 0.9l-1.1 4.8zM1956.4 747.8l0.7 -0.4l-1.4 -12.4l-0.8 -0.4l-6.9 5.7l0.7 3.6zM1968.4 732.5l-6.7 2.6l1.2 10.7l9.7 -0.3l0.4 -0.2l0.3 -1.2zM1481.1 751.7l-2.6 -2.3l-8.7 4.8l0.6 3.2l3 2.6l5.3 -1.1zM1495.2 757l-3.4 -3.7l-5 0.3l-2.2 6.3l4.4 2.1zM1501.6 757.9l4.6 5.5l4.4 -2.7l-1.1 -7.4l-0.3 -0.1zM1518.4 760.9l5.4 -5.1l-6.2 -2.9l-2 0.5l1 6.7zM1531.8 755.5l5.1 8.9l6.3 -4.6l-3.2 -6.7l-4.8 -1.3zM1554.2 758.9l2.1 -0.7l0.5 -7.6l-3.8 -3.6l-7.1 4.6l3.2 6.5zM1562.3 758.3l9.4 -2l1.3 -6.8l-3 -1.4l-7.3 3.3zM1704.7 748.6l-7 5.8l0.3 2.8l4.6 1.9l6.4 -4.4l0.2 -4.4zM1715.3 749.7l-0.3 4.9l7 3.8l3.6 -6.3l-8.1 -4.6zM1727.3 761.2l7.4 1.8l4.7 -1.8l-6 -8.4l-1.6 0.6zM1878.6 758.8l-2 -5.9l-7.6 -1.9l-2.2 1.5l-1 5.2l7.5 5.7zM1889.7 759.2l2.6 -9.7l-8.4 0.1l-1.6 1.6l2.2 6.4l4.4 1.9zM1898.2 750.7l-2.2 8.2l9 1.5l0.1 -0.1l-0.2 -5.5zM1920.8 759.1l-2 -9.7l-2.6 -1.1l-5.4 5.9l0.3 5.1l4.3 1.1zM1929.1 760.1l3.5 -1.7l1.4 -6.3l-5.1 -4.7l-4 1.7l2 10.1zM1938.7 758.8l7.8 3.7l5.6 -3.7l1.1 -5.9l-7.1 -3.6l-6.2 3.6zM1976.5 751.2l-0.5 11.8l1.6 3l8.3 -4.1l-1.2 -6zM1499.5 775.1l3.4 -3.1l-0.3 -3.6l-4.8 -5.8l-5.3 4.3l0 2.5zM1508.8 771.1l8 2.6l0.7 -0.4l-1.2 -6.8l-2.2 -0.9l-5.4 3.3zM1523.4 772.3l4.6 0.6l3.9 -5.2l-4.2 -7.3l-5.5 5zM1695.5 762.7l-4.9 3.2l0.7 9l2.7 1.8l7.6 -8.5l-1.1 -3.5zM1718.3 769.4l1.7 -5.2l-7.9 -4.4l-5.6 3.9l1 3.3l4.6 3.3zM1892.6 764.5l-0.6 0.2l0.1 4.1l6.6 5.1l2.3 -0.7l1.3 -7.2zM1908.9 765l-0.4 0.2l-1.6 9.2l3.9 3.4l3.3 -1.8l-1.4 -10.1zM1926.1 765.3l-2.1 -0.8l-5.3 1.3l1.2 9l4.4 0.3l1.7 -1.6zM1932.1 765.3l-0.1 7.5l5.5 2.2l6.2 -5.4l0 -1.8l-8.4 -4zM1949.7 769.9l6.1 7.9l4 -2.6l-4.1 -10l-1.1 -0.9l-4.9 3.2zM1993.6 773.9l-3.5 -6.4l-0.9 -0.5l-10.3 5.1l-0 0.1l7.4 4zM2011.9 762.1l-0.3 7.9l4.2 1.6l3.5 -1.8l1.6 -3.8l-5.5 -5.3zM1502.3 780.6l-0.2 1.4l2.5 2.4l8.3 -1.1l0.8 -4.3l-7 -2.3zM1519.9 788.1l9.3 -4.4l-2 -4.9l-5.8 -0.7l-1.6 0.8l-1.2 6.7zM1535.5 783.3l2.1 1.8l3.7 -1.1l1 -7.9l-5.6 -4.8l-4 5.2zM1579.1 782.4l5.9 -0.4l4.1 -5.6l-8 -3.7l-4.3 4.3zM1595.3 778.1l-4.9 6.6l5.6 6.5l5.6 -4.2l-1.1 -5.4zM1681.6 782.6l4.1 5.8l6.1 -5.8l-3.7 -2.7zM1697.9 781.3l4.9 3.7l2.9 -1.6l2.2 -8.7l-2.5 -1.8zM1711.9 783.1l6.2 1.4l3.3 -2.7l0.3 -2.6l-2.5 -3.8l-5.5 0.8zM1907.5 782.9l-4.6 -4l-2.8 0.9l-3.1 5.2l5 3.5l5.5 -5.1zM1918 780.6l-4.5 2.7l-0 0.1l3 3.1l6.7 -0.1l-0.5 -5.4zM1929.4 787.5l7.5 -1.3l-1.3 -5.5l-5.9 -2.4l-1.1 1.1zM1941.5 779.5l1.8 7.2l0.2 0.1l8.2 -3.9l0.1 -0.5l-5.6 -7.1zM1961.8 789.6l7.7 -5.9l-0.4 -3.8l-4.8 -0.4l-6.6 4.2l-0.2 0.6zM1996.4 779.3l-7.6 2.4l-0.2 3l4.9 4.8l3.6 -4.2zM1508.2 795.7l6.7 0.9l0.5 -4.1l-1.7 -3.2l-6.5 0.8zM1576.6 790.4l-3 3.2l-0.6 4.5l1.6 2.9l6.4 -1.6zM1585.3 788l-3.1 0.2l5.2 10.6l1.3 0.3l3.4 -3.2zM1671.5 796l-1.5 -6.2l-2.3 -0l-7 5.4l0 0.7l2.9 2.9zM1681.7 796.9l0.5 -3.2l-5.1 -7.1l-1.4 1.2l1.9 7.7zM1694 797.1l5.7 -3.4l-0.1 -3.5l-3.9 -3l-7.6 7.2l-0.4 2.5zM1712.6 800.8l3.5 -1.4l-0.2 -9.2l-7.1 -1.7l-3.2 1.8l0.1 3.8zM1910.4 788.9l-5 4.7l0.1 4.2l1.3 0.4l4.9 -1.4l0.4 -6.2zM1924.6 792.4l-6.6 0.1l-0.3 4.9l3.8 2l2.4 -1.7zM1940.7 795.5l-0.3 -3.5l-0.4 -0.3l-9.5 1.6l-0.6 4.4l5.7 2.8zM1981.3 798.4l8.8 -2.6l0.3 -1l-5.6 -5.4l-4.6 2.2zM1667.2 810.8l3.6 2l9 -6.6l0.3 -3.5l-5 -1.7l-8.9 3.3zM1686.1 802.8l-0.4 3.8l4.6 4.4l3.5 -1l-1.4 -6.9zM1708.4 805.2l-6.1 -6.1l-4.1 2.5l1.7 8.1l2.1 0.7zM1831.8 811.5l8.3 3.5l2 -2.9l0.6 -5.6l-3.2 -3.6l-8 3.6zM1862 803.6l2.5 10.9l5.2 1.9l2.3 -2.4l1 -5.5l-5.4 -4.8zM1884.1 815l7.4 -7.3l-0 -0.1l-4.9 -2.7l-7.6 4.3l-0.8 4.1zM1907 810.2l-2.6 -6.5l-1.3 -0.4l-5.6 3.8l0 0.6l2.5 3.8zM1913.6 810.5l1.2 0.8l3.2 -1.3l0.6 -5.4l-4.4 -2.3l-3.5 1zM1934.2 811l-0.7 -4.9l-6.5 -3.2l-2.4 1.7l-0.6 6.1l5 3.5zM1974.3 805.6l-2.5 8.5l5.2 2.1l2.8 -3l-2.3 -8.4zM1682.9 824l2.4 -0.9l1 -7.6l-3.9 -3.8l-7.8 5.8l1.1 3zM1699.8 816l-2.5 -0.8l-5.1 1.5l-0.9 6.6l4.3 1.7l4.8 -1.4zM1709.7 825.6l4.6 -6.5l-4.2 -7.6l-4.4 3.5l0.7 8.9zM1846.2 816.7l-1.9 2.9l0.2 3.9l5.1 3.7l4.9 -7.6zM1875 819.5l7.4 8.2l3.7 -0.8l-3.2 -6l-7.2 -2.1zM1892.3 825.8l3.7 -3.7l-0.4 -6.4l-1.4 -2.2l-5.5 5.4zM1902 820.8l6.9 1.2l0.2 -0.1l1.8 -6l-0.4 -0.2l-8.8 1.5zM1925.8 822.3l0.1 -3l-5.5 -3.7l-3.5 1.3l-1.8 5.9l5.3 3.2zM1941.5 817.2l-3.7 -1.4l-5.9 3.7l-0.1 3.1l6.8 6.3l5.3 -4.7zM1965.1 820.9l6.3 7.6l3.9 -1.1l-0.4 -5.6l-6.5 -2.6zM1597 829.7l-2.9 8.3l4.2 4.1l3.1 -1.8l-2.8 -9.9zM1654.8 830.8l-0.8 5.4l8.5 3.7l1.4 -1.2l-0.7 -4.3zM1684.3 838.5l1.3 0.9l6.4 -3.5l0.3 -5.7l-4.3 -1.7l-2.5 1zM1703.4 840.7l1.8 -2l1.4 -7.9l-3.3 -1.8l-5 1.5l-0.3 5.8zM1823 830.9l-4.5 7.9l6.5 3.4l3.1 -2.5l-0.6 -6.2zM1833.5 833.3l0.5 5.7l6.5 3.1l5.3 -3.6l0.8 -6l-5.2 -3.9zM1852.4 833.9l-0.6 4.9l2.9 2.3l7.9 -5.5zM1871.5 824.6l-2.9 8.2l0.8 1.6l3.5 3.1l0.5 -0.2l4.1 -6zM1887.7 842.2l4.6 -4.1l-2 -5.9l-7.2 1.5l-3.3 4.9zM1904.9 835.2l1 -7.6l-5.8 -1.1l-4 4l1.7 5.3zM1911.9 827.8l-1.1 8.6l4.1 2.5l2.1 -0.8l0.4 -6.9zM1593.3 851.7l1.3 -4.9l-4.4 -4.2l-4.8 2.7l0 2zM1615.9 846.1l0.5 3.5l2.5 2.8l5.7 -2.1l1.3 -7l-5.3 -2.8zM1640.7 845.9l-4.3 -3.1l-4.5 1.3l-1.3 6.8l4.2 2.2l6.3 -5.3zM1646.7 845.4l0.4 1.9l5.5 4.2l4.9 -0.4l1.9 -6.1l-8.2 -3.4zM1671.6 853.2l-0.4 -8.9l-3.4 -1l-2.2 1.8l-2.4 7.9l0.9 1zM1685.3 851.3l-2.4 -6.4l-2.3 -1.7l-3.4 1l0.5 9.9l2.7 1.7zM1699 851l0.9 -0.4l0.6 -4.5l-5.9 -4.8l-5.5 3l1.9 5.2zM1705.9 851.1l4.7 2.7l5.8 -1.5l0.4 -5.8l-7.9 -3l-2.3 2.7zM1722.4 852.5l10.1 -2.7l0.3 -2.2l-7.3 -4.6l-2.6 2.8zM1742.8 844.3l-4 3.4l-0.4 3.7l2.3 3.6l5.1 -4l-1.3 -6.3zM1750.6 844.6l1.1 5.2l5.6 1.4l1.5 -2.7l-0.3 -4.2l-1.9 -1zM1804.5 843.7l-4 1.7l-2.6 7.1l6.5 2.3l2.4 -2.7l-2 -8.2zM1822 847.4l-8 -4.1l-2.9 0.8l1.5 6.5l7.1 2.2l1.4 -0.9zM1828.1 847.4l-0.9 4.7l3.8 2l6.9 -5.1l-0.1 -1.5l-6.2 -3zM1853.6 849.5l-1.4 -2.8l-3.7 -2.8l-4.7 3.2l0.1 2.3l4.6 6.1zM1865.8 849l1.5 -1.2l1.5 -5.9l-2.1 -1.9l-8.2 5.7l0.7 1.6zM1878 850.4l6.8 -1.7l0.1 -1.1l-9.7 -4.5l-0.5 0.1l-1.2 4.7zM1894 857.2l6.3 -3.3l-5.4 -10l-3.9 3.3l-0.4 3.3zM1620.7 862.3l3.5 1.7l8.2 -2.7l-0.1 -2.7l-5.2 -2.8l-6.2 2.3zM1684.9 859.8l8.1 6.5l2.6 -9.8l-5.9 -1.1zM1701.8 856.3l-3 11.6l4.1 1.9l4.6 -2.3l-0.3 -8.7l-4.8 -2.7zM1713.3 859.3l0.2 8.4l4.1 2.4l3.6 -6.1l-2.1 -6.1l-0.2 -0.1zM1737.2 860.5l-3.3 -4.9l-8.5 2.3l1.4 3.8l7.7 1.7l2.8 -2.1zM1770.9 856.1l-7.7 -3.1l-1.4 2.4l-0.1 8.3l0.9 0.6l7.7 -0.5zM1776.3 863.4l10 -4l0.3 -1.5l-6 -5.3l-3.7 3.1zM1802.4 860.4l-8 -2.8l-1.9 1.1l-0.4 2.3l2.8 4.3l7.5 -3.6zM1808.3 859.3l0.1 3l4.1 4.3l3.5 -1.2l0.8 -7.2l-5.8 -1.9zM1830.5 864.3l-1.6 -4.6l-4.9 -2.5l-1.1 0.7l-0.9 8.2l2.8 1.7zM1838.7 863.8l6.7 -2.2l0 -0.3l-5.1 -6.7l-5.4 4.1l1.6 4.4zM1863.2 863.4l0.3 -8.8l-5.2 -1.3l-6.9 8.1l0 1l1.6 1.5zM1869.2 863.7l6.7 -0.2l-1 -8l-4.6 -2.4l-0.8 0.7zM1882.1 864.3l0.3 0.2l6.5 -4.1l-2.9 -5.8l-5 1.3zM1689.1 870.9l-7.3 -5.9l-2.5 4.7l0.6 5.3l2.5 1.2l5 -2.9zM1700 875.1l-4.9 -2.3l-0 0l-1.8 2.5l5.8 6l1 -1.3zM1710.4 872.8l-4.4 2.2l0 3.6l4.7 1.2l3.2 -4.9zM1722.7 873.2l5.2 3.8l1.2 -0.2l2.3 -7.9l-5.4 -1.2zM1780.2 873.7l7.7 4.4l2.9 -1l0.1 -7l-3.1 -4.8l-9.4 3.8zM1804.8 867.2l-8 3.9l-0 6.2l6 2.7l1.9 -1.1l3.5 -8.2zM1814 872.4l-2.8 6.6l6.6 1.7l5.1 -3.4l-0.8 -4.1l-3.7 -2.3zM1835.6 869.2l-1 -0.4l-6.4 4l0.7 4.1l6 3.8l0.2 -0.1zM1841.6 869.2l-0.4 10.3l6.6 0.4l0.2 -0.2l0.8 -11.5l-1 -1zM1863.7 869.4l-9 0.4l-0.6 8.6l7.8 1l2.2 -1.4zM1869.8 869.7l0.3 8l8 4.1l2.8 -2.7l-1 -9.2l-1.1 -0.4zM1649.4 889.4l-0.3 -1.5l-7.5 -2.9l-2.7 5.3l3.3 5.4zM1688.9 879.4l-2.9 1.7l1.8 7.3l2.5 2.1l5 -0.5l0.7 -3.2zM1709.6 885.8l-5.3 -1.4l-2.2 2.8l-1 4.3l1 0.7l8.4 -3.2zM1719.1 877.9l-3.9 5.9l1.4 4.7l0.5 0.2l3.7 -1.1l2.7 -6.4zM1737.6 886.1l-6.6 -3.6l-1.6 0.3l-2.8 6.5l6 6.1l5.8 -6.5zM1743.5 884.9l0.8 2.6l8 3.8l1.4 -0.6l-0.1 -6.6l-6.4 -3zM1772.6 885l-0.3 5.1l4 1.9l4.2 -1.4l3.3 -7.9l-5.5 -3.2zM1793.6 882.4l-3.8 1.4l-3.5 8.4l4.3 3.8l9.7 -9l-0.1 -1.6zM1806.3 887.3l4.9 8.7l5.9 -4.6l-1.3 -5l-8.2 -2.2l-1.4 0.9zM1826.3 882.3l-4.6 3l1.3 4.8l6.4 1.8l0.7 -0.3l1.3 -6zM1846.4 885.8l-7.7 -0.4l-1.3 0.8l-1.5 6.8l4.1 3.9l7.7 -3.6zM1852.2 884.3l1.5 8.9l0.4 0.2l5.6 -2.1l-0.1 -6.1zM1875.3 889.5l0.1 -2.3l-8.1 -4.2l-1.7 1.1l0.1 7.4l5.6 2.7zM1617.8 906.2l2.9 -3.4l-1.8 -8.1l-5.9 2.7l3 8.4zM1707.4 905l3 1.5l3.9 -1.9l-0.2 -10.6l-8.8 3.5zM1720.1 894.1l0.2 9.6l2.4 0.3l5.6 -4.3l-6.1 -6.3zM1736.6 899.9l6 6.6l4.1 -1.6l2 -8.7l-6.2 -2.9zM1756.9 895.9l-2.2 0.8l-2 9l4.6 2.9l3.1 -3.1l-1 -9zM1765.4 896.2l0.9 7.8l5.2 0.7l0.8 -0.5l0.7 -7.2l-4 -1.9zM1788.1 901.7l-6.1 -5.3l-3 1.1l-0.6 6.9l7.5 4.9l2.7 -5.8zM1802.6 893l-8.5 7.9l0 0.1l9.7 1l2.5 -2.5zM1817.9 902.1l4.5 -0.8l2.6 -4.4l-3.9 -1.1l-5.5 4.3zM1830.9 907.3l5.4 -5.3l0 -0.3l-4.4 -4.3l-0.4 0.1l-3.5 6.2zM1842.5 902.3l6.9 8.5l4.2 -3.3l-2.4 -8.8l-0.3 -0.3zM1617.8 917.9l-1.4 -5.8l-2.6 -0.7l-6.3 1.7l-1.5 3.2l9.4 3.9zM1713.7 911.6l0.5 4.1l2.1 2.8l8.3 -1.4l-3.1 -7.2l-3.6 -0.4zM1731.2 917.4l1.9 1.2l3.2 -1.6l2.1 -6.2l-6.1 -6.6l-5.1 3.9zM1744.2 912.3l-1.9 5.6l6.7 4.1l6.7 -5.2l-0.6 -2.5l-6.1 -3.8zM1761 913.3l0.7 2.7l3.1 1.8l2.9 -0.8l1.1 -6.6l-4.2 -0.6zM1784.5 916.2l-0.1 -0.8l-9.2 -5.9l-0.2 0.1l-1.3 7.9l5 1.9zM1810.5 903.7l-2.6 2.7l-0 10.5l0.4 0.2l6.8 -0.9l-0.9 -9.4zM1826.6 916.1l0.8 -3.6l-4.3 -5.2l-2.8 0.5l0.9 9l2.6 1.3zM1623.9 922.8l-2 -0.5l-3.1 2.9l-1 5.3l3 2.9l6.4 -0.5zM1635.4 934.3l4.9 -3.9l-0.2 -7l-4 -3.3l-6.1 2.1l3.7 11.3zM1735.6 924.1l-0.5 2.5l5.5 6.9l6 -5.1l-0.2 -1l-7.8 -4.8zM1761.4 922.8l-2.1 -1.2l-6.9 5.3l0.2 1.3l4.3 4.1l4.5 -1zM1774.5 930.2l1 -5.6l-5.3 -2l-2.8 0.7l0 8.8l2.4 1.5zM1583.7 937l-7.2 5l-0.3 0.8l3.5 3.4l7.5 -6l-0.3 -1.4zM1513.1 959.2l8.2 -1.8l-0.2 -7.5l-6.5 -3.1l-3.4 5.2zM1551.5 948.3l4.5 5.4l4.3 -2.3l1.5 -4.4l-5 -3.9zM1649.9 956.1l3.8 -4.1l0.3 -1.2l-9.2 -0.8l1.1 4.6zM1761.6 952.6l-8.5 -3.8l-2.7 1.3l-0.6 3.6l6.9 5.5l4.9 -5.6zM1815.5 946.2l-0.9 0.6l-1.9 7.7l4.4 4.7l5 -3.3l0.7 -3.8zM1522.3 972.9l3.9 -1l-1 -8.3l-1.2 -0.6l-9.8 2.1l0.1 3.7zM1754.2 965.8l-0 -1l-7.9 -6.2l-0.2 0.2l-1.8 10.9l1.6 0.4zM1930.7 962.1l-4.4 8.7l1.8 1.5l8.3 -3.9l0.1 -2.5z" fill="#f28a30" stroke="#f28a30" stroke-width="5" stroke-linejoin="round"/>
<path d="M1856.6 427.4l6 5.7l1.6 -0.4l3.6 -8.5l-7.7 -2.5l-3.3 2.4zM1882 426.9l-5.7 -3l-2.2 0.8l-3.9 9.1l6.4 2.8l1.7 -0.5l3.7 -6.4zM1842.2 441.1l-0 -5.2l-3.4 -1.2l-5 1.9l-0.4 3.1l6.2 2.9zM1853.1 432.4l-4.9 3l0 5.9l6.2 4.1l2.4 -2.6l1.6 -5.4zM1864.2 438.9l-1.1 3.7l7.3 3.3l2 -4.6l-6.4 -2.8zM1939.7 436l-0.3 4.9l6.1 3.4l4.1 -3.2l0 -2.4l-6.3 -4.8zM1830.8 454.1l4.9 -1.7l0.7 -4.7l-5.7 -2.6l-2.2 2.1zM1848 456.6l3.8 -4.6l0 -1.1l-6.7 -4.5l-2.6 1.4l-0.8 5.3zM1857.8 451.3l8 4.1l3.9 -1.5l-0.4 -1.9l-9.1 -4.1l-2.4 2.6zM1935.7 447.1l-0.9 7.9l2.2 1.3l6.9 -2.9l-0.8 -3.5l-6.4 -3.6zM1997.4 457.3l6.9 -7.7l-7.1 -3.3l-5.3 2.7zM1845.5 466.2l0.2 -4l-7.6 -4.2l-4.6 1.5l4 8.2l2.3 1.6zM1853.8 467.9l7.4 -1.4l1.1 -6.2l-6.8 -3.4l-3.8 4.7l-0.2 4.8zM1867 467.7l3 2.1l4 -3.5l1.5 -5.8l-2.6 -1.4l-4.6 1.8zM1885.9 471.1l5.8 -4.1l-0.6 -2.9l-9 -2.8l-0.6 0.1l-1.4 5.4zM1908.2 469.3l0.2 -6.2l-8.3 -4.4l-3.2 3.8l0.8 4.3l5.3 4.8zM1927.5 468.2l3 1l4.7 -1.8l-1.1 -5.8l-2.6 -1.6l-3.6 1.7zM1946.5 469.9l3.7 -8.7l-3.3 -2.5l-6.7 2.8l1.1 5.8zM1952.1 472l7.6 0.5l4.5 -7.5l-1.2 -3.5l-0.6 -0.3l-6.3 1.6zM1856.8 473.5l2.3 9.6l2.3 1l6.3 -6.1l-0.3 -2.8l-4.3 -2.9zM1923.3 482.8l6.2 -1.4l-1.5 -6.7l-3.2 -1l-2.3 1.5zM1945 475.8l-6.6 -3.2l-4.3 1.7l1.6 7.3l4.8 2.3l3.5 -3zM1963.6 484.3l-3.9 -5.8l-9 -0.6l-0.6 3.1l6.3 4zM1838.6 483.7l-3 3.5l0.8 5.7l5.4 2.4l2.2 -1.4l3.7 -5.5zM1850.8 494.6l8.9 3l2.5 -1.5l-2.4 -6.2l-3.2 -1.3l-2.6 1.1zM1880 495.3l9.1 -4.5l-6.3 -6.6l-2.5 0.4zM1947 486.2l-3.3 2.8l-0.5 3.7l7.3 5.2l1.3 -0.7l0.7 -7.6zM1963.8 490.3l-5.4 0.5l-0.6 5.8l5.8 1.1l1.8 -1zM1834.1 498.4l-4 3.4l-1.8 8.5l2.7 1l9.9 -5.9l-1.4 -4.6zM1845.6 500l1.5 5.1l3.7 3.6l1.3 -0.5l3.5 -5.7l-9.1 -3.1zM1869.2 502.4l-3.2 -1.6l-3.7 2.3l-3.7 5.9l7.8 2.9l2.5 -2.5zM1884.2 500l4.7 6.7l5.4 0.2l-0.6 -9.1l-1.6 -1.8zM1955.1 502.1l-1.9 1.2l-0.3 6.1l0.8 0.9l4.8 -1.7l1.7 -5.5zM1969 501.5l-2.4 1.4l-2.1 6.6l2.6 1.4l7.6 -5.8l-0.3 -1.1zM1844 510.5l-8.3 5l4.2 5.6l6.4 -3.2l0.7 -4.6zM1884.5 517.6l1.9 6.5l6.4 -2l0.4 -9.3l-4.5 -0.1zM2028.3 536.3l2.9 2.8l4.3 -1.4l1.9 -10.7l-4.7 -1.7l-2.8 1.6zM2044.5 527.5l-1.1 0.2l-1.9 10.3l3.6 1.2l4.4 -5.5l-1.2 -3.8zM1839.7 537.2l-4.5 5.4l0.4 3.1l8.5 -0l3.1 -6.1zM1873.2 559.4l5.5 7.9l6.2 -6.2l0.1 -6.3l-3.6 -1.4zM1865.9 575.6l5 1.3l4.2 -4.3l-6.5 -9.2l-3.9 1.7zM1872.4 594.2l-5 2.9l-0.3 5.1l4.8 3.6l5.3 -4l-0.2 -5.1zM1884.4 610.3l-4.2 -3.2l-5.3 4l0.1 2.1l4.9 3.6l5.6 -1.8zM1740.9 650.8l0 3l11.3 3.3l1.7 -1.9l-0.1 -4.1l-6.6 -3.6zM1759.9 654.7l4.1 2.4l5 -4l-2.3 -4.9l-2.8 -0.6l-4.1 3.2zM1738.1 667.2l0.1 0l10.2 -1.8l0.9 -2.9l-9.9 -2.9l-0.1 0.2zM1608.7 673.4l-0.2 4.8l5.9 4.7l1.9 -0.3l3.8 -11.1l-7.4 -0.3zM1626 672.7l-3.8 11.3l2.7 1.8l8.5 -4.9l-1.4 -4.9zM1684.6 680.2l2.8 4.9l8.2 -3l-0.3 -8.7l-2.7 -0.3l-8.1 3.8zM1701.6 681.4l6.3 -1l-2.9 -7.7l-2.8 -1.1l-1 0.6zM1723 679.4l0.9 -5.4l-2.6 -2l-9.8 1l2.9 7.9l4.4 2.9zM1585.1 692.9l3.2 2l6.8 -2.6l1.2 -6.9l-3.9 -1.1zM1660.4 690.3l7.8 3.9l1.7 -0.4l-0.4 -5.8l-6.3 -2.7l-2.3 2.1zM1675.5 687.8l0.4 6l4.9 1.3l1.5 -1.9l0.7 -3.8l-2.5 -4.3zM1697.3 687.8l-8.5 3.2l-0.2 1.3l11.1 2.9l0.4 -0.2zM1706 693.7l0.5 0.1l8.7 -5.1l-4 -2.8l-7.7 1.2zM1606.7 704.3l7.1 4.3l0.1 -0l0.4 -4.3l-5 -6.1l-3.3 0.9zM1654.4 698.4l0.9 4.8l7.4 5.7l0.8 -0.2l1.2 -9.6l-7.1 -3.5zM1670.6 699.8l-1.1 9.3l3.6 1.4l6.9 -3.4l-0.8 -6.2l-6.2 -1.7zM1685.9 705.8l8.4 -0.5l1.9 -4.8l-9.9 -2.6l-1.2 1.5zM1703.1 711.2l4.2 -5l-2.5 -6.7l-0.5 -0l-1.7 1l-2.8 7.1zM1653.1 709l-6.8 8.4l0.6 2.3l0.1 0.1l9 -1.8l2.3 -4.9zM1666 714.2l-1.9 0.5l-2.5 5.6l4.8 6.3l4 -3.6l-0.1 -7.1zM1649.7 725.4l0.9 5.5l4.5 3.3l6 -4.7l-4.2 -5.5zM1547.3 784l5.5 1.4l1.3 -1.1l1.1 -2.8l-5.6 -4.6l-1.4 0.4zM1539.2 795.4l6.7 6.3l5.1 -1.7l0.7 -1.5l-0.8 -7.4l-6.8 -1.7l-4.4 1.4zM1526.5 810.1l-2.2 -4.1l-3.5 -0.6l-3.7 9.1l2 1zM1532.7 809.1l4.8 4l1.6 -0.4l2.6 -6.7l-6 -5.6l-5.5 3.8zM1558.3 814.5l-6.2 -8.5l-4.6 1.6l-2.6 6.8l3 2.5zM1556.7 802.1l7.1 9.7l4.3 -1.7l1.7 -5.3l-1.7 -3.2l-11.4 0.3zM1574 811.3l3.3 2.5l10.2 -4.9l-0.6 -4.1l-1.6 -0.3l-9.9 2.5zM2017 804.4l1.4 5.5l3.2 1.5l7.9 -2l1.1 -3l-7.8 -4.6zM2040.4 804.7l-3.7 2.4l-1.5 4.3l3.9 5l5.4 -1.7zM1530.2 814.8l-6.4 4.7l2.6 2.9l2.4 0.7l4 -6.2zM1534.1 825.9l10.3 3.1l-0.3 -7.4l-3.6 -3.1l-1.9 0.5zM1559.3 820.4l-9.1 2.1l0.2 5.8l4.2 1.5l5.2 -3.4zM1565 817.7l0.9 8.6l6.8 4.6l4.1 -5.1l-2.4 -6.7l-4.4 -3.3zM1997 820.7l-0.9 3.9l5.5 5l5.6 -2.7l-0.7 -4.4zM2033.4 823.6l1.2 -3.2l-4 -5l-5.4 1.3l2 5.8l5.1 1.9zM1493.4 829.4l-6.4 5.9l4.8 7.1l6.9 -7.6l-1.7 -3.8zM1517.8 838.4l8.9 -1.9l1 -7.5l-2.2 -0.6l-6.9 6zM1533.4 832l-0.8 5.8l4.1 4l2.7 -1.8l1.8 -5.7zM1563 831.5l-4.7 3.1l0.2 1.3l6.7 4.2l3.8 -4.5zM1577.4 834.7l5.4 5.2l5.4 -3.1l2.4 -7l-9.1 -0.4zM1467 840.7l-4.9 3.9l-0.1 2.9l3.8 2.5l6.8 -0.8l-0.2 -7.4zM1482.1 838.7l-3.7 2.2l0.2 9.4l4.8 3.5l5.2 -3.5l-0.1 -2.1zM1502.7 839.3l-8.2 9l0.1 1.3l4.4 1.7l4.9 -2.7l3.4 -6.5zM1514.2 843.4l-0.9 0.2l-3.3 6.3l3.3 2.5l4 -2.5l-2.2 -6.1zM1521.5 843.8l1.9 5.5l4.2 3.2l5.5 -4.6l0.1 -1.1l-4.8 -4.6zM1568 848.7l7 3.4l4.5 -4.2l-0.1 -3l-5.8 -5.5l-4.9 6zM1457.6 865.2l5.5 -1.6l-0.9 -8.8l-3.1 -2.1l-2.5 1.9zM1474.8 855l-6.5 0.7l0.8 8.2l4.8 2.3l5.7 -5.5l0.4 -1.9zM1511.3 862l-0.8 -4.3l-4.6 -3.3l-3.1 1.6l1.7 5l3.7 2.9zM1517.2 860.8l6.5 0.9l0.7 -4l-3.7 -2.9l-4.2 2.6zM1540.9 857.9l-5 -4.5l-5.5 4.6l-1 6.5l0.3 0.7l7.8 1.6l2.9 -2.2zM1562.3 862.5l4.8 3.9l6.1 -3.9l-0.5 -4.9l-7.9 -3.8l-3 1.8zM1614.7 862.7l0.2 -5.7l-2.2 -2.5l-6.2 2.7l2.7 8.7l1.3 0.3zM1453.8 870.4l-7.9 1.1l0.5 8.7l3.4 1.9l4.4 -2.9zM1471.5 876.4l-0 -4.6l-5.5 -2.7l-6.2 1.7l0.4 7.6l6.7 1.6zM1482.8 879.2l7.6 -1.5l-1 -5l-7 -6.4l-5 4.8l0.1 5zM1496.1 875.8l8.9 -1.7l0 -5.1l-3 -2.3l-6.5 5.6zM1511.3 875.6l9.3 -0.2l3.8 -7.5l-0.1 -0.1l-8.9 -1.2l-4.4 2.6l-0 6.1zM1537 877l-1.2 -4.4l-6.4 -1.4l-3.6 7.2l2 4zM1554.7 869.8l0.9 5.2l5.2 1l2.9 -2.4l0.1 -2.2l-4.8 -3.8zM1980.2 875.3l8 3.1l0.6 -0.2l3.3 -10l-8.2 -1.5zM1424 884.2l-0.1 8.5l6.9 1.9l1.2 -0.5l0.3 -8l-6.4 -2.7zM1446.6 887.2l-3.5 -2l-4.8 1.3l-0.3 7.8l3 1.3zM1453.4 886.9l5.7 7.2l5.8 -5.3l-0.2 -3.1l-6.8 -1.7zM1496.7 881.8l2.7 8.6l6.5 1.1l0.2 -0.1l1 -11.6l-0.1 -0zM1512.2 891l8.4 2.2l3.1 -2.8l-0.2 -3.1l-2.9 -5.9l-7.7 0.2zM1990.7 894.1l1.8 2.4l6.8 -5.1l-1.5 -5.9l-6.5 -1.9l-0.2 0.1zM1422.5 898.6l-1.8 4.3l3.7 4.2l3.1 -0.9l0.4 -6.2zM1440.9 904.8l-1.2 -3.2l-4.9 -2.2l-0.9 0.4l-0.4 6.8l4.6 2zM1455.6 903.2l0.1 -3.7l-5.5 -7l-4.8 7.2l1 2.7zM1472.8 898.8l-4.9 -4.6l-6.3 5.7l-0 4.2l2.8 1.2l6.3 -1.3zM1481.8 898.8l-3.1 1.4l-2.2 5.6l5.1 4.8l6.8 -6.4l-0.3 -3.2zM1503.3 897.2l-5.3 -0.9l-4 3.7l0.4 3.6l5.2 3.5l3.3 -1.3zM1524.5 897.7l0.3 6.4l4.9 2.4l7 -6.9l0.1 -1.7l-9.3 -2.9zM1545.5 904.7l5.7 -1.7l-5 -7.7l-3.3 2.1l-0.2 2.8zM1561.7 904.8l3.3 -8.4l-5.2 -4l-7.2 1.7l5.5 8.5zM1419.5 915l0.7 -3.6l-3.9 -4.4l-7.1 2.1l1.3 8.9l1.7 1zM1436 914.2l-5.8 -2.5l-4.2 1.2l-0.5 2.8l4.8 3.8zM1453.3 909l-7.6 -0.7l-3.5 4.9l0 0.6l4.6 4.2l3.9 -2.8zM1459.6 909.8l-2.8 6.5l5.5 4.6l0.1 -0.1l-1.1 -10.3zM1479 918.1l-0.2 -2l-6.8 -6.2l-4.6 0.9l0.8 8.1l9.1 0.5zM1485 917.7l1.7 1.1l8.9 -3.3l0.5 -3.6l-4.2 -2.7l-7.1 6.6zM1501.5 916.7l2.6 2.9l7.8 -2.9l-0.1 -2.1l-6.2 -3.4l-3.5 1.4zM1517.8 914.1l0.1 3.7l3.2 4.2l9.2 -4.6l-2.3 -5l-5.5 -2.8zM1540.5 916.5l0.6 -7.6l-2 -3.2l-5.2 5.1l2.6 5.6l1.5 0.6zM1546.5 916.8l10.9 -4.2l0.9 -2.8l-2.8 -1.8l-8.5 2.5zM1597.7 904.2l-6.6 7.8l0.8 3l5.5 2l2.2 -1.2l2.3 -5zM1427.5 930.2l-0.1 -5.3l-5.5 -4.4l-6.1 3.3l2.3 6.5l2.6 1.1zM1453 920.9l-3.3 2.4l0.6 4.6l1.9 1.8l6.9 -2.8l0.2 -0.7zM1474.2 925.2l-7.3 -0.4l-1.4 1.8l-0.5 1.6l4.1 3.4l3.3 -0.7zM1482.3 923.1l-1.5 1.2l-2.5 8l3.3 2.7l5.8 -3.1l-3.4 -7.7zM1490.4 923.9l3.1 7.1l2.3 1l2.8 -1.1l1.4 -6.9l-2.5 -2.8zM1505.8 925.3l-1.2 6l7.4 2.9l5 -5.4l0.2 -2.1l-3.4 -4.3zM1523.1 928.4l7 4.1l3.4 -0.2l1 -10.2l-0.1 -0.1l-11.3 5.7zM1539.4 933.8l7.8 -3.1l-3.1 -8.3l-1 -0.4l-2.6 0.6zM1550.3 921.8l3.1 8.5l1.9 1.1l6.4 -6.2l-3.3 -6.6zM1417.2 946.7l0.2 -10.2l-1.3 -0.5l-8.1 6.3l-0.4 2.1l8.5 2.8zM1425.4 946.9l5 -6.4l-1.6 -4.4l-5.4 0.9l-0.2 9.2zM1444.1 943.9l4.1 -3l0.3 -6.5l-2 -1.8l-11.6 2.6l1.3 3.9zM1465.1 936.1l-4.1 -3.5l-6.5 2.6l-0.3 5.5l4.1 2.3l5.9 -1.8zM1489.1 950l3.3 -2.7l0.2 -10.2l-1.2 -0.5l-7.4 3.9l-0.8 5.6zM1506.6 948.1l3.8 -5.9l-0.3 -2.3l-9 -3.6l-2.5 1l-0.2 9.1zM1520.5 933.8l-4.5 5l0.3 2.1l7.5 3.7l2 -7.6zM1537 945l-1 -6.2l-0.8 -0.6l-3.5 0.2l-1.6 5.7zM1550.8 935.7l-8.7 3.4l1 5.9l3.1 0.1l7.2 -7l-0.3 -1.1zM1565.4 930l-6.3 6.1l0.2 1.3l6.6 5.3l4.5 -1.5l0.3 -0.9zM1438.5 955.8l1.2 -0.4l1.2 -6.4l-6.4 -3.9l-4.4 5.5l2.9 5.3zM1449 958.5l7.8 -2.4l-1.5 -7.9l-4 -2.2l-4.4 3.3l-1.3 6.8zM1465.7 957.7l1.3 -0.5l3.1 -7l-3.9 -3.3l-4.8 1.4l1.5 7.9zM1482.3 963.5l3.9 -4.6l0.1 -3.5l-6.8 -4.5l-3.6 1l-2.8 6.4zM1507 959.7l-1.5 -5.7l-9.4 -2l-3.8 3.2l-0 2.9l5.3 2.5zM1527.1 949.8l0.3 8.2l0.8 0.4l6.8 -2.5l1.3 -5zM1542.5 951l-1.6 6.3l4.2 3.9l6.6 -2.9l0.1 -0.2l-5.8 -7zM1572.4 959.3l5.2 -5.2l-0.7 -2.3l-5 -4.8l-4.3 1.4l-1.4 4.4zM1583.4 952.6l4.3 1.7l7.2 -4.3l-4.7 -4.6l-7.2 5.8zM1601.4 951.6l4.4 8.4l5.3 -5.8l-1.7 -3l-4.9 -1.5zM1460.2 974.2l2 -11.6l-2.2 -1.1l-8.1 2.4l0.7 3.9zM1479.9 969l-10.9 -6.2l-0.8 0.3l-1.7 9.8l8 0.3l5.4 -4zM1495 974.4l-0.7 -8.8l-4.3 -1.9l-4.1 4.8l-0 1.1l5.9 6.4zM1505.7 973.4l2.6 -3.7l-0.1 -4.1l-7.9 0.8l0.6 6.8zM1533.3 973.3l7.7 -3.4l0.4 -4l-4.6 -4.2l-5.6 2l1.1 8.8zM1546.9 970.7l3.2 2.8l6.6 -3.4l-3.7 -5.8l-5.7 2.5zM1569.2 964.7l-7 -7.5l-4.5 2.4l-0.3 0.6l5.6 8.5l3.2 0.9l2.8 -3.2zM1575.2 965l-0.1 0.6l11.2 3.5l0.7 -0.3l-1.6 -9l-3.7 -1.4zM1591.4 959.1l1.7 9.1l5.5 1.9l3.5 -1.4l0 -2.8l-5.3 -10z" fill="#28447e" stroke="#28447e" stroke-width="6.2" stroke-linejoin="round"/>
<path d="M1856.6 427.4l6 5.7l1.6 -0.4l3.6 -8.5l-7.7 -2.5l-3.3 2.4zM1882 426.9l-5.7 -3l-2.2 0.8l-3.9 9.1l6.4 2.8l1.7 -0.5l3.7 -6.4zM1842.2 441.1l-0 -5.2l-3.4 -1.2l-5 1.9l-0.4 3.1l6.2 2.9zM1853.1 432.4l-4.9 3l0 5.9l6.2 4.1l2.4 -2.6l1.6 -5.4zM1864.2 438.9l-1.1 3.7l7.3 3.3l2 -4.6l-6.4 -2.8zM1939.7 436l-0.3 4.9l6.1 3.4l4.1 -3.2l0 -2.4l-6.3 -4.8zM1830.8 454.1l4.9 -1.7l0.7 -4.7l-5.7 -2.6l-2.2 2.1zM1848 456.6l3.8 -4.6l0 -1.1l-6.7 -4.5l-2.6 1.4l-0.8 5.3zM1857.8 451.3l8 4.1l3.9 -1.5l-0.4 -1.9l-9.1 -4.1l-2.4 2.6zM1935.7 447.1l-0.9 7.9l2.2 1.3l6.9 -2.9l-0.8 -3.5l-6.4 -3.6zM1997.4 457.3l6.9 -7.7l-7.1 -3.3l-5.3 2.7zM1845.5 466.2l0.2 -4l-7.6 -4.2l-4.6 1.5l4 8.2l2.3 1.6zM1853.8 467.9l7.4 -1.4l1.1 -6.2l-6.8 -3.4l-3.8 4.7l-0.2 4.8zM1867 467.7l3 2.1l4 -3.5l1.5 -5.8l-2.6 -1.4l-4.6 1.8zM1885.9 471.1l5.8 -4.1l-0.6 -2.9l-9 -2.8l-0.6 0.1l-1.4 5.4zM1908.2 469.3l0.2 -6.2l-8.3 -4.4l-3.2 3.8l0.8 4.3l5.3 4.8zM1927.5 468.2l3 1l4.7 -1.8l-1.1 -5.8l-2.6 -1.6l-3.6 1.7zM1946.5 469.9l3.7 -8.7l-3.3 -2.5l-6.7 2.8l1.1 5.8zM1952.1 472l7.6 0.5l4.5 -7.5l-1.2 -3.5l-0.6 -0.3l-6.3 1.6zM1856.8 473.5l2.3 9.6l2.3 1l6.3 -6.1l-0.3 -2.8l-4.3 -2.9zM1923.3 482.8l6.2 -1.4l-1.5 -6.7l-3.2 -1l-2.3 1.5zM1945 475.8l-6.6 -3.2l-4.3 1.7l1.6 7.3l4.8 2.3l3.5 -3zM1963.6 484.3l-3.9 -5.8l-9 -0.6l-0.6 3.1l6.3 4zM1838.6 483.7l-3 3.5l0.8 5.7l5.4 2.4l2.2 -1.4l3.7 -5.5zM1850.8 494.6l8.9 3l2.5 -1.5l-2.4 -6.2l-3.2 -1.3l-2.6 1.1zM1880 495.3l9.1 -4.5l-6.3 -6.6l-2.5 0.4zM1947 486.2l-3.3 2.8l-0.5 3.7l7.3 5.2l1.3 -0.7l0.7 -7.6zM1963.8 490.3l-5.4 0.5l-0.6 5.8l5.8 1.1l1.8 -1zM1834.1 498.4l-4 3.4l-1.8 8.5l2.7 1l9.9 -5.9l-1.4 -4.6zM1845.6 500l1.5 5.1l3.7 3.6l1.3 -0.5l3.5 -5.7l-9.1 -3.1zM1869.2 502.4l-3.2 -1.6l-3.7 2.3l-3.7 5.9l7.8 2.9l2.5 -2.5zM1884.2 500l4.7 6.7l5.4 0.2l-0.6 -9.1l-1.6 -1.8zM1955.1 502.1l-1.9 1.2l-0.3 6.1l0.8 0.9l4.8 -1.7l1.7 -5.5zM1969 501.5l-2.4 1.4l-2.1 6.6l2.6 1.4l7.6 -5.8l-0.3 -1.1zM1844 510.5l-8.3 5l4.2 5.6l6.4 -3.2l0.7 -4.6zM1884.5 517.6l1.9 6.5l6.4 -2l0.4 -9.3l-4.5 -0.1zM2028.3 536.3l2.9 2.8l4.3 -1.4l1.9 -10.7l-4.7 -1.7l-2.8 1.6zM2044.5 527.5l-1.1 0.2l-1.9 10.3l3.6 1.2l4.4 -5.5l-1.2 -3.8zM1839.7 537.2l-4.5 5.4l0.4 3.1l8.5 -0l3.1 -6.1zM1873.2 559.4l5.5 7.9l6.2 -6.2l0.1 -6.3l-3.6 -1.4zM1865.9 575.6l5 1.3l4.2 -4.3l-6.5 -9.2l-3.9 1.7zM1872.4 594.2l-5 2.9l-0.3 5.1l4.8 3.6l5.3 -4l-0.2 -5.1zM1884.4 610.3l-4.2 -3.2l-5.3 4l0.1 2.1l4.9 3.6l5.6 -1.8zM1740.9 650.8l0 3l11.3 3.3l1.7 -1.9l-0.1 -4.1l-6.6 -3.6zM1759.9 654.7l4.1 2.4l5 -4l-2.3 -4.9l-2.8 -0.6l-4.1 3.2zM1738.1 667.2l0.1 0l10.2 -1.8l0.9 -2.9l-9.9 -2.9l-0.1 0.2zM1608.7 673.4l-0.2 4.8l5.9 4.7l1.9 -0.3l3.8 -11.1l-7.4 -0.3zM1626 672.7l-3.8 11.3l2.7 1.8l8.5 -4.9l-1.4 -4.9zM1684.6 680.2l2.8 4.9l8.2 -3l-0.3 -8.7l-2.7 -0.3l-8.1 3.8zM1701.6 681.4l6.3 -1l-2.9 -7.7l-2.8 -1.1l-1 0.6zM1723 679.4l0.9 -5.4l-2.6 -2l-9.8 1l2.9 7.9l4.4 2.9zM1585.1 692.9l3.2 2l6.8 -2.6l1.2 -6.9l-3.9 -1.1zM1660.4 690.3l7.8 3.9l1.7 -0.4l-0.4 -5.8l-6.3 -2.7l-2.3 2.1zM1675.5 687.8l0.4 6l4.9 1.3l1.5 -1.9l0.7 -3.8l-2.5 -4.3zM1697.3 687.8l-8.5 3.2l-0.2 1.3l11.1 2.9l0.4 -0.2zM1706 693.7l0.5 0.1l8.7 -5.1l-4 -2.8l-7.7 1.2zM1606.7 704.3l7.1 4.3l0.1 -0l0.4 -4.3l-5 -6.1l-3.3 0.9zM1654.4 698.4l0.9 4.8l7.4 5.7l0.8 -0.2l1.2 -9.6l-7.1 -3.5zM1670.6 699.8l-1.1 9.3l3.6 1.4l6.9 -3.4l-0.8 -6.2l-6.2 -1.7zM1685.9 705.8l8.4 -0.5l1.9 -4.8l-9.9 -2.6l-1.2 1.5zM1703.1 711.2l4.2 -5l-2.5 -6.7l-0.5 -0l-1.7 1l-2.8 7.1zM1653.1 709l-6.8 8.4l0.6 2.3l0.1 0.1l9 -1.8l2.3 -4.9zM1666 714.2l-1.9 0.5l-2.5 5.6l4.8 6.3l4 -3.6l-0.1 -7.1zM1649.7 725.4l0.9 5.5l4.5 3.3l6 -4.7l-4.2 -5.5zM1547.3 784l5.5 1.4l1.3 -1.1l1.1 -2.8l-5.6 -4.6l-1.4 0.4zM1539.2 795.4l6.7 6.3l5.1 -1.7l0.7 -1.5l-0.8 -7.4l-6.8 -1.7l-4.4 1.4zM1526.5 810.1l-2.2 -4.1l-3.5 -0.6l-3.7 9.1l2 1zM1532.7 809.1l4.8 4l1.6 -0.4l2.6 -6.7l-6 -5.6l-5.5 3.8zM1558.3 814.5l-6.2 -8.5l-4.6 1.6l-2.6 6.8l3 2.5zM1556.7 802.1l7.1 9.7l4.3 -1.7l1.7 -5.3l-1.7 -3.2l-11.4 0.3zM1574 811.3l3.3 2.5l10.2 -4.9l-0.6 -4.1l-1.6 -0.3l-9.9 2.5zM2017 804.4l1.4 5.5l3.2 1.5l7.9 -2l1.1 -3l-7.8 -4.6zM2040.4 804.7l-3.7 2.4l-1.5 4.3l3.9 5l5.4 -1.7zM1530.2 814.8l-6.4 4.7l2.6 2.9l2.4 0.7l4 -6.2zM1534.1 825.9l10.3 3.1l-0.3 -7.4l-3.6 -3.1l-1.9 0.5zM1559.3 820.4l-9.1 2.1l0.2 5.8l4.2 1.5l5.2 -3.4zM1565 817.7l0.9 8.6l6.8 4.6l4.1 -5.1l-2.4 -6.7l-4.4 -3.3zM1997 820.7l-0.9 3.9l5.5 5l5.6 -2.7l-0.7 -4.4zM2033.4 823.6l1.2 -3.2l-4 -5l-5.4 1.3l2 5.8l5.1 1.9zM1493.4 829.4l-6.4 5.9l4.8 7.1l6.9 -7.6l-1.7 -3.8zM1517.8 838.4l8.9 -1.9l1 -7.5l-2.2 -0.6l-6.9 6zM1533.4 832l-0.8 5.8l4.1 4l2.7 -1.8l1.8 -5.7zM1563 831.5l-4.7 3.1l0.2 1.3l6.7 4.2l3.8 -4.5zM1577.4 834.7l5.4 5.2l5.4 -3.1l2.4 -7l-9.1 -0.4zM1467 840.7l-4.9 3.9l-0.1 2.9l3.8 2.5l6.8 -0.8l-0.2 -7.4zM1482.1 838.7l-3.7 2.2l0.2 9.4l4.8 3.5l5.2 -3.5l-0.1 -2.1zM1502.7 839.3l-8.2 9l0.1 1.3l4.4 1.7l4.9 -2.7l3.4 -6.5zM1514.2 843.4l-0.9 0.2l-3.3 6.3l3.3 2.5l4 -2.5l-2.2 -6.1zM1521.5 843.8l1.9 5.5l4.2 3.2l5.5 -4.6l0.1 -1.1l-4.8 -4.6zM1568 848.7l7 3.4l4.5 -4.2l-0.1 -3l-5.8 -5.5l-4.9 6zM1457.6 865.2l5.5 -1.6l-0.9 -8.8l-3.1 -2.1l-2.5 1.9zM1474.8 855l-6.5 0.7l0.8 8.2l4.8 2.3l5.7 -5.5l0.4 -1.9zM1511.3 862l-0.8 -4.3l-4.6 -3.3l-3.1 1.6l1.7 5l3.7 2.9zM1517.2 860.8l6.5 0.9l0.7 -4l-3.7 -2.9l-4.2 2.6zM1540.9 857.9l-5 -4.5l-5.5 4.6l-1 6.5l0.3 0.7l7.8 1.6l2.9 -2.2zM1562.3 862.5l4.8 3.9l6.1 -3.9l-0.5 -4.9l-7.9 -3.8l-3 1.8zM1614.7 862.7l0.2 -5.7l-2.2 -2.5l-6.2 2.7l2.7 8.7l1.3 0.3zM1453.8 870.4l-7.9 1.1l0.5 8.7l3.4 1.9l4.4 -2.9zM1471.5 876.4l-0 -4.6l-5.5 -2.7l-6.2 1.7l0.4 7.6l6.7 1.6zM1482.8 879.2l7.6 -1.5l-1 -5l-7 -6.4l-5 4.8l0.1 5zM1496.1 875.8l8.9 -1.7l0 -5.1l-3 -2.3l-6.5 5.6zM1511.3 875.6l9.3 -0.2l3.8 -7.5l-0.1 -0.1l-8.9 -1.2l-4.4 2.6l-0 6.1zM1537 877l-1.2 -4.4l-6.4 -1.4l-3.6 7.2l2 4zM1554.7 869.8l0.9 5.2l5.2 1l2.9 -2.4l0.1 -2.2l-4.8 -3.8zM1980.2 875.3l8 3.1l0.6 -0.2l3.3 -10l-8.2 -1.5zM1424 884.2l-0.1 8.5l6.9 1.9l1.2 -0.5l0.3 -8l-6.4 -2.7zM1446.6 887.2l-3.5 -2l-4.8 1.3l-0.3 7.8l3 1.3zM1453.4 886.9l5.7 7.2l5.8 -5.3l-0.2 -3.1l-6.8 -1.7zM1496.7 881.8l2.7 8.6l6.5 1.1l0.2 -0.1l1 -11.6l-0.1 -0zM1512.2 891l8.4 2.2l3.1 -2.8l-0.2 -3.1l-2.9 -5.9l-7.7 0.2zM1990.7 894.1l1.8 2.4l6.8 -5.1l-1.5 -5.9l-6.5 -1.9l-0.2 0.1zM1422.5 898.6l-1.8 4.3l3.7 4.2l3.1 -0.9l0.4 -6.2zM1440.9 904.8l-1.2 -3.2l-4.9 -2.2l-0.9 0.4l-0.4 6.8l4.6 2zM1455.6 903.2l0.1 -3.7l-5.5 -7l-4.8 7.2l1 2.7zM1472.8 898.8l-4.9 -4.6l-6.3 5.7l-0 4.2l2.8 1.2l6.3 -1.3zM1481.8 898.8l-3.1 1.4l-2.2 5.6l5.1 4.8l6.8 -6.4l-0.3 -3.2zM1503.3 897.2l-5.3 -0.9l-4 3.7l0.4 3.6l5.2 3.5l3.3 -1.3zM1524.5 897.7l0.3 6.4l4.9 2.4l7 -6.9l0.1 -1.7l-9.3 -2.9zM1545.5 904.7l5.7 -1.7l-5 -7.7l-3.3 2.1l-0.2 2.8zM1561.7 904.8l3.3 -8.4l-5.2 -4l-7.2 1.7l5.5 8.5zM1419.5 915l0.7 -3.6l-3.9 -4.4l-7.1 2.1l1.3 8.9l1.7 1zM1436 914.2l-5.8 -2.5l-4.2 1.2l-0.5 2.8l4.8 3.8zM1453.3 909l-7.6 -0.7l-3.5 4.9l0 0.6l4.6 4.2l3.9 -2.8zM1459.6 909.8l-2.8 6.5l5.5 4.6l0.1 -0.1l-1.1 -10.3zM1479 918.1l-0.2 -2l-6.8 -6.2l-4.6 0.9l0.8 8.1l9.1 0.5zM1485 917.7l1.7 1.1l8.9 -3.3l0.5 -3.6l-4.2 -2.7l-7.1 6.6zM1501.5 916.7l2.6 2.9l7.8 -2.9l-0.1 -2.1l-6.2 -3.4l-3.5 1.4zM1517.8 914.1l0.1 3.7l3.2 4.2l9.2 -4.6l-2.3 -5l-5.5 -2.8zM1540.5 916.5l0.6 -7.6l-2 -3.2l-5.2 5.1l2.6 5.6l1.5 0.6zM1546.5 916.8l10.9 -4.2l0.9 -2.8l-2.8 -1.8l-8.5 2.5zM1597.7 904.2l-6.6 7.8l0.8 3l5.5 2l2.2 -1.2l2.3 -5zM1427.5 930.2l-0.1 -5.3l-5.5 -4.4l-6.1 3.3l2.3 6.5l2.6 1.1zM1453 920.9l-3.3 2.4l0.6 4.6l1.9 1.8l6.9 -2.8l0.2 -0.7zM1474.2 925.2l-7.3 -0.4l-1.4 1.8l-0.5 1.6l4.1 3.4l3.3 -0.7zM1482.3 923.1l-1.5 1.2l-2.5 8l3.3 2.7l5.8 -3.1l-3.4 -7.7zM1490.4 923.9l3.1 7.1l2.3 1l2.8 -1.1l1.4 -6.9l-2.5 -2.8zM1505.8 925.3l-1.2 6l7.4 2.9l5 -5.4l0.2 -2.1l-3.4 -4.3zM1523.1 928.4l7 4.1l3.4 -0.2l1 -10.2l-0.1 -0.1l-11.3 5.7zM1539.4 933.8l7.8 -3.1l-3.1 -8.3l-1 -0.4l-2.6 0.6zM1550.3 921.8l3.1 8.5l1.9 1.1l6.4 -6.2l-3.3 -6.6zM1417.2 946.7l0.2 -10.2l-1.3 -0.5l-8.1 6.3l-0.4 2.1l8.5 2.8zM1425.4 946.9l5 -6.4l-1.6 -4.4l-5.4 0.9l-0.2 9.2zM1444.1 943.9l4.1 -3l0.3 -6.5l-2 -1.8l-11.6 2.6l1.3 3.9zM1465.1 936.1l-4.1 -3.5l-6.5 2.6l-0.3 5.5l4.1 2.3l5.9 -1.8zM1489.1 950l3.3 -2.7l0.2 -10.2l-1.2 -0.5l-7.4 3.9l-0.8 5.6zM1506.6 948.1l3.8 -5.9l-0.3 -2.3l-9 -3.6l-2.5 1l-0.2 9.1zM1520.5 933.8l-4.5 5l0.3 2.1l7.5 3.7l2 -7.6zM1537 945l-1 -6.2l-0.8 -0.6l-3.5 0.2l-1.6 5.7zM1550.8 935.7l-8.7 3.4l1 5.9l3.1 0.1l7.2 -7l-0.3 -1.1zM1565.4 930l-6.3 6.1l0.2 1.3l6.6 5.3l4.5 -1.5l0.3 -0.9zM1438.5 955.8l1.2 -0.4l1.2 -6.4l-6.4 -3.9l-4.4 5.5l2.9 5.3zM1449 958.5l7.8 -2.4l-1.5 -7.9l-4 -2.2l-4.4 3.3l-1.3 6.8zM1465.7 957.7l1.3 -0.5l3.1 -7l-3.9 -3.3l-4.8 1.4l1.5 7.9zM1482.3 963.5l3.9 -4.6l0.1 -3.5l-6.8 -4.5l-3.6 1l-2.8 6.4zM1507 959.7l-1.5 -5.7l-9.4 -2l-3.8 3.2l-0 2.9l5.3 2.5zM1527.1 949.8l0.3 8.2l0.8 0.4l6.8 -2.5l1.3 -5zM1542.5 951l-1.6 6.3l4.2 3.9l6.6 -2.9l0.1 -0.2l-5.8 -7zM1572.4 959.3l5.2 -5.2l-0.7 -2.3l-5 -4.8l-4.3 1.4l-1.4 4.4zM1583.4 952.6l4.3 1.7l7.2 -4.3l-4.7 -4.6l-7.2 5.8zM1601.4 951.6l4.4 8.4l5.3 -5.8l-1.7 -3l-4.9 -1.5zM1460.2 974.2l2 -11.6l-2.2 -1.1l-8.1 2.4l0.7 3.9zM1479.9 969l-10.9 -6.2l-0.8 0.3l-1.7 9.8l8 0.3l5.4 -4zM1495 974.4l-0.7 -8.8l-4.3 -1.9l-4.1 4.8l-0 1.1l5.9 6.4zM1505.7 973.4l2.6 -3.7l-0.1 -4.1l-7.9 0.8l0.6 6.8zM1533.3 973.3l7.7 -3.4l0.4 -4l-4.6 -4.2l-5.6 2l1.1 8.8zM1546.9 970.7l3.2 2.8l6.6 -3.4l-3.7 -5.8l-5.7 2.5zM1569.2 964.7l-7 -7.5l-4.5 2.4l-0.3 0.6l5.6 8.5l3.2 0.9l2.8 -3.2zM1575.2 965l-0.1 0.6l11.2 3.5l0.7 -0.3l-1.6 -9l-3.7 -1.4zM1591.4 959.1l1.7 9.1l5.5 1.9l3.5 -1.4l0 -2.8l-5.3 -10z" fill="#3b62b2" stroke="#3b62b2" stroke-width="5" stroke-linejoin="round"/>
</g>
<rect x="1439" y="946.2" width="75" height="7.6" fill="#fff"/>
<text x="1436.3" y="937.2" font-size="20.7" textLength="79.0" lengthAdjust="spacingAndGlyphs" fill="#fff">100 µm</text>
</g>
<rect x="1736.2" y="181.4" width="180.2" height="157.9" fill="none" stroke="#3fbcd6" stroke-width="4"/>
<path d="M1736.2 339.3L1429.7 418.0M1916.4 339.3L2035.0 418.0" stroke="#3fbcd6" stroke-width="2.2" fill="none"/>
<g>
<text x="62.5" y="1188.0" font-size="36.0" font-weight="bold" stroke="#231f20" stroke-width="0.9">d</text>
<text x="396.2" y="1187.6" font-size="25.8" textLength="143.6" lengthAdjust="spacingAndGlyphs">Yale cohort</text>
<text x="233.3" y="1222.6" font-size="21.7" textLength="220.2" lengthAdjust="spacingAndGlyphs">Proliferating tumor +</text>
<text x="212.0" y="1250.3" font-size="21.7" textLength="241.5" lengthAdjust="spacingAndGlyphs">granulocytes + vessels</text>
<path d="M471.4 1229.9H495.8" stroke="#0f5299" stroke-width="4.2"/>
<path d="M599.0 1229.9H623.1" stroke="#e5243b" stroke-width="4.2"/>
<text x="516.0" y="1236.8" font-size="22.4" textLength="42.4" lengthAdjust="spacingAndGlyphs">Low</text>
<text x="643.4" y="1236.8" font-size="22.4" textLength="48.3" lengthAdjust="spacingAndGlyphs">High</text>
<text x="111.6" y="1289.9" font-size="21.3" textLength="44.4" lengthAdjust="spacingAndGlyphs">1.00</text>
<text x="110.3" y="1328.4" font-size="21.3" textLength="45.7" lengthAdjust="spacingAndGlyphs">0.75</text>
<text x="108.9" y="1367.0" font-size="21.3" textLength="47.1" lengthAdjust="spacingAndGlyphs">0.50</text>
<text x="110.3" y="1405.5" font-size="21.3" textLength="45.7" lengthAdjust="spacingAndGlyphs">0.25</text>
<text x="141.8" y="1444.1" font-size="21.3" textLength="14.2" lengthAdjust="spacingAndGlyphs">0</text>
<text x="203.2" y="1486.6" font-size="21.6" textLength="14.4" lengthAdjust="spacingAndGlyphs">0</text>
<text x="283.7" y="1486.6" font-size="21.6" textLength="24.6" lengthAdjust="spacingAndGlyphs">10</text>
<text x="368.0" y="1486.6" font-size="21.6" textLength="27.4" lengthAdjust="spacingAndGlyphs">20</text>
<text x="453.6" y="1486.6" font-size="21.6" textLength="27.4" lengthAdjust="spacingAndGlyphs">30</text>
<text x="539.2" y="1486.6" font-size="21.6" textLength="27.4" lengthAdjust="spacingAndGlyphs">40</text>
<text x="624.9" y="1486.6" font-size="21.6" textLength="27.4" lengthAdjust="spacingAndGlyphs">50</text>
<text x="710.5" y="1486.6" font-size="21.6" textLength="27.4" lengthAdjust="spacingAndGlyphs">60</text>
<path d="M170.2 1280.3H185.2M170.2 1318.8H185.2M170.2 1357.4H185.2M170.2 1396.0H185.2M170.2 1434.5H185.2M210.4 1442.9V1457.8M296.0 1442.9V1457.8M381.7 1442.9V1457.8M467.3 1442.9V1457.8M552.9 1442.9V1457.8M638.6 1442.9V1457.8M724.2 1442.9V1457.8" stroke="#4a4a4a" stroke-width="1.2" fill="none"/>
<path d="M210.4 1280.4H233.0V1288.2H238.0V1294.9H240.9V1302.7H274.9V1309.4H299.0V1316.1H323.2V1324.0H326.7V1331.2H333.9V1338.5H335.4V1345.8H351.4V1353.6H372.6V1361.2H392.1V1368.2H437.7V1375.7H446.8V1383.0H487.2V1390.0H499.1V1397.2H513.6V1404.5H523.5V1412.1H551.4V1419.9H614.5V1427.8H724.2V1434.5" stroke="#0f5299" stroke-width="4.1" fill="none" stroke-linejoin="miter"/>
<path d="M210.4 1280.4H230.1V1294.9H231.6V1308.9H242.3V1322.5H245.2V1336.5H272.9V1350.7H320.3V1364.7H330.2V1378.6H332.5V1392.3H333.9V1406.3H335.4V1419.9H371.2V1434.5" stroke="#e5243b" stroke-width="4.1" fill="none" stroke-linejoin="miter"/>
<path d="M210.4 1357.4H372.6M320.3 1434.5V1357.4M372.6 1434.5V1357.4" stroke="#231f20" stroke-width="2.6" stroke-dasharray="14.6 14.5" fill="none"/>
<text x="375.2" y="1279.7" font-size="22.0" textLength="178.0" lengthAdjust="spacingAndGlyphs">HR = 3.8 (1.5–9.1)</text>
<text x="352.9" y="1310.2" font-size="22.0" textLength="15.4" lengthAdjust="spacingAndGlyphs" font-style="italic">P</text>
<text x="375.0" y="1310.2" font-size="22.0" textLength="207.6" lengthAdjust="spacingAndGlyphs">= 0.004** (log rank)</text>
<text x="374.7" y="1341.4" font-size="22.0" textLength="186.0" lengthAdjust="spacingAndGlyphs">Cut point = tertile</text>
<text x="334.0" y="1530.2" font-size="25.8" textLength="267.2" lengthAdjust="spacingAndGlyphs">PFS-5 years (months)</text>
<text x="197.5" y="1571.4" font-size="25.8" textLength="183.2" lengthAdjust="spacingAndGlyphs">Number at risk</text>
<text x="114.3" y="1610.8" font-size="22.6" textLength="42.9" lengthAdjust="spacingAndGlyphs" fill="#1a5ba6">Low</text>
<text x="108.4" y="1647.6" font-size="22.6" textLength="48.4" lengthAdjust="spacingAndGlyphs" fill="#e5243b">High</text>
<text x="198.6" y="1610.8" font-size="22.0" textLength="23.6" lengthAdjust="spacingAndGlyphs">21</text>
<text x="200.0" y="1647.6" font-size="22.0" textLength="20.8" lengthAdjust="spacingAndGlyphs">11</text>
<text x="284.2" y="1610.8" font-size="22.0" textLength="23.6" lengthAdjust="spacingAndGlyphs">17</text>
<text x="289.4" y="1647.6" font-size="22.0" textLength="13.2" lengthAdjust="spacingAndGlyphs">6</text>
<text x="369.1" y="1610.8" font-size="22.0" textLength="25.1" lengthAdjust="spacingAndGlyphs">10</text>
<text x="374.3" y="1647.6" font-size="22.0" textLength="14.7" lengthAdjust="spacingAndGlyphs">0</text>
<text x="460.7" y="1610.8" font-size="22.0" textLength="13.2" lengthAdjust="spacingAndGlyphs">7</text>
<text x="459.9" y="1647.6" font-size="22.0" textLength="14.7" lengthAdjust="spacingAndGlyphs">0</text>
<text x="546.3" y="1610.8" font-size="22.0" textLength="13.2" lengthAdjust="spacingAndGlyphs">2</text>
<text x="545.6" y="1647.6" font-size="22.0" textLength="14.7" lengthAdjust="spacingAndGlyphs">0</text>
<text x="633.3" y="1610.8" font-size="22.0" textLength="10.4" lengthAdjust="spacingAndGlyphs">1</text>
<text x="631.2" y="1647.6" font-size="22.0" textLength="14.7" lengthAdjust="spacingAndGlyphs">0</text>
<text x="719.0" y="1610.8" font-size="22.0" textLength="10.4" lengthAdjust="spacingAndGlyphs">1</text>
<text x="716.8" y="1647.6" font-size="22.0" textLength="14.7" lengthAdjust="spacingAndGlyphs">0</text>
<text x="-121.3" y="0" font-size="25.8" transform="translate(86.7 1358.0) rotate(-90)" textLength="242.7" lengthAdjust="spacingAndGlyphs">Survival probability</text>
</g>
<g>
<text x="781.0" y="1188.0" font-size="36.0" font-weight="bold" stroke="#231f20" stroke-width="0.9">e</text>
<text x="1108.2" y="1187.9" font-size="25.8" textLength="143.6" lengthAdjust="spacingAndGlyphs">Yale cohort</text>
<text x="937.4" y="1222.4" font-size="21.7" textLength="220.2" lengthAdjust="spacingAndGlyphs">Proliferating tumor +</text>
<text x="916.1" y="1250.3" font-size="21.7" textLength="241.5" lengthAdjust="spacingAndGlyphs">granulocytes + vessels</text>
<path d="M1182.2 1229.7H1205.3" stroke="#0f5299" stroke-width="4.2"/>
<path d="M1307.5 1229.7H1330.7" stroke="#e5243b" stroke-width="4.2"/>
<text x="1217.8" y="1236.6" font-size="22.4" textLength="42.4" lengthAdjust="spacingAndGlyphs">Low</text>
<text x="1343.7" y="1236.6" font-size="22.4" textLength="48.3" lengthAdjust="spacingAndGlyphs">High</text>
<text x="829.4" y="1289.9" font-size="21.3" textLength="44.4" lengthAdjust="spacingAndGlyphs">1.00</text>
<text x="828.1" y="1328.4" font-size="21.3" textLength="45.7" lengthAdjust="spacingAndGlyphs">0.75</text>
<text x="826.7" y="1367.0" font-size="21.3" textLength="47.1" lengthAdjust="spacingAndGlyphs">0.50</text>
<text x="828.1" y="1405.5" font-size="21.3" textLength="45.7" lengthAdjust="spacingAndGlyphs">0.25</text>
<text x="859.6" y="1444.1" font-size="21.3" textLength="14.2" lengthAdjust="spacingAndGlyphs">0</text>
<text x="921.0" y="1486.2" font-size="21.6" textLength="14.4" lengthAdjust="spacingAndGlyphs">0</text>
<text x="1022.5" y="1486.2" font-size="21.6" textLength="13.0" lengthAdjust="spacingAndGlyphs">5</text>
<text x="1117.4" y="1486.2" font-size="21.6" textLength="24.6" lengthAdjust="spacingAndGlyphs">10</text>
<text x="1218.9" y="1486.2" font-size="21.6" textLength="23.2" lengthAdjust="spacingAndGlyphs">15</text>
<text x="1317.6" y="1486.2" font-size="21.6" textLength="27.4" lengthAdjust="spacingAndGlyphs">20</text>
<text x="1419.1" y="1486.2" font-size="21.6" textLength="25.9" lengthAdjust="spacingAndGlyphs">25</text>
<path d="M888.8 1280.3H903.6M888.8 1318.8H903.6M888.8 1357.4H903.6M888.8 1396.0H903.6M888.8 1434.5H903.6M928.2 1443.4V1457.8M1029.0 1443.4V1457.8M1129.8 1443.4V1457.8M1230.5 1443.4V1457.8M1331.3 1443.4V1457.8M1432.1 1443.4V1457.8" stroke="#4a4a4a" stroke-width="1.2" fill="none"/>
<path d="M928.2 1280.4H977.9V1288.2H993.1V1295.5H998.9V1302.7H1079.7V1310.0H1135.5V1317.3H1191.7V1324.0H1202.4V1331.2H1218.4V1338.5H1222.2V1346.4H1259.1V1353.6H1309.1V1361.2H1355.1V1369.0H1411.8V1434.5" stroke="#0f5299" stroke-width="4.1" fill="none" stroke-linejoin="miter"/>
<path d="M928.2 1280.4H974.1V1294.9H977.9V1308.9H1003.2V1322.5H1011.1V1337.1H1073.6V1350.7H1186.4V1364.7H1208.2V1378.6H1216.4V1392.3H1218.4V1406.3H1222.2V1420.5H1305.1V1434.5" stroke="#e5243b" stroke-width="4.1" fill="none" stroke-linejoin="miter"/>
<path d="M928.2 1357.4H1309.1M1186.4 1434.5V1357.4M1309.1 1434.5V1357.4" stroke="#231f20" stroke-width="2.6" stroke-dasharray="14.6 14.5" fill="none"/>
<text x="1239.0" y="1279.6" font-size="22.0" textLength="178.0" lengthAdjust="spacingAndGlyphs">HR = 3.8 (1.5–9.1)</text>
<text x="1215.9" y="1310.2" font-size="22.0" textLength="15.4" lengthAdjust="spacingAndGlyphs" font-style="italic">P</text>
<text x="1238.0" y="1310.2" font-size="22.0" textLength="207.6" lengthAdjust="spacingAndGlyphs">= 0.004** (log rank)</text>
<text x="1237.7" y="1341.2" font-size="22.0" textLength="186.0" lengthAdjust="spacingAndGlyphs">Cut point = tertile</text>
<text x="1046.4" y="1529.0" font-size="25.8" textLength="267.2" lengthAdjust="spacingAndGlyphs">PFS-2 years (months)</text>
<text x="915.7" y="1570.2" font-size="25.8" textLength="183.2" lengthAdjust="spacingAndGlyphs">Number at risk</text>
<text x="832.1" y="1609.6" font-size="22.6" textLength="42.9" lengthAdjust="spacingAndGlyphs" fill="#1a5ba6">Low</text>
<text x="826.4" y="1646.2" font-size="22.6" textLength="48.4" lengthAdjust="spacingAndGlyphs" fill="#e5243b">High</text>
<text x="916.4" y="1609.6" font-size="22.0" textLength="23.6" lengthAdjust="spacingAndGlyphs">21</text>
<text x="917.8" y="1646.2" font-size="22.0" textLength="20.8" lengthAdjust="spacingAndGlyphs">11</text>
<text x="1017.2" y="1609.6" font-size="22.0" textLength="23.6" lengthAdjust="spacingAndGlyphs">18</text>
<text x="1022.4" y="1646.2" font-size="22.0" textLength="13.2" lengthAdjust="spacingAndGlyphs">7</text>
<text x="1118.0" y="1609.6" font-size="22.0" textLength="23.6" lengthAdjust="spacingAndGlyphs">17</text>
<text x="1123.2" y="1646.2" font-size="22.0" textLength="13.2" lengthAdjust="spacingAndGlyphs">6</text>
<text x="1218.7" y="1609.6" font-size="22.0" textLength="23.6" lengthAdjust="spacingAndGlyphs">12</text>
<text x="1225.3" y="1646.2" font-size="22.0" textLength="10.4" lengthAdjust="spacingAndGlyphs">1</text>
<text x="1318.8" y="1609.6" font-size="22.0" textLength="25.1" lengthAdjust="spacingAndGlyphs">10</text>
<text x="1324.0" y="1646.2" font-size="22.0" textLength="14.7" lengthAdjust="spacingAndGlyphs">0</text>
<text x="1424.8" y="1609.6" font-size="22.0" textLength="14.7" lengthAdjust="spacingAndGlyphs">0</text>
<text x="1424.8" y="1646.2" font-size="22.0" textLength="14.7" lengthAdjust="spacingAndGlyphs">0</text>
<text x="-121.3" y="0" font-size="25.8" transform="translate(803.6 1357.0) rotate(-90)" textLength="242.7" lengthAdjust="spacingAndGlyphs">Survival probability</text>
</g>
<g>
<text x="1487.5" y="1187.0" font-size="36.0" font-weight="bold" stroke="#231f20" stroke-width="0.9">f</text>
<text x="1816.3" y="1187.9" font-size="25.8" textLength="131.3" lengthAdjust="spacingAndGlyphs">UQ cohort</text>
<text x="1637.6" y="1222.4" font-size="21.7" textLength="220.2" lengthAdjust="spacingAndGlyphs">Proliferating tumor +</text>
<text x="1616.3" y="1250.3" font-size="21.7" textLength="241.5" lengthAdjust="spacingAndGlyphs">granulocytes + vessels</text>
<path d="M1881.4 1229.7H1904.6" stroke="#0f5299" stroke-width="4.2"/>
<path d="M2006.6 1229.7H2029.8" stroke="#e5243b" stroke-width="4.2"/>
<text x="1917.6" y="1236.6" font-size="22.4" textLength="42.4" lengthAdjust="spacingAndGlyphs">Low</text>
<text x="2042.9" y="1236.6" font-size="22.4" textLength="48.3" lengthAdjust="spacingAndGlyphs">High</text>
<text x="1537.2" y="1290.8" font-size="21.3" textLength="44.4" lengthAdjust="spacingAndGlyphs">1.00</text>
<text x="1535.9" y="1329.2" font-size="21.3" textLength="45.7" lengthAdjust="spacingAndGlyphs">0.75</text>
<text x="1534.5" y="1367.7" font-size="21.3" textLength="47.1" lengthAdjust="spacingAndGlyphs">0.50</text>
<text x="1535.9" y="1406.1" font-size="21.3" textLength="45.7" lengthAdjust="spacingAndGlyphs">0.25</text>
<text x="1567.4" y="1444.6" font-size="21.3" textLength="14.2" lengthAdjust="spacingAndGlyphs">0</text>
<text x="1627.3" y="1486.2" font-size="21.6" textLength="14.4" lengthAdjust="spacingAndGlyphs">0</text>
<text x="1751.8" y="1486.2" font-size="21.6" textLength="13.0" lengthAdjust="spacingAndGlyphs">5</text>
<text x="1869.8" y="1486.2" font-size="21.6" textLength="24.6" lengthAdjust="spacingAndGlyphs">10</text>
<text x="1994.3" y="1486.2" font-size="21.6" textLength="23.2" lengthAdjust="spacingAndGlyphs">15</text>
<text x="2116.0" y="1486.2" font-size="21.6" textLength="27.4" lengthAdjust="spacingAndGlyphs">20</text>
<path d="M1594.7 1281.2H1609.6M1594.7 1319.7H1609.6M1594.7 1358.1H1609.6M1594.7 1396.5H1609.6M1594.7 1435.0H1609.6M1634.5 1443.4V1457.8M1758.3 1443.4V1457.8M1882.1 1443.4V1457.8M2005.9 1443.4V1457.8M2129.7 1443.4V1457.8" stroke="#4a4a4a" stroke-width="1.2" fill="none"/>
<path d="M1634.5 1281.2H1638.3V1288.2H1681.9V1295.5H1697.1V1308.0H1705.8V1321.1H1733.4V1328.3H1738.3V1335.0H1753.8V1347.8H1761.0V1374.9H1775.6V1380.7H1782.8V1387.4H1790.1V1394.3H1830.2V1401.6H1885.5V1415.0H2093.1V1421.7H2137.6V1428.1H2155.0" stroke="#0f5299" stroke-width="4.1" fill="none" stroke-linejoin="miter"/>
<path d="M1634.5 1281.2H1681.9V1306.5H1691.2V1332.7H1696.5V1358.3H1705.8V1370.5H1736.3V1383.6H1753.8V1396.1H1854.7V1409.8H1867.2V1422.3H1884.6V1435.1" stroke="#e5243b" stroke-width="4.1" fill="none" stroke-linejoin="miter"/>
<path d="M1634.5 1358.3H1761.0M1701.4 1435.1V1358.3M1761.0 1435.1V1358.3" stroke="#231f20" stroke-width="2.6" stroke-dasharray="14.6 14.5" fill="none"/>
<text x="1782.0" y="1288.8" font-size="22.0" textLength="195.0" lengthAdjust="spacingAndGlyphs">HR = 1.8 (0.87–3.7)</text>
<text x="1779.5" y="1319.4" font-size="22.0" textLength="15.4" lengthAdjust="spacingAndGlyphs" font-style="italic">P</text>
<text x="1801.6" y="1319.4" font-size="22.0" textLength="182.9" lengthAdjust="spacingAndGlyphs">= 0.05* (log rank)</text>
<text x="1789.0" y="1349.3" font-size="22.0" textLength="186.0" lengthAdjust="spacingAndGlyphs">Cut point = tertile</text>
<text x="1748.4" y="1529.0" font-size="25.8" textLength="267.2" lengthAdjust="spacingAndGlyphs">PFS-2 years (months)</text>
<text x="1619.0" y="1570.2" font-size="25.8" textLength="183.2" lengthAdjust="spacingAndGlyphs">Number at risk</text>
<text x="1538.7" y="1609.6" font-size="22.6" textLength="42.9" lengthAdjust="spacingAndGlyphs" fill="#1a5ba6">Low</text>
<text x="1533.2" y="1646.2" font-size="22.6" textLength="48.4" lengthAdjust="spacingAndGlyphs" fill="#e5243b">High</text>
<text x="1621.3" y="1609.6" font-size="22.0" textLength="26.4" lengthAdjust="spacingAndGlyphs">23</text>
<text x="1622.7" y="1646.2" font-size="22.0" textLength="23.6" lengthAdjust="spacingAndGlyphs">12</text>
<text x="1746.5" y="1609.6" font-size="22.0" textLength="23.6" lengthAdjust="spacingAndGlyphs">13</text>
<text x="1751.7" y="1646.2" font-size="22.0" textLength="13.2" lengthAdjust="spacingAndGlyphs">3</text>
<text x="1875.5" y="1609.6" font-size="22.0" textLength="13.2" lengthAdjust="spacingAndGlyphs">5</text>
<text x="1876.9" y="1646.2" font-size="22.0" textLength="10.4" lengthAdjust="spacingAndGlyphs">1</text>
<text x="1999.3" y="1609.6" font-size="22.0" textLength="13.2" lengthAdjust="spacingAndGlyphs">3</text>
<text x="1998.6" y="1646.2" font-size="22.0" textLength="14.7" lengthAdjust="spacingAndGlyphs">0</text>
<text x="2123.1" y="1609.6" font-size="22.0" textLength="13.2" lengthAdjust="spacingAndGlyphs">2</text>
<text x="2122.4" y="1646.2" font-size="22.0" textLength="14.7" lengthAdjust="spacingAndGlyphs">0</text>
<text x="-121.3" y="0" font-size="25.8" transform="translate(1510.5 1357.0) rotate(-90)" textLength="242.7" lengthAdjust="spacingAndGlyphs">Survival probability</text>
</g>
<g>
<text x="62.5" y="1721.4" font-size="36.0" font-weight="bold" stroke="#231f20" stroke-width="0.9">g</text>
<text x="393.9" y="1721.4" font-size="25.8" textLength="143.6" lengthAdjust="spacingAndGlyphs">Yale cohort</text>
<text x="194.6" y="1763.7" font-size="21.7" textLength="264.4" lengthAdjust="spacingAndGlyphs">M1_mac + M2_mac + CD4</text>
<path d="M475.5 1757.0H499.2" stroke="#0f74bf" stroke-width="4.2"/>
<path d="M599.0 1757.0H622.7" stroke="#ebbc2f" stroke-width="4.2"/>
<text x="513.0" y="1763.7" font-size="22.4" textLength="42.4" lengthAdjust="spacingAndGlyphs">Low</text>
<text x="637.3" y="1763.7" font-size="22.4" textLength="48.3" lengthAdjust="spacingAndGlyphs">High</text>
<text x="111.6" y="1817.2" font-size="21.3" textLength="44.4" lengthAdjust="spacingAndGlyphs">1.00</text>
<text x="110.3" y="1853.2" font-size="21.3" textLength="45.7" lengthAdjust="spacingAndGlyphs">0.75</text>
<text x="108.9" y="1889.2" font-size="21.3" textLength="47.1" lengthAdjust="spacingAndGlyphs">0.50</text>
<text x="110.3" y="1925.2" font-size="21.3" textLength="45.7" lengthAdjust="spacingAndGlyphs">0.25</text>
<text x="141.8" y="1961.2" font-size="21.3" textLength="14.2" lengthAdjust="spacingAndGlyphs">0</text>
<text x="203.2" y="2003.6" font-size="21.6" textLength="14.4" lengthAdjust="spacingAndGlyphs">0</text>
<text x="283.3" y="2003.6" font-size="21.6" textLength="24.6" lengthAdjust="spacingAndGlyphs">10</text>
<text x="367.1" y="2003.6" font-size="21.6" textLength="27.4" lengthAdjust="spacingAndGlyphs">20</text>
<text x="452.3" y="2003.6" font-size="21.6" textLength="27.4" lengthAdjust="spacingAndGlyphs">30</text>
<text x="537.5" y="2003.6" font-size="21.6" textLength="27.4" lengthAdjust="spacingAndGlyphs">40</text>
<text x="622.7" y="2003.6" font-size="21.6" textLength="27.4" lengthAdjust="spacingAndGlyphs">50</text>
<text x="707.9" y="2003.6" font-size="21.6" textLength="27.4" lengthAdjust="spacingAndGlyphs">60</text>
<path d="M170.2 1807.6H185.2M170.2 1843.6H185.2M170.2 1879.6H185.2M170.2 1915.6H185.2M170.2 1951.6H185.2M210.4 1961.0V1974.0M295.6 1961.0V1974.0M380.8 1961.0V1974.0M466.0 1961.0V1974.0M551.2 1961.0V1974.0M636.4 1961.0V1974.0M721.6 1961.0V1974.0" stroke="#4a4a4a" stroke-width="1.2" fill="none"/>
<path d="M210.4 1807.6H227.8V1816.6H230.1V1825.7H233.0V1834.7H235.1V1843.7H255.4V1852.7H257.5V1861.7H274.9V1870.7H295.3V1888.8H297.6V1897.8H299.0V1906.8H311.5V1915.8H325.2V1924.8H411.0V1933.8H419.7V1942.8H429.9V1951.6" stroke="#0f74bf" stroke-width="4.1" fill="none" stroke-linejoin="miter"/>
<path d="M210.4 1807.6H225.5V1824.5H233.0V1832.9H290.3V1841.4H291.8V1850.1H299.0V1866.9H327.2V1875.4H341.8V1883.8H374.1V1892.2H380.5V1900.7H435.7V1909.1H451.7V1917.5H456.1V1926.3H502.6V1934.7H519.5V1943.1H696.0V1951.6" stroke="#ebbc2f" stroke-width="4.1" fill="none" stroke-linejoin="miter"/>
<path d="M210.4 1879.7H341.8M296.1 1951.6V1879.7M341.8 1951.6V1879.7" stroke="#231f20" stroke-width="2.6" stroke-dasharray="14.6 14.5" fill="none"/>
<text x="356.2" y="1802.3" font-size="22.0" textLength="215.0" lengthAdjust="spacingAndGlyphs">HR = 0.4 (0.18–0.87)</text>
<text x="358.7" y="1831.1" font-size="22.0" textLength="15.4" lengthAdjust="spacingAndGlyphs" font-style="italic">P</text>
<text x="380.8" y="1831.1" font-size="22.0" textLength="191.9" lengthAdjust="spacingAndGlyphs">= 0.019* (log rank)</text>
<text x="364.2" y="1859.6" font-size="22.0" textLength="203.0" lengthAdjust="spacingAndGlyphs">Cut point = median</text>
<text x="332.1" y="2045.0" font-size="25.8" textLength="267.2" lengthAdjust="spacingAndGlyphs">PFS-5 years (months)</text>
<text x="196.5" y="2090.4" font-size="25.8" textLength="183.2" lengthAdjust="spacingAndGlyphs">Number at risk</text>
<text x="114.3" y="2131.0" font-size="22.6" textLength="42.9" lengthAdjust="spacingAndGlyphs" fill="#1877c4">Low</text>
<text x="108.4" y="2165.4" font-size="22.6" textLength="48.4" lengthAdjust="spacingAndGlyphs" fill="#ebbc2f">High</text>
<text x="198.6" y="2131.0" font-size="22.0" textLength="23.6" lengthAdjust="spacingAndGlyphs">16</text>
<text x="198.6" y="2165.4" font-size="22.0" textLength="23.6" lengthAdjust="spacingAndGlyphs">17</text>
<text x="289.0" y="2131.0" font-size="22.0" textLength="13.2" lengthAdjust="spacingAndGlyphs">8</text>
<text x="283.8" y="2165.4" font-size="22.0" textLength="23.6" lengthAdjust="spacingAndGlyphs">12</text>
<text x="374.2" y="2131.0" font-size="22.0" textLength="13.2" lengthAdjust="spacingAndGlyphs">3</text>
<text x="374.2" y="2165.4" font-size="22.0" textLength="13.2" lengthAdjust="spacingAndGlyphs">7</text>
<text x="458.7" y="2131.0" font-size="22.0" textLength="14.7" lengthAdjust="spacingAndGlyphs">0</text>
<text x="459.4" y="2165.4" font-size="22.0" textLength="13.2" lengthAdjust="spacingAndGlyphs">3</text>
<text x="543.9" y="2131.0" font-size="22.0" textLength="14.7" lengthAdjust="spacingAndGlyphs">0</text>
<text x="546.0" y="2165.4" font-size="22.0" textLength="10.4" lengthAdjust="spacingAndGlyphs">1</text>
<text x="629.1" y="2131.0" font-size="22.0" textLength="14.7" lengthAdjust="spacingAndGlyphs">0</text>
<text x="631.2" y="2165.4" font-size="22.0" textLength="10.4" lengthAdjust="spacingAndGlyphs">1</text>
<text x="714.3" y="2131.0" font-size="22.0" textLength="14.7" lengthAdjust="spacingAndGlyphs">0</text>
<text x="714.3" y="2165.4" font-size="22.0" textLength="14.7" lengthAdjust="spacingAndGlyphs">0</text>
<text x="-121.3" y="0" font-size="25.8" transform="translate(85.2 1881.0) rotate(-90)" textLength="242.7" lengthAdjust="spacingAndGlyphs">Survival probability</text>
</g>
<g>
<text x="781.5" y="1721.1" font-size="36.0" font-weight="bold" stroke="#231f20" stroke-width="0.9">h</text>
<text x="1108.2" y="1721.1" font-size="25.8" textLength="143.6" lengthAdjust="spacingAndGlyphs">Yale cohort</text>
<text x="905.6" y="1763.0" font-size="21.7" textLength="264.4" lengthAdjust="spacingAndGlyphs">M1_mac + M2_mac + CD4</text>
<path d="M1186.7 1757.4H1209.9" stroke="#0f74bf" stroke-width="4.2"/>
<path d="M1310.0 1757.4H1333.6" stroke="#ebbc2f" stroke-width="4.2"/>
<text x="1225.2" y="1763.0" font-size="22.4" textLength="42.4" lengthAdjust="spacingAndGlyphs">Low</text>
<text x="1348.6" y="1763.0" font-size="22.4" textLength="48.3" lengthAdjust="spacingAndGlyphs">High</text>
<text x="829.4" y="1817.2" font-size="21.3" textLength="44.4" lengthAdjust="spacingAndGlyphs">1.00</text>
<text x="828.1" y="1853.2" font-size="21.3" textLength="45.7" lengthAdjust="spacingAndGlyphs">0.75</text>
<text x="826.7" y="1889.2" font-size="21.3" textLength="47.1" lengthAdjust="spacingAndGlyphs">0.50</text>
<text x="828.1" y="1925.2" font-size="21.3" textLength="45.7" lengthAdjust="spacingAndGlyphs">0.25</text>
<text x="859.6" y="1961.2" font-size="21.3" textLength="14.2" lengthAdjust="spacingAndGlyphs">0</text>
<text x="921.0" y="2002.2" font-size="21.6" textLength="14.4" lengthAdjust="spacingAndGlyphs">0</text>
<text x="1022.3" y="2002.2" font-size="21.6" textLength="13.0" lengthAdjust="spacingAndGlyphs">5</text>
<text x="1117.1" y="2002.2" font-size="21.6" textLength="24.6" lengthAdjust="spacingAndGlyphs">10</text>
<text x="1218.4" y="2002.2" font-size="21.6" textLength="23.2" lengthAdjust="spacingAndGlyphs">15</text>
<text x="1316.9" y="2002.2" font-size="21.6" textLength="27.4" lengthAdjust="spacingAndGlyphs">20</text>
<text x="1418.2" y="2002.2" font-size="21.6" textLength="25.9" lengthAdjust="spacingAndGlyphs">25</text>
<path d="M888.8 1807.6H903.6M888.8 1843.6H903.6M888.8 1879.6H903.6M888.8 1915.6H903.6M888.8 1951.6H903.6M928.2 1961.0V1973.5M1028.8 1961.0V1973.5M1129.4 1961.0V1973.5M1230.0 1961.0V1973.5M1330.6 1961.0V1973.5M1431.2 1961.0V1973.5" stroke="#4a4a4a" stroke-width="1.2" fill="none"/>
<path d="M928.2 1807.6H961.6V1816.6H975.0V1825.7H980.8V1834.7H988.7V1843.7H1033.2V1852.7H1039.0V1861.7H1079.7V1870.7H1127.7V1879.7H1131.2V1888.8H1138.4V1906.8H1167.5V1915.8H1200.4V1924.8H1400.7V1933.8H1410.9V1951.6" stroke="#0f74bf" stroke-width="4.1" fill="none" stroke-linejoin="miter"/>
<path d="M928.2 1807.6H964.6V1824.5H982.9V1832.9H1115.8V1841.4H1119.5V1850.1H1137.9V1866.9H1203.9V1875.4H1238.2V1883.8H1314.4V1892.2H1330.4V1900.7H1410.9V1951.6" stroke="#ebbc2f" stroke-width="4.1" fill="none" stroke-linejoin="miter"/>
<path d="M928.2 1879.7H1238.2M1129.7 1951.6V1879.7M1238.2 1951.6V1879.7" stroke="#231f20" stroke-width="2.6" stroke-dasharray="14.6 14.5" fill="none"/>
<text x="1181.5" y="1802.2" font-size="22.0" textLength="211.0" lengthAdjust="spacingAndGlyphs">HR = 0.57 (0.29–1.2)</text>
<text x="1195.5" y="1831.4" font-size="22.0" textLength="15.4" lengthAdjust="spacingAndGlyphs" font-style="italic">P</text>
<text x="1217.6" y="1831.4" font-size="22.0" textLength="165.9" lengthAdjust="spacingAndGlyphs">= 0.12 (log rank)</text>
<text x="1188.0" y="1859.4" font-size="22.0" textLength="203.0" lengthAdjust="spacingAndGlyphs">Cut point = median</text>
<text x="1046.4" y="2044.5" font-size="25.8" textLength="267.2" lengthAdjust="spacingAndGlyphs">PFS-2 years (months)</text>
<text x="915.7" y="2089.3" font-size="25.8" textLength="183.2" lengthAdjust="spacingAndGlyphs">Number at risk</text>
<text x="832.1" y="2130.5" font-size="22.6" textLength="42.9" lengthAdjust="spacingAndGlyphs" fill="#1877c4">Low</text>
<text x="826.4" y="2164.9" font-size="22.6" textLength="48.4" lengthAdjust="spacingAndGlyphs" fill="#ebbc2f">High</text>
<text x="916.4" y="2130.5" font-size="22.0" textLength="23.6" lengthAdjust="spacingAndGlyphs">16</text>
<text x="916.4" y="2164.9" font-size="22.0" textLength="23.6" lengthAdjust="spacingAndGlyphs">17</text>
<text x="1017.0" y="2130.5" font-size="22.0" textLength="23.6" lengthAdjust="spacingAndGlyphs">12</text>
<text x="1017.0" y="2164.9" font-size="22.0" textLength="23.6" lengthAdjust="spacingAndGlyphs">14</text>
<text x="1122.8" y="2130.5" font-size="22.0" textLength="13.2" lengthAdjust="spacingAndGlyphs">8</text>
<text x="1117.6" y="2164.9" font-size="22.0" textLength="23.6" lengthAdjust="spacingAndGlyphs">12</text>
<text x="1223.4" y="2130.5" font-size="22.0" textLength="13.2" lengthAdjust="spacingAndGlyphs">3</text>
<text x="1223.4" y="2164.9" font-size="22.0" textLength="13.2" lengthAdjust="spacingAndGlyphs">9</text>
<text x="1324.0" y="2130.5" font-size="22.0" textLength="13.2" lengthAdjust="spacingAndGlyphs">3</text>
<text x="1324.0" y="2164.9" font-size="22.0" textLength="13.2" lengthAdjust="spacingAndGlyphs">7</text>
<text x="1423.9" y="2130.5" font-size="22.0" textLength="14.7" lengthAdjust="spacingAndGlyphs">0</text>
<text x="1423.9" y="2164.9" font-size="22.0" textLength="14.7" lengthAdjust="spacingAndGlyphs">0</text>
<text x="-121.3" y="0" font-size="25.8" transform="translate(803.6 1879.3) rotate(-90)" textLength="242.7" lengthAdjust="spacingAndGlyphs">Survival probability</text>
</g>
<g>
<text x="1489.0" y="1721.1" font-size="36.0" font-weight="bold" stroke="#231f20" stroke-width="0.9">i</text>
<text x="1821.3" y="1721.1" font-size="25.8" textLength="131.3" lengthAdjust="spacingAndGlyphs">UQ cohort</text>
<text x="1594.7" y="1763.0" font-size="21.7" textLength="264.4" lengthAdjust="spacingAndGlyphs">M1_mac + M2_mac + CD4</text>
<path d="M1875.0 1757.4H1898.2" stroke="#0f74bf" stroke-width="4.2"/>
<path d="M1999.1 1757.4H2022.7" stroke="#ebbc2f" stroke-width="4.2"/>
<text x="1913.2" y="1763.0" font-size="22.4" textLength="42.4" lengthAdjust="spacingAndGlyphs">Low</text>
<text x="2038.4" y="1763.0" font-size="22.4" textLength="48.3" lengthAdjust="spacingAndGlyphs">High</text>
<text x="1537.2" y="1812.0" font-size="21.3" textLength="44.4" lengthAdjust="spacingAndGlyphs">1.00</text>
<text x="1535.9" y="1849.3" font-size="21.3" textLength="45.7" lengthAdjust="spacingAndGlyphs">0.75</text>
<text x="1534.5" y="1886.6" font-size="21.3" textLength="47.1" lengthAdjust="spacingAndGlyphs">0.50</text>
<text x="1535.9" y="1923.9" font-size="21.3" textLength="45.7" lengthAdjust="spacingAndGlyphs">0.25</text>
<text x="1567.4" y="1961.2" font-size="21.3" textLength="14.2" lengthAdjust="spacingAndGlyphs">0</text>
<text x="1627.9" y="2002.2" font-size="21.6" textLength="14.4" lengthAdjust="spacingAndGlyphs">0</text>
<text x="1754.5" y="2002.2" font-size="21.6" textLength="13.0" lengthAdjust="spacingAndGlyphs">4</text>
<text x="1880.3" y="2002.2" font-size="21.6" textLength="13.0" lengthAdjust="spacingAndGlyphs">8</text>
<text x="2001.0" y="2002.2" font-size="21.6" textLength="23.2" lengthAdjust="spacingAndGlyphs">12</text>
<text x="2126.9" y="2002.2" font-size="21.6" textLength="23.2" lengthAdjust="spacingAndGlyphs">16</text>
<path d="M1594.7 1802.4H1609.6M1594.7 1839.7H1609.6M1594.7 1877.0H1609.6M1594.7 1914.3H1609.6M1594.7 1951.6H1609.6M1635.1 1961.0V1973.5M1760.9 1961.0V1973.5M1886.8 1961.0V1973.5M2012.6 1961.0V1973.5M2138.5 1961.0V1973.5" stroke="#4a4a4a" stroke-width="1.2" fill="none"/>
<path d="M1635.1 1802.4H1638.0V1811.1H1679.0V1828.9H1683.1V1837.6H1688.3V1846.3H1691.2V1855.0H1700.5V1863.7H1745.6V1881.5H1752.3V1907.7H1763.3V1916.4H1773.2V1925.4H1779.1V1934.1H1817.7V1942.8H1849.1V1951.6" stroke="#0f74bf" stroke-width="4.1" fill="none" stroke-linejoin="miter"/>
<path d="M1635.1 1802.4H1679.0V1810.5H1691.8V1835.5H1701.4V1852.1H1726.1V1860.3H1729.0V1876.8H1745.6V1885.3H1751.4V1893.4H1836.0V1901.8H1868.0V1926.8H2056.7V1935.0H2097.5V1943.4H2141.9V1950.7" stroke="#ebbc2f" stroke-width="4.1" fill="none" stroke-linejoin="miter"/>
<path d="M1635.1 1876.8H1745.6M1737.2 1951.6V1876.8M1745.6 1951.6V1876.8" stroke="#231f20" stroke-width="2.6" stroke-dasharray="14.6 14.5" fill="none"/>
<text x="1778.5" y="1805.2" font-size="22.0" textLength="211.0" lengthAdjust="spacingAndGlyphs">HR = 0.49 (0.23–1.1)</text>
<text x="1776.0" y="1833.3" font-size="22.0" textLength="15.4" lengthAdjust="spacingAndGlyphs" font-style="italic">P</text>
<text x="1798.1" y="1833.3" font-size="22.0" textLength="195.9" lengthAdjust="spacingAndGlyphs">= 0.036* (log rank)</text>
<text x="1785.5" y="1862.0" font-size="22.0" textLength="203.0" lengthAdjust="spacingAndGlyphs">Cut point = median</text>
<text x="1753.4" y="2044.5" font-size="25.8" textLength="267.2" lengthAdjust="spacingAndGlyphs">PFS-2 years (months)</text>
<text x="1619.0" y="2089.3" font-size="25.8" textLength="183.2" lengthAdjust="spacingAndGlyphs">Number at risk</text>
<text x="1538.7" y="2130.5" font-size="22.6" textLength="42.9" lengthAdjust="spacingAndGlyphs" fill="#1877c4">Low</text>
<text x="1533.2" y="2164.9" font-size="22.6" textLength="48.4" lengthAdjust="spacingAndGlyphs" fill="#ebbc2f">High</text>
<text x="1623.3" y="2130.5" font-size="22.0" textLength="23.6" lengthAdjust="spacingAndGlyphs">17</text>
<text x="1623.3" y="2164.9" font-size="22.0" textLength="23.6" lengthAdjust="spacingAndGlyphs">18</text>
<text x="1754.3" y="2130.5" font-size="22.0" textLength="13.2" lengthAdjust="spacingAndGlyphs">5</text>
<text x="1754.3" y="2164.9" font-size="22.0" textLength="13.2" lengthAdjust="spacingAndGlyphs">7</text>
<text x="1879.4" y="2130.5" font-size="22.0" textLength="14.7" lengthAdjust="spacingAndGlyphs">0</text>
<text x="1880.2" y="2164.9" font-size="22.0" textLength="13.2" lengthAdjust="spacingAndGlyphs">3</text>
<text x="2005.3" y="2130.5" font-size="22.0" textLength="14.7" lengthAdjust="spacingAndGlyphs">0</text>
<text x="2006.0" y="2164.9" font-size="22.0" textLength="13.2" lengthAdjust="spacingAndGlyphs">3</text>
<text x="2131.1" y="2130.5" font-size="22.0" textLength="14.7" lengthAdjust="spacingAndGlyphs">0</text>
<text x="2133.3" y="2164.9" font-size="22.0" textLength="10.4" lengthAdjust="spacingAndGlyphs">1</text>
<text x="-121.3" y="0" font-size="25.8" transform="translate(1510.5 1876.0) rotate(-90)" textLength="242.7" lengthAdjust="spacingAndGlyphs">Survival probability</text>
</g>
<path d="M50.7 1281.5H35.4V1599.3H50.7" stroke="#0f5fa8" stroke-width="4.4" fill="none"/>
<path d="M50.9 1789H35.4V2106.3H50.9" stroke="#fddb1f" stroke-width="4.4" fill="none"/>
<text x="-130.9" y="0" font-size="25.8" transform="translate(20.9 1436.6) rotate(-90)" textLength="261.8" lengthAdjust="spacingAndGlyphs">Tumor compartment</text>
<text x="-141.0" y="0" font-size="25.8" transform="translate(20.9 1933.4) rotate(-90)" textLength="282.0" lengthAdjust="spacingAndGlyphs">Stromal compartment</text>
</g></svg></body></html>
